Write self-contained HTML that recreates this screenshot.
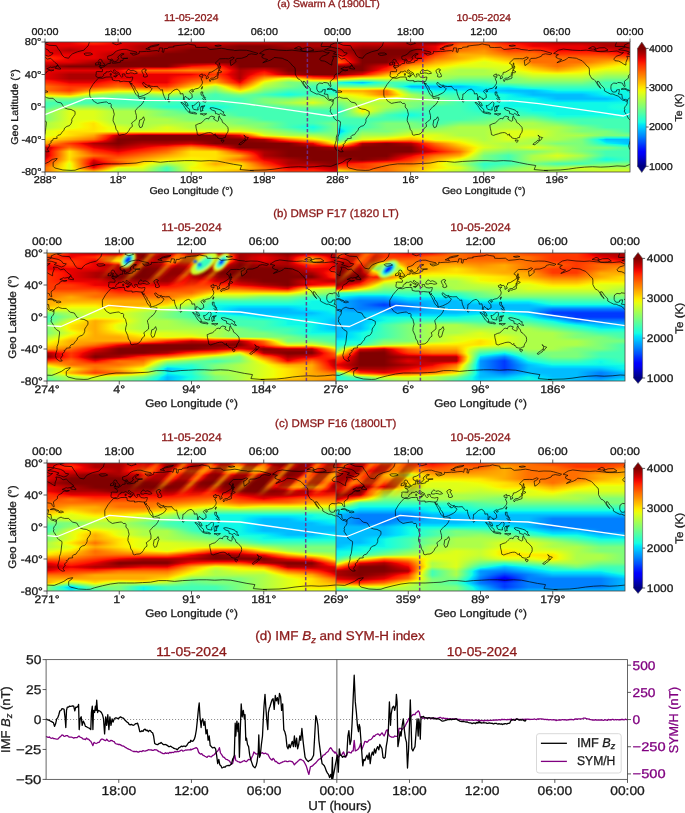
<!DOCTYPE html>
<html><head><meta charset="utf-8"><style>
html,body{margin:0;padding:0;background:#fff}
body{width:685px;height:813px;position:relative;overflow:hidden;font-family:"Liberation Sans",sans-serif}
.hm{position:absolute;overflow:hidden}
.hm i{display:block;height:1px}
svg{position:absolute;left:0;top:0;will-change:transform}
svg text{font-family:"Liberation Sans",sans-serif;text-rendering:geometricPrecision}
</style></head><body>
<div class=hm style="left:45.00px;top:42.00px;width:292.50px;height:130.00px"><i style="background:linear-gradient(90deg,#e80000 0.0px,#e80000 24.4px,#ff1300 33.6px,#ff3000 48.8px,#ff1300 63.9px,#e80000 73.1px,#df0000 97.5px,#ad0000 121.9px,#c40000 146.2px,#df0000 170.6px,#da0000 195.0px,#da0000 219.4px,#ad0000 243.8px,#ad0000 292.5px)"></i><i style="background:linear-gradient(90deg,#e80000 0.0px,#e80000 24.4px,#ff1300 37.3px,#ff2200 48.8px,#ff1300 60.2px,#e80000 73.1px,#d10000 97.5px,#ad0000 121.9px,#bf0000 146.2px,#d10000 170.6px,#bf0000 195.0px,#bf0000 219.4px,#ad0000 243.8px,#ad0000 292.5px)"></i><i style="background:linear-gradient(90deg,#e80000 0.0px,#e80000 24.4px,#ff1300 45.5px,#ff1300 52.0px,#e80000 73.1px,#c40000 97.5px,#ad0000 121.9px,#b60000 146.2px,#c40000 170.6px,#a40000 195.0px,#a40000 219.4px,#ad0000 243.8px,#ad0000 292.5px)"></i><i style="background:linear-gradient(90deg,#e80000 0.0px,#e80000 24.4px,#f10800 48.8px,#e80000 73.1px,#b60000 97.5px,#ad0000 121.9px,#b20000 146.2px,#b60000 170.6px,#8d0000 195.0px,#8d0000 219.4px,#ad0000 243.8px,#ad0000 292.5px)"></i><i style="background:linear-gradient(90deg,#e80000 0.0px,#df0000 24.4px,#e80000 48.8px,#e80000 73.1px,#ad0000 97.5px,#ad0000 121.9px,#a80000 146.2px,#a80000 170.6px,#800000 195.0px,#800000 219.4px,#a80000 243.8px,#a80000 292.5px)"></i><i style="background:linear-gradient(90deg,#e80000 0.0px,#d10000 24.4px,#e80000 48.8px,#e80000 73.1px,#ad0000 97.5px,#ad0000 121.9px,#9b0000 146.2px,#9b0000 170.6px,#800000 195.0px,#800000 219.4px,#9b0000 243.8px,#9b0000 292.5px)"></i><i style="background:linear-gradient(90deg,#e80000 0.0px,#c40000 24.4px,#e80000 48.8px,#e80000 73.1px,#ad0000 97.5px,#ad0000 121.9px,#920000 146.2px,#920000 170.6px,#800000 195.0px,#800000 219.4px,#920000 243.8px,#920000 292.5px)"></i><i style="background:linear-gradient(90deg,#e80000 0.0px,#b60000 24.4px,#e80000 48.8px,#e80000 73.1px,#ad0000 97.5px,#ad0000 121.9px,#840000 146.2px,#840000 170.6px,#800000 195.0px,#800000 219.4px,#840000 243.8px,#840000 292.5px)"></i><i style="background:linear-gradient(90deg,#e80000 0.0px,#b20000 24.4px,#e80000 48.8px,#df0000 73.1px,#ad0000 97.5px,#a80000 121.9px,#800000 146.2px,#800000 292.5px)"></i><i style="background:linear-gradient(90deg,#e80000 0.0px,#bf0000 24.4px,#e80000 48.7px,#e80000 48.8px,#d10000 73.1px,#ad0000 97.5px,#9b0000 121.9px,#800000 146.2px,#800000 292.5px)"></i><i style="background:linear-gradient(90deg,#e80000 0.0px,#cd0000 24.4px,#e80000 48.8px,#c40000 73.1px,#ad0000 97.5px,#920000 121.9px,#800000 146.2px,#800000 292.5px)"></i><i style="background:linear-gradient(90deg,#e80000 0.0px,#da0000 24.4px,#e80000 48.7px,#e80000 48.8px,#b60000 73.1px,#ad0000 97.5px,#840000 121.9px,#800000 146.2px,#800000 292.5px)"></i><i style="background:linear-gradient(90deg,#ed0400 0.0px,#e80000 24.4px,#e80000 48.8px,#ad0000 73.1px,#a80000 97.5px,#800000 121.9px,#800000 292.5px)"></i><i style="background:linear-gradient(90deg,#ff1300 0.0px,#e80000 24.4px,#e80000 48.8px,#ad0000 73.1px,#9b0000 97.5px,#800000 121.9px,#800000 292.5px)"></i><i style="background:linear-gradient(90deg,#ff1e00 0.0px,#ff1300 10.1px,#e80000 24.4px,#e80000 48.8px,#ad0000 73.1px,#920000 97.5px,#800000 121.9px,#800000 292.5px)"></i><i style="background:linear-gradient(90deg,#ff2d00 0.0px,#ff1300 14.4px,#e80000 24.4px,#e80000 48.8px,#ad0000 73.1px,#840000 97.5px,#800000 121.9px,#800000 292.5px)"></i><i style="background:linear-gradient(90deg,#ff3400 0.0px,#ff1300 15.7px,#e80000 24.4px,#e40000 48.8px,#a80000 73.1px,#800000 97.5px,#800000 292.5px)"></i><i style="background:linear-gradient(90deg,#ff2500 0.0px,#ff1300 12.6px,#e80000 24.4px,#d60000 48.8px,#9f0000 73.1px,#800000 97.5px,#800000 292.5px)"></i><i style="background:linear-gradient(90deg,#ff1600 0.0px,#ff1300 6.2px,#e80000 24.4px,#c40000 48.8px,#920000 73.1px,#800000 97.5px,#800000 292.5px)"></i><i style="background:linear-gradient(90deg,#f60b00 0.0px,#e80000 24.4px,#b60000 48.8px,#890000 73.1px,#800000 97.5px,#800000 292.5px)"></i><i style="background:linear-gradient(90deg,#e40000 0.0px,#df0000 24.4px,#a80000 48.8px,#800000 73.1px,#800000 121.9px,#840000 146.2px,#840000 170.6px,#800000 195.0px,#800000 292.5px)"></i><i style="background:linear-gradient(90deg,#d60000 0.0px,#c80000 24.4px,#9f0000 48.8px,#800000 73.1px,#800000 121.9px,#9f0000 146.2px,#b20000 170.6px,#800000 195.0px,#800000 292.5px)"></i><i style="background:linear-gradient(90deg,#c80000 0.0px,#ad0000 24.4px,#920000 48.8px,#800000 73.1px,#800000 121.9px,#bf0000 146.2px,#da0000 170.6px,#800000 195.0px,#800000 292.5px)"></i><i style="background:linear-gradient(90deg,#b60000 0.0px,#920000 24.4px,#890000 48.8px,#800000 73.1px,#800000 121.9px,#df0000 146.2px,#e80000 151.5px,#ff1300 165.3px,#ff1a00 170.6px,#ff1300 172.2px,#e80000 176.4px,#800000 195.0px,#800000 292.5px)"></i><i style="background:linear-gradient(90deg,#ad0000 0.0px,#800000 24.4px,#800000 73.1px,#840000 97.5px,#840000 121.9px,#e80000 141.7px,#fa0f00 146.2px,#ff1300 146.7px,#ff3800 170.6px,#ff1300 177.4px,#e80000 180.6px,#800000 195.0px,#800000 292.5px)"></i><i style="background:linear-gradient(90deg,#bb0000 0.0px,#9b0000 24.4px,#9b0000 73.1px,#bf0000 97.5px,#bf0000 121.9px,#e80000 131.1px,#ff1300 136.9px,#ff3000 146.2px,#ff4700 170.6px,#ff1300 179.5px,#e80000 182.6px,#890000 195.0px,#9b0000 219.4px,#800000 243.8px,#800000 292.5px)"></i><i style="background:linear-gradient(90deg,#c80000 0.0px,#b60000 24.4px,#b60000 73.1px,#e80000 89.8px,#ff1300 97.5px,#ff1300 121.9px,#ff4e00 146.2px,#ff5500 170.6px,#ff1300 181.5px,#e80000 184.5px,#960000 195.0px,#b60000 219.4px,#800000 243.8px,#800000 292.5px)"></i><i style="background:linear-gradient(90deg,#da0000 0.0px,#cd0000 24.4px,#cd0000 73.1px,#e80000 78.6px,#ff1300 83.9px,#ff4300 97.5px,#ff4300 121.9px,#ff6f00 146.2px,#ff6400 170.6px,#ff1300 183.3px,#e80000 186.3px,#9f0000 195.0px,#cd0000 219.4px,#800000 243.8px,#800000 292.5px)"></i><i style="background:linear-gradient(90deg,#e80000 0.0px,#e40000 24.4px,#e40000 48.8px,#e80000 73.1px,#ff1300 77.3px,#ff6f00 97.5px,#ff6f00 121.9px,#ff8900 146.2px,#ff6f00 170.6px,#ff1300 184.9px,#e80000 187.8px,#ad0000 195.0px,#e80000 218.9px,#e80000 219.6px,#800000 243.8px,#800000 292.5px)"></i><i style="background:linear-gradient(90deg,#e80000 0.0px,#d60000 24.4px,#d60000 48.8px,#e80000 73.1px,#ff1300 78.6px,#ff5200 97.5px,#ff5200 121.9px,#ff6800 146.2px,#ff6000 170.6px,#ff1300 183.9px,#e80000 187.1px,#ad0000 195.0px,#e80000 213.6px,#fa0f00 219.4px,#e80000 223.4px,#890000 243.8px,#800000 268.1px,#800000 292.5px)"></i><i style="background:linear-gradient(90deg,#e80000 0.0px,#c80000 24.4px,#c80000 48.8px,#e80000 73.1px,#ff1300 81.4px,#ff3800 97.5px,#ff3800 121.9px,#ff4700 146.2px,#ff5200 170.6px,#ff1300 182.8px,#e80000 186.3px,#ad0000 195.0px,#e80000 210.1px,#ff1300 216.2px,#ff1a00 219.4px,#ff1300 221.9px,#e80000 226.8px,#960000 243.8px,#800000 268.1px,#800000 292.5px)"></i><i style="background:linear-gradient(90deg,#e80000 0.0px,#bb0000 24.4px,#bb0000 48.8px,#e80000 73.1px,#ff1300 89.6px,#ff1a00 97.5px,#ff1a00 121.9px,#ff2500 146.2px,#ff4700 170.6px,#ff1300 181.3px,#e80000 185.2px,#ad0000 195.0px,#e80000 207.8px,#ff1300 212.9px,#ff2900 219.4px,#ff1300 225.2px,#e80000 229.9px,#9f0000 243.8px,#800000 268.1px,#800000 292.5px)"></i><i style="background:linear-gradient(90deg,#e80000 0.0px,#ad0000 24.4px,#ad0000 48.8px,#e80000 73.1px,#e80000 121.9px,#ed0400 146.2px,#ff1300 152.9px,#ff3800 170.6px,#ff1300 179.5px,#e80000 183.9px,#ad0000 195.0px,#e80000 206.1px,#ff1300 210.5px,#ff3800 219.4px,#ff1300 228.2px,#e80000 232.7px,#ad0000 243.8px,#800000 268.1px,#800000 292.5px)"></i><i style="background:linear-gradient(90deg,#e80000 0.0px,#ad0000 24.4px,#ad0000 48.8px,#e80000 73.1px,#e80000 121.9px,#fa0f00 146.2px,#ff1300 146.9px,#ff4700 170.6px,#ff1300 181.3px,#e80000 185.2px,#ad0000 195.0px,#e80000 203.7px,#ff1300 207.2px,#ff5200 219.4px,#ff1e00 243.8px,#ff1300 248.4px,#e80000 255.2px,#bb0000 268.1px,#a80000 292.5px)"></i><i style="background:linear-gradient(90deg,#e80000 0.0px,#ad0000 24.4px,#ad0000 48.8px,#e80000 73.1px,#e80000 121.9px,#ff1300 137.1px,#ff1e00 146.2px,#ff5200 170.6px,#ff1300 182.8px,#e80000 186.3px,#ad0000 195.0px,#e80000 202.2px,#ff1300 205.1px,#ff6f00 219.4px,#ff6f00 243.8px,#ff1300 266.6px,#f60b00 268.1px,#e80000 279.2px,#d10000 292.5px)"></i><i style="background:linear-gradient(90deg,#e80000 0.0px,#ad0000 24.4px,#ad0000 48.8px,#e80000 73.1px,#e80000 121.9px,#ff1300 132.6px,#ff2900 146.2px,#ff6000 170.6px,#ff1300 183.9px,#e80000 187.1px,#ad0000 195.0px,#e80000 201.1px,#ff1300 203.6px,#ff8d00 219.4px,#ffbd00 243.8px,#ff3b00 268.1px,#ff1300 292.5px)"></i><i style="background:linear-gradient(90deg,#e80000 0.0px,#ad0000 24.4px,#ad0000 48.8px,#e80000 73.1px,#e80000 121.9px,#ff1300 130.1px,#ff3800 146.2px,#ff6f00 170.6px,#ff1300 184.9px,#e80000 187.8px,#ad0000 195.0px,#e80000 200.3px,#ff1300 202.5px,#ffa700 219.4px,#feed00 235.8px,#f8f500 238.1px,#eeff09 240.4px,#e4ff13 243.8px,#eeff09 245.9px,#f8f500 247.3px,#feed00 248.8px,#ff6c00 268.1px,#ff3400 292.5px)"></i><i style="background:linear-gradient(90deg,#f60b00 0.0px,#e80000 6.5px,#bb0000 24.4px,#bb0000 48.8px,#e80000 66.7px,#f60b00 73.1px,#e80000 97.5px,#e80000 121.9px,#ff1300 128.5px,#ff4300 146.2px,#ff7e00 170.6px,#ff1300 186.7px,#e80000 189.6px,#bb0000 195.0px,#e80000 198.8px,#ff1300 200.8px,#ffc100 219.4px,#feed00 229.1px,#f8f500 231.2px,#eeff09 233.4px,#c7ff30 243.8px,#eeff09 252.6px,#f8f500 254.5px,#feed00 256.4px,#ffae00 268.1px,#ff8600 292.5px)"></i><i style="background:linear-gradient(90deg,#ff1a00 0.0px,#ff1300 3.8px,#e80000 12.7px,#c80000 24.4px,#c80000 48.8px,#e80000 60.4px,#ff1300 69.3px,#ff1a00 73.1px,#ff1300 80.5px,#e80000 97.5px,#e80000 121.9px,#ff1300 127.4px,#ff5200 146.2px,#ff8d00 170.6px,#ff1300 188.6px,#e80000 191.4px,#c80000 195.0px,#e80000 197.5px,#ff1300 199.4px,#ffdb00 219.4px,#feed00 223.1px,#f8f500 225.2px,#eeff09 227.3px,#b1ff46 243.8px,#eeff09 264.9px,#f8f500 267.7px,#f8f500 268.1px,#feed00 274.6px,#ffd700 292.5px)"></i><i style="background:linear-gradient(90deg,#ff2900 0.0px,#ff1300 10.0px,#e80000 18.5px,#d60000 24.4px,#d60000 48.8px,#e80000 54.6px,#ff1300 63.2px,#ff2900 73.1px,#ff1300 86.3px,#e80000 97.5px,#e80000 121.9px,#ff1300 126.6px,#ff6000 146.2px,#ff9800 170.6px,#ff1300 190.3px,#e80000 193.1px,#d60000 195.0px,#e80000 196.2px,#ff1300 198.0px,#feed00 218.5px,#f8f500 219.4px,#f8f500 219.5px,#eeff09 221.6px,#97ff60 243.8px,#beff39 268.1px,#caff2c 292.5px)"></i><i style="background:linear-gradient(90deg,#ff3400 0.0px,#ff1300 15.6px,#e80000 23.7px,#e40000 24.4px,#e40000 48.8px,#e80000 49.4px,#ff1300 57.5px,#ff3400 73.1px,#ff1300 89.1px,#e80000 97.5px,#e80000 121.9px,#ff1300 126.0px,#ff6f00 146.2px,#ffa700 170.6px,#ff1300 192.1px,#e80000 194.8px,#e40000 195.0px,#e80000 195.1px,#ff1300 196.8px,#feed00 216.3px,#f8f500 217.1px,#eeff09 218.0px,#e1ff16 219.4px,#7dff7a 243.8px,#83ff73 268.1px,#83ff73 292.5px)"></i><i style="background:linear-gradient(90deg,#ff4300 0.0px,#ff1300 21.5px,#f60b00 24.4px,#f60b00 48.8px,#ff1300 51.6px,#ff4300 73.1px,#ff1300 94.6px,#f60b00 97.5px,#f60b00 121.9px,#ff1300 123.3px,#ff8200 146.2px,#ffcc00 170.6px,#ff1600 195.0px,#feed00 214.7px,#f8f500 215.6px,#eeff09 216.5px,#d4ff23 219.4px,#7dff7a 243.8px,#70ff87 268.1px,#70ff87 292.5px)"></i><i style="background:linear-gradient(90deg,#ff5200 0.0px,#ff1a00 24.4px,#ff1a00 48.8px,#ff5200 73.1px,#ff1a00 97.5px,#ff1a00 121.9px,#ff9400 146.2px,#feed00 168.5px,#f8f500 170.6px,#feed00 171.6px,#ff3400 195.0px,#feed00 213.1px,#f8f500 214.0px,#eeff09 214.9px,#c7ff30 219.4px,#7dff7a 243.8px,#60ff97 268.1px,#60ff97 292.5px)"></i><i style="background:linear-gradient(90deg,#ff6000 0.0px,#ff2500 24.4px,#ff2500 48.8px,#ff6000 73.1px,#ff2500 97.5px,#ff2500 121.9px,#ffab00 146.2px,#feed00 160.4px,#f8f500 162.4px,#eeff09 164.5px,#d7ff1f 170.6px,#eeff09 174.1px,#f8f500 175.2px,#feed00 176.3px,#ff4e00 195.0px,#feed00 211.3px,#f8f500 212.2px,#eeff09 213.2px,#baff3c 219.4px,#7dff7a 243.8px,#53ffa4 268.1px,#53ffa4 292.5px)"></i><i style="background:linear-gradient(90deg,#ff6f00 0.0px,#ff3400 24.4px,#ff3400 48.8px,#ff6f00 73.1px,#ff3400 97.5px,#ff3400 121.9px,#ffbd00 146.2px,#feed00 154.7px,#f8f500 156.4px,#eeff09 158.2px,#b4ff43 170.6px,#eeff09 178.3px,#f8f500 179.4px,#feed00 180.5px,#ff6c00 195.0px,#feed00 209.2px,#f8f500 210.2px,#eeff09 211.3px,#b1ff46 219.4px,#7dff7a 243.8px,#43ffb4 268.1px,#43ffb4 292.5px)"></i><i style="background:linear-gradient(90deg,#ff6f00 0.0px,#ff3800 24.4px,#ff4e00 48.8px,#ff8600 73.1px,#ff5900 97.5px,#ff4e00 121.9px,#ffd700 146.2px,#feed00 149.9px,#f8f500 151.8px,#eeff09 153.6px,#a4ff53 170.6px,#eeff09 180.9px,#f8f500 182.0px,#feed00 183.1px,#ff8600 195.0px,#feed00 206.9px,#f8f500 208.0px,#eeff09 209.1px,#a4ff53 219.4px,#70ff87 243.8px,#43ffb4 268.1px,#39ffbe 292.5px)"></i><i style="background:linear-gradient(90deg,#ff6f00 0.0px,#ff3800 24.4px,#ff6c00 48.8px,#ffa300 73.1px,#ff8200 97.5px,#ff6c00 121.9px,#feed00 144.5px,#f8f500 146.1px,#f8f500 146.2px,#eeff09 148.2px,#97ff60 170.6px,#eeff09 183.4px,#f8f500 184.6px,#feed00 185.8px,#ffa300 195.0px,#feed00 204.2px,#f8f500 205.4px,#eeff09 206.6px,#97ff60 219.4px,#63ff94 243.8px,#43ffb4 268.1px,#2cffca 292.5px)"></i><i style="background:linear-gradient(90deg,#ff6f00 0.0px,#ff3800 24.4px,#ff8600 48.8px,#ffc100 73.1px,#ffae00 97.5px,#ff8600 121.9px,#feed00 139.4px,#f8f500 141.1px,#eeff09 142.7px,#deff19 146.2px,#8aff6d 170.6px,#eeff09 186.3px,#f8f500 187.6px,#feed00 188.9px,#ffc100 195.0px,#feed00 201.1px,#f8f500 202.4px,#eeff09 203.7px,#8aff6d 219.4px,#53ffa4 243.8px,#43ffb4 268.1px,#1fffd7 292.5px)"></i><i style="background:linear-gradient(90deg,#ff6f00 0.0px,#ff3800 24.4px,#ffa300 48.8px,#ffdb00 73.1px,#ffd700 97.5px,#ffa300 121.9px,#feed00 134.5px,#f8f500 136.1px,#eeff09 137.7px,#c4ff33 146.2px,#7dff7a 170.6px,#eeff09 189.8px,#f8f500 191.2px,#feed00 192.6px,#ffdb00 195.0px,#feed00 197.4px,#f8f500 198.8px,#eeff09 200.2px,#7dff7a 219.4px,#46ffb1 243.8px,#43ffb4 268.1px,#16ffe1 291.9px,#13fce4 292.5px)"></i><i style="background:linear-gradient(90deg,#ff8600 0.0px,#ff4e00 24.4px,#ffc800 48.8px,#feed00 64.4px,#f8f500 68.5px,#eeff09 72.6px,#eeff09 98.1px,#f8f500 102.1px,#feed00 106.2px,#ffc800 121.9px,#feed00 128.9px,#f8f500 130.7px,#eeff09 132.5px,#b1ff46 146.2px,#70ff87 170.6px,#eeff09 195.0px,#70ff87 219.4px,#39ffbe 243.8px,#43ffb4 268.1px,#19ffde 292.5px)"></i><i style="background:linear-gradient(90deg,#ff9f00 0.0px,#ff6800 24.4px,#feed00 48.2px,#feed00 48.8px,#f8f500 51.5px,#eeff09 55.6px,#caff2c 73.1px,#caff2c 97.5px,#eeff09 115.1px,#f8f500 119.1px,#feed00 121.9px,#f8f500 123.3px,#eeff09 125.5px,#a0ff56 146.2px,#63ff94 170.6px,#caff2c 195.0px,#63ff94 219.4px,#2cffca 243.8px,#43ffb4 268.1px,#26ffd1 292.5px)"></i><i style="background:linear-gradient(90deg,#ffbd00 0.0px,#ff8600 24.4px,#feed00 41.6px,#f8f500 43.2px,#eeff09 44.8px,#dbff1c 48.8px,#aaff4d 73.1px,#aaff4d 97.5px,#dbff1c 121.9px,#8dff6a 146.2px,#53ffa4 170.6px,#aaff4d 195.0px,#53ffa4 219.4px,#1fffd7 243.8px,#43ffb4 268.1px,#33ffc4 292.5px)"></i><i style="background:linear-gradient(90deg,#ffdb00 0.0px,#ff9f00 24.4px,#feed00 36.0px,#f8f500 37.5px,#eeff09 38.9px,#b7ff40 48.8px,#87ff70 73.1px,#87ff70 97.5px,#b7ff40 121.9px,#7dff7a 146.2px,#46ffb1 170.6px,#87ff70 195.0px,#46ffb1 219.4px,#16ffe1 243.6px,#13fce4 243.8px,#16ffe1 243.9px,#43ffb4 268.1px,#3cffba 292.5px)"></i><i style="background:linear-gradient(90deg,#f1fc06 0.0px,#f8f500 4.3px,#feed00 9.2px,#ffd000 24.4px,#feed00 29.3px,#f8f500 30.9px,#eeff09 32.5px,#9aff5d 48.8px,#70ff87 73.1px,#70ff87 97.5px,#9aff5d 121.9px,#6dff8a 146.2px,#43ffb4 170.6px,#70ff87 195.0px,#4dffaa 219.4px,#23ffd4 243.8px,#53ffa4 268.1px,#4dffaa 292.5px)"></i><i style="background:linear-gradient(90deg,#ceff29 0.0px,#ebff0c 24.4px,#80ff77 48.8px,#63ff94 73.1px,#63ff94 97.5px,#80ff77 121.9px,#60ff97 146.2px,#43ffb4 170.6px,#63ff94 195.0px,#5aff9d 219.4px,#3cffba 243.8px,#6dff8a 268.1px,#5aff9d 292.5px)"></i><i style="background:linear-gradient(90deg,#aaff4d 0.0px,#baff3c 24.4px,#66ff90 48.8px,#56ffa0 73.1px,#56ffa0 97.5px,#66ff90 121.9px,#53ffa4 146.2px,#43ffb4 170.6px,#56ffa0 195.0px,#66ff90 219.4px,#56ffa0 243.8px,#8aff6d 268.1px,#66ff90 292.5px)"></i><i style="background:linear-gradient(90deg,#8aff6d 0.0px,#8dff6a 24.4px,#4dffaa 48.8px,#46ffb1 73.1px,#46ffb1 97.5px,#4dffaa 121.9px,#46ffb1 146.2px,#43ffb4 170.6px,#46ffb1 195.0px,#77ff80 219.4px,#70ff87 243.8px,#a4ff53 268.1px,#77ff80 292.5px)"></i><i style="background:linear-gradient(90deg,#73ff83 0.0px,#73ff83 24.4px,#43ffb4 48.8px,#43ffb4 121.9px,#3cffba 146.2px,#43ffb4 170.6px,#43ffb4 195.0px,#7dff7a 219.4px,#83ff73 243.8px,#b4ff43 268.1px,#7dff7a 292.5px)"></i><i style="background:linear-gradient(90deg,#63ff94 0.0px,#63ff94 24.4px,#43ffb4 48.8px,#43ffb4 121.9px,#39ffbe 146.2px,#43ffb4 170.6px,#43ffb4 195.0px,#7dff7a 219.4px,#90ff66 243.8px,#c1ff36 268.1px,#7dff7a 292.5px)"></i><i style="background:linear-gradient(90deg,#56ffa0 0.0px,#56ffa0 24.4px,#43ffb4 48.8px,#43ffb4 121.9px,#33ffc4 146.2px,#43ffb4 170.6px,#43ffb4 195.0px,#7dff7a 219.4px,#9aff5d 243.8px,#ceff29 268.1px,#7dff7a 292.5px)"></i><i style="background:linear-gradient(90deg,#49ffad 0.0px,#49ffad 24.4px,#43ffb4 48.8px,#43ffb4 121.9px,#2cffca 146.2px,#43ffb4 170.6px,#43ffb4 195.0px,#7dff7a 219.4px,#a7ff50 243.8px,#dbff1c 268.1px,#7dff7a 292.5px)"></i><i style="background:linear-gradient(90deg,#43ffb4 0.0px,#4dffaa 24.4px,#4dffaa 48.8px,#46ffb1 73.1px,#46ffb1 97.5px,#40ffb7 121.9px,#29ffce 146.2px,#39ffbe 170.6px,#43ffb4 195.0px,#73ff83 219.4px,#a0ff56 243.8px,#d1ff26 268.1px,#7dff7a 292.5px)"></i><i style="background:linear-gradient(90deg,#43ffb4 0.0px,#60ff97 24.4px,#60ff97 48.8px,#4dffaa 73.1px,#4dffaa 97.5px,#39ffbe 121.9px,#29ffce 146.2px,#30ffc7 170.6px,#43ffb4 195.0px,#66ff90 219.4px,#90ff66 243.8px,#b7ff40 268.1px,#7dff7a 292.5px)"></i><i style="background:linear-gradient(90deg,#43ffb4 0.0px,#77ff80 24.4px,#77ff80 48.8px,#53ffa4 73.1px,#53ffa4 97.5px,#33ffc4 121.9px,#29ffce 146.2px,#23ffd4 170.6px,#43ffb4 195.0px,#56ffa0 219.4px,#7dff7a 243.8px,#a0ff56 268.1px,#7dff7a 292.5px)"></i><i style="background:linear-gradient(90deg,#43ffb4 0.0px,#8aff6d 24.4px,#8aff6d 48.8px,#5aff9d 73.1px,#5aff9d 97.5px,#2cffca 121.9px,#29ffce 146.2px,#16ffe1 170.6px,#43ffb4 195.0px,#49ffad 219.4px,#6aff8d 243.8px,#87ff70 268.1px,#7dff7a 292.5px)"></i><i style="background:linear-gradient(90deg,#49ffad 0.0px,#9dff5a 24.4px,#9dff5a 48.8px,#6aff8d 73.1px,#6aff8d 97.5px,#33ffc4 121.9px,#2cffca 146.2px,#16ffe1 170.6px,#43ffb4 195.0px,#43ffb4 219.4px,#5aff9d 243.8px,#73ff83 268.1px,#73ff83 292.5px)"></i><i style="background:linear-gradient(90deg,#56ffa0 0.0px,#b1ff46 24.4px,#b1ff46 48.8px,#7dff7a 73.1px,#7dff7a 97.5px,#46ffb1 121.9px,#33ffc4 146.2px,#23ffd4 170.6px,#43ffb4 195.0px,#43ffb4 219.4px,#53ffa4 243.8px,#66ff90 268.1px,#66ff90 292.5px)"></i><i style="background:linear-gradient(90deg,#66ff90 0.0px,#c1ff36 24.4px,#c1ff36 48.8px,#90ff66 73.1px,#90ff66 97.5px,#5dff9a 121.9px,#39ffbe 146.2px,#30ffc7 170.6px,#43ffb4 195.0px,#43ffb4 219.4px,#4dffaa 243.8px,#56ffa0 268.1px,#56ffa0 292.5px)"></i><i style="background:linear-gradient(90deg,#73ff83 0.0px,#d4ff23 24.4px,#d4ff23 48.8px,#a0ff56 73.1px,#a0ff56 97.5px,#70ff87 121.9px,#40ffb7 146.2px,#39ffbe 170.6px,#43ffb4 195.0px,#43ffb4 219.4px,#46ffb1 243.8px,#49ffad 268.1px,#49ffad 292.5px)"></i><i style="background:linear-gradient(90deg,#7dff7a 0.0px,#deff19 24.4px,#deff19 48.8px,#adff49 73.1px,#adff49 97.5px,#7dff7a 121.9px,#49ffad 146.2px,#49ffad 170.6px,#43ffb4 195.0px,#43ffb4 292.5px)"></i><i style="background:linear-gradient(90deg,#7dff7a 0.0px,#deff19 24.4px,#deff19 48.8px,#adff49 73.1px,#adff49 97.5px,#7dff7a 121.9px,#56ffa0 146.2px,#56ffa0 170.6px,#43ffb4 195.0px,#43ffb4 292.5px)"></i><i style="background:linear-gradient(90deg,#7dff7a 0.0px,#deff19 24.4px,#deff19 48.8px,#adff49 73.1px,#adff49 97.5px,#7dff7a 121.9px,#63ff94 146.2px,#63ff94 170.6px,#43ffb4 195.0px,#43ffb4 292.5px)"></i><i style="background:linear-gradient(90deg,#7dff7a 0.0px,#deff19 24.4px,#deff19 48.8px,#adff49 73.1px,#adff49 97.5px,#7dff7a 121.9px,#73ff83 146.2px,#73ff83 170.6px,#43ffb4 195.0px,#43ffb4 292.5px)"></i><i style="background:linear-gradient(90deg,#7dff7a 0.0px,#deff19 24.4px,#deff19 48.8px,#adff49 73.1px,#adff49 97.5px,#80ff77 121.9px,#7dff7a 146.2px,#7dff7a 170.6px,#46ffb1 195.0px,#43ffb4 219.4px,#43ffb4 292.5px)"></i><i style="background:linear-gradient(90deg,#7dff7a 0.0px,#deff19 24.4px,#deff19 48.8px,#adff49 73.1px,#adff49 97.5px,#8dff6a 121.9px,#7dff7a 146.2px,#7dff7a 170.6px,#56ffa0 195.0px,#43ffb4 219.4px,#43ffb4 292.5px)"></i><i style="background:linear-gradient(90deg,#7dff7a 0.0px,#deff19 24.4px,#deff19 48.8px,#adff49 73.1px,#adff49 97.5px,#97ff60 121.9px,#7dff7a 146.2px,#7dff7a 170.6px,#63ff94 195.0px,#43ffb4 219.4px,#43ffb4 292.5px)"></i><i style="background:linear-gradient(90deg,#7dff7a 0.0px,#deff19 24.4px,#deff19 48.8px,#adff49 73.1px,#adff49 97.5px,#a4ff53 121.9px,#7dff7a 146.2px,#7dff7a 170.6px,#70ff87 195.0px,#43ffb4 219.4px,#43ffb4 292.5px)"></i><i style="background:linear-gradient(90deg,#80ff77 0.0px,#deff19 24.4px,#e1ff16 48.8px,#adff49 73.1px,#adff49 121.9px,#80ff77 146.2px,#80ff77 170.6px,#7dff7a 195.0px,#46ffb1 219.4px,#43ffb4 243.8px,#43ffb4 268.1px,#46ffb1 292.5px)"></i><i style="background:linear-gradient(90deg,#8aff6d 0.0px,#deff19 24.4px,#ebff0c 48.8px,#adff49 73.1px,#adff49 121.9px,#8aff6d 146.2px,#8aff6d 170.6px,#7dff7a 195.0px,#53ffa4 219.4px,#43ffb4 243.8px,#43ffb4 268.1px,#53ffa4 292.5px)"></i><i style="background:linear-gradient(90deg,#97ff60 0.0px,#deff19 24.4px,#eeff09 41.5px,#f8f500 48.8px,#eeff09 51.1px,#adff49 73.1px,#adff49 121.9px,#97ff60 146.2px,#97ff60 170.6px,#7dff7a 195.0px,#63ff94 219.4px,#43ffb4 243.8px,#43ffb4 268.1px,#63ff94 292.5px)"></i><i style="background:linear-gradient(90deg,#a4ff53 0.0px,#deff19 24.4px,#eeff09 36.3px,#f8f500 42.3px,#feed00 48.3px,#ffea00 48.8px,#feed00 48.9px,#f8f500 51.4px,#eeff09 53.8px,#adff49 73.1px,#adff49 121.9px,#a4ff53 146.2px,#a4ff53 170.6px,#7dff7a 195.0px,#70ff87 219.4px,#43ffb4 243.8px,#43ffb4 268.1px,#70ff87 292.5px)"></i><i style="background:linear-gradient(90deg,#adff49 0.0px,#deff19 24.4px,#eeff09 34.1px,#f8f500 39.0px,#feed00 43.9px,#ffe200 48.8px,#feed00 51.0px,#f8f500 53.3px,#eeff09 55.6px,#b1ff46 73.1px,#adff49 97.5px,#b1ff46 121.9px,#adff49 146.2px,#adff49 170.6px,#7dff7a 195.0px,#7dff7a 219.4px,#43ffb4 243.8px,#40ffb7 268.1px,#7dff7a 292.5px)"></i><i style="background:linear-gradient(90deg,#adff49 0.0px,#deff19 24.4px,#eeff09 34.1px,#f8f500 39.0px,#feed00 43.9px,#ffe200 48.8px,#feed00 51.4px,#f8f500 54.1px,#eeff09 56.7px,#beff39 73.1px,#adff49 97.5px,#beff39 121.9px,#adff49 146.2px,#adff49 170.6px,#8aff6d 195.0px,#7dff7a 219.4px,#43ffb4 243.8px,#33ffc4 268.1px,#7dff7a 292.5px)"></i><i style="background:linear-gradient(90deg,#adff49 0.0px,#deff19 24.4px,#eeff09 34.1px,#f8f500 39.0px,#feed00 43.9px,#ffe200 48.8px,#feed00 51.9px,#f8f500 55.1px,#eeff09 58.3px,#c7ff30 73.1px,#adff49 97.5px,#c7ff30 121.9px,#adff49 146.2px,#adff49 170.6px,#97ff60 195.0px,#7dff7a 219.4px,#43ffb4 243.8px,#26ffd1 268.1px,#7dff7a 292.5px)"></i><i style="background:linear-gradient(90deg,#adff49 0.0px,#deff19 24.4px,#eeff09 34.1px,#f8f500 39.0px,#feed00 43.9px,#ffe200 48.8px,#feed00 52.7px,#f8f500 56.6px,#eeff09 60.5px,#d4ff23 73.1px,#adff49 97.5px,#d4ff23 121.9px,#adff49 146.2px,#adff49 170.6px,#a4ff53 195.0px,#7dff7a 219.4px,#43ffb4 243.8px,#19ffde 268.1px,#7dff7a 292.5px)"></i><i style="background:linear-gradient(90deg,#b1ff46 0.0px,#e1ff16 24.4px,#eeff09 33.4px,#f8f500 38.5px,#feed00 43.6px,#ffe200 48.8px,#feed00 53.6px,#f8f500 58.5px,#eeff09 63.4px,#deff19 73.1px,#b1ff46 97.5px,#deff19 121.9px,#b1ff46 146.2px,#b1ff46 195.0px,#7dff7a 219.4px,#43ffb4 243.8px,#16ffe1 267.2px,#13fce4 268.1px,#16ffe1 268.6px,#7dff7a 292.5px)"></i><i style="background:linear-gradient(90deg,#baff3c 0.0px,#ebff0c 24.4px,#eeff09 28.1px,#f8f500 35.0px,#feed00 41.9px,#ffe200 48.8px,#feed00 53.6px,#f8f500 58.5px,#eeff09 63.4px,#deff19 73.1px,#baff3c 97.5px,#deff19 121.9px,#baff3c 146.2px,#baff3c 195.0px,#8aff6d 219.4px,#53ffa4 243.8px,#1fffd7 268.1px,#7dff7a 292.5px)"></i><i style="background:linear-gradient(90deg,#c7ff30 0.0px,#eeff09 21.3px,#f4f802 24.4px,#f8f500 27.6px,#feed00 38.2px,#ffe200 48.8px,#feed00 53.6px,#f8f500 58.5px,#eeff09 63.4px,#deff19 73.1px,#c7ff30 97.5px,#deff19 121.9px,#c7ff30 146.2px,#c7ff30 195.0px,#97ff60 219.4px,#60ff97 243.8px,#29ffce 268.1px,#7dff7a 292.5px)"></i><i style="background:linear-gradient(90deg,#d4ff23 0.0px,#eeff09 15.4px,#f8f500 20.1px,#feed00 24.4px,#feed00 26.1px,#ffe200 48.8px,#feed00 53.6px,#f8f500 58.5px,#eeff09 63.4px,#deff19 73.1px,#d4ff23 97.5px,#deff19 121.9px,#d4ff23 146.2px,#d4ff23 195.0px,#a4ff53 219.4px,#70ff87 243.8px,#36ffc1 268.1px,#7dff7a 292.5px)"></i><i style="background:linear-gradient(90deg,#deff19 0.0px,#eeff09 9.8px,#f8f500 14.6px,#feed00 19.5px,#ffe200 24.4px,#ffe200 48.8px,#feed00 55.7px,#f8f500 61.6px,#eeff09 67.5px,#e7ff0f 73.1px,#e7ff0f 195.0px,#adff49 219.4px,#7dff7a 243.8px,#46ffb1 268.1px,#7dff7a 292.5px)"></i><i style="background:linear-gradient(90deg,#deff19 0.0px,#eeff09 9.8px,#f8f500 14.6px,#feed00 19.5px,#ffe200 24.4px,#ffd300 48.8px,#ffb900 73.1px,#ffae00 97.5px,#ffae00 170.6px,#ffc400 195.0px,#feed00 202.9px,#f8f500 204.9px,#eeff09 206.9px,#baff3c 219.4px,#8aff6d 243.8px,#60ff97 268.1px,#7dff7a 292.5px)"></i><i style="background:linear-gradient(90deg,#deff19 0.0px,#eeff09 9.8px,#f8f500 14.6px,#feed00 19.5px,#ffe200 24.4px,#ffc400 48.8px,#ff6800 73.1px,#ff5500 97.5px,#ff5500 170.6px,#ff8200 195.0px,#feed00 210.1px,#f8f500 211.5px,#eeff09 212.8px,#c7ff30 219.4px,#97ff60 243.8px,#7aff7d 268.1px,#7dff7a 292.5px)"></i><i style="background:linear-gradient(90deg,#deff19 0.0px,#eeff09 9.8px,#f8f500 14.6px,#feed00 19.5px,#ffe200 24.4px,#ffb600 48.8px,#ff1a00 73.1px,#ff1300 79.8px,#e80000 95.7px,#e40000 97.5px,#e40000 170.6px,#e80000 171.4px,#ff1300 178.5px,#ff3f00 195.0px,#feed00 213.8px,#f8f500 214.9px,#eeff09 215.9px,#d4ff23 219.4px,#a0ff56 243.8px,#94ff63 268.1px,#7dff7a 292.5px)"></i><i style="background:linear-gradient(90deg,#deff19 0.0px,#eeff09 9.3px,#f8f500 14.2px,#feed00 19.1px,#ffe200 24.4px,#ffa700 48.8px,#ff1300 65.6px,#e80000 67.8px,#ad0000 73.1px,#800000 97.5px,#800000 170.6px,#e40000 195.0px,#e80000 195.1px,#ff1300 196.8px,#feed00 216.4px,#f8f500 217.3px,#eeff09 218.1px,#e4ff13 219.4px,#b1ff46 243.8px,#adff49 268.1px,#7dff7a 292.5px)"></i><i style="background:linear-gradient(90deg,#ebff0c 0.0px,#eeff09 3.2px,#f8f500 7.8px,#feed00 12.5px,#ffd300 24.4px,#ff9c00 48.8px,#ff1300 64.4px,#e80000 66.6px,#9f0000 73.1px,#800000 97.5px,#800000 170.6px,#cd0000 195.0px,#e80000 197.6px,#ff1300 199.7px,#ffbd00 219.4px,#feed00 232.8px,#f8f500 235.6px,#eeff09 238.3px,#deff19 243.8px,#c4ff33 268.1px,#8aff6d 292.5px)"></i><i style="background:linear-gradient(90deg,#f4f802 0.0px,#f8f500 2.0px,#feed00 6.5px,#ffc400 24.4px,#ff8d00 48.8px,#ff1300 63.1px,#e80000 65.3px,#960000 73.1px,#800000 97.5px,#800000 170.6px,#b20000 195.0px,#e80000 201.8px,#ff1300 204.8px,#ff6f00 219.4px,#ffdb00 243.8px,#feed00 250.5px,#f8f500 254.5px,#eeff09 258.5px,#dbff1c 268.1px,#94ff63 292.5px)"></i><i style="background:linear-gradient(90deg,#feed00 0.0px,#feed00 1.0px,#ffb600 24.4px,#ff7e00 48.8px,#ff1300 61.8px,#e80000 64.0px,#890000 73.1px,#800000 97.5px,#800000 170.6px,#960000 195.0px,#e80000 211.3px,#ff1300 216.1px,#ff1e00 219.4px,#ffa700 243.8px,#feed00 263.5px,#f8f500 266.2px,#f1fc06 268.1px,#eeff09 268.9px,#a0ff56 292.5px)"></i><i style="background:linear-gradient(90deg,#ffe200 0.0px,#ffab00 24.4px,#ff6f00 48.8px,#ff1300 60.4px,#e80000 62.7px,#800000 73.1px,#800000 195.0px,#ad0000 219.4px,#e80000 226.5px,#ff1300 229.4px,#ff6f00 243.8px,#ffe200 268.1px,#feed00 270.3px,#f8f500 272.6px,#eeff09 274.8px,#adff49 292.5px)"></i><i style="background:linear-gradient(90deg,#ffd300 0.0px,#ff8d00 24.4px,#ff4a00 48.8px,#ff1300 57.2px,#e80000 60.1px,#800000 73.1px,#890000 97.5px,#890000 121.9px,#920000 146.2px,#800000 170.6px,#800000 195.0px,#9f0000 219.4px,#e80000 230.8px,#ff1300 234.6px,#ff3f00 243.8px,#ffab00 268.1px,#feed00 279.0px,#f8f500 280.6px,#eeff09 282.2px,#baff3c 292.5px)"></i><i style="background:linear-gradient(90deg,#ffc400 0.0px,#ff6f00 24.4px,#ff2200 48.8px,#ff1300 51.9px,#e80000 55.8px,#800000 73.1px,#960000 97.5px,#960000 121.9px,#a40000 146.2px,#800000 170.6px,#800000 195.0px,#960000 219.4px,#e80000 239.1px,#fa0f00 243.8px,#ff1300 244.5px,#ff7300 268.1px,#feed00 283.9px,#f8f500 285.1px,#eeff09 286.3px,#c4ff33 292.5px)"></i><i style="background:linear-gradient(90deg,#ffb900 0.0px,#ff5500 24.4px,#ff1300 42.3px,#e80000 47.4px,#df0000 48.8px,#800000 73.1px,#9f0000 97.5px,#9f0000 121.9px,#b60000 146.2px,#800000 170.6px,#800000 195.0px,#890000 219.4px,#bf0000 243.8px,#e80000 252.5px,#ff1300 257.5px,#ff3b00 268.1px,#feed00 286.9px,#f8f500 287.9px,#eeff09 288.9px,#d1ff26 292.5px)"></i><i style="background:linear-gradient(90deg,#ffab00 0.0px,#ff3800 24.4px,#ff1300 33.7px,#e80000 38.2px,#ad0000 48.8px,#800000 73.1px,#ad0000 97.5px,#ad0000 121.9px,#c80000 146.2px,#800000 170.6px,#800000 243.8px,#e80000 267.1px,#e80000 268.1px,#ff1300 269.5px,#feed00 289.0px,#f8f500 289.9px,#eeff09 290.7px,#deff19 292.5px)"></i><i style="background:linear-gradient(90deg,#ff7700 0.0px,#ff4300 24.4px,#ff1300 36.1px,#e80000 40.4px,#bb0000 48.8px,#890000 73.1px,#bb0000 97.5px,#c80000 121.9px,#e80000 136.9px,#f60b00 146.2px,#e80000 151.5px,#a40000 170.6px,#800000 195.0px,#800000 243.8px,#cd0000 268.1px,#e80000 270.3px,#ff1300 272.4px,#ffc800 292.5px)"></i><i style="background:linear-gradient(90deg,#ff4300 0.0px,#ff5200 24.4px,#ff1300 38.9px,#e80000 43.2px,#c80000 48.8px,#920000 73.1px,#c80000 97.5px,#e80000 119.8px,#e80000 121.9px,#ff1300 129.5px,#ff3800 146.2px,#ff1300 158.4px,#e80000 164.8px,#d10000 170.6px,#800000 195.0px,#800000 243.8px,#b60000 268.1px,#e80000 274.3px,#ff1300 277.1px,#ff7700 292.5px)"></i><i style="background:linear-gradient(90deg,#f60b00 0.0px,#ff1300 1.7px,#ff6000 24.4px,#ff1300 41.7px,#e80000 45.9px,#d60000 48.8px,#9f0000 73.1px,#d60000 97.5px,#e80000 105.3px,#ff1300 116.5px,#ff1a00 121.9px,#ff6000 146.2px,#ff1300 170.2px,#fa0f00 170.6px,#e80000 174.8px,#800000 195.0px,#800000 243.8px,#9b0000 268.1px,#e80000 282.6px,#ff1300 287.1px,#ff2900 292.5px)"></i><i style="background:linear-gradient(90deg,#b60000 0.0px,#e80000 6.5px,#ff1300 9.5px,#ff6f00 24.4px,#ff1300 44.4px,#e80000 48.4px,#e40000 48.8px,#a80000 73.1px,#e40000 97.5px,#e80000 98.1px,#ff1300 106.5px,#ff3400 121.9px,#ff8900 146.2px,#ff3400 170.6px,#ff1300 176.6px,#e80000 179.9px,#800000 195.0px,#800000 268.1px,#b60000 292.5px)"></i><i style="background:linear-gradient(90deg,#ad0000 0.0px,#e80000 6.2px,#ff1300 8.7px,#ff8900 24.4px,#ff1300 47.5px,#f60b00 48.8px,#e80000 54.8px,#b60000 73.1px,#e80000 91.5px,#f60b00 97.5px,#ff1300 100.4px,#ff4300 121.9px,#ff9f00 146.2px,#ff5d00 170.6px,#ff1300 182.9px,#e80000 186.0px,#a40000 195.0px,#890000 219.4px,#800000 243.8px,#800000 268.1px,#a40000 292.5px)"></i><i style="background:linear-gradient(90deg,#ad0000 0.0px,#e80000 5.4px,#ff1300 7.6px,#ffa300 24.4px,#ff1a00 48.8px,#ff1300 52.2px,#e80000 61.1px,#c80000 73.1px,#e80000 85.1px,#ff1300 94.1px,#ff1a00 97.5px,#ff5200 121.9px,#ffb600 146.2px,#ff8600 170.6px,#ff1300 188.9px,#e80000 191.9px,#cd0000 195.0px,#920000 219.4px,#800000 243.8px,#800000 268.1px,#960000 292.5px)"></i><i style="background:linear-gradient(90deg,#ad0000 0.0px,#e80000 4.8px,#ff1300 6.7px,#ffc100 24.4px,#ff2500 48.8px,#ff1300 58.3px,#e80000 66.9px,#d60000 73.1px,#e80000 79.4px,#ff1300 87.9px,#ff2500 97.5px,#ff6000 121.9px,#ffc800 146.2px,#ffb200 170.6px,#ff1300 194.5px,#fa0f00 195.0px,#e80000 200.1px,#9f0000 219.4px,#800000 243.8px,#800000 268.1px,#890000 292.5px)"></i><i style="background:linear-gradient(90deg,#ad0000 0.0px,#e80000 4.3px,#ff1300 6.0px,#ffde00 24.4px,#ff3400 48.8px,#ff1300 64.0px,#e80000 72.2px,#e40000 73.1px,#e80000 74.1px,#ff1300 82.3px,#ff3400 97.5px,#ff6f00 121.9px,#ffde00 146.2px,#ffdb00 170.6px,#ff3000 195.0px,#ff1300 202.7px,#e80000 207.3px,#a80000 219.4px,#800000 243.8px,#800000 292.5px)"></i><i style="background:linear-gradient(90deg,#ad0000 0.0px,#e80000 4.2px,#ff1300 5.9px,#ffe200 24.4px,#ff4300 48.8px,#ff1300 69.9px,#f60b00 73.1px,#ff1300 76.4px,#ff4300 97.5px,#ff7a00 121.9px,#ffe200 146.2px,#ffe200 170.6px,#ff4e00 195.0px,#ff1300 206.6px,#e80000 210.3px,#ad0000 219.4px,#800000 243.8px,#800000 292.5px)"></i><i style="background:linear-gradient(90deg,#ad0000 0.0px,#e80000 4.2px,#ff1300 5.9px,#ffe200 24.4px,#ff5200 48.8px,#ff1600 73.1px,#ff5200 97.5px,#ff8900 121.9px,#ffe200 146.2px,#ffe200 170.6px,#ff6c00 195.0px,#ff1300 208.9px,#e80000 211.9px,#ad0000 219.4px,#800000 243.8px,#800000 292.5px)"></i><i style="background:linear-gradient(90deg,#ad0000 0.0px,#e80000 4.2px,#ff1300 5.9px,#ffe200 24.4px,#ff6000 48.8px,#ff2500 73.1px,#ff6000 97.5px,#ff9800 121.9px,#ffe200 146.2px,#ffe200 170.6px,#ff8600 195.0px,#ff1300 210.5px,#e80000 213.1px,#ad0000 219.4px,#800000 243.8px,#800000 292.5px)"></i><i style="background:linear-gradient(90deg,#ad0000 0.0px,#e80000 4.2px,#ff1300 5.9px,#ffe200 24.4px,#ff6c00 48.8px,#ff3400 73.1px,#ff6c00 97.5px,#ffa700 121.9px,#ffe200 146.2px,#ffe200 170.6px,#ffa300 195.0px,#ff1300 211.7px,#e80000 213.9px,#ad0000 219.4px,#800000 243.8px,#800000 292.5px)"></i><i style="background:linear-gradient(90deg,#b60000 0.0px,#e80000 3.5px,#ff1300 5.3px,#ffe200 24.4px,#ff5d00 48.8px,#ff4300 73.1px,#ff7a00 97.5px,#ffb200 121.9px,#ffe600 146.2px,#ffe200 170.6px,#ff9f00 195.0px,#ff1300 212.3px,#e80000 214.6px,#b60000 219.4px,#840000 243.8px,#800000 268.1px,#800000 292.5px)"></i><i style="background:linear-gradient(90deg,#c40000 0.0px,#e80000 2.6px,#ff1300 4.4px,#ffe200 24.4px,#ff3f00 48.8px,#ff5200 73.1px,#ff8900 97.5px,#ffc100 121.9px,#feed00 145.8px,#feed00 148.0px,#ffe200 170.6px,#ff9100 195.0px,#ff1300 212.9px,#e80000 215.6px,#c40000 219.4px,#920000 243.8px,#800000 268.1px,#800000 292.5px)"></i><i style="background:linear-gradient(90deg,#d10000 0.0px,#e80000 1.5px,#ff1300 3.4px,#ffe200 24.4px,#ff2200 48.8px,#ff5d00 73.1px,#ff9800 97.5px,#ffd000 121.9px,#feed00 141.6px,#fbf100 146.2px,#feed00 156.2px,#ffe200 170.6px,#ff8200 195.0px,#ff1300 213.7px,#e80000 216.8px,#d10000 219.4px,#9b0000 243.8px,#800000 268.1px,#800000 292.5px)"></i><i style="background:linear-gradient(90deg,#e40000 0.0px,#e80000 0.4px,#ff1300 2.4px,#ffe200 24.4px,#ff1300 47.6px,#f10800 48.8px,#ff1300 51.2px,#ff6c00 73.1px,#ffa300 97.5px,#ffde00 121.9px,#feed00 134.7px,#f8f500 143.5px,#f4f802 146.2px,#f8f500 149.5px,#feed00 160.1px,#ffe200 170.6px,#ff7300 195.0px,#ff1300 214.9px,#e80000 218.6px,#e40000 219.4px,#a80000 243.8px,#800000 268.1px,#800000 292.5px)"></i><i style="background:linear-gradient(90deg,#f10800 0.0px,#ff1300 1.0px,#ffea00 24.4px,#ff1300 46.0px,#e80000 47.9px,#da0000 48.8px,#e80000 50.5px,#ff1300 54.6px,#ff6800 73.1px,#ffb200 97.5px,#feed00 118.8px,#f8f500 121.9px,#f8f500 124.8px,#eeff09 146.1px,#eeff09 146.3px,#f8f500 152.4px,#feed00 158.4px,#ffd700 170.6px,#ff8200 195.0px,#ff1300 217.5px,#f10800 219.4px,#e80000 223.5px,#ad0000 243.8px,#840000 268.1px,#800000 292.5px)"></i><i style="background:linear-gradient(90deg,#ff1600 0.0px,#feed00 23.3px,#f8f500 24.3px,#f8f500 24.4px,#feed00 25.3px,#ff1300 45.2px,#e80000 47.0px,#cd0000 48.8px,#e80000 53.1px,#ff1300 57.3px,#ff5900 73.1px,#ffc100 97.5px,#feed00 111.1px,#f8f500 114.1px,#eeff09 117.1px,#e1ff16 121.9px,#e7ff0f 146.2px,#eeff09 149.2px,#f8f500 153.1px,#feed00 157.0px,#ffcc00 170.6px,#ff9f00 195.0px,#ff1600 219.4px,#ff1300 221.0px,#e80000 227.5px,#ad0000 243.8px,#920000 268.1px,#800000 292.5px)"></i><i style="background:linear-gradient(90deg,#ff2500 0.0px,#feed00 22.0px,#f8f500 23.0px,#eeff09 24.1px,#eeff09 24.6px,#f8f500 25.4px,#feed00 26.2px,#ff1300 44.5px,#e80000 46.1px,#bf0000 48.8px,#e80000 55.9px,#ff1300 60.2px,#ff4a00 73.1px,#ffd000 97.5px,#feed00 105.4px,#f8f500 108.1px,#eeff09 110.7px,#caff2c 121.9px,#e4ff13 146.2px,#eeff09 150.5px,#f8f500 153.4px,#feed00 156.3px,#ffbd00 170.6px,#ffbd00 195.0px,#ff2500 219.4px,#ff1300 224.7px,#e80000 230.2px,#ad0000 243.8px,#9b0000 268.1px,#800000 292.5px)"></i><i style="background:linear-gradient(90deg,#ff3000 0.0px,#feed00 20.6px,#f8f500 21.7px,#eeff09 22.8px,#e1ff16 24.4px,#eeff09 25.5px,#f8f500 26.2px,#feed00 27.0px,#ff1300 43.9px,#e80000 45.4px,#b20000 48.8px,#e80000 58.7px,#ff1300 63.1px,#ff3b00 73.1px,#ffde00 97.5px,#feed00 101.1px,#f8f500 103.4px,#eeff09 105.7px,#b4ff43 121.9px,#deff19 146.2px,#eeff09 151.3px,#f8f500 153.6px,#feed00 155.9px,#ffae00 170.6px,#ffd700 195.0px,#ff3000 219.4px,#ff1300 227.4px,#e80000 232.1px,#ad0000 243.8px,#a80000 268.1px,#800000 292.5px)"></i><i style="background:linear-gradient(90deg,#ff3f00 0.0px,#feed00 20.0px,#f8f500 21.1px,#eeff09 22.2px,#deff19 24.4px,#eeff09 25.8px,#f8f500 26.6px,#feed00 27.3px,#ff1300 44.2px,#e80000 45.6px,#b60000 48.8px,#e80000 56.2px,#ff1300 59.8px,#ff5900 73.1px,#ffea00 97.5px,#feed00 98.0px,#f8f500 100.0px,#eeff09 101.9px,#9dff5a 121.9px,#deff19 146.2px,#eeff09 151.2px,#f8f500 153.6px,#feed00 156.0px,#ffb200 170.6px,#ffe200 195.0px,#ff3f00 219.4px,#ff1300 230.1px,#e80000 234.5px,#b60000 243.8px,#b60000 268.1px,#840000 292.5px)"></i><i style="background:linear-gradient(90deg,#ff4e00 0.0px,#feed00 19.6px,#f8f500 20.8px,#eeff09 22.0px,#deff19 24.4px,#eeff09 25.9px,#f8f500 26.7px,#feed00 27.4px,#ff1300 44.9px,#e80000 46.5px,#c40000 48.8px,#e80000 52.8px,#ff1300 55.4px,#ff8d00 73.1px,#feed00 95.2px,#f8f500 97.5px,#eeff09 99.2px,#83ff73 121.9px,#e4ff13 146.2px,#eeff09 150.3px,#f8f500 153.3px,#feed00 156.4px,#ffc100 170.6px,#ffe200 195.0px,#ff4e00 219.4px,#ff1300 233.1px,#e80000 237.3px,#c40000 243.8px,#c40000 268.1px,#920000 292.5px)"></i><i style="background:linear-gradient(90deg,#ff5d00 0.0px,#feed00 19.3px,#f8f500 20.6px,#eeff09 21.8px,#deff19 24.4px,#eeff09 26.0px,#f8f500 26.8px,#feed00 27.5px,#ff1300 45.8px,#e80000 47.3px,#d10000 48.8px,#e80000 50.7px,#ff1300 52.8px,#ffc400 73.1px,#feed00 89.0px,#f8f500 92.8px,#eeff09 96.6px,#eeff09 97.5px,#66ff90 121.9px,#ebff0c 146.2px,#eeff09 148.7px,#f8f500 152.9px,#feed00 157.2px,#ffd000 170.6px,#ffe200 195.0px,#ff5d00 219.4px,#ff1300 235.9px,#e80000 240.0px,#d10000 243.8px,#d10000 268.1px,#9b0000 292.5px)"></i><i style="background:linear-gradient(90deg,#ff6c00 0.0px,#feed00 18.8px,#f8f500 20.2px,#eeff09 21.6px,#deff19 24.4px,#eeff09 26.0px,#f8f500 26.9px,#feed00 27.7px,#ff1300 46.7px,#e80000 48.3px,#df0000 48.8px,#e80000 49.2px,#ff1300 51.0px,#feed00 71.8px,#f8f500 72.7px,#f4f802 73.1px,#eeff09 79.1px,#e4ff13 97.5px,#4dffaa 121.9px,#eeff09 146.0px,#f1fc06 146.2px,#f8f500 152.0px,#feed00 159.1px,#ffdb00 170.6px,#ffe200 195.0px,#ff6c00 219.4px,#ff1300 238.5px,#e80000 242.6px,#df0000 243.8px,#df0000 268.1px,#a80000 292.5px)"></i><i style="background:linear-gradient(90deg,#ff6f00 0.0px,#feed00 18.6px,#f8f500 20.1px,#eeff09 21.5px,#deff19 24.4px,#eeff09 26.3px,#f8f500 27.2px,#feed00 28.2px,#ff1e00 48.8px,#feed00 68.7px,#f8f500 69.6px,#eeff09 70.5px,#d7ff1f 73.1px,#d7ff1f 97.5px,#43ffb4 121.9px,#eeff09 146.2px,#f8f500 154.3px,#feed00 162.5px,#ffe200 170.6px,#ffdb00 195.0px,#ff6f00 219.4px,#ff1300 241.2px,#f10800 243.8px,#f10800 268.1px,#e80000 272.1px,#b60000 292.5px)"></i><i style="background:linear-gradient(90deg,#ff6f00 0.0px,#feed00 18.6px,#f8f500 20.1px,#eeff09 21.5px,#deff19 24.4px,#eeff09 26.8px,#f8f500 28.1px,#feed00 29.3px,#ff5500 48.8px,#feed00 66.2px,#f8f500 67.3px,#eeff09 68.4px,#caff2c 73.1px,#caff2c 97.5px,#43ffb4 121.9px,#e7ff0f 146.2px,#eeff09 151.6px,#f8f500 157.9px,#feed00 164.3px,#ffe200 170.6px,#ffcc00 195.0px,#ff6f00 219.4px,#ff1300 243.8px,#ff1300 269.5px,#e80000 278.6px,#c40000 292.5px)"></i><i style="background:linear-gradient(90deg,#ff6f00 0.0px,#feed00 18.6px,#f8f500 20.1px,#eeff09 21.5px,#deff19 24.4px,#eeff09 27.9px,#f8f500 29.7px,#feed00 31.4px,#ff8d00 48.8px,#feed00 62.4px,#f8f500 63.8px,#eeff09 65.1px,#c1ff36 73.1px,#c1ff36 97.5px,#43ffb4 121.9px,#e1ff16 146.2px,#eeff09 155.1px,#f8f500 160.3px,#feed00 165.4px,#ffe200 170.6px,#ffbd00 195.0px,#ff6f00 219.4px,#ff2200 243.8px,#ff2200 268.1px,#ff1300 275.9px,#e80000 284.5px,#d10000 292.5px)"></i><i style="background:linear-gradient(90deg,#ff6f00 0.0px,#feed00 18.6px,#f8f500 20.1px,#eeff09 21.5px,#deff19 24.4px,#eeff09 30.5px,#f8f500 33.6px,#feed00 36.6px,#ffc400 48.8px,#feed00 56.0px,#f8f500 57.9px,#eeff09 59.7px,#b4ff43 73.1px,#b4ff43 97.5px,#43ffb4 121.9px,#dbff1c 146.2px,#eeff09 157.5px,#f8f500 161.9px,#feed00 166.2px,#ffe200 170.6px,#ffb200 195.0px,#ff6f00 219.4px,#ff3000 243.8px,#ff3000 268.1px,#ff1300 281.7px,#e80000 289.9px,#df0000 292.5px)"></i></div><div class=hm style="left:337.50px;top:42.00px;width:292.50px;height:130.00px"><i style="background:linear-gradient(90deg,#e80000 0.0px,#df0000 24.4px,#df0000 48.8px,#ad0000 73.1px,#890000 97.5px,#e80000 110.6px,#ff1300 114.0px,#ff3f00 121.9px,#ff5900 146.2px,#ff1300 167.1px,#ed0400 170.6px,#e80000 195.0px,#b20000 219.4px,#b20000 243.8px,#ad0000 268.1px,#ad0000 292.5px)"></i><i style="background:linear-gradient(90deg,#e80000 0.0px,#d10000 24.4px,#d10000 48.8px,#ad0000 73.1px,#a40000 97.5px,#e80000 107.5px,#ff1300 111.0px,#ff4e00 121.9px,#ff5d00 146.2px,#ff1300 170.6px,#ff1300 173.0px,#e80000 195.0px,#bf0000 219.4px,#bf0000 243.8px,#ad0000 268.1px,#ad0000 292.5px)"></i><i style="background:linear-gradient(90deg,#e80000 0.0px,#c40000 24.4px,#c40000 48.8px,#ad0000 73.1px,#bf0000 97.5px,#e80000 103.9px,#ff1300 107.6px,#ff5900 121.9px,#ff6400 146.2px,#ff2200 170.6px,#ff1300 181.8px,#e80000 195.0px,#d10000 219.4px,#d10000 243.8px,#ad0000 268.1px,#ad0000 292.5px)"></i><i style="background:linear-gradient(90deg,#e80000 0.0px,#b60000 24.4px,#b60000 48.8px,#ad0000 73.1px,#d60000 97.5px,#e80000 99.9px,#ff1300 103.9px,#ff6800 121.9px,#ff6c00 146.2px,#ff3000 170.6px,#ff1300 185.6px,#e80000 195.0px,#df0000 219.4px,#df0000 243.8px,#ad0000 268.1px,#ad0000 292.5px)"></i><i style="background:linear-gradient(90deg,#df0000 0.0px,#a80000 24.4px,#a80000 73.1px,#e80000 97.5px,#ff1300 101.6px,#ff6f00 121.9px,#ff7300 146.2px,#ff3800 170.6px,#ff1300 188.8px,#ed0400 195.0px,#e80000 219.4px,#e80000 243.8px,#b20000 268.1px,#ad0000 292.5px)"></i><i style="background:linear-gradient(90deg,#d10000 0.0px,#9b0000 24.4px,#9b0000 73.1px,#e80000 97.5px,#ff1300 101.6px,#ff6f00 121.9px,#ff7a00 146.2px,#ff3800 170.6px,#ff1300 195.0px,#ff1300 196.4px,#e80000 219.4px,#e80000 243.8px,#bf0000 268.1px,#ad0000 292.5px)"></i><i style="background:linear-gradient(90deg,#c40000 0.0px,#920000 24.4px,#920000 73.1px,#e80000 97.5px,#ff1300 101.6px,#ff6f00 121.9px,#ff8200 146.2px,#ff3800 170.6px,#ff2200 195.0px,#ff1300 205.8px,#e80000 219.4px,#e80000 243.8px,#cd0000 268.1px,#ad0000 292.5px)"></i><i style="background:linear-gradient(90deg,#b60000 0.0px,#840000 24.4px,#840000 73.1px,#e80000 97.5px,#ff1300 101.6px,#ff6f00 121.9px,#ff8900 146.2px,#ff3800 170.6px,#ff3000 195.0px,#ff1300 209.8px,#e80000 219.4px,#e80000 243.8px,#df0000 268.1px,#ad0000 292.5px)"></i><i style="background:linear-gradient(90deg,#b20000 0.0px,#800000 24.4px,#800000 73.1px,#e80000 96.1px,#ed0400 97.5px,#ff1300 100.4px,#ff7700 121.9px,#ff9100 146.2px,#ff3b00 170.6px,#ff3b00 195.0px,#ff1300 213.5px,#ed0400 219.4px,#ed0400 268.1px,#e80000 270.8px,#b20000 292.5px)"></i><i style="background:linear-gradient(90deg,#bf0000 0.0px,#800000 24.4px,#800000 73.1px,#e80000 93.0px,#ff1300 97.4px,#ff1300 97.5px,#ff8200 121.9px,#ff9800 146.2px,#ff4a00 170.6px,#ff4a00 195.0px,#ff1300 219.4px,#ff1300 268.3px,#e80000 277.4px,#bf0000 292.5px)"></i><i style="background:linear-gradient(90deg,#cd0000 0.0px,#800000 24.4px,#800000 73.1px,#e80000 90.7px,#ff1300 94.6px,#ff2200 97.5px,#ff9100 121.9px,#ff9c00 146.2px,#ff5900 170.6px,#ff5900 195.0px,#ff2200 219.4px,#ff2200 268.1px,#ff1300 274.7px,#e80000 283.4px,#cd0000 292.5px)"></i><i style="background:linear-gradient(90deg,#da0000 0.0px,#800000 24.4px,#800000 73.1px,#e80000 88.8px,#ff1300 92.3px,#ff2d00 97.5px,#ff9f00 121.9px,#ffa300 146.2px,#ff6800 170.6px,#ff6800 195.0px,#ff2d00 219.4px,#ff2d00 268.1px,#ff1300 280.6px,#e80000 289.0px,#da0000 292.5px)"></i><i style="background:linear-gradient(90deg,#ed0400 0.0px,#e80000 1.2px,#800000 24.4px,#800000 73.1px,#e80000 87.1px,#ff1300 90.3px,#ff3b00 97.5px,#ffab00 121.9px,#ffae00 146.2px,#ff7300 170.6px,#ff6f00 195.0px,#ff3b00 219.4px,#ff3b00 268.1px,#ff1300 287.8px,#f10800 292.5px)"></i><i style="background:linear-gradient(90deg,#ff1300 0.0px,#e80000 4.3px,#800000 24.4px,#800000 48.8px,#8d0000 73.1px,#e80000 85.1px,#ff1300 88.2px,#ff4a00 97.5px,#ffab00 121.9px,#ffbd00 146.2px,#ff8200 170.6px,#ff6f00 195.0px,#ff4a00 219.4px,#ff4a00 268.1px,#ff2200 292.5px)"></i><i style="background:linear-gradient(90deg,#ff1e00 0.0px,#ff1300 2.8px,#e80000 6.7px,#800000 24.4px,#800000 48.8px,#960000 73.1px,#e80000 83.3px,#ff1300 86.3px,#ff5900 97.5px,#ffab00 121.9px,#ffc800 146.2px,#ff9100 170.6px,#ff6f00 195.0px,#ff5900 219.4px,#ff5900 268.1px,#ff3f00 292.5px)"></i><i style="background:linear-gradient(90deg,#ff2d00 0.0px,#ff1300 5.1px,#e80000 8.6px,#800000 24.4px,#800000 48.8px,#a40000 73.1px,#e80000 81.5px,#ff1300 84.5px,#ff6400 97.5px,#ffab00 121.9px,#ffd700 146.2px,#ff9f00 170.6px,#ff6f00 195.0px,#ff6400 219.4px,#ff6400 268.1px,#ff5d00 292.5px)"></i><i style="background:linear-gradient(90deg,#ff3b00 0.0px,#ff1300 6.9px,#e80000 10.1px,#800000 24.4px,#800000 48.8px,#b20000 73.1px,#e80000 79.4px,#ff1300 82.4px,#ff7300 97.5px,#ffae00 121.9px,#ffe600 146.2px,#ffae00 170.6px,#ff6f00 195.0px,#ff6f00 243.8px,#ff7300 268.1px,#ff7700 292.5px)"></i><i style="background:linear-gradient(90deg,#ff4a00 0.0px,#ff1300 8.5px,#e80000 11.4px,#800000 24.4px,#800000 48.8px,#d10000 73.1px,#e80000 75.7px,#ff1300 78.8px,#ff8200 97.5px,#ffb900 121.9px,#feed00 143.9px,#fbf100 146.2px,#feed00 148.6px,#ffb900 170.6px,#ff6f00 195.0px,#ff6f00 243.8px,#ff8200 268.1px,#ff9400 292.5px)"></i><i style="background:linear-gradient(90deg,#ff5500 0.0px,#ff1300 9.7px,#e80000 12.4px,#800000 24.4px,#800000 48.8px,#e80000 70.5px,#f10800 73.1px,#ff1300 74.7px,#ff9100 97.5px,#ffc800 121.9px,#feed00 138.3px,#f8f500 142.8px,#f1fc06 146.2px,#f8f500 149.7px,#feed00 154.2px,#ffc800 170.6px,#ff6f00 195.0px,#ff6f00 243.8px,#ff9100 268.1px,#ffae00 292.5px)"></i><i style="background:linear-gradient(90deg,#ff6400 0.0px,#ff1300 10.8px,#e80000 13.3px,#800000 24.4px,#800000 48.8px,#e80000 65.9px,#ff1300 69.7px,#ff2200 73.1px,#ff9f00 97.5px,#ffd700 121.9px,#feed00 132.2px,#f8f500 136.9px,#eeff09 141.6px,#e7ff0f 146.2px,#eeff09 150.9px,#f8f500 155.6px,#feed00 160.3px,#ffd700 170.6px,#ff6f00 195.0px,#ff6f00 243.8px,#ff9f00 268.1px,#ffcc00 292.5px)"></i><i style="background:linear-gradient(90deg,#ff6800 0.0px,#ff1300 11.0px,#e80000 13.4px,#800000 24.4px,#840000 48.8px,#e80000 62.6px,#ff1300 65.8px,#ff3b00 73.1px,#ffab00 97.5px,#ffe600 121.9px,#feed00 125.8px,#f8f500 130.9px,#eeff09 136.0px,#deff19 146.2px,#eeff09 156.5px,#f8f500 161.6px,#feed00 166.7px,#ffe600 170.6px,#ff7300 195.0px,#ff6f00 219.4px,#ff7300 243.8px,#ffab00 268.1px,#ffe600 292.5px)"></i><i style="background:linear-gradient(90deg,#ff3800 0.0px,#ff1300 6.3px,#e80000 9.6px,#800000 24.4px,#9b0000 48.8px,#e80000 58.5px,#ff1300 61.6px,#ff5900 73.1px,#ffb900 97.5px,#feed00 119.9px,#fbf100 121.9px,#f8f500 125.6px,#eeff09 132.5px,#deff19 146.2px,#eeff09 160.0px,#f8f500 166.9px,#fbf100 170.6px,#feed00 171.6px,#ff8200 195.0px,#ff6f00 219.4px,#ff8200 243.8px,#ffb900 268.1px,#feed00 290.5px,#fbf100 292.5px)"></i><i style="background:linear-gradient(90deg,#ed0400 0.0px,#e80000 1.7px,#800000 24.4px,#b60000 48.8px,#e80000 54.8px,#ff1300 57.8px,#ff7300 73.1px,#ffc800 97.5px,#feed00 114.3px,#f8f500 118.8px,#f1fc06 121.9px,#eeff09 125.1px,#deff19 146.2px,#eeff09 167.4px,#f1fc06 170.6px,#f8f500 172.1px,#feed00 174.2px,#ff9100 195.0px,#ff6f00 219.4px,#ff9100 243.8px,#ffc800 268.1px,#feed00 284.9px,#f8f500 289.4px,#f1fc06 292.5px)"></i><i style="background:linear-gradient(90deg,#b20000 0.0px,#800000 24.4px,#d10000 48.8px,#e80000 51.5px,#ff1300 54.3px,#ff9100 73.1px,#ffd700 97.5px,#feed00 108.2px,#f8f500 112.9px,#eeff09 117.6px,#e7ff0f 121.9px,#deff19 146.2px,#e7ff0f 170.6px,#eeff09 172.6px,#f8f500 174.8px,#feed00 177.0px,#ff9c00 195.0px,#ff6f00 219.4px,#ff9c00 243.8px,#ffd700 268.1px,#feed00 278.8px,#f8f500 283.5px,#eeff09 288.2px,#e7ff0f 292.5px)"></i><i style="background:linear-gradient(90deg,#800000 0.0px,#800000 24.4px,#e80000 48.3px,#e80000 48.8px,#ff1300 51.2px,#ffab00 73.1px,#ffe200 97.5px,#feed00 101.6px,#f8f500 106.4px,#eeff09 111.3px,#deff19 121.9px,#deff19 170.6px,#eeff09 175.1px,#f8f500 177.4px,#feed00 179.6px,#ffab00 195.0px,#ff7300 219.4px,#ffab00 243.8px,#ffe200 268.1px,#feed00 272.4px,#f8f500 277.4px,#eeff09 282.4px,#deff19 292.5px)"></i><i style="background:linear-gradient(90deg,#800000 0.0px,#800000 24.4px,#e80000 45.0px,#fa0f00 48.8px,#ff1300 49.2px,#ffb900 73.1px,#feed00 95.9px,#fbf100 97.5px,#f8f500 100.3px,#eeff09 105.0px,#d1ff26 121.9px,#d1ff26 146.2px,#deff19 170.6px,#eeff09 175.8px,#f8f500 178.5px,#feed00 181.1px,#ffb900 195.0px,#ff8200 219.4px,#ffb900 243.8px,#feed00 266.5px,#fbf100 268.1px,#f8f500 272.3px,#eeff09 279.0px,#deff19 292.5px)"></i><i style="background:linear-gradient(90deg,#800000 0.0px,#800000 24.4px,#e80000 42.4px,#ff1300 46.5px,#ff1e00 48.8px,#ffc800 73.1px,#feed00 90.3px,#f8f500 94.8px,#f1fc06 97.5px,#eeff09 99.2px,#c4ff33 121.9px,#c4ff33 146.2px,#deff19 170.6px,#eeff09 176.8px,#f8f500 179.9px,#feed00 183.0px,#ffc800 195.0px,#ff8d00 219.4px,#ffc800 243.8px,#feed00 260.9px,#f8f500 265.4px,#f1fc06 268.1px,#eeff09 272.1px,#deff19 292.5px)"></i><i style="background:linear-gradient(90deg,#800000 0.0px,#800000 24.4px,#e80000 40.5px,#ff1300 44.1px,#ff2900 48.8px,#ffd300 73.1px,#feed00 84.2px,#f8f500 88.9px,#eeff09 93.6px,#e7ff0f 97.5px,#b7ff40 121.9px,#b7ff40 146.2px,#deff19 170.6px,#eeff09 178.3px,#f8f500 182.1px,#feed00 185.9px,#ffd300 195.0px,#ff9c00 219.4px,#ffd300 243.8px,#feed00 254.9px,#f8f500 259.5px,#eeff09 264.2px,#e7ff0f 268.1px,#deff19 292.5px)"></i><i style="background:linear-gradient(90deg,#800000 0.0px,#800000 24.4px,#e80000 38.7px,#ff1300 42.0px,#ff3800 48.8px,#ffe200 73.1px,#feed00 77.6px,#f8f500 82.5px,#eeff09 87.3px,#deff19 97.5px,#adff49 121.9px,#adff49 146.2px,#deff19 170.6px,#eeff09 180.8px,#f8f500 185.7px,#feed00 190.5px,#ffe200 195.0px,#ffab00 219.4px,#ffe200 243.8px,#feed00 248.2px,#f8f500 253.1px,#eeff09 258.0px,#deff19 268.1px,#deff19 292.5px)"></i><i style="background:linear-gradient(90deg,#800000 0.0px,#9b0000 24.4px,#e80000 34.6px,#ff1300 37.7px,#ff5500 48.8px,#feed00 72.7px,#feed00 73.1px,#f8f500 76.3px,#eeff09 81.0px,#d1ff26 97.5px,#adff49 121.9px,#adff49 146.2px,#d1ff26 170.6px,#eeff09 187.2px,#f8f500 191.8px,#feed00 195.0px,#feed00 196.7px,#ffc400 219.4px,#feed00 242.1px,#feed00 243.8px,#f8f500 247.0px,#eeff09 251.6px,#d1ff26 268.1px,#d1ff26 292.5px)"></i><i style="background:linear-gradient(90deg,#800000 0.0px,#b20000 24.4px,#e80000 30.9px,#ff1300 33.9px,#ff6f00 48.8px,#feed00 70.5px,#f8f500 72.2px,#f4f802 73.1px,#eeff09 75.2px,#c4ff33 97.5px,#adff49 121.9px,#adff49 146.2px,#c4ff33 170.6px,#eeff09 193.0px,#f4f802 195.0px,#f8f500 199.4px,#feed00 207.7px,#ffde00 219.4px,#feed00 231.1px,#f8f500 239.3px,#f4f802 243.8px,#eeff09 245.8px,#c4ff33 268.1px,#c4ff33 292.5px)"></i><i style="background:linear-gradient(90deg,#800000 0.0px,#cd0000 24.4px,#e80000 27.5px,#ff1300 30.3px,#ff8d00 48.8px,#feed00 67.8px,#f8f500 69.7px,#eeff09 71.7px,#e7ff0f 73.1px,#baff3c 97.5px,#adff49 121.9px,#adff49 146.2px,#baff3c 170.6px,#e7ff0f 195.0px,#eeff09 207.7px,#f4f802 219.4px,#eeff09 231.1px,#e7ff0f 243.8px,#baff3c 268.1px,#baff3c 292.5px)"></i><i style="background:linear-gradient(90deg,#800000 0.0px,#e80000 24.4px,#ff1300 27.1px,#ffab00 48.8px,#feed00 64.3px,#f8f500 66.5px,#eeff09 68.7px,#deff19 73.1px,#adff49 97.5px,#adff49 170.6px,#deff19 195.0px,#deff19 243.8px,#adff49 268.1px,#adff49 292.5px)"></i><i style="background:linear-gradient(90deg,#cd0000 0.0px,#e80000 6.0px,#ff1300 11.2px,#ff4300 24.4px,#ffc400 48.8px,#feed00 59.5px,#f8f500 62.0px,#eeff09 64.4px,#d1ff26 73.1px,#adff49 97.5px,#a0ff56 121.9px,#a0ff56 170.6px,#d1ff26 195.0px,#d1ff26 243.8px,#a0ff56 268.1px,#a0ff56 292.5px)"></i><i style="background:linear-gradient(90deg,#ff2900 0.0px,#ff8600 24.4px,#ffdb00 48.8px,#feed00 53.3px,#f8f500 56.1px,#eeff09 59.0px,#c7ff30 73.1px,#adff49 97.5px,#94ff63 121.9px,#94ff63 170.6px,#c7ff30 195.0px,#c7ff30 243.8px,#94ff63 268.1px,#94ff63 292.5px)"></i><i style="background:linear-gradient(90deg,#ff6800 0.0px,#ffc800 24.4px,#feed00 42.9px,#f8f500 48.1px,#f8f500 48.8px,#eeff09 51.7px,#baff3c 73.1px,#adff49 97.5px,#8aff6d 121.9px,#8aff6d 170.6px,#baff3c 195.0px,#baff3c 243.8px,#8aff6d 268.1px,#8aff6d 292.5px)"></i><i style="background:linear-gradient(90deg,#ffa700 0.0px,#feed00 16.5px,#f8f500 18.7px,#eeff09 20.9px,#e1ff16 24.4px,#e1ff16 48.8px,#adff49 73.1px,#adff49 97.5px,#7dff7a 121.9px,#7dff7a 170.6px,#adff49 195.0px,#adff49 243.8px,#7dff7a 268.1px,#7dff7a 292.5px)"></i><i style="background:linear-gradient(90deg,#f4f802 0.0px,#eeff09 1.7px,#a4ff53 24.4px,#baff3c 48.8px,#94ff63 73.1px,#94ff63 97.5px,#6dff8a 121.9px,#6dff8a 146.2px,#7dff7a 170.6px,#a0ff56 195.0px,#a0ff56 243.8px,#6dff8a 268.1px,#6dff8a 292.5px)"></i><i style="background:linear-gradient(90deg,#aaff4d 0.0px,#63ff94 24.4px,#94ff63 48.8px,#7aff7d 73.1px,#7aff7d 97.5px,#60ff97 121.9px,#60ff97 146.2px,#7dff7a 170.6px,#97ff60 195.0px,#97ff60 243.8px,#60ff97 268.1px,#60ff97 292.5px)"></i><i style="background:linear-gradient(90deg,#63ff94 0.0px,#26ffd1 24.4px,#6dff8a 48.8px,#60ff97 73.1px,#60ff97 97.5px,#53ffa4 121.9px,#53ffa4 146.2px,#7dff7a 170.6px,#8aff6d 195.0px,#8aff6d 243.8px,#53ffa4 268.1px,#53ffa4 292.5px)"></i><i style="background:linear-gradient(90deg,#19ffde 0.0px,#16ffe1 2.4px,#00e4f8 12.3px,#00dcfe 16.3px,#00c4ff 24.4px,#00dcfe 28.7px,#00e4f8 30.8px,#16ffe1 36.0px,#46ffb1 48.8px,#46ffb1 97.5px,#43ffb4 121.9px,#43ffb4 146.2px,#7dff7a 170.6px,#7dff7a 243.8px,#43ffb4 268.1px,#43ffb4 292.5px)"></i><i style="background:linear-gradient(90deg,#26ffd1 0.0px,#16ffe1 11.9px,#00e4f8 24.4px,#16ffe1 30.6px,#4dffaa 48.8px,#2cffca 73.1px,#2cffca 121.9px,#36ffc1 146.2px,#63ff94 170.6px,#70ff87 195.0px,#70ff87 243.8px,#43ffb4 268.1px,#43ffb4 292.5px)"></i><i style="background:linear-gradient(90deg,#43ffb4 0.0px,#26ffd1 24.4px,#5dff9a 48.8px,#16ffe1 73.0px,#13fce4 73.1px,#13fce4 121.9px,#16ffe1 122.2px,#29ffce 146.2px,#49ffad 170.6px,#60ff97 195.0px,#60ff97 243.8px,#43ffb4 268.1px,#43ffb4 292.5px)"></i><i style="background:linear-gradient(90deg,#5dff9a 0.0px,#4dffaa 24.4px,#6aff8d 48.8px,#16ffe1 67.7px,#00e4f8 72.2px,#00e0fb 73.1px,#00e0fb 121.9px,#00e4f8 124.7px,#16ffe1 139.1px,#1fffd7 146.2px,#30ffc7 170.6px,#53ffa4 195.0px,#53ffa4 243.8px,#43ffb4 268.1px,#43ffb4 292.5px)"></i><i style="background:linear-gradient(90deg,#77ff80 0.0px,#73ff83 24.4px,#7aff7d 48.8px,#16ffe1 65.1px,#00e4f8 68.5px,#00dcfe 69.8px,#00c0ff 73.1px,#00c0ff 121.9px,#00dcfe 132.3px,#00e4f8 136.6px,#13fce4 146.2px,#16ffe1 163.1px,#16ffe1 170.6px,#43ffb4 195.0px,#43ffb4 292.5px)"></i><i style="background:linear-gradient(90deg,#a0ff56 0.0px,#a0ff56 24.4px,#aaff4d 48.8px,#16ffe1 68.7px,#00e4f8 71.4px,#00dcfe 72.5px,#00d4ff 73.1px,#00c8ff 97.5px,#00c8ff 121.9px,#00dcfe 132.3px,#00e4f8 138.1px,#0cf4eb 146.2px,#06ecf1 170.6px,#16ffe1 179.3px,#2cffca 195.0px,#39ffbe 219.4px,#39ffbe 292.5px)"></i><i style="background:linear-gradient(90deg,#d1ff26 0.0px,#d1ff26 24.4px,#e7ff0f 48.8px,#16ffe1 72.1px,#0cf4eb 73.1px,#00e4f8 85.5px,#00dcfe 94.6px,#00d8ff 97.5px,#00d8ff 121.9px,#00dcfe 125.8px,#00e4f8 138.1px,#06ecf1 146.2px,#00e4f8 158.3px,#00dcfe 170.6px,#00e4f8 175.6px,#16ffe1 193.9px,#16ffe1 195.0px,#2cffca 219.4px,#2cffca 292.5px)"></i><i style="background:linear-gradient(90deg,#feed00 0.0px,#feed00 24.8px,#ffc400 48.8px,#feed00 52.0px,#f8f500 52.8px,#eeff09 53.6px,#23ffd4 73.1px,#16ffe1 83.7px,#00e4f8 97.5px,#00e4f8 146.2px,#00dcfe 157.1px,#00d0ff 170.6px,#00dcfe 185.9px,#00e0fb 195.0px,#00e4f8 196.8px,#16ffe1 211.5px,#1fffd7 219.4px,#1fffd7 292.5px)"></i><i style="background:linear-gradient(90deg,#ffb600 0.0px,#ffb600 24.4px,#ff8200 48.8px,#feed00 56.6px,#f8f500 57.3px,#eeff09 58.0px,#3cffba 73.1px,#16ffe1 93.7px,#0cf4eb 97.5px,#0cf4eb 121.9px,#00e4f8 138.1px,#00dcfe 146.2px,#00dcfe 147.8px,#00c0ff 170.6px,#00c4ff 195.0px,#00dcfe 204.8px,#00e4f8 209.1px,#13fce4 219.4px,#13fce4 292.5px)"></i><i style="background:linear-gradient(90deg,#ffbd00 0.0px,#ffb200 24.4px,#ff6f00 48.8px,#feed00 58.2px,#f8f500 58.9px,#eeff09 59.6px,#56ffa0 73.1px,#19ffde 97.5px,#19ffde 121.9px,#16ffe1 126.8px,#00e4f8 146.2px,#00e4f8 147.1px,#00dcfe 155.2px,#00c8ff 170.6px,#00bcff 195.0px,#00dcfe 209.9px,#00e4f8 214.9px,#06ecf1 219.4px,#06ecf1 243.8px,#0ff8e7 268.1px,#0ff8e7 292.5px)"></i><i style="background:linear-gradient(90deg,#ffd700 0.0px,#ffc100 24.4px,#ff6f00 48.8px,#feed00 59.2px,#f8f500 60.0px,#eeff09 60.8px,#70ff87 73.1px,#26ffd1 97.5px,#26ffd1 121.9px,#16ffe1 138.8px,#0cf4eb 146.2px,#00e4f8 159.1px,#00dcfe 167.3px,#00d4ff 170.6px,#00bcff 195.0px,#00dcfe 216.4px,#00e0fb 219.4px,#00e0fb 243.8px,#00e4f8 249.3px,#0ff8e7 268.1px,#0ff8e7 292.5px)"></i><i style="background:linear-gradient(90deg,#fbf100 0.0px,#feed00 3.2px,#ffd000 24.4px,#ff6f00 48.8px,#feed00 60.4px,#f8f500 61.3px,#eeff09 62.2px,#8aff6d 73.1px,#33ffc4 97.5px,#33ffc4 121.9px,#19ffde 146.2px,#16ffe1 150.8px,#00e4f8 170.6px,#00e4f8 171.0px,#00dcfe 177.0px,#00bcff 195.0px,#00d0ff 219.4px,#00d0ff 243.8px,#00dcfe 250.1px,#00e4f8 256.1px,#0ff8e7 268.1px,#0ff8e7 292.5px)"></i><i style="background:linear-gradient(90deg,#e4ff13 0.0px,#eeff09 6.1px,#f8f500 11.4px,#feed00 16.7px,#ffde00 24.4px,#ff6f00 48.8px,#feed00 62.0px,#f8f500 63.0px,#eeff09 64.0px,#a4ff53 73.1px,#3cffba 97.5px,#3cffba 121.9px,#26ffd1 146.2px,#16ffe1 162.8px,#0cf4eb 170.6px,#00e4f8 177.4px,#00dcfe 181.8px,#00bcff 195.0px,#00c0ff 219.4px,#00c0ff 243.8px,#00dcfe 254.9px,#00e4f8 259.3px,#0ff8e7 268.1px,#0ff8e7 292.5px)"></i><i style="background:linear-gradient(90deg,#d7ff1f 0.0px,#eeff09 14.2px,#f8f500 18.9px,#feed00 23.6px,#ffea00 24.4px,#ff8d00 48.8px,#feed00 61.0px,#f8f500 62.2px,#eeff09 63.4px,#adff49 73.1px,#4dffaa 97.5px,#43ffb4 121.9px,#29ffce 146.2px,#16ffe1 166.6px,#0ff8e7 170.6px,#00e4f8 180.4px,#00dcfe 185.3px,#00c4ff 195.0px,#00bcff 219.4px,#00bcff 243.8px,#00dcfe 258.4px,#00e4f8 263.3px,#09f0ee 268.1px,#0ff8e7 292.5px)"></i><i style="background:linear-gradient(90deg,#caff2c 0.0px,#eeff09 20.2px,#f8f500 24.4px,#f8f500 24.6px,#feed00 28.1px,#ffb200 48.8px,#feed00 57.8px,#f8f500 59.4px,#eeff09 60.9px,#adff49 73.1px,#5aff9d 97.5px,#43ffb4 121.9px,#29ffce 146.2px,#16ffe1 166.6px,#0ff8e7 170.6px,#00e4f8 184.5px,#00dcfe 191.5px,#00d4ff 195.0px,#00bcff 219.4px,#00bcff 243.8px,#00dcfe 264.6px,#00e0fb 268.1px,#00e4f8 272.9px,#0ff8e7 292.5px)"></i><i style="background:linear-gradient(90deg,#beff39 0.0px,#eeff09 24.4px,#eeff09 26.2px,#f8f500 32.2px,#feed00 38.2px,#ffdb00 48.8px,#feed00 52.4px,#f8f500 54.5px,#eeff09 56.5px,#adff49 73.1px,#66ff90 97.5px,#43ffb4 121.9px,#29ffce 146.2px,#16ffe1 166.6px,#0ff8e7 170.6px,#00e4f8 194.6px,#00e4f8 195.0px,#00dcfe 201.0px,#00bcff 219.4px,#00bcff 243.8px,#00d0ff 268.1px,#00dcfe 274.1px,#00e4f8 280.2px,#0ff8e7 292.5px)"></i><i style="background:linear-gradient(90deg,#b1ff46 0.0px,#e1ff16 24.4px,#ebff0c 48.8px,#adff49 73.1px,#77ff80 97.5px,#43ffb4 121.9px,#29ffce 146.2px,#16ffe1 166.6px,#0ff8e7 170.6px,#0cf4eb 195.0px,#00e4f8 201.5px,#00dcfe 205.9px,#00bcff 219.4px,#00bcff 243.8px,#00c0ff 268.1px,#00dcfe 279.1px,#00e4f8 283.5px,#0ff8e7 292.5px)"></i><i style="background:linear-gradient(90deg,#a4ff53 0.0px,#d7ff1f 24.4px,#d7ff1f 48.8px,#a4ff53 73.1px,#7dff7a 97.5px,#43ffb4 121.9px,#29ffce 146.2px,#16ffe1 166.6px,#0ff8e7 170.6px,#0ff8e7 195.0px,#00e4f8 204.6px,#00dcfe 209.4px,#00c4ff 219.4px,#00c4ff 268.1px,#00dcfe 278.1px,#00e4f8 282.9px,#0ff8e7 292.5px)"></i><i style="background:linear-gradient(90deg,#9aff5d 0.0px,#caff2c 24.4px,#caff2c 48.8px,#9aff5d 73.1px,#7dff7a 97.5px,#43ffb4 121.9px,#29ffce 146.2px,#16ffe1 166.6px,#0ff8e7 170.6px,#0ff8e7 195.0px,#00e4f8 208.5px,#00dcfe 215.3px,#00d4ff 219.4px,#00d4ff 268.1px,#00dcfe 272.2px,#00e4f8 279.0px,#0ff8e7 292.5px)"></i><i style="background:linear-gradient(90deg,#8dff6a 0.0px,#beff39 24.4px,#beff39 48.8px,#8dff6a 73.1px,#7dff7a 97.5px,#43ffb4 121.9px,#29ffce 146.2px,#16ffe1 166.6px,#0ff8e7 170.6px,#0ff8e7 195.0px,#00e4f8 218.0px,#00e4f8 269.5px,#0ff8e7 292.5px)"></i><i style="background:linear-gradient(90deg,#80ff77 0.0px,#b4ff43 24.4px,#b4ff43 48.8px,#80ff77 73.1px,#7dff7a 97.5px,#43ffb4 121.9px,#29ffce 146.2px,#16ffe1 166.6px,#0ff8e7 170.6px,#0ff8e7 195.0px,#0cf4eb 219.4px,#0cf4eb 268.1px,#0ff8e7 292.5px)"></i><i style="background:linear-gradient(90deg,#73ff83 0.0px,#b4ff43 24.4px,#adff49 48.8px,#7dff7a 73.1px,#73ff83 97.5px,#43ffb4 121.9px,#26ffd1 146.2px,#16ffe1 165.9px,#0ff8e7 170.6px,#0ff8e7 268.1px,#13fce4 292.5px)"></i><i style="background:linear-gradient(90deg,#66ff90 0.0px,#c1ff36 24.4px,#adff49 48.8px,#7dff7a 73.1px,#66ff90 97.5px,#43ffb4 121.9px,#1fffd7 146.2px,#16ffe1 164.0px,#0ff8e7 170.6px,#0ff8e7 268.1px,#16ffe1 278.7px,#19ffde 292.5px)"></i><i style="background:linear-gradient(90deg,#56ffa0 0.0px,#ceff29 24.4px,#adff49 48.8px,#7dff7a 73.1px,#56ffa0 97.5px,#43ffb4 121.9px,#19ffde 146.2px,#16ffe1 159.6px,#0ff8e7 170.6px,#0ff8e7 268.1px,#16ffe1 274.6px,#1fffd7 292.5px)"></i><i style="background:linear-gradient(90deg,#49ffad 0.0px,#d7ff1f 24.4px,#adff49 48.8px,#7dff7a 73.1px,#49ffad 97.5px,#43ffb4 121.9px,#16ffe1 145.7px,#13fce4 146.2px,#0ff8e7 170.6px,#0ff8e7 268.1px,#16ffe1 272.8px,#26ffd1 292.5px)"></i><i style="background:linear-gradient(90deg,#3cffba 0.0px,#e4ff13 24.4px,#a7ff50 48.8px,#73ff83 73.1px,#43ffb4 97.5px,#43ffb4 121.9px,#16ffe1 145.7px,#13fce4 146.2px,#16ffe1 154.9px,#16ffe1 178.5px,#0ff8e7 195.0px,#0ff8e7 268.1px,#16ffe1 272.8px,#26ffd1 292.5px)"></i><i style="background:linear-gradient(90deg,#30ffc7 0.0px,#eeff09 24.4px,#9aff5d 48.8px,#66ff90 73.1px,#43ffb4 97.5px,#43ffb4 121.9px,#19ffde 146.2px,#23ffd4 170.6px,#16ffe1 189.5px,#0ff8e7 195.0px,#0ff8e7 268.1px,#16ffe1 274.6px,#1fffd7 292.5px)"></i><i style="background:linear-gradient(90deg,#23ffd4 0.0px,#eeff09 23.4px,#f8f500 24.3px,#f8f500 24.5px,#eeff09 26.4px,#8dff6a 48.8px,#56ffa0 73.1px,#43ffb4 97.5px,#43ffb4 121.9px,#1fffd7 146.2px,#30ffc7 170.6px,#16ffe1 191.7px,#0ff8e7 195.0px,#0ff8e7 268.1px,#16ffe1 278.7px,#19ffde 292.5px)"></i><i style="background:linear-gradient(90deg,#16ffe1 0.0px,#eeff09 22.4px,#f8f500 23.3px,#feed00 24.1px,#ffea00 24.4px,#feed00 24.9px,#f8f500 26.4px,#eeff09 28.0px,#83ff73 48.8px,#49ffad 73.1px,#43ffb4 97.5px,#43ffb4 121.9px,#26ffd1 146.2px,#39ffbe 170.6px,#16ffe1 192.6px,#0ff8e7 195.0px,#0ff8e7 268.1px,#13fce4 292.5px)"></i><i style="background:linear-gradient(90deg,#16ffe1 0.0px,#eeff09 22.8px,#f8f500 23.7px,#feed00 24.4px,#f8f500 25.6px,#eeff09 27.0px,#77ff80 48.8px,#3cffba 73.1px,#43ffb4 97.5px,#43ffb4 121.9px,#2cffca 146.2px,#43ffb4 170.6px,#16ffe1 195.0px,#16ffe1 200.5px,#0ff8e7 219.4px,#0ff8e7 292.5px)"></i><i style="background:linear-gradient(90deg,#23ffd4 0.0px,#e7ff0f 24.4px,#66ff90 48.8px,#30ffc7 73.1px,#43ffb4 97.5px,#43ffb4 121.9px,#33ffc4 146.2px,#43ffb4 170.6px,#23ffd4 195.0px,#16ffe1 213.6px,#0ff8e7 219.4px,#0ff8e7 292.5px)"></i><i style="background:linear-gradient(90deg,#2cffca 0.0px,#d1ff26 24.4px,#5aff9d 48.8px,#23ffd4 73.1px,#43ffb4 97.5px,#43ffb4 121.9px,#39ffbe 146.2px,#43ffb4 170.6px,#2cffca 195.0px,#16ffe1 216.0px,#0ff8e7 219.4px,#0ff8e7 292.5px)"></i><i style="background:linear-gradient(90deg,#39ffbe 0.0px,#baff3c 24.4px,#49ffad 48.8px,#19ffde 73.1px,#43ffb4 97.5px,#43ffb4 121.9px,#3cffba 146.2px,#43ffb4 170.6px,#39ffbe 195.0px,#16ffe1 217.0px,#0ff8e7 219.4px,#0ff8e7 292.5px)"></i><i style="background:linear-gradient(90deg,#43ffb4 0.0px,#a4ff53 24.4px,#43ffb4 48.8px,#16ffe1 73.1px,#43ffb4 97.5px,#43ffb4 146.2px,#46ffb1 170.6px,#46ffb1 195.0px,#16ffe1 219.4px,#16ffe1 292.5px)"></i><i style="background:linear-gradient(90deg,#43ffb4 0.0px,#8aff6d 24.4px,#43ffb4 48.8px,#1fffd7 73.1px,#43ffb4 97.5px,#43ffb4 121.9px,#4dffaa 146.2px,#56ffa0 170.6px,#56ffa0 195.0px,#1fffd7 219.4px,#1fffd7 292.5px)"></i><i style="background:linear-gradient(90deg,#43ffb4 0.0px,#6dff8a 24.4px,#43ffb4 48.8px,#2cffca 73.1px,#43ffb4 97.5px,#43ffb4 121.9px,#53ffa4 146.2px,#63ff94 170.6px,#63ff94 195.0px,#2cffca 219.4px,#2cffca 292.5px)"></i><i style="background:linear-gradient(90deg,#43ffb4 0.0px,#53ffa4 24.4px,#43ffb4 48.8px,#39ffbe 73.1px,#43ffb4 97.5px,#43ffb4 121.9px,#5aff9d 146.2px,#70ff87 170.6px,#70ff87 195.0px,#39ffbe 219.4px,#39ffbe 292.5px)"></i><i style="background:linear-gradient(90deg,#43ffb4 0.0px,#43ffb4 24.4px,#46ffb1 48.8px,#46ffb1 73.1px,#43ffb4 97.5px,#46ffb1 121.9px,#60ff97 146.2px,#80ff77 170.6px,#80ff77 195.0px,#46ffb1 219.4px,#43ffb4 243.8px,#43ffb4 292.5px)"></i><i style="background:linear-gradient(90deg,#43ffb4 0.0px,#43ffb4 24.4px,#53ffa4 48.8px,#53ffa4 73.1px,#43ffb4 97.5px,#53ffa4 121.9px,#66ff90 146.2px,#8aff6d 170.6px,#8aff6d 195.0px,#53ffa4 219.4px,#43ffb4 243.8px,#43ffb4 292.5px)"></i><i style="background:linear-gradient(90deg,#43ffb4 0.0px,#43ffb4 24.4px,#63ff94 48.8px,#63ff94 73.1px,#43ffb4 97.5px,#63ff94 121.9px,#70ff87 146.2px,#97ff60 170.6px,#97ff60 195.0px,#63ff94 219.4px,#43ffb4 243.8px,#43ffb4 292.5px)"></i><i style="background:linear-gradient(90deg,#43ffb4 0.0px,#43ffb4 24.4px,#70ff87 48.8px,#70ff87 73.1px,#43ffb4 97.5px,#70ff87 121.9px,#77ff80 146.2px,#a4ff53 170.6px,#a4ff53 195.0px,#70ff87 219.4px,#43ffb4 243.8px,#43ffb4 292.5px)"></i><i style="background:linear-gradient(90deg,#40ffb7 0.0px,#43ffb4 24.4px,#7dff7a 48.8px,#7dff7a 73.1px,#46ffb1 97.5px,#7dff7a 121.9px,#7dff7a 146.2px,#adff49 170.6px,#adff49 195.0px,#7dff7a 219.4px,#46ffb1 243.8px,#43ffb4 268.1px,#43ffb4 292.5px)"></i><i style="background:linear-gradient(90deg,#33ffc4 0.0px,#43ffb4 24.4px,#7dff7a 48.8px,#7dff7a 73.1px,#53ffa4 97.5px,#8aff6d 121.9px,#8aff6d 146.2px,#adff49 170.6px,#adff49 195.0px,#8aff6d 219.4px,#53ffa4 243.8px,#43ffb4 268.1px,#43ffb4 292.5px)"></i><i style="background:linear-gradient(90deg,#26ffd1 0.0px,#43ffb4 24.4px,#7dff7a 48.8px,#7dff7a 73.1px,#63ff94 97.5px,#97ff60 121.9px,#97ff60 146.2px,#adff49 170.6px,#adff49 195.0px,#97ff60 219.4px,#63ff94 243.8px,#43ffb4 268.1px,#43ffb4 292.5px)"></i><i style="background:linear-gradient(90deg,#19ffde 0.0px,#43ffb4 24.4px,#7dff7a 48.8px,#7dff7a 73.1px,#70ff87 97.5px,#a4ff53 121.9px,#a4ff53 146.2px,#adff49 170.6px,#adff49 195.0px,#a4ff53 219.4px,#70ff87 243.8px,#43ffb4 268.1px,#43ffb4 292.5px)"></i><i style="background:linear-gradient(90deg,#0ff8e7 0.0px,#16ffe1 2.9px,#43ffb4 24.4px,#7dff7a 48.8px,#7dff7a 97.5px,#adff49 121.9px,#adff49 146.2px,#b1ff46 170.6px,#b1ff46 195.0px,#adff49 219.4px,#7dff7a 243.8px,#43ffb4 268.1px,#43ffb4 292.5px)"></i><i style="background:linear-gradient(90deg,#02e8f4 0.0px,#16ffe1 5.6px,#53ffa4 24.4px,#7dff7a 48.8px,#8aff6d 73.1px,#8aff6d 97.5px,#adff49 121.9px,#adff49 146.2px,#baff3c 170.6px,#baff3c 195.0px,#adff49 219.4px,#7dff7a 243.8px,#53ffa4 268.1px,#43ffb4 292.5px)"></i><i style="background:linear-gradient(90deg,#00d8ff 0.0px,#00dcfe 0.4px,#00e4f8 2.3px,#16ffe1 7.0px,#60ff97 24.4px,#7dff7a 48.8px,#97ff60 73.1px,#97ff60 97.5px,#adff49 121.9px,#adff49 146.2px,#c7ff30 170.6px,#c7ff30 195.0px,#adff49 219.4px,#7dff7a 243.8px,#60ff97 268.1px,#43ffb4 292.5px)"></i><i style="background:linear-gradient(90deg,#00c8ff 0.0px,#00dcfe 2.6px,#00e4f8 4.1px,#16ffe1 7.8px,#70ff87 24.4px,#7dff7a 48.8px,#a4ff53 73.1px,#a4ff53 97.5px,#adff49 121.9px,#adff49 146.2px,#d4ff23 170.6px,#d4ff23 195.0px,#adff49 219.4px,#7dff7a 243.8px,#70ff87 268.1px,#43ffb4 292.5px)"></i><i style="background:linear-gradient(90deg,#00bcff 0.0px,#00dcfe 3.6px,#00e4f8 4.9px,#16ffe1 8.1px,#7dff7a 24.4px,#7dff7a 48.8px,#adff49 73.1px,#adff49 146.2px,#deff19 170.6px,#deff19 195.0px,#adff49 219.4px,#7dff7a 243.8px,#7dff7a 268.1px,#43ffb4 292.5px)"></i><i style="background:linear-gradient(90deg,#00ccff 0.0px,#00dcfe 1.7px,#00e4f8 3.0px,#16ffe1 6.2px,#8aff6d 24.4px,#8aff6d 48.8px,#baff3c 73.1px,#baff3c 97.5px,#adff49 121.9px,#adff49 146.2px,#deff19 170.6px,#deff19 195.0px,#adff49 219.4px,#8aff6d 243.8px,#7dff7a 268.1px,#53ffa4 292.5px)"></i><i style="background:linear-gradient(90deg,#00dcfe 0.0px,#00e4f8 1.1px,#16ffe1 4.3px,#97ff60 24.4px,#97ff60 48.8px,#c7ff30 73.1px,#c7ff30 97.5px,#adff49 121.9px,#adff49 146.2px,#deff19 170.6px,#deff19 195.0px,#adff49 219.4px,#97ff60 243.8px,#7dff7a 268.1px,#60ff97 292.5px)"></i><i style="background:linear-gradient(90deg,#06ecf1 0.0px,#16ffe1 2.4px,#a0ff56 24.4px,#a0ff56 48.8px,#d4ff23 73.1px,#d4ff23 97.5px,#adff49 121.9px,#adff49 146.2px,#deff19 170.6px,#deff19 195.0px,#adff49 219.4px,#a0ff56 243.8px,#7dff7a 268.1px,#6dff8a 292.5px)"></i><i style="background:linear-gradient(90deg,#0ff8e7 0.0px,#16ffe1 0.5px,#adff49 24.4px,#adff49 48.8px,#e1ff16 73.1px,#deff19 97.5px,#adff49 121.9px,#adff49 146.2px,#deff19 170.6px,#deff19 195.0px,#adff49 219.4px,#adff49 243.8px,#7aff7d 268.1px,#7aff7d 292.5px)"></i><i style="background:linear-gradient(90deg,#1cffdb 0.0px,#baff3c 24.4px,#c4ff33 48.8px,#eeff09 69.6px,#f8f500 73.1px,#eeff09 80.6px,#deff19 97.5px,#baff3c 121.9px,#adff49 146.2px,#deff19 170.6px,#d1ff26 195.0px,#adff49 219.4px,#a0ff56 243.8px,#53ffa4 268.1px,#53ffa4 292.5px)"></i><i style="background:linear-gradient(90deg,#29ffce 0.0px,#c7ff30 24.4px,#dbff1c 48.8px,#eeff09 58.6px,#f8f500 62.6px,#feed00 66.7px,#ffdb00 73.1px,#feed00 80.0px,#f8f500 84.4px,#eeff09 88.8px,#deff19 97.5px,#c7ff30 121.9px,#adff49 146.2px,#deff19 170.6px,#c4ff33 195.0px,#adff49 219.4px,#94ff63 243.8px,#2cffca 268.1px,#2cffca 292.5px)"></i><i style="background:linear-gradient(90deg,#36ffc1 0.0px,#d1ff26 24.4px,#eeff09 46.9px,#f1fc06 48.8px,#f8f500 51.6px,#feed00 55.7px,#ffc400 73.1px,#feed00 85.7px,#f8f500 88.7px,#eeff09 91.6px,#deff19 97.5px,#d1ff26 121.9px,#adff49 146.2px,#deff19 170.6px,#baff3c 195.0px,#adff49 219.4px,#87ff70 243.8px,#16ffe1 265.3px,#06ecf1 268.1px,#06ecf1 292.5px)"></i><i style="background:linear-gradient(90deg,#43ffb4 0.0px,#deff19 24.4px,#eeff09 34.1px,#f8f500 39.0px,#feed00 43.9px,#ffe200 48.8px,#ffab00 73.1px,#feed00 88.6px,#f8f500 90.9px,#eeff09 93.1px,#deff19 97.5px,#deff19 121.9px,#adff49 146.2px,#deff19 170.6px,#adff49 195.0px,#adff49 219.4px,#7dff7a 243.8px,#16ffe1 259.8px,#00e4f8 263.0px,#00dcfe 264.3px,#00bcff 268.1px,#00bcff 292.5px)"></i><i style="background:linear-gradient(90deg,#5dff9a 0.0px,#eeff09 18.0px,#f8f500 19.0px,#feed00 20.0px,#ffc100 24.4px,#ff9400 48.8px,#ff7300 73.1px,#ffea00 97.5px,#feed00 99.0px,#f8f500 107.3px,#eeff09 115.5px,#e7ff0f 121.9px,#b4ff43 146.2px,#d1ff26 170.6px,#adff49 195.0px,#a0ff56 219.4px,#7dff7a 243.8px,#16ffe1 261.1px,#00e4f8 264.6px,#00dcfe 266.0px,#00ccff 268.1px,#00bcff 292.5px)"></i><i style="background:linear-gradient(90deg,#77ff80 0.0px,#eeff09 12.1px,#f8f500 13.0px,#feed00 13.8px,#ff7300 24.4px,#ff4700 48.8px,#ff3f00 73.1px,#ffc100 97.5px,#feed00 115.5px,#f8f500 119.7px,#f4f802 121.9px,#eeff09 123.5px,#baff3c 146.2px,#c7ff30 170.6px,#adff49 195.0px,#94ff63 219.4px,#7dff7a 243.8px,#16ffe1 262.7px,#00e4f8 266.5px,#00dcfe 268.1px,#00d8ff 268.1px,#00bcff 292.5px)"></i><i style="background:linear-gradient(90deg,#90ff66 0.0px,#eeff09 8.1px,#f8f500 8.8px,#feed00 9.5px,#ff2500 24.4px,#ff1300 35.2px,#e80000 46.6px,#e40000 48.8px,#e80000 55.3px,#f10800 73.1px,#ff1300 74.7px,#ff9c00 97.5px,#feed00 121.0px,#feed00 121.9px,#f8f500 124.1px,#eeff09 127.4px,#c1ff36 146.2px,#baff3c 170.6px,#adff49 195.0px,#8aff6d 219.4px,#7dff7a 243.8px,#16ffe1 264.7px,#02e8f4 268.1px,#00e4f8 270.5px,#00dcfe 276.0px,#00bcff 292.5px)"></i><i style="background:linear-gradient(90deg,#aaff4d 0.0px,#eeff09 5.0px,#f8f500 5.7px,#feed00 6.3px,#ff1300 20.4px,#e80000 21.6px,#b20000 24.4px,#840000 48.8px,#b20000 73.1px,#e80000 79.8px,#ff1300 82.7px,#ff7300 97.5px,#ffe200 121.9px,#feed00 124.7px,#f8f500 127.8px,#eeff09 130.8px,#c4ff33 146.2px,#adff49 170.6px,#adff49 195.0px,#7dff7a 219.4px,#7dff7a 243.8px,#16ffe1 267.0px,#0ff8e7 268.1px,#00e4f8 276.0px,#00dcfe 280.1px,#00bcff 292.5px)"></i><i style="background:linear-gradient(90deg,#f1fc06 0.0px,#f8f500 0.7px,#feed00 1.4px,#ff1300 18.5px,#e80000 20.0px,#9f0000 24.4px,#800000 48.8px,#9f0000 73.1px,#e80000 81.9px,#ff1300 84.8px,#ff6400 97.5px,#ffd300 121.9px,#feed00 128.5px,#f8f500 131.2px,#eeff09 134.0px,#caff2c 146.2px,#adff49 170.6px,#b7ff40 195.0px,#87ff70 219.4px,#7dff7a 243.8px,#29ffce 268.1px,#16ffe1 277.9px,#00e4f8 287.7px,#00dcfe 291.6px,#00d8ff 292.5px)"></i><i style="background:linear-gradient(90deg,#ffab00 0.0px,#ff1300 15.8px,#e80000 17.7px,#960000 24.4px,#800000 48.8px,#960000 73.1px,#e80000 83.6px,#ff1300 86.7px,#ff5500 97.5px,#ffc800 121.9px,#feed00 131.6px,#f8f500 134.1px,#eeff09 136.7px,#d1ff26 146.2px,#adff49 170.6px,#c4ff33 195.0px,#94ff63 219.4px,#7dff7a 243.8px,#43ffb4 268.1px,#16ffe1 289.6px,#0ff8e7 292.5px)"></i><i style="background:linear-gradient(90deg,#ff5900 0.0px,#ff1300 10.7px,#e80000 13.4px,#890000 24.4px,#800000 48.8px,#890000 73.1px,#e80000 85.5px,#ff1300 88.6px,#ff4700 97.5px,#ffb900 121.9px,#feed00 134.2px,#f8f500 136.5px,#eeff09 138.9px,#d4ff23 146.2px,#adff49 170.6px,#d1ff26 195.0px,#a0ff56 219.4px,#7dff7a 243.8px,#5dff9a 268.1px,#26ffd1 292.5px)"></i><i style="background:linear-gradient(90deg,#f10800 0.0px,#e80000 2.6px,#800000 24.4px,#800000 73.1px,#e80000 87.5px,#ff1300 90.7px,#ff3800 97.5px,#ffab00 121.9px,#feed00 136.5px,#f8f500 138.6px,#eeff09 140.7px,#dbff1c 146.2px,#adff49 170.6px,#deff19 195.0px,#aaff4d 219.4px,#7dff7a 243.8px,#77ff80 268.1px,#40ffb7 292.5px)"></i><i style="background:linear-gradient(90deg,#d10000 0.0px,#800000 24.4px,#800000 73.1px,#e80000 89.1px,#ff1300 92.7px,#ff2d00 97.5px,#ff9c00 121.9px,#feed00 136.1px,#f8f500 137.8px,#eeff09 139.6px,#ceff29 146.2px,#a4ff53 170.6px,#caff2c 195.0px,#adff49 219.4px,#7dff7a 243.8px,#70ff87 268.1px,#43ffb4 292.5px)"></i><i style="background:linear-gradient(90deg,#b60000 0.0px,#800000 24.4px,#800000 73.1px,#e80000 91.1px,#ff1300 95.0px,#ff1e00 97.5px,#ff9100 121.9px,#feed00 135.7px,#f8f500 137.1px,#eeff09 138.5px,#c1ff36 146.2px,#97ff60 170.6px,#b1ff46 195.0px,#adff49 219.4px,#7dff7a 243.8px,#60ff97 268.1px,#43ffb4 292.5px)"></i><i style="background:linear-gradient(90deg,#9b0000 0.0px,#800000 24.4px,#800000 73.1px,#e80000 93.5px,#fa0f00 97.5px,#ff1300 98.0px,#ff8200 121.9px,#feed00 135.3px,#f8f500 136.5px,#eeff09 137.7px,#b4ff43 146.2px,#8aff6d 170.6px,#97ff60 195.0px,#adff49 219.4px,#7dff7a 243.8px,#53ffa4 268.1px,#43ffb4 292.5px)"></i><i style="background:linear-gradient(90deg,#840000 0.0px,#800000 24.4px,#800000 73.1px,#e80000 96.8px,#e80000 97.5px,#ff1300 101.0px,#ff7300 121.9px,#feed00 135.1px,#f8f500 136.2px,#eeff09 137.2px,#a7ff50 146.2px,#7dff7a 170.6px,#80ff77 195.0px,#adff49 219.4px,#7dff7a 243.8px,#43ffb4 268.1px,#43ffb4 292.5px)"></i><i style="background:linear-gradient(90deg,#800000 0.0px,#800000 48.8px,#920000 73.1px,#e80000 91.4px,#ff1300 96.5px,#ff1600 97.5px,#ff7a00 121.9px,#feed00 133.9px,#f8f500 134.9px,#eeff09 135.9px,#9aff5d 146.2px,#70ff87 170.6px,#87ff70 195.0px,#b7ff40 219.4px,#87ff70 243.8px,#43ffb4 268.1px,#43ffb4 292.5px)"></i><i style="background:linear-gradient(90deg,#800000 0.0px,#800000 48.8px,#ad0000 73.1px,#e80000 84.9px,#ff1300 89.6px,#ff3000 97.5px,#ff8900 121.9px,#feed00 132.5px,#f8f500 133.5px,#eeff09 134.5px,#90ff66 146.2px,#63ff94 170.6px,#90ff66 195.0px,#c4ff33 219.4px,#90ff66 243.8px,#43ffb4 268.1px,#43ffb4 292.5px)"></i><i style="background:linear-gradient(90deg,#800000 0.0px,#800000 48.8px,#c40000 73.1px,#e80000 79.2px,#ff1300 83.6px,#ff4e00 97.5px,#ff9800 121.9px,#feed00 131.0px,#f8f500 132.0px,#eeff09 133.1px,#87ff70 146.2px,#53ffa4 170.6px,#9dff5a 195.0px,#ceff29 219.4px,#9dff5a 243.8px,#43ffb4 268.1px,#43ffb4 292.5px)"></i><i style="background:linear-gradient(90deg,#800000 0.0px,#800000 48.8px,#df0000 73.1px,#e80000 74.3px,#ff1300 78.4px,#ff6800 97.5px,#ffa700 121.9px,#feed00 129.5px,#f8f500 130.5px,#eeff09 131.6px,#7aff7d 146.2px,#46ffb1 170.6px,#aaff4d 195.0px,#dbff1c 219.4px,#aaff4d 243.8px,#43ffb4 268.1px,#43ffb4 292.5px)"></i><i style="background:linear-gradient(90deg,#840000 0.0px,#800000 24.4px,#840000 48.8px,#e80000 70.2px,#f10800 73.1px,#ff1300 74.9px,#ff7a00 97.5px,#ffbd00 121.9px,#feed00 127.5px,#f8f500 128.7px,#eeff09 129.8px,#77ff80 146.2px,#43ffb4 170.6px,#adff49 195.0px,#d4ff23 219.4px,#a4ff53 243.8px,#39ffbe 268.1px,#43ffb4 292.5px)"></i><i style="background:linear-gradient(90deg,#920000 0.0px,#800000 24.4px,#920000 48.8px,#e80000 66.7px,#ff1300 71.7px,#ff1600 73.1px,#ff8900 97.5px,#ffd700 121.9px,#feed00 124.8px,#f8f500 126.1px,#eeff09 127.4px,#77ff80 146.2px,#43ffb4 170.6px,#adff49 195.0px,#caff2c 219.4px,#97ff60 243.8px,#2cffca 268.1px,#43ffb4 292.5px)"></i><i style="background:linear-gradient(90deg,#9b0000 0.0px,#800000 24.4px,#9b0000 48.8px,#e80000 63.6px,#ff1300 68.3px,#ff2500 73.1px,#ff9800 97.5px,#feed00 120.7px,#fbf100 121.9px,#f8f500 122.7px,#eeff09 124.2px,#77ff80 146.2px,#43ffb4 170.6px,#adff49 195.0px,#beff39 219.4px,#8aff6d 243.8px,#1fffd7 268.1px,#43ffb4 292.5px)"></i><i style="background:linear-gradient(90deg,#a80000 0.0px,#800000 24.4px,#a80000 48.8px,#e80000 60.7px,#ff1300 65.2px,#ff3400 73.1px,#ffa300 97.5px,#feed00 114.6px,#f8f500 116.9px,#eeff09 119.2px,#e4ff13 121.9px,#77ff80 146.2px,#43ffb4 170.6px,#adff49 195.0px,#b1ff46 219.4px,#80ff77 243.8px,#16ffe1 268.1px,#13fce4 268.1px,#16ffe1 268.3px,#43ffb4 292.5px)"></i><i style="background:linear-gradient(90deg,#b60000 0.0px,#9b0000 24.4px,#cd0000 48.8px,#e80000 54.4px,#ff1300 59.7px,#ff3f00 73.1px,#ffb200 97.5px,#feed00 110.8px,#f8f500 113.0px,#eeff09 115.2px,#d7ff1f 121.9px,#6aff8d 146.2px,#43ffb4 170.6px,#a4ff53 195.0px,#9aff5d 219.4px,#70ff87 243.8px,#23ffd4 268.1px,#4dffaa 292.5px)"></i><i style="background:linear-gradient(90deg,#c40000 0.0px,#c40000 24.4px,#e80000 38.3px,#ff1300 48.4px,#ff1300 48.8px,#ff4e00 73.1px,#ffc100 97.5px,#feed00 107.5px,#f8f500 109.7px,#eeff09 111.9px,#caff2c 121.9px,#5aff9d 146.2px,#43ffb4 170.6px,#97ff60 195.0px,#80ff77 219.4px,#63ff94 243.8px,#3cffba 268.1px,#5aff9d 292.5px)"></i><i style="background:linear-gradient(90deg,#d10000 0.0px,#e80000 15.8px,#f10800 24.4px,#ff1300 29.3px,#ff3b00 48.8px,#ff5d00 73.1px,#ffd000 97.5px,#feed00 104.2px,#f8f500 106.4px,#eeff09 108.6px,#beff39 121.9px,#46ffb1 146.2px,#43ffb4 170.6px,#8dff6a 195.0px,#66ff90 219.4px,#56ffa0 243.8px,#56ffa0 268.1px,#66ff90 292.5px)"></i><i style="background:linear-gradient(90deg,#df0000 0.0px,#e80000 2.2px,#ff1300 11.8px,#ff2900 24.4px,#ff6000 48.8px,#ff6c00 73.1px,#ffde00 97.5px,#feed00 100.9px,#f8f500 103.2px,#eeff09 105.4px,#b1ff46 121.9px,#33ffc4 146.2px,#43ffb4 170.6px,#80ff77 195.0px,#4dffaa 219.4px,#46ffb1 243.8px,#70ff87 268.1px,#77ff80 292.5px)"></i><i style="background:linear-gradient(90deg,#fa0f00 0.0px,#ff1300 0.9px,#ff3800 24.4px,#ff6f00 48.8px,#ff7a00 73.1px,#ffe200 97.5px,#feed00 99.9px,#f8f500 102.3px,#eeff09 104.8px,#b4ff43 121.9px,#30ffc7 146.2px,#49ffad 170.6px,#83ff73 195.0px,#53ffa4 219.4px,#5aff9d 243.8px,#83ff73 268.1px,#83ff73 292.5px)"></i><i style="background:linear-gradient(90deg,#ff2d00 0.0px,#ff3800 24.4px,#ff6f00 48.8px,#ff8600 73.1px,#ffe200 97.5px,#feed00 100.3px,#f8f500 103.2px,#eeff09 106.0px,#c1ff36 121.9px,#36ffc1 146.2px,#5aff9d 170.6px,#90ff66 195.0px,#6dff8a 219.4px,#80ff77 243.8px,#90ff66 268.1px,#90ff66 292.5px)"></i><i style="background:linear-gradient(90deg,#ff4700 0.0px,#ff3800 24.4px,#ff6f00 48.8px,#ff9400 73.1px,#ffe200 97.5px,#feed00 100.9px,#f8f500 104.3px,#eeff09 107.8px,#ceff29 121.9px,#3cffba 146.2px,#66ff90 170.6px,#9aff5d 195.0px,#87ff70 219.4px,#a7ff50 243.8px,#9aff5d 268.1px,#9aff5d 292.5px)"></i><i style="background:linear-gradient(90deg,#ff6400 0.0px,#ff3800 24.4px,#ff6f00 48.8px,#ffa300 73.1px,#ffe200 97.5px,#feed00 101.8px,#f8f500 106.1px,#eeff09 110.5px,#dbff1c 121.9px,#43ffb4 146.2px,#77ff80 170.6px,#a7ff50 195.0px,#a0ff56 219.4px,#ceff29 243.8px,#a7ff50 268.1px,#a7ff50 292.5px)"></i><i style="background:linear-gradient(90deg,#ff8600 0.0px,#ff4700 24.4px,#ff6f00 48.8px,#ffab00 73.1px,#ffea00 97.5px,#feed00 99.0px,#f8f500 103.7px,#eeff09 108.4px,#d7ff1f 121.9px,#4dffaa 146.2px,#83ff73 170.6px,#adff49 195.0px,#adff49 219.4px,#d7ff1f 243.8px,#b4ff43 268.1px,#b4ff43 292.5px)"></i><i style="background:linear-gradient(90deg,#ffae00 0.0px,#ff6400 24.4px,#ff6f00 48.8px,#ffab00 73.1px,#feed00 94.7px,#f8f500 97.5px,#f8f500 97.8px,#eeff09 102.4px,#caff2c 121.9px,#5aff9d 146.2px,#8dff6a 170.6px,#adff49 195.0px,#adff49 219.4px,#caff2c 243.8px,#c1ff36 268.1px,#c1ff36 292.5px)"></i><i style="background:linear-gradient(90deg,#ffd700 0.0px,#ff7e00 24.4px,#ff6f00 48.8px,#ffab00 73.1px,#feed00 91.8px,#f8f500 94.4px,#eeff09 97.1px,#eeff09 97.5px,#c1ff36 121.9px,#66ff90 146.2px,#9aff5d 170.6px,#adff49 195.0px,#adff49 219.4px,#c1ff36 243.8px,#ceff29 268.1px,#ceff29 292.5px)"></i><i style="background:linear-gradient(90deg,#f1fc06 0.0px,#f8f500 2.1px,#feed00 4.5px,#ff9c00 24.4px,#ff6f00 48.8px,#ffab00 73.1px,#feed00 89.6px,#f8f500 91.9px,#eeff09 94.2px,#e4ff13 97.5px,#b4ff43 121.9px,#73ff83 146.2px,#a7ff50 170.6px,#adff49 195.0px,#adff49 219.4px,#b4ff43 243.8px,#d7ff1f 268.1px,#d7ff1f 292.5px)"></i></div><div class=hm style="left:47.00px;top:253.00px;width:289.00px;height:128.00px"><i style="background:linear-gradient(90deg,#ff9c00 0.0px,#ff1300 21.2px,#e80000 24.1px,#bb0000 48.2px,#a40000 72.2px,#a40000 96.3px,#e80000 120.4px,#e80000 152.5px,#df0000 168.6px,#ad0000 192.7px,#b20000 216.8px,#840000 240.8px,#9b0000 264.9px,#ad0000 289.0px)"></i><i style="background:linear-gradient(90deg,#ff7e00 0.0px,#ff1300 20.5px,#e80000 24.1px,#da0000 48.2px,#e80000 58.7px,#f10800 72.2px,#e80000 75.8px,#9b0000 96.3px,#e80000 120.4px,#ff1300 128.3px,#ff3800 144.5px,#ff4700 168.6px,#ff1300 179.4px,#e80000 183.2px,#ad0000 192.7px,#c40000 216.8px,#8d0000 240.8px,#da0000 264.9px,#ad0000 289.0px)"></i><i style="background:linear-gradient(90deg,#ff6000 0.0px,#ff1300 19.5px,#e80000 24.1px,#fa0f00 48.2px,#ff1300 48.7px,#ff4a00 72.2px,#ff1300 81.5px,#e80000 84.6px,#8d0000 96.3px,#e80000 120.4px,#ff1300 124.5px,#ff6f00 144.5px,#ff9800 168.6px,#ff1300 184.7px,#e80000 187.0px,#ad0000 192.7px,#d10000 216.8px,#9b0000 240.8px,#e80000 255.6px,#ff1300 260.1px,#ff2500 264.9px,#ff1300 270.5px,#e80000 275.8px,#ad0000 289.0px)"></i><i style="background:linear-gradient(90deg,#ff4700 0.0px,#ff1300 17.7px,#e80000 24.1px,#ff1300 34.5px,#ff2900 48.2px,#ff8900 72.2px,#ff1300 85.4px,#e80000 87.5px,#840000 96.3px,#e80000 120.4px,#ff1300 123.1px,#ffa700 144.5px,#ffea00 168.6px,#ff1300 187.0px,#e80000 188.6px,#ad0000 192.7px,#df0000 216.8px,#a40000 240.8px,#e80000 249.7px,#ff1300 253.0px,#ff5900 264.9px,#ff1300 277.3px,#e80000 280.6px,#ad0000 289.0px)"></i><i style="background:linear-gradient(90deg,#ff3800 0.0px,#ff1300 18.3px,#ed0400 24.1px,#ff1300 30.8px,#ff3000 48.2px,#ffb600 72.2px,#ff1300 87.0px,#e80000 88.7px,#800000 96.3px,#e80000 117.0px,#f60b00 120.4px,#ff1300 121.1px,#ffbd00 144.5px,#feed00 157.7px,#f8f500 160.4px,#eeff09 163.2px,#deff19 168.6px,#eeff09 170.0px,#f8f500 170.7px,#feed00 171.4px,#ff1300 187.7px,#e80000 189.1px,#ad0000 192.7px,#e80000 216.8px,#ad0000 240.8px,#e80000 247.3px,#ff1300 249.9px,#ff7e00 264.9px,#ff1300 279.9px,#e80000 282.5px,#ad0000 289.0px)"></i><i style="background:linear-gradient(90deg,#ff3800 0.0px,#ff1300 24.1px,#ff2200 48.2px,#ffd000 72.2px,#ff1300 87.8px,#e80000 89.4px,#800000 96.3px,#e80000 112.4px,#ff1300 116.0px,#ff2900 120.4px,#ffb600 144.5px,#feed00 158.6px,#f8f500 161.1px,#eeff09 163.6px,#deff19 168.6px,#eeff09 170.0px,#f8f500 170.7px,#feed00 171.4px,#ff1300 187.7px,#e80000 189.1px,#ad0000 192.7px,#e80000 216.7px,#e80000 216.8px,#ad0000 240.8px,#e80000 246.4px,#ff1300 248.7px,#ff9c00 264.9px,#ff1300 281.2px,#e80000 283.4px,#ad0000 289.0px)"></i><i style="background:linear-gradient(90deg,#ff3800 0.0px,#ff2200 24.1px,#ff1300 48.2px,#ffea00 72.2px,#ff1300 88.5px,#e80000 89.9px,#800000 96.3px,#e80000 109.5px,#ff1300 112.4px,#ff4700 120.4px,#ffae00 144.5px,#feed00 159.3px,#f8f500 161.6px,#eeff09 163.9px,#deff19 168.6px,#eeff09 170.0px,#f8f500 170.7px,#feed00 171.4px,#ff1300 187.7px,#e80000 189.1px,#ad0000 192.7px,#e80000 216.7px,#e80000 216.8px,#ad0000 240.8px,#e80000 245.7px,#ff1300 247.7px,#ffb600 264.9px,#ff1300 282.1px,#e80000 284.1px,#ad0000 289.0px)"></i><i style="background:linear-gradient(90deg,#ff3800 0.0px,#ff3000 24.1px,#ff1300 41.5px,#ed0400 48.2px,#ff1300 49.3px,#feed00 69.9px,#f8f500 70.8px,#eeff09 71.7px,#ebff0c 72.2px,#eeff09 72.7px,#f8f500 73.3px,#feed00 74.0px,#ff1300 89.1px,#e80000 90.4px,#800000 96.3px,#e80000 107.4px,#ff1300 109.9px,#ff6000 120.4px,#ffa700 144.5px,#feed00 159.9px,#f8f500 162.1px,#eeff09 164.3px,#deff19 168.6px,#eeff09 170.0px,#f8f500 170.7px,#feed00 171.4px,#ff1300 187.7px,#e80000 189.1px,#ad0000 192.7px,#e80000 216.8px,#ad0000 240.8px,#e80000 245.2px,#ff1300 247.0px,#ffd300 264.9px,#ff1300 282.9px,#e80000 284.6px,#ad0000 289.0px)"></i><i style="background:linear-gradient(90deg,#ff3000 0.0px,#ff3800 24.1px,#ff1300 40.1px,#e80000 48.2px,#ff1300 50.1px,#ffea00 72.2px,#ff1300 88.7px,#e80000 90.2px,#840000 96.3px,#e80000 107.1px,#ff1300 109.6px,#ff6000 120.4px,#ff9400 144.5px,#feed00 166.0px,#f8f500 168.3px,#f8f500 168.7px,#feed00 169.4px,#ff1300 187.0px,#e80000 188.5px,#a40000 192.7px,#df0000 216.8px,#ad0000 240.8px,#e80000 245.3px,#ff1300 247.1px,#ffcc00 264.9px,#ff1300 283.1px,#e80000 285.0px,#b20000 289.0px)"></i><i style="background:linear-gradient(90deg,#ff2200 0.0px,#ff3800 24.1px,#ff1300 40.1px,#e80000 48.2px,#ff1300 51.1px,#ff9800 72.2px,#ff1300 86.7px,#e80000 88.7px,#8d0000 96.3px,#e80000 108.4px,#ff1300 111.6px,#ff4700 120.4px,#ff7300 144.5px,#ffc100 168.6px,#ff1300 185.0px,#e80000 186.8px,#9b0000 192.7px,#d10000 216.8px,#ad0000 240.8px,#e80000 246.2px,#ff1300 248.4px,#ffa300 264.9px,#ff1300 282.9px,#e80000 285.3px,#c40000 289.0px)"></i><i style="background:linear-gradient(90deg,#ff1300 0.0px,#ff3800 24.1px,#ff1300 40.1px,#e80000 48.2px,#ff1300 54.4px,#ff4700 72.2px,#ff1300 82.0px,#e80000 85.3px,#9b0000 96.3px,#e80000 110.6px,#ff1300 114.9px,#ff2900 120.4px,#ff5200 144.5px,#ff8900 168.6px,#ff1300 182.3px,#e80000 184.5px,#8d0000 192.7px,#c40000 216.8px,#ad0000 240.8px,#e80000 247.6px,#ff1300 250.3px,#ff7700 264.9px,#ff1300 282.6px,#e80000 285.9px,#d10000 289.0px)"></i><i style="background:linear-gradient(90deg,#ed0400 0.0px,#ff1300 5.7px,#ff3800 24.1px,#ff1300 40.1px,#e80000 48.2px,#df0000 72.2px,#a40000 96.3px,#e80000 115.3px,#f60b00 120.4px,#ff1300 123.6px,#ff3000 144.5px,#ff5200 168.6px,#ff1300 178.1px,#e80000 180.9px,#840000 192.7px,#b20000 216.8px,#ad0000 240.8px,#e80000 249.9px,#ff1300 253.6px,#ff4e00 264.9px,#ff1300 281.9px,#e80000 287.3px,#df0000 289.0px)"></i><i style="background:linear-gradient(90deg,#e80000 0.0px,#ff1300 9.2px,#ff3000 24.1px,#ff1300 39.0px,#e80000 48.2px,#ad0000 72.2px,#a40000 96.3px,#df0000 120.4px,#e80000 124.9px,#ff1300 139.1px,#ff1a00 144.5px,#ff2900 168.6px,#ff1300 173.2px,#e80000 176.8px,#800000 192.7px,#a40000 216.8px,#a40000 240.8px,#e80000 253.2px,#ff1300 257.6px,#ff3000 264.9px,#ff1300 279.8px,#e80000 289.0px)"></i><i style="background:linear-gradient(90deg,#e80000 0.0px,#ff1300 12.8px,#ff2200 24.1px,#ff1300 35.3px,#e80000 48.2px,#ad0000 72.2px,#9b0000 96.3px,#d10000 120.4px,#e80000 134.9px,#f60b00 144.5px,#fa0f00 168.6px,#e80000 172.7px,#800000 192.7px,#9b0000 216.8px,#9b0000 240.8px,#e80000 256.1px,#ff1300 260.8px,#ff2200 264.9px,#ff1300 276.2px,#e80000 289.0px)"></i><i style="background:linear-gradient(90deg,#e80000 0.0px,#ff1300 21.4px,#ff1300 26.8px,#e80000 48.2px,#ad0000 72.2px,#8d0000 96.3px,#c40000 120.4px,#e40000 144.5px,#da0000 168.6px,#800000 192.7px,#8d0000 216.8px,#8d0000 240.8px,#e80000 259.4px,#ff1300 264.3px,#ff1300 267.6px,#e80000 289.0px)"></i><i style="background:linear-gradient(90deg,#e80000 0.0px,#ed0400 24.1px,#e80000 48.2px,#ad0000 72.2px,#840000 96.3px,#b20000 120.4px,#d10000 144.5px,#bb0000 168.6px,#800000 192.7px,#840000 216.8px,#840000 240.8px,#e80000 263.0px,#ed0400 264.9px,#e80000 289.0px)"></i><i style="background:linear-gradient(90deg,#ed0400 0.0px,#e80000 24.1px,#df0000 48.2px,#ad0000 72.2px,#800000 96.3px,#ad0000 120.4px,#c40000 144.5px,#a40000 168.6px,#800000 192.7px,#800000 240.8px,#df0000 264.9px,#e80000 275.9px,#ed0400 289.0px)"></i><i style="background:linear-gradient(90deg,#ff1300 0.0px,#ff1300 2.7px,#e80000 24.1px,#d10000 48.2px,#ad0000 72.2px,#800000 96.3px,#ad0000 120.4px,#bf0000 144.5px,#9b0000 168.6px,#800000 192.7px,#800000 240.8px,#d10000 264.9px,#e80000 275.9px,#ff1300 287.5px,#ff1300 289.0px)"></i><i style="background:linear-gradient(90deg,#ff2200 0.0px,#ff1300 11.2px,#e80000 24.1px,#c40000 48.2px,#ad0000 72.2px,#800000 96.3px,#ad0000 120.4px,#b60000 144.5px,#8d0000 168.6px,#800000 192.7px,#800000 240.8px,#c40000 264.9px,#e80000 275.9px,#ff1300 282.9px,#ff2200 289.0px)"></i><i style="background:linear-gradient(90deg,#ff3000 0.0px,#ff1300 14.9px,#e80000 24.1px,#b20000 48.2px,#ad0000 72.2px,#800000 96.3px,#ad0000 120.4px,#b20000 144.5px,#840000 168.6px,#800000 192.7px,#800000 240.8px,#b20000 264.9px,#e80000 275.9px,#ff1300 280.9px,#ff3000 289.0px)"></i><i style="background:linear-gradient(90deg,#ff3800 0.0px,#ff1300 16.1px,#e80000 24.1px,#ad0000 48.2px,#a40000 72.2px,#800000 96.3px,#ad0000 120.4px,#b20000 144.5px,#840000 168.6px,#800000 192.7px,#800000 240.8px,#a40000 264.9px,#e80000 276.4px,#ff1300 280.6px,#ff3800 289.0px)"></i><i style="background:linear-gradient(90deg,#ff3800 0.0px,#ff1300 16.1px,#e80000 24.1px,#ad0000 48.2px,#9b0000 72.2px,#800000 96.3px,#ad0000 120.4px,#c40000 144.5px,#8d0000 168.6px,#800000 192.7px,#800000 240.8px,#9b0000 264.9px,#e80000 277.4px,#ff1300 281.3px,#ff3800 289.0px)"></i><i style="background:linear-gradient(90deg,#ff3800 0.0px,#ff1300 16.1px,#e80000 24.1px,#ad0000 48.2px,#8d0000 72.2px,#800000 96.3px,#ad0000 120.4px,#d60000 144.5px,#9b0000 168.6px,#800000 192.7px,#800000 240.8px,#8d0000 264.9px,#e80000 278.3px,#ff1300 281.9px,#ff3800 289.0px)"></i><i style="background:linear-gradient(90deg,#ff3800 0.0px,#ff1300 16.1px,#e80000 24.1px,#ad0000 48.2px,#840000 72.2px,#800000 96.3px,#ad0000 120.4px,#e40000 144.5px,#a40000 168.6px,#800000 192.7px,#800000 240.8px,#840000 264.9px,#e80000 279.0px,#ff1300 282.4px,#ff3800 289.0px)"></i><i style="background:linear-gradient(90deg,#ff3800 0.0px,#ff1300 16.1px,#e80000 24.1px,#b20000 48.2px,#840000 72.2px,#840000 96.3px,#ad0000 120.4px,#e80000 140.9px,#f10800 144.5px,#e80000 148.5px,#b20000 168.6px,#840000 192.7px,#800000 216.8px,#800000 240.8px,#890000 264.9px,#e80000 280.1px,#ff1300 283.9px,#ff2900 289.0px)"></i><i style="background:linear-gradient(90deg,#ff3800 0.0px,#ff1300 16.1px,#e80000 24.1px,#c40000 48.2px,#8d0000 72.2px,#8d0000 96.3px,#ad0000 120.4px,#e80000 138.6px,#fa0f00 144.5px,#e80000 152.7px,#c40000 168.6px,#8d0000 192.7px,#800000 216.8px,#800000 240.8px,#a40000 264.9px,#e80000 283.0px,#fa0f00 289.0px)"></i><i style="background:linear-gradient(90deg,#ff3800 0.0px,#ff1300 16.1px,#e80000 24.1px,#d10000 48.2px,#9b0000 72.2px,#9b0000 96.3px,#ad0000 120.4px,#e80000 136.7px,#ff1300 143.3px,#ff1600 144.5px,#ff1300 146.6px,#e80000 158.0px,#d10000 168.6px,#9b0000 192.7px,#800000 216.8px,#800000 240.8px,#bf0000 264.9px,#da0000 289.0px)"></i><i style="background:linear-gradient(90deg,#ff3800 0.0px,#ff1300 16.1px,#e80000 24.1px,#df0000 48.2px,#a40000 72.2px,#a40000 96.3px,#ad0000 120.4px,#e80000 135.2px,#ff1300 141.2px,#ff1e00 144.5px,#ff1300 151.7px,#e80000 164.6px,#df0000 168.6px,#a40000 192.7px,#800000 216.8px,#800000 240.8px,#da0000 264.9px,#bb0000 289.0px)"></i><i style="background:linear-gradient(90deg,#ff3800 0.0px,#ff1300 18.3px,#ed0400 24.1px,#e80000 48.2px,#b20000 72.2px,#b20000 120.4px,#e80000 133.3px,#ff1300 139.2px,#ff2200 144.5px,#ff1300 158.8px,#ed0400 168.6px,#e80000 172.1px,#b20000 192.7px,#840000 216.8px,#800000 240.8px,#e80000 264.9px,#bb0000 289.0px)"></i><i style="background:linear-gradient(90deg,#ff3800 0.0px,#ff1300 24.1px,#ff1300 26.8px,#e80000 48.2px,#c40000 72.2px,#c40000 120.4px,#e80000 130.4px,#ff1300 136.7px,#ff2900 144.5px,#ff1300 168.6px,#ff1300 169.7px,#e80000 178.7px,#c40000 192.7px,#8d0000 216.8px,#800000 240.8px,#e80000 264.9px,#da0000 289.0px)"></i><i style="background:linear-gradient(90deg,#ff3800 0.0px,#ff2200 24.1px,#ff1300 35.3px,#e80000 48.2px,#d10000 72.2px,#d10000 120.4px,#e80000 126.9px,#ff1300 133.9px,#ff2d00 144.5px,#ff2200 168.6px,#ff1300 176.1px,#e80000 184.6px,#d10000 192.7px,#9b0000 216.8px,#800000 240.8px,#e80000 264.9px,#fa0f00 289.0px)"></i><i style="background:linear-gradient(90deg,#ff3800 0.0px,#ff3000 24.1px,#ff1300 39.0px,#e80000 48.2px,#df0000 72.2px,#df0000 120.4px,#e80000 122.8px,#ff1300 130.4px,#ff3400 144.5px,#ff3000 168.6px,#ff1300 181.9px,#e80000 190.1px,#df0000 192.7px,#a40000 216.8px,#800000 240.8px,#e80000 264.9px,#ff1300 275.3px,#ff2900 289.0px)"></i><i style="background:linear-gradient(90deg,#ff3800 0.0px,#ff3800 24.1px,#ff1300 42.4px,#ed0400 48.2px,#e80000 72.2px,#ed0400 96.3px,#ed0400 120.4px,#ff1300 125.8px,#ff3b00 144.5px,#ff3f00 168.6px,#ff1300 190.4px,#f60b00 192.7px,#e80000 199.7px,#bb0000 216.8px,#890000 240.8px,#e80000 257.3px,#ff1300 261.5px,#ff2200 264.9px,#ff5900 289.0px)"></i><i style="background:linear-gradient(90deg,#ff3800 0.0px,#ff3800 24.1px,#ff1300 48.2px,#ff1300 50.8px,#e80000 72.2px,#ff1300 93.7px,#ff1300 120.4px,#ff4300 144.5px,#ff4e00 168.6px,#ff2900 192.7px,#ff1300 203.9px,#e80000 212.8px,#da0000 216.8px,#a40000 240.8px,#e80000 249.0px,#ff1300 252.0px,#ff6400 264.9px,#ff9f00 289.0px)"></i><i style="background:linear-gradient(90deg,#ff3800 0.0px,#ff3800 24.1px,#ff2200 48.2px,#ff1300 59.4px,#e80000 72.2px,#ff1300 85.1px,#ff2200 96.3px,#ff2200 120.4px,#ff4a00 144.5px,#ff5900 168.6px,#ff4700 192.7px,#ff1300 216.2px,#fa0f00 216.8px,#e80000 225.4px,#bf0000 240.8px,#e80000 244.6px,#ff1300 246.9px,#ffab00 264.9px,#ffe200 289.0px)"></i><i style="background:linear-gradient(90deg,#ff3800 0.0px,#ff3800 24.1px,#ff3000 48.2px,#ff1300 63.1px,#e80000 72.2px,#ff1300 81.4px,#ff3000 96.3px,#ff3000 120.4px,#ff5200 144.5px,#ff6800 168.6px,#ff6000 192.7px,#ff2900 216.8px,#ff1300 227.7px,#e80000 236.1px,#da0000 240.8px,#e80000 241.9px,#ff1300 243.7px,#feed00 264.6px,#feed00 264.9px,#f8f500 267.4px,#eeff09 271.4px,#caff2c 289.0px)"></i><i style="background:linear-gradient(90deg,#ff3f00 0.0px,#ff3f00 48.2px,#ff1300 67.2px,#ed0400 72.2px,#ff1300 78.0px,#ff3800 96.3px,#ff3f00 120.4px,#ff5900 144.5px,#ff7e00 168.6px,#ff7e00 192.7px,#ff4e00 216.8px,#ff1a00 240.8px,#feed00 260.6px,#f8f500 261.5px,#eeff09 262.4px,#d7ff1f 264.9px,#a7ff50 289.0px)"></i><i style="background:linear-gradient(90deg,#ff4e00 0.0px,#ff4e00 48.2px,#ff1300 72.2px,#ff3800 96.3px,#ff4e00 120.4px,#ff5d00 144.5px,#ff9c00 168.6px,#ff9c00 192.7px,#ff7700 216.8px,#ff5500 240.8px,#feed00 258.2px,#f8f500 259.2px,#eeff09 260.3px,#caff2c 264.9px,#9aff5d 289.0px)"></i><i style="background:linear-gradient(90deg,#ff5900 0.0px,#ff5900 48.2px,#ff2200 72.2px,#ff3800 96.3px,#ff5900 120.4px,#ff6400 144.5px,#ffb600 168.6px,#ffb600 192.7px,#ffa300 216.8px,#ff8d00 240.8px,#feed00 254.4px,#f8f500 255.8px,#eeff09 257.1px,#c1ff36 264.9px,#8dff6a 289.0px)"></i><i style="background:linear-gradient(90deg,#ff6800 0.0px,#ff6800 48.2px,#ff3000 72.2px,#ff3800 96.3px,#ff6800 120.4px,#ff6c00 144.5px,#ffd300 168.6px,#ffd300 192.7px,#ffcc00 216.8px,#ffc400 240.8px,#feed00 248.1px,#f8f500 249.9px,#eeff09 251.7px,#b4ff43 264.9px,#80ff77 289.0px)"></i><i style="background:linear-gradient(90deg,#ff6f00 0.0px,#ff7700 24.1px,#ff6f00 48.2px,#ff3f00 72.2px,#ff3f00 96.3px,#ff6f00 120.4px,#ff7a00 144.5px,#feed00 167.8px,#feed00 192.7px,#f8f500 212.7px,#f8f500 240.8px,#eeff09 242.8px,#a0ff56 264.9px,#73ff83 289.0px)"></i><i style="background:linear-gradient(90deg,#ff6f00 0.0px,#ff8600 24.1px,#ff6f00 48.2px,#ff4e00 72.2px,#ff4e00 96.3px,#ff6f00 120.4px,#ff8d00 144.5px,#feed00 162.8px,#f8f500 164.6px,#eeff09 166.5px,#e4ff13 168.6px,#e4ff13 192.7px,#d4ff23 216.8px,#d4ff23 240.8px,#83ff73 264.9px,#66ff90 289.0px)"></i><i style="background:linear-gradient(90deg,#ff6f00 0.0px,#ff9400 24.1px,#ff6f00 48.2px,#ff5900 72.2px,#ff5900 96.3px,#ff6f00 120.4px,#ffa300 144.5px,#feed00 158.2px,#f8f500 159.9px,#eeff09 161.7px,#ceff29 168.6px,#ceff29 192.7px,#b1ff46 216.8px,#b1ff46 240.8px,#6aff8d 264.9px,#56ffa0 289.0px)"></i><i style="background:linear-gradient(90deg,#ff6f00 0.0px,#ffa300 24.1px,#ff6f00 48.2px,#ff6800 72.2px,#ff6800 96.3px,#ff6f00 120.4px,#ffb600 144.5px,#feed00 153.9px,#f8f500 155.6px,#eeff09 157.3px,#b7ff40 168.6px,#b7ff40 192.7px,#8dff6a 216.8px,#8dff6a 240.8px,#50ffa7 264.9px,#49ffad 289.0px)"></i><i style="background:linear-gradient(90deg,#ff7700 0.0px,#ffab00 24.1px,#ff7700 48.2px,#ff7700 120.4px,#ffcc00 144.5px,#feed00 149.9px,#f8f500 151.5px,#eeff09 153.1px,#a0ff56 168.6px,#a0ff56 192.7px,#73ff83 216.8px,#73ff83 240.8px,#3cffba 264.9px,#3cffba 289.0px)"></i><i style="background:linear-gradient(90deg,#ff8600 0.0px,#ffab00 24.1px,#ff8600 48.2px,#ff8600 120.4px,#ffe200 144.5px,#feed00 146.2px,#f8f500 147.7px,#eeff09 149.2px,#83ff73 168.6px,#83ff73 192.7px,#66ff90 216.8px,#66ff90 240.8px,#30ffc7 264.9px,#30ffc7 289.0px)"></i><i style="background:linear-gradient(90deg,#ff9400 0.0px,#ffab00 24.1px,#ff9400 48.2px,#ff9400 120.4px,#feed00 141.9px,#f8f500 144.2px,#f8f500 144.5px,#eeff09 145.7px,#6aff8d 168.6px,#6aff8d 192.7px,#56ffa0 216.8px,#56ffa0 240.8px,#23ffd4 264.9px,#23ffd4 289.0px)"></i><i style="background:linear-gradient(90deg,#ffa300 0.0px,#ffab00 24.1px,#ffa300 48.2px,#ffa300 120.4px,#feed00 137.2px,#f8f500 139.4px,#eeff09 141.5px,#e4ff13 144.5px,#50ffa7 168.6px,#50ffa7 192.7px,#49ffad 216.8px,#49ffad 240.8px,#16ffe1 264.9px,#16ffe1 289.0px)"></i><i style="background:linear-gradient(90deg,#ffab00 0.0px,#ffb200 24.1px,#ffb200 48.2px,#ffab00 72.2px,#ffab00 96.3px,#ffb200 120.4px,#feed00 133.4px,#f8f500 135.5px,#eeff09 137.6px,#d4ff23 144.5px,#3cffba 168.6px,#3cffba 240.8px,#16ffe1 262.6px,#0ff8e7 264.9px,#0ff8e7 289.0px)"></i><i style="background:linear-gradient(90deg,#ffab00 0.0px,#ffbd00 24.1px,#ffbd00 48.2px,#ffab00 72.2px,#ffab00 96.3px,#ffbd00 120.4px,#feed00 130.2px,#f8f500 132.3px,#eeff09 134.3px,#c7ff30 144.5px,#30ffc7 168.6px,#30ffc7 240.8px,#16ffe1 261.7px,#0ff8e7 264.9px,#0ff8e7 289.0px)"></i><i style="background:linear-gradient(90deg,#ffab00 0.0px,#ffcc00 24.1px,#ffcc00 48.2px,#ffab00 72.2px,#ffab00 96.3px,#ffcc00 120.4px,#feed00 127.0px,#f8f500 129.1px,#eeff09 131.1px,#baff3c 144.5px,#23ffd4 168.6px,#23ffd4 240.8px,#16ffe1 259.6px,#0ff8e7 264.9px,#0ff8e7 289.0px)"></i><i style="background:linear-gradient(90deg,#ffab00 0.0px,#ffdb00 24.1px,#ffdb00 48.2px,#ffab00 72.2px,#ffab00 96.3px,#ffdb00 120.4px,#feed00 123.9px,#f8f500 126.0px,#eeff09 128.0px,#aaff4d 144.5px,#16ffe1 168.6px,#16ffe1 248.9px,#0ff8e7 264.9px,#0ff8e7 289.0px)"></i><i style="background:linear-gradient(90deg,#ffb200 0.0px,#ffea00 24.1px,#ffea00 48.2px,#ffb200 72.2px,#ffb600 96.3px,#feed00 118.9px,#feed00 120.4px,#f8f500 121.7px,#eeff09 123.8px,#9dff5a 144.5px,#16ffe1 167.9px,#0ff8e7 168.6px,#09f0ee 192.7px,#09f0ee 240.8px,#0ff8e7 264.9px,#0ff8e7 289.0px)"></i><i style="background:linear-gradient(90deg,#ffbd00 0.0px,#feed00 20.3px,#f8f500 24.1px,#f8f500 48.2px,#feed00 51.9px,#ffbd00 72.2px,#ffd000 96.3px,#feed00 107.9px,#f8f500 111.9px,#eeff09 115.9px,#e4ff13 120.4px,#8aff6d 144.5px,#16ffe1 167.8px,#0ff8e7 168.6px,#00e4f8 190.0px,#00e0fb 192.7px,#00e0fb 240.8px,#00e4f8 243.5px,#0ff8e7 264.9px,#0ff8e7 289.0px)"></i><i style="background:linear-gradient(90deg,#ffcc00 0.0px,#feed00 14.6px,#f8f500 19.0px,#eeff09 23.5px,#eeff09 48.7px,#f8f500 53.2px,#feed00 57.7px,#ffcc00 72.2px,#ffea00 96.3px,#feed00 96.8px,#f8f500 100.8px,#eeff09 104.9px,#ceff29 120.4px,#7aff7d 144.5px,#16ffe1 167.6px,#0ff8e7 168.6px,#00e4f8 181.4px,#00dcfe 187.8px,#00d4ff 192.7px,#00d4ff 240.8px,#00dcfe 245.6px,#00e4f8 252.1px,#0ff8e7 264.9px,#0ff8e7 289.0px)"></i><i style="background:linear-gradient(90deg,#ffdb00 0.0px,#feed00 8.2px,#f8f500 12.9px,#eeff09 17.6px,#e4ff13 24.1px,#e4ff13 48.2px,#eeff09 54.6px,#f8f500 59.3px,#feed00 64.0px,#ffdb00 72.2px,#feed00 81.9px,#f8f500 87.4px,#eeff09 92.9px,#ebff0c 96.3px,#b7ff40 120.4px,#66ff90 144.5px,#16ffe1 167.4px,#0ff8e7 168.6px,#00e4f8 177.8px,#00dcfe 182.3px,#00c4ff 192.7px,#00c4ff 240.8px,#00dcfe 251.2px,#00e4f8 255.7px,#0ff8e7 264.9px,#0ff8e7 289.0px)"></i><i style="background:linear-gradient(90deg,#f8f500 0.0px,#eeff09 5.8px,#d7ff1f 24.1px,#deff19 48.2px,#eeff09 59.2px,#f8f500 64.7px,#feed00 70.2px,#ffea00 72.2px,#feed00 74.0px,#f8f500 78.7px,#eeff09 83.4px,#d7ff1f 96.3px,#a7ff50 120.4px,#5dff9a 144.5px,#16ffe1 167.3px,#0ff8e7 168.6px,#00e4f8 176.6px,#00dcfe 180.6px,#00bcff 192.7px,#00bcff 240.8px,#00dcfe 254.6px,#00e4f8 259.2px,#09f0ee 264.9px,#0ff8e7 289.0px)"></i><i style="background:linear-gradient(90deg,#d4ff23 0.0px,#caff2c 24.1px,#deff19 48.2px,#eeff09 63.6px,#f8f500 71.3px,#f8f500 72.8px,#eeff09 77.3px,#caff2c 96.3px,#9aff5d 120.4px,#56ffa0 144.5px,#16ffe1 167.1px,#0ff8e7 168.6px,#00e4f8 176.6px,#00dcfe 180.6px,#00bcff 192.7px,#00bcff 240.8px,#00dcfe 260.1px,#00e0fb 264.9px,#00e4f8 267.6px,#0ff8e7 289.0px)"></i><i style="background:linear-gradient(90deg,#b1ff46 0.0px,#c1ff36 24.1px,#deff19 48.2px,#eeff09 72.2px,#c1ff36 96.3px,#8dff6a 120.4px,#50ffa7 144.5px,#16ffe1 167.0px,#0ff8e7 168.6px,#00e4f8 176.6px,#00dcfe 180.6px,#00bcff 192.7px,#00bcff 240.8px,#00d4ff 264.9px,#00dcfe 269.7px,#00e4f8 276.2px,#0ff8e7 289.0px)"></i><i style="background:linear-gradient(90deg,#8dff6a 0.0px,#b4ff43 24.1px,#deff19 48.2px,#e4ff13 72.2px,#b4ff43 96.3px,#80ff77 120.4px,#49ffad 144.5px,#16ffe1 166.8px,#0ff8e7 168.6px,#00e4f8 176.6px,#00dcfe 180.6px,#00bcff 192.7px,#00bcff 240.8px,#00c4ff 264.9px,#00dcfe 275.2px,#00e4f8 279.8px,#0ff8e7 289.0px)"></i><i style="background:linear-gradient(90deg,#73ff83 0.0px,#aaff4d 24.1px,#deff19 48.2px,#deff19 72.2px,#adff49 96.3px,#7dff7a 120.4px,#46ffb1 144.5px,#16ffe1 168.1px,#13fce4 168.6px,#00e4f8 179.5px,#00dcfe 184.1px,#00c8ff 192.7px,#00c0ff 216.8px,#00c0ff 264.9px,#00dcfe 277.0px,#00e4f8 281.5px,#0cf4eb 289.0px)"></i><i style="background:linear-gradient(90deg,#66ff90 0.0px,#a4ff53 24.1px,#deff19 48.2px,#deff19 72.2px,#adff49 96.3px,#7dff7a 120.4px,#49ffad 144.5px,#19ffde 168.6px,#16ffe1 172.6px,#00e4f8 188.7px,#00e0fb 192.7px,#00dcfe 196.7px,#00c8ff 216.8px,#00c8ff 264.9px,#00dcfe 277.0px,#00e4f8 283.4px,#06ecf1 289.0px)"></i><i style="background:linear-gradient(90deg,#56ffa0 0.0px,#9dff5a 24.1px,#dbff1c 48.2px,#deff19 72.2px,#adff49 96.3px,#7dff7a 120.4px,#4dffaa 144.5px,#1fffd7 168.6px,#16ffe1 183.3px,#0cf4eb 192.7px,#00e4f8 203.1px,#00dcfe 209.5px,#00d0ff 216.8px,#00d0ff 264.9px,#00dcfe 277.0px,#00e4f8 287.7px,#00e4f8 289.0px)"></i><i style="background:linear-gradient(90deg,#49ffad 0.0px,#97ff60 24.1px,#dbff1c 48.2px,#deff19 72.2px,#adff49 96.3px,#7dff7a 120.4px,#50ffa7 144.5px,#26ffd1 168.6px,#1fffd7 192.7px,#16ffe1 199.0px,#00e4f8 210.4px,#00dcfe 215.0px,#00d8ff 216.8px,#00d8ff 264.9px,#00dcfe 277.0px,#00e0fb 289.0px)"></i><i style="background:linear-gradient(90deg,#43ffb4 0.0px,#9dff5a 24.1px,#e7ff0f 48.2px,#e4ff13 72.2px,#adff49 96.3px,#80ff77 120.4px,#56ffa0 144.5px,#2cffca 168.6px,#2cffca 192.7px,#16ffe1 205.9px,#00e4f8 216.8px,#00e4f8 220.8px,#00e0fb 240.8px,#00e0fb 264.9px,#00dcfe 277.0px,#00d8ff 289.0px)"></i><i style="background:linear-gradient(90deg,#43ffb4 0.0px,#b1ff46 24.1px,#eeff09 43.5px,#f8f500 46.1px,#feed00 48.2px,#f8f500 58.3px,#eeff09 70.7px,#eeff09 72.2px,#adff49 96.3px,#8dff6a 120.4px,#63ff94 144.5px,#33ffc4 168.6px,#33ffc4 192.7px,#16ffe1 215.9px,#13fce4 216.8px,#00e4f8 240.8px,#00e4f8 266.3px,#00dcfe 277.0px,#00d0ff 289.0px)"></i><i style="background:linear-gradient(90deg,#43ffb4 0.0px,#c4ff33 24.1px,#eeff09 36.9px,#f8f500 39.3px,#feed00 41.7px,#ffd300 48.2px,#feed00 66.3px,#f8f500 72.2px,#f8f500 72.6px,#eeff09 75.2px,#adff49 96.3px,#9aff5d 120.4px,#6dff8a 144.5px,#39ffbe 168.6px,#39ffbe 192.7px,#26ffd1 216.8px,#16ffe1 230.4px,#06ecf1 240.8px,#06ecf1 264.9px,#00e4f8 270.5px,#00dcfe 277.0px,#00c8ff 289.0px)"></i><i style="background:linear-gradient(90deg,#43ffb4 0.0px,#d4ff23 24.1px,#eeff09 31.1px,#f8f500 33.4px,#feed00 35.6px,#ffb600 48.2px,#ffea00 72.2px,#feed00 73.1px,#f8f500 75.4px,#eeff09 77.8px,#adff49 96.3px,#a7ff50 120.4px,#77ff80 144.5px,#40ffb7 168.6px,#40ffb7 192.7px,#39ffbe 216.8px,#16ffe1 236.8px,#0cf4eb 240.8px,#0cf4eb 264.9px,#00e4f8 272.4px,#00dcfe 277.0px,#00c0ff 289.0px)"></i><i style="background:linear-gradient(90deg,#49ffad 0.0px,#e4ff13 24.1px,#eeff09 27.3px,#f8f500 29.6px,#feed00 31.9px,#ffab00 48.2px,#ffea00 72.2px,#feed00 73.1px,#f8f500 75.4px,#eeff09 77.8px,#adff49 96.3px,#adff49 120.4px,#7dff7a 144.5px,#49ffad 168.6px,#43ffb4 192.7px,#43ffb4 216.8px,#16ffe1 238.8px,#0ff8e7 240.8px,#0ff8e7 264.9px,#00e4f8 272.9px,#00dcfe 277.0px,#00bcff 289.0px)"></i><i style="background:linear-gradient(90deg,#56ffa0 0.0px,#eeff09 24.1px,#eeff09 24.4px,#f8f500 27.1px,#feed00 29.7px,#ffab00 48.2px,#feed00 69.6px,#f8f500 72.2px,#f8f500 72.6px,#eeff09 75.2px,#adff49 96.3px,#adff49 120.4px,#83ff73 144.5px,#56ffa0 168.6px,#43ffb4 192.7px,#43ffb4 216.8px,#16ffe1 238.8px,#0ff8e7 240.8px,#0ff8e7 264.9px,#00e4f8 272.9px,#00dcfe 277.0px,#00bcff 289.0px)"></i><i style="background:linear-gradient(90deg,#66ff90 0.0px,#eeff09 22.6px,#f8f500 23.9px,#f8f500 24.1px,#feed00 26.8px,#ffab00 48.2px,#feed00 66.6px,#f8f500 69.3px,#eeff09 71.9px,#eeff09 72.2px,#adff49 96.3px,#adff49 120.4px,#8aff6d 144.5px,#66ff90 168.6px,#43ffb4 192.7px,#43ffb4 216.8px,#16ffe1 238.8px,#0ff8e7 240.8px,#0ff8e7 264.9px,#00e4f8 272.9px,#00dcfe 277.0px,#00bcff 289.0px)"></i><i style="background:linear-gradient(90deg,#73ff83 0.0px,#eeff09 20.8px,#f8f500 22.2px,#feed00 23.6px,#ffea00 24.1px,#ffab00 48.2px,#feed00 64.4px,#f8f500 66.7px,#eeff09 69.1px,#e4ff13 72.2px,#adff49 96.3px,#adff49 120.4px,#90ff66 144.5px,#73ff83 168.6px,#43ffb4 192.7px,#43ffb4 216.8px,#16ffe1 238.8px,#0ff8e7 240.8px,#0ff8e7 264.9px,#00e4f8 272.9px,#00dcfe 277.0px,#00bcff 289.0px)"></i><i style="background:linear-gradient(90deg,#7dff7a 0.0px,#eeff09 19.8px,#f8f500 21.2px,#feed00 22.7px,#ffe200 24.1px,#ffab00 48.2px,#feed00 63.5px,#f8f500 65.7px,#eeff09 67.9px,#deff19 72.2px,#adff49 96.3px,#adff49 120.4px,#97ff60 144.5px,#80ff77 168.6px,#49ffad 192.7px,#43ffb4 216.8px,#16ffe1 240.8px,#16ffe1 248.9px,#0ff8e7 264.9px,#00e4f8 272.9px,#00dcfe 277.0px,#00bcff 289.0px)"></i><i style="background:linear-gradient(90deg,#7dff7a 0.0px,#eeff09 19.8px,#f8f500 21.2px,#feed00 22.7px,#ffe200 24.1px,#ffab00 48.2px,#feed00 63.5px,#f8f500 65.7px,#eeff09 67.9px,#deff19 72.2px,#adff49 96.3px,#adff49 120.4px,#9dff5a 144.5px,#8dff6a 168.6px,#56ffa0 192.7px,#43ffb4 216.8px,#23ffd4 240.8px,#16ffe1 259.6px,#0ff8e7 264.9px,#00e4f8 272.9px,#00dcfe 277.0px,#00bcff 289.0px)"></i><i style="background:linear-gradient(90deg,#7dff7a 0.0px,#eeff09 19.8px,#f8f500 21.2px,#feed00 22.7px,#ffe200 24.1px,#ffab00 48.2px,#feed00 63.5px,#f8f500 65.7px,#eeff09 67.9px,#deff19 72.2px,#adff49 96.3px,#adff49 120.4px,#a4ff53 144.5px,#9aff5d 168.6px,#66ff90 192.7px,#43ffb4 216.8px,#30ffc7 240.8px,#16ffe1 261.7px,#0ff8e7 264.9px,#00e4f8 272.9px,#00dcfe 277.0px,#00bcff 289.0px)"></i><i style="background:linear-gradient(90deg,#7dff7a 0.0px,#eeff09 19.8px,#f8f500 21.2px,#feed00 22.7px,#ffe200 24.1px,#ffab00 48.2px,#feed00 63.5px,#f8f500 65.7px,#eeff09 67.9px,#deff19 72.2px,#adff49 96.3px,#adff49 120.4px,#aaff4d 144.5px,#a7ff50 168.6px,#73ff83 192.7px,#43ffb4 216.8px,#3cffba 240.8px,#16ffe1 262.6px,#0ff8e7 264.9px,#00e4f8 272.9px,#00dcfe 277.0px,#00bcff 289.0px)"></i><i style="background:linear-gradient(90deg,#7dff7a 0.0px,#eeff09 20.6px,#f8f500 22.1px,#feed00 23.5px,#ffea00 24.1px,#ffab00 48.2px,#feed00 64.4px,#f8f500 66.7px,#eeff09 69.1px,#e4ff13 72.2px,#b4ff43 96.3px,#b4ff43 120.4px,#b1ff46 144.5px,#adff49 168.6px,#7dff7a 192.7px,#49ffad 216.8px,#43ffb4 240.8px,#16ffe1 262.9px,#0ff8e7 264.9px,#00e4f8 274.1px,#00dcfe 278.7px,#00c4ff 289.0px)"></i><i style="background:linear-gradient(90deg,#7dff7a 0.0px,#eeff09 22.3px,#f8f500 23.9px,#f8f500 24.1px,#feed00 26.8px,#ffab00 48.2px,#feed00 66.6px,#f8f500 69.3px,#eeff09 71.9px,#eeff09 72.2px,#c1ff36 96.3px,#c1ff36 120.4px,#b7ff40 144.5px,#adff49 168.6px,#7dff7a 192.7px,#56ffa0 216.8px,#43ffb4 240.8px,#16ffe1 262.9px,#0ff8e7 264.9px,#00e4f8 277.8px,#00dcfe 284.2px,#00d4ff 289.0px)"></i><i style="background:linear-gradient(90deg,#7dff7a 0.0px,#eeff09 24.1px,#eeff09 24.4px,#f8f500 27.1px,#feed00 29.7px,#ffab00 48.2px,#feed00 69.6px,#f8f500 72.2px,#f8f500 72.8px,#eeff09 77.3px,#caff2c 96.3px,#caff2c 120.4px,#beff39 144.5px,#adff49 168.6px,#7dff7a 192.7px,#66ff90 216.8px,#43ffb4 240.8px,#16ffe1 262.9px,#0ff8e7 264.9px,#00e4f8 286.3px,#00e0fb 289.0px)"></i><i style="background:linear-gradient(90deg,#7dff7a 0.0px,#e4ff13 24.1px,#eeff09 27.3px,#f8f500 29.6px,#feed00 31.9px,#ffab00 48.2px,#ffea00 72.2px,#feed00 74.0px,#f8f500 78.7px,#eeff09 83.4px,#d7ff1f 96.3px,#d7ff1f 120.4px,#c4ff33 144.5px,#adff49 168.6px,#7dff7a 192.7px,#73ff83 216.8px,#43ffb4 240.8px,#16ffe1 262.9px,#0ff8e7 264.9px,#09f0ee 289.0px)"></i><i style="background:linear-gradient(90deg,#80ff77 0.0px,#e4ff13 24.1px,#eeff09 27.3px,#f8f500 29.6px,#feed00 31.9px,#ffab00 48.2px,#ffdb00 72.2px,#feed00 80.5px,#f8f500 85.2px,#eeff09 89.9px,#e4ff13 96.3px,#deff19 120.4px,#caff2c 144.5px,#adff49 168.6px,#7dff7a 192.7px,#7dff7a 216.8px,#49ffad 240.8px,#16ffe1 264.9px,#16ffe1 289.0px)"></i><i style="background:linear-gradient(90deg,#8dff6a 0.0px,#eeff09 24.1px,#eeff09 24.4px,#f8f500 27.1px,#feed00 29.7px,#ffab00 48.2px,#ffcc00 72.2px,#feed00 86.8px,#f8f500 91.3px,#eeff09 95.8px,#eeff09 96.3px,#deff19 120.4px,#d7ff1f 144.5px,#adff49 168.6px,#7dff7a 192.7px,#7dff7a 216.8px,#56ffa0 240.8px,#23ffd4 264.9px,#23ffd4 289.0px)"></i><i style="background:linear-gradient(90deg,#9aff5d 0.0px,#eeff09 21.7px,#f8f500 23.8px,#f8f500 24.1px,#feed00 26.8px,#ffab00 48.2px,#ffbd00 72.2px,#feed00 92.6px,#f8f500 96.3px,#f8f500 97.3px,#eeff09 105.0px,#deff19 120.4px,#e1ff16 144.5px,#adff49 168.6px,#7dff7a 192.7px,#7dff7a 216.8px,#66ff90 240.8px,#30ffc7 264.9px,#30ffc7 289.0px)"></i><i style="background:linear-gradient(90deg,#a7ff50 0.0px,#eeff09 18.9px,#f8f500 21.1px,#feed00 23.3px,#ffea00 24.1px,#ffab00 48.2px,#ffb200 72.2px,#ffea00 96.3px,#feed00 98.4px,#f8f500 103.9px,#eeff09 109.4px,#deff19 120.4px,#eeff09 144.5px,#adff49 168.6px,#7dff7a 192.7px,#7dff7a 216.8px,#73ff83 240.8px,#3cffba 264.9px,#3cffba 289.0px)"></i><i style="background:linear-gradient(90deg,#b4ff43 0.0px,#eeff09 15.9px,#f8f500 18.1px,#feed00 20.3px,#ffdb00 24.1px,#ffab00 48.2px,#ffab00 72.2px,#ffdb00 96.3px,#feed00 111.0px,#f8f500 119.4px,#f8f500 121.3px,#feed00 128.8px,#ffd700 144.5px,#feed00 151.1px,#f8f500 154.2px,#eeff09 157.3px,#d1ff26 168.6px,#aaff4d 192.7px,#9aff5d 216.8px,#7dff7a 240.8px,#49ffad 264.9px,#43ffb4 289.0px)"></i><i style="background:linear-gradient(90deg,#c1ff36 0.0px,#eeff09 12.6px,#f8f500 14.8px,#feed00 17.0px,#ffcc00 24.1px,#ffab00 48.2px,#ffab00 72.2px,#ffcc00 96.3px,#ffc100 120.4px,#ff9400 144.5px,#ffd000 168.6px,#ffde00 192.7px,#feed00 197.4px,#f8f500 201.2px,#eeff09 204.9px,#d4ff23 216.8px,#7dff7a 240.8px,#56ffa0 264.9px,#43ffb4 289.0px)"></i><i style="background:linear-gradient(90deg,#caff2c 0.0px,#eeff09 9.3px,#f8f500 11.5px,#feed00 13.7px,#ffbd00 24.1px,#ffab00 48.2px,#ffab00 72.2px,#ffbd00 96.3px,#ff8900 120.4px,#ff4e00 144.5px,#ff7a00 168.6px,#ff7300 192.7px,#ffd700 216.8px,#feed00 219.6px,#f8f500 220.9px,#eeff09 222.2px,#7dff7a 240.8px,#66ff90 264.9px,#43ffb4 289.0px)"></i><i style="background:linear-gradient(90deg,#d7ff1f 0.0px,#eeff09 6.0px,#f8f500 8.2px,#feed00 10.4px,#ffb200 24.1px,#ffab00 48.2px,#ffab00 72.2px,#ffb200 96.3px,#ff5200 120.4px,#ff1300 141.8px,#f10800 144.5px,#ff1300 151.0px,#ff2900 168.6px,#ff1300 184.4px,#ed0400 192.7px,#ff1300 194.7px,#ff9400 216.8px,#feed00 225.6px,#f8f500 226.6px,#eeff09 227.5px,#7dff7a 240.8px,#73ff83 264.9px,#43ffb4 289.0px)"></i><i style="background:linear-gradient(90deg,#e4ff13 0.0px,#eeff09 3.2px,#f8f500 5.5px,#feed00 7.8px,#ffab00 24.1px,#ffa300 48.2px,#ff9400 72.2px,#ff8900 96.3px,#ff2500 120.4px,#ff1300 127.3px,#e80000 133.8px,#bf0000 144.5px,#da0000 168.6px,#a40000 192.7px,#e80000 200.6px,#ff1300 203.5px,#ff6800 216.8px,#feed00 228.5px,#f8f500 229.3px,#eeff09 230.2px,#87ff70 240.8px,#87ff70 264.9px,#49ffad 289.0px)"></i><i style="background:linear-gradient(90deg,#eeff09 0.0px,#eeff09 0.3px,#f8f500 3.0px,#feed00 5.6px,#ffab00 24.1px,#ff9400 48.2px,#ff6800 72.2px,#ff4a00 96.3px,#ff1300 115.2px,#e80000 120.4px,#e80000 122.1px,#ad0000 144.5px,#bf0000 168.6px,#9b0000 192.7px,#e80000 202.3px,#ff1300 205.3px,#ff5900 216.8px,#feed00 230.5px,#f8f500 231.4px,#eeff09 232.3px,#a0ff56 240.8px,#a0ff56 264.9px,#56ffa0 289.0px)"></i><i style="background:linear-gradient(90deg,#f8f500 0.0px,#feed00 2.7px,#ffab00 24.1px,#ff8600 48.2px,#ff3f00 72.2px,#ff1300 92.6px,#f10800 96.3px,#e80000 102.4px,#bf0000 120.4px,#9b0000 144.5px,#a40000 168.6px,#8d0000 192.7px,#e80000 204.1px,#ff1300 207.2px,#ff4e00 216.8px,#feed00 232.7px,#f8f500 233.7px,#eeff09 234.6px,#baff3c 240.8px,#baff3c 264.9px,#66ff90 289.0px)"></i><i style="background:linear-gradient(90deg,#ffea00 0.0px,#ffab00 24.1px,#ff7700 48.2px,#ff1300 72.2px,#ff1300 73.0px,#e80000 79.1px,#a40000 96.3px,#920000 120.4px,#890000 144.5px,#890000 168.6px,#840000 192.7px,#e80000 206.1px,#ff1300 209.2px,#ff3f00 216.8px,#feed00 235.3px,#f8f500 236.3px,#eeff09 237.3px,#d1ff26 240.8px,#d1ff26 264.9px,#73ff83 289.0px)"></i><i style="background:linear-gradient(90deg,#ffdb00 0.0px,#ffa300 24.1px,#ff6000 48.2px,#ff1300 65.8px,#e80000 69.9px,#da0000 72.2px,#800000 96.3px,#800000 144.5px,#840000 168.6px,#890000 192.7px,#e80000 208.5px,#ff1300 212.5px,#ff2500 216.8px,#ffea00 240.8px,#ffea00 264.9px,#feed00 265.3px,#f8f500 267.0px,#eeff09 268.8px,#8dff6a 289.0px)"></i><i style="background:linear-gradient(90deg,#ffcc00 0.0px,#ff9400 24.1px,#ff4700 48.2px,#ff1300 60.3px,#e80000 64.8px,#bf0000 72.2px,#800000 96.3px,#800000 144.5px,#8d0000 168.6px,#a40000 192.7px,#e80000 215.2px,#e80000 216.8px,#ff1300 219.2px,#ff9800 240.8px,#ff9800 264.9px,#feed00 276.4px,#f8f500 277.7px,#eeff09 279.0px,#b1ff46 289.0px)"></i><i style="background:linear-gradient(90deg,#ffbd00 0.0px,#ff8600 24.1px,#ff2900 48.2px,#ff1300 54.1px,#e80000 58.9px,#a40000 72.2px,#800000 96.3px,#800000 144.5px,#9b0000 168.6px,#bf0000 192.7px,#bf0000 216.8px,#e80000 224.1px,#ff1300 228.4px,#ff4700 240.8px,#ff4700 264.9px,#feed00 283.3px,#f8f500 284.3px,#eeff09 285.4px,#d4ff23 289.0px)"></i><i style="background:linear-gradient(90deg,#ffb200 0.0px,#ff7700 24.1px,#ff1300 47.1px,#f60b00 48.2px,#e80000 52.0px,#890000 72.2px,#800000 96.3px,#800000 144.5px,#a40000 168.6px,#da0000 192.7px,#920000 216.8px,#df0000 240.8px,#df0000 264.9px,#e80000 265.6px,#ff1300 267.4px,#feed00 288.0px,#f8f500 288.9px,#f8f500 289.0px)"></i><i style="background:linear-gradient(90deg,#ff8d00 0.0px,#ff6800 24.1px,#ff1300 42.8px,#e80000 46.9px,#df0000 48.2px,#800000 72.2px,#800000 96.3px,#840000 120.4px,#920000 144.5px,#c40000 168.6px,#e80000 179.2px,#ff1300 186.6px,#ff2200 192.7px,#ff1300 195.9px,#e80000 199.9px,#840000 216.8px,#a40000 240.8px,#a40000 264.9px,#e80000 269.6px,#ff1300 271.4px,#ffd300 289.0px)"></i><i style="background:linear-gradient(90deg,#ff5900 0.0px,#ff5900 24.1px,#ff1300 40.1px,#e80000 44.3px,#d10000 48.2px,#800000 72.2px,#800000 96.3px,#8d0000 120.4px,#bf0000 144.5px,#e80000 161.6px,#f60b00 168.6px,#ff1300 170.2px,#ff6400 192.7px,#ff1300 204.3px,#e80000 206.9px,#8d0000 216.8px,#9b0000 240.8px,#9b0000 264.9px,#e80000 270.9px,#ff1300 272.8px,#ffb600 289.0px)"></i><i style="background:linear-gradient(90deg,#ff2200 0.0px,#ff4e00 24.1px,#ff1300 37.3px,#e80000 41.6px,#c40000 48.2px,#800000 72.2px,#800000 96.3px,#9b0000 120.4px,#e80000 143.2px,#e80000 144.5px,#ff1300 152.0px,#ff3400 168.6px,#ffab00 192.7px,#ff1300 208.4px,#e80000 210.4px,#9b0000 216.8px,#8d0000 240.8px,#8d0000 264.9px,#e80000 272.4px,#ff1300 274.4px,#ff9c00 289.0px)"></i><i style="background:linear-gradient(90deg,#cd0000 0.0px,#e80000 5.8px,#ff1300 11.2px,#ff3f00 24.1px,#ff1300 34.4px,#e80000 38.7px,#b20000 48.2px,#800000 72.2px,#800000 96.3px,#a40000 120.4px,#e80000 134.2px,#ff1300 139.2px,#ff2500 144.5px,#ff5d00 168.6px,#feed00 192.1px,#feed00 193.0px,#ff1300 210.9px,#e80000 212.5px,#a40000 216.8px,#840000 240.8px,#840000 264.9px,#e80000 274.2px,#ff1300 276.4px,#ff7e00 289.0px)"></i><i style="background:linear-gradient(90deg,#a40000 0.0px,#e80000 11.5px,#ff1300 15.7px,#ff3800 24.1px,#ff1300 32.5px,#e80000 36.6px,#a40000 48.2px,#840000 72.2px,#920000 96.3px,#c40000 120.4px,#e80000 126.7px,#ff1300 131.0px,#ff4a00 144.5px,#ff8d00 168.6px,#feed00 184.2px,#f8f500 185.7px,#eeff09 187.3px,#d1ff26 192.7px,#eeff09 195.2px,#f8f500 195.9px,#feed00 196.6px,#ff1300 213.2px,#e80000 214.7px,#c40000 216.8px,#840000 240.8px,#890000 264.9px,#e80000 274.8px,#ff1300 277.4px,#ff6800 289.0px)"></i><i style="background:linear-gradient(90deg,#9b0000 0.0px,#e80000 12.5px,#ff1300 16.4px,#ff3800 24.1px,#ff1300 31.8px,#e80000 35.6px,#9b0000 48.2px,#8d0000 72.2px,#bf0000 96.3px,#e80000 113.4px,#f60b00 120.4px,#ff1300 121.8px,#ff7700 144.5px,#ffc100 168.6px,#feed00 176.8px,#f8f500 178.6px,#eeff09 180.5px,#baff3c 192.7px,#eeff09 197.5px,#f8f500 198.3px,#feed00 199.0px,#ff1300 216.3px,#f60b00 216.8px,#e80000 220.5px,#8d0000 240.8px,#a40000 264.9px,#e80000 273.7px,#ff1300 276.9px,#ff5900 289.0px)"></i><i style="background:linear-gradient(90deg,#8d0000 0.0px,#e80000 13.4px,#ff1300 16.9px,#ff3800 24.1px,#ff1300 31.2px,#e80000 34.8px,#8d0000 48.2px,#9b0000 72.2px,#e80000 95.0px,#e80000 96.3px,#ff1300 103.8px,#ff3400 120.4px,#ff9f00 144.5px,#feed00 165.1px,#f8f500 167.6px,#f4f802 168.6px,#eeff09 170.1px,#a0ff56 192.7px,#eeff09 200.1px,#f8f500 200.9px,#feed00 201.6px,#ff3400 216.8px,#ff1300 224.0px,#e80000 227.9px,#9b0000 240.8px,#bf0000 264.9px,#e80000 271.9px,#ff1300 276.1px,#ff4e00 289.0px)"></i><i style="background:linear-gradient(90deg,#840000 0.0px,#e80000 14.1px,#ff1300 17.4px,#ff3800 24.1px,#ff1300 30.7px,#e80000 34.0px,#840000 48.2px,#a40000 72.2px,#e80000 86.0px,#ff1300 91.0px,#ff2500 96.3px,#ff5d00 120.4px,#ffc800 144.5px,#feed00 152.7px,#f8f500 154.9px,#eeff09 157.2px,#c4ff33 168.6px,#87ff70 192.7px,#eeff09 202.8px,#f8f500 203.6px,#feed00 204.5px,#ff5d00 216.8px,#ff1300 229.1px,#e80000 232.2px,#a40000 240.8px,#da0000 264.9px,#e80000 268.4px,#ff1300 274.5px,#ff3f00 289.0px)"></i><i style="background:linear-gradient(90deg,#920000 0.0px,#e80000 12.4px,#ff1300 15.8px,#ff3f00 24.1px,#ff1300 31.9px,#e80000 35.2px,#890000 48.2px,#c40000 72.2px,#e80000 79.4px,#ff1300 84.4px,#ff3f00 96.3px,#ff8d00 120.4px,#feed00 142.8px,#fbf100 144.5px,#f8f500 145.1px,#eeff09 147.3px,#a0ff56 168.6px,#7dff7a 192.7px,#eeff09 204.9px,#f8f500 205.8px,#feed00 206.7px,#ff7e00 216.8px,#ff1300 232.2px,#e80000 234.9px,#b20000 240.8px,#e80000 258.8px,#f60b00 264.9px,#ff1300 268.8px,#ff2900 289.0px)"></i><i style="background:linear-gradient(90deg,#bf0000 0.0px,#e80000 7.0px,#ff1300 11.1px,#ff4e00 24.1px,#ff1300 34.9px,#e80000 38.4px,#a40000 48.2px,#e80000 67.5px,#f60b00 72.2px,#ff1300 74.4px,#ff4e00 96.3px,#ffc100 120.4px,#feed00 131.4px,#f8f500 133.9px,#eeff09 136.4px,#d4ff23 144.5px,#83ff73 168.6px,#7dff7a 192.7px,#eeff09 206.4px,#f8f500 207.4px,#feed00 208.4px,#ff9c00 216.8px,#ff1300 234.5px,#e80000 237.0px,#c40000 240.8px,#e80000 250.7px,#ff1300 257.0px,#ff2900 264.9px,#ff1300 287.9px,#fa0f00 289.0px)"></i><i style="background:linear-gradient(90deg,#e80000 0.0px,#ff1300 4.2px,#ff5900 24.1px,#ff1300 38.3px,#e80000 42.0px,#bf0000 48.2px,#e80000 57.2px,#ff1300 62.5px,#ff3400 72.2px,#ff5900 96.3px,#feed00 118.4px,#f8f500 119.9px,#f4f802 120.4px,#eeff09 122.2px,#b1ff46 144.5px,#6aff8d 168.6px,#7dff7a 192.7px,#eeff09 208.3px,#f8f500 209.5px,#feed00 210.6px,#ffb600 216.8px,#ff1300 236.5px,#e80000 238.7px,#d10000 240.8px,#e80000 245.6px,#ff1300 250.8px,#ff4700 264.9px,#ff1300 280.7px,#e80000 286.5px,#da0000 289.0px)"></i><i style="background:linear-gradient(90deg,#ff2500 0.0px,#ff6800 24.1px,#ff1300 42.1px,#e80000 46.0px,#da0000 48.2px,#e80000 50.6px,#ff1300 55.0px,#ff5d00 72.2px,#ff6800 96.3px,#feed00 112.2px,#f8f500 113.4px,#eeff09 114.5px,#c4ff33 120.4px,#8aff6d 144.5px,#50ffa7 168.6px,#7dff7a 192.7px,#eeff09 210.9px,#f8f500 212.2px,#feed00 213.5px,#ffd300 216.8px,#ff1300 238.1px,#e80000 240.2px,#df0000 240.8px,#e80000 242.2px,#ff1300 246.5px,#ff6000 264.9px,#ff1300 279.4px,#e80000 282.8px,#bb0000 289.0px)"></i><i style="background:linear-gradient(90deg,#ff4e00 0.0px,#ff6f00 24.1px,#ff1300 47.0px,#f60b00 48.2px,#ff1300 49.3px,#ff6f00 72.2px,#ff7700 96.3px,#feed00 108.7px,#f8f500 109.7px,#eeff09 110.7px,#a0ff56 120.4px,#6dff8a 144.5px,#49ffad 168.6px,#80ff77 192.7px,#eeff09 213.1px,#f8f500 214.6px,#feed00 216.2px,#ffea00 216.8px,#ff1300 240.8px,#ff7700 264.9px,#ff1300 279.5px,#e80000 282.2px,#ad0000 289.0px)"></i><i style="background:linear-gradient(90deg,#ff7700 0.0px,#ff6f00 24.1px,#ff2900 48.2px,#ff6f00 72.2px,#ff8600 96.3px,#feed00 106.4px,#f8f500 107.4px,#eeff09 108.3px,#83ff73 120.4px,#5dff9a 144.5px,#56ffa0 168.6px,#8dff6a 192.7px,#eeff09 214.6px,#f8f500 216.5px,#f8f500 216.8px,#feed00 217.9px,#ff3f00 240.8px,#ff8600 264.9px,#ff1300 280.2px,#e80000 282.7px,#ad0000 289.0px)"></i><i style="background:linear-gradient(90deg,#ffa300 0.0px,#ff6f00 24.1px,#ff4700 48.2px,#ff6f00 72.2px,#ff9400 96.3px,#feed00 104.5px,#f8f500 105.4px,#eeff09 106.2px,#6aff8d 120.4px,#49ffad 144.5px,#66ff90 168.6px,#9aff5d 192.7px,#eeff09 216.8px,#eeff09 216.9px,#f8f500 218.5px,#feed00 220.0px,#ff6800 240.8px,#ff9400 264.9px,#ff1300 280.9px,#e80000 283.2px,#ad0000 289.0px)"></i><i style="background:linear-gradient(90deg,#ffcc00 0.0px,#ff6f00 24.1px,#ff6000 48.2px,#ff6f00 72.2px,#ffa300 96.3px,#feed00 102.7px,#f8f500 103.6px,#eeff09 104.4px,#50ffa7 120.4px,#36ffc1 144.5px,#73ff83 168.6px,#a7ff50 192.7px,#e4ff13 216.8px,#eeff09 219.4px,#f8f500 221.3px,#feed00 223.2px,#ff9400 240.8px,#ffa300 264.9px,#ff1300 281.4px,#e80000 283.6px,#ad0000 289.0px)"></i><i style="background:linear-gradient(90deg,#feed00 0.0px,#feed00 0.8px,#ff7e00 24.1px,#ff6f00 48.2px,#ff7700 72.2px,#ffb600 96.3px,#feed00 100.8px,#f8f500 101.6px,#eeff09 102.4px,#36ffc1 120.4px,#29ffce 144.5px,#7dff7a 168.6px,#adff49 192.7px,#deff19 216.8px,#eeff09 221.4px,#f8f500 223.8px,#feed00 226.1px,#ffb200 240.8px,#ffab00 264.9px,#ff1300 282.1px,#e80000 284.3px,#b20000 289.0px)"></i><i style="background:linear-gradient(90deg,#e4ff13 0.0px,#eeff09 2.3px,#f8f500 4.4px,#feed00 6.5px,#ff9c00 24.1px,#ff6f00 48.2px,#ff8600 72.2px,#ffd000 96.3px,#feed00 98.6px,#f8f500 99.4px,#eeff09 100.2px,#1cffdb 120.4px,#23ffd4 144.5px,#7dff7a 168.6px,#adff49 192.7px,#deff19 216.8px,#eeff09 222.3px,#f8f500 225.0px,#feed00 227.8px,#ffbd00 240.8px,#ffab00 264.9px,#ff1300 283.2px,#e80000 285.4px,#c40000 289.0px)"></i><i style="background:linear-gradient(90deg,#ceff29 0.0px,#eeff09 8.2px,#f8f500 10.3px,#feed00 12.4px,#ffb600 24.1px,#ff6f00 48.2px,#ff9400 72.2px,#ffea00 96.3px,#feed00 96.4px,#f8f500 97.2px,#eeff09 98.0px,#16ffe1 118.8px,#02e8f4 120.4px,#16ffe1 135.8px,#1cffdb 144.5px,#7dff7a 168.6px,#adff49 192.7px,#deff19 216.8px,#eeff09 223.4px,#f8f500 226.7px,#feed00 230.0px,#ffcc00 240.8px,#ffab00 264.9px,#ff1300 284.3px,#e80000 286.7px,#d10000 289.0px)"></i><i style="background:linear-gradient(90deg,#b7ff40 0.0px,#eeff09 14.3px,#f8f500 16.5px,#feed00 18.7px,#ffd300 24.1px,#ff6f00 48.2px,#ffa300 72.2px,#feed00 90.2px,#f8f500 92.6px,#eeff09 94.9px,#ebff0c 96.3px,#16ffe1 116.5px,#00e4f8 118.5px,#00dcfe 119.2px,#00ccff 120.4px,#00dcfe 127.1px,#00e4f8 131.6px,#16ffe1 142.8px,#16ffe1 144.5px,#7dff7a 168.6px,#adff49 192.7px,#deff19 216.8px,#eeff09 225.1px,#f8f500 229.3px,#feed00 233.5px,#ffdb00 240.8px,#ffab00 264.9px,#ff1300 285.6px,#e80000 288.2px,#df0000 289.0px)"></i><i style="background:linear-gradient(90deg,#adff49 0.0px,#eeff09 16.4px,#f8f500 18.4px,#feed00 20.5px,#ffdb00 24.1px,#ff6800 48.2px,#ffa300 72.2px,#feed00 89.0px,#f8f500 91.2px,#eeff09 93.4px,#e4ff13 96.3px,#16ffe1 115.9px,#00e4f8 117.9px,#00dcfe 118.7px,#00c4ff 120.4px,#00dcfe 129.3px,#00e4f8 133.2px,#16ffe1 143.0px,#16ffe1 144.5px,#80ff77 168.6px,#adff49 192.7px,#deff19 216.8px,#eeff09 226.4px,#f8f500 231.2px,#feed00 236.0px,#ffe200 240.8px,#ffab00 264.9px,#ff1300 288.3px,#f60b00 289.0px)"></i><i style="background:linear-gradient(90deg,#adff49 0.0px,#eeff09 14.5px,#f8f500 16.4px,#feed00 18.2px,#ffcc00 24.1px,#ff5900 48.2px,#ff9400 72.2px,#feed00 91.8px,#f8f500 94.0px,#eeff09 96.1px,#eeff09 96.3px,#16ffe1 117.1px,#00e4f8 119.0px,#00dcfe 119.8px,#00d4ff 120.4px,#00dcfe 123.8px,#00e4f8 128.3px,#16ffe1 139.5px,#1cffdb 144.5px,#8dff6a 168.6px,#adff49 192.7px,#deff19 216.8px,#eeff09 226.4px,#f8f500 231.2px,#feed00 236.0px,#ffe200 240.8px,#ffab00 264.9px,#ff2900 289.0px)"></i><i style="background:linear-gradient(90deg,#adff49 0.0px,#eeff09 13.1px,#f8f500 14.7px,#feed00 16.3px,#ffbd00 24.1px,#ff4e00 48.2px,#ff8600 72.2px,#feed00 94.5px,#f8f500 96.3px,#f8f500 96.4px,#eeff09 97.2px,#16ffe1 118.2px,#00e4f8 120.2px,#00e0fb 120.4px,#00e4f8 121.7px,#16ffe1 134.7px,#23ffd4 144.5px,#9aff5d 168.6px,#adff49 192.7px,#deff19 216.8px,#eeff09 226.4px,#f8f500 231.2px,#feed00 236.0px,#ffe200 240.8px,#ffab00 264.9px,#ff4700 289.0px)"></i><i style="background:linear-gradient(90deg,#adff49 0.0px,#eeff09 11.9px,#f8f500 13.3px,#feed00 14.8px,#ffb200 24.1px,#ff3f00 48.2px,#ff7700 72.2px,#ffea00 96.3px,#feed00 96.6px,#f8f500 97.4px,#eeff09 98.2px,#16ffe1 119.4px,#09f0ee 120.4px,#16ffe1 128.2px,#29ffce 144.5px,#a7ff50 168.6px,#adff49 192.7px,#deff19 216.8px,#eeff09 226.4px,#f8f500 231.2px,#feed00 236.0px,#ffe200 240.8px,#ffab00 264.9px,#ff6000 289.0px)"></i><i style="background:linear-gradient(90deg,#a7ff50 0.0px,#eeff09 13.5px,#f8f500 15.0px,#feed00 16.6px,#ffbd00 24.1px,#ff5200 48.2px,#ff8d00 72.2px,#feed00 93.9px,#f8f500 96.1px,#f8f500 96.3px,#eeff09 97.1px,#16ffe1 119.4px,#09f0ee 120.4px,#16ffe1 128.2px,#29ffce 144.5px,#a7ff50 168.6px,#adff49 192.7px,#deff19 216.8px,#eeff09 226.4px,#f8f500 231.2px,#feed00 236.0px,#ffe200 240.8px,#ffab00 264.9px,#ff7700 289.0px)"></i><i style="background:linear-gradient(90deg,#9aff5d 0.0px,#eeff09 19.2px,#f8f500 21.0px,#feed00 22.9px,#ffe600 24.1px,#ff8900 48.2px,#ffc100 72.2px,#feed00 83.1px,#f8f500 85.5px,#eeff09 88.0px,#d4ff23 96.3px,#16ffe1 117.9px,#00e4f8 120.2px,#00e0fb 120.4px,#00e4f8 121.7px,#16ffe1 134.7px,#23ffd4 144.5px,#9aff5d 168.6px,#adff49 192.7px,#deff19 216.8px,#eeff09 226.4px,#f8f500 231.2px,#feed00 236.0px,#ffe200 240.8px,#ffab00 264.9px,#ff8600 289.0px)"></i><i style="background:linear-gradient(90deg,#8dff6a 0.0px,#e1ff16 24.1px,#eeff09 28.8px,#f8f500 31.7px,#feed00 34.7px,#ffc100 48.2px,#feed00 66.7px,#f8f500 70.7px,#f4f802 72.2px,#eeff09 74.1px,#b1ff46 96.3px,#16ffe1 116.0px,#00e4f8 118.6px,#00dcfe 119.6px,#00d4ff 120.4px,#00dcfe 123.8px,#00e4f8 128.3px,#16ffe1 139.5px,#1cffdb 144.5px,#8dff6a 168.6px,#adff49 192.7px,#deff19 216.8px,#eeff09 226.4px,#f8f500 231.2px,#feed00 236.0px,#ffe200 240.8px,#ffab00 264.9px,#ff9400 289.0px)"></i><i style="background:linear-gradient(90deg,#80ff77 0.0px,#beff39 24.1px,#eeff09 45.0px,#f8f500 48.2px,#eeff09 51.7px,#c4ff33 72.2px,#8dff6a 96.3px,#16ffe1 113.6px,#00e4f8 116.6px,#00dcfe 117.8px,#00c4ff 120.4px,#00dcfe 129.3px,#00e4f8 133.2px,#16ffe1 143.0px,#16ffe1 144.5px,#80ff77 168.6px,#adff49 192.7px,#deff19 216.8px,#eeff09 226.4px,#f8f500 231.2px,#feed00 236.0px,#ffe200 240.8px,#ffab00 264.9px,#ffa300 289.0px)"></i><i style="background:linear-gradient(90deg,#73ff83 0.0px,#adff49 24.1px,#d7ff1f 48.2px,#a7ff50 72.2px,#73ff83 96.3px,#16ffe1 111.8px,#00e4f8 115.1px,#00dcfe 116.4px,#00bcff 120.4px,#00dcfe 130.9px,#00e4f8 134.4px,#16ffe1 143.2px,#16ffe1 144.5px,#7dff7a 168.6px,#adff49 192.7px,#e4ff13 216.8px,#eeff09 223.2px,#f8f500 227.9px,#feed00 232.6px,#ffdb00 240.8px,#ffab00 264.9px,#ffa300 289.0px)"></i><i style="background:linear-gradient(90deg,#66ff90 0.0px,#adff49 24.1px,#caff2c 48.2px,#9aff5d 72.2px,#66ff90 96.3px,#16ffe1 110.9px,#00e4f8 114.5px,#00dcfe 116.0px,#00bcff 120.4px,#00dcfe 129.9px,#00e4f8 133.1px,#16ffe1 140.9px,#1cffdb 144.5px,#7dff7a 168.6px,#adff49 192.7px,#eeff09 216.8px,#eeff09 217.3px,#f8f500 221.8px,#feed00 226.3px,#ffcc00 240.8px,#ffab00 264.9px,#ff9400 289.0px)"></i><i style="background:linear-gradient(90deg,#56ffa0 0.0px,#adff49 24.1px,#c1ff36 48.2px,#8dff6a 72.2px,#56ffa0 96.3px,#16ffe1 109.7px,#00e4f8 113.8px,#00dcfe 115.5px,#00bcff 120.4px,#00dcfe 129.0px,#00e4f8 131.9px,#16ffe1 139.1px,#23ffd4 144.5px,#7dff7a 168.6px,#adff49 192.7px,#eeff09 213.8px,#f8f500 216.4px,#f8f500 216.8px,#feed00 220.5px,#ffbd00 240.8px,#ffab00 264.9px,#ff8600 289.0px)"></i><i style="background:linear-gradient(90deg,#49ffad 0.0px,#adff49 24.1px,#b4ff43 48.2px,#80ff77 72.2px,#49ffad 96.3px,#16ffe1 108.3px,#00e4f8 112.9px,#00dcfe 114.8px,#00bcff 120.4px,#00dcfe 128.3px,#00e4f8 131.0px,#16ffe1 137.6px,#29ffce 144.5px,#7dff7a 168.6px,#adff49 192.7px,#eeff09 211.2px,#f8f500 213.6px,#feed00 215.9px,#ffea00 216.8px,#ffb200 240.8px,#ffab00 264.9px,#ff7700 289.0px)"></i></div><div class=hm style="left:336.00px;top:253.00px;width:289.00px;height:128.00px"><i style="background:linear-gradient(90deg,#e80000 0.0px,#ff1300 8.0px,#ff3800 24.1px,#ff3800 48.2px,#ff1300 66.5px,#ed0400 72.2px,#f60b00 96.3px,#ff1300 97.5px,#ff6f00 120.4px,#ff3b00 144.5px,#ff6f00 168.6px,#ff3f00 192.7px,#ff3800 216.8px,#ff3800 240.8px,#ff1300 250.1px,#e80000 254.8px,#b20000 264.9px,#ad0000 289.0px)"></i><i style="background:linear-gradient(90deg,#e80000 0.0px,#ff1300 8.0px,#ff3800 24.1px,#ff3800 48.2px,#ff1300 72.2px,#ff2900 96.3px,#ff6f00 120.4px,#ff4300 144.5px,#ff6f00 168.6px,#ff4e00 192.7px,#ff3800 216.8px,#ff3800 240.8px,#ff1300 251.4px,#e80000 256.7px,#c40000 264.9px,#ad0000 289.0px)"></i><i style="background:linear-gradient(90deg,#e80000 0.0px,#ff1300 8.0px,#ff3800 24.1px,#ff3800 48.2px,#ff2200 72.2px,#ff4700 96.3px,#ff6f00 120.4px,#ff4a00 144.5px,#ff6f00 168.6px,#ff5900 192.7px,#ff3800 216.8px,#ff3800 240.8px,#ff1300 253.1px,#e80000 259.2px,#d10000 264.9px,#ad0000 289.0px)"></i><i style="background:linear-gradient(90deg,#e80000 0.0px,#ff1300 8.0px,#ff3800 24.1px,#ff3800 48.2px,#ff3000 72.2px,#ff6000 96.3px,#ff6f00 120.4px,#ff5200 144.5px,#ff6f00 168.6px,#ff6800 192.7px,#ff3800 216.8px,#ff3800 240.8px,#ff1300 255.4px,#e80000 262.6px,#df0000 264.9px,#ad0000 289.0px)"></i><i style="background:linear-gradient(90deg,#e80000 0.0px,#ff1300 8.0px,#ff3800 24.1px,#ff3f00 48.2px,#ff3f00 72.2px,#ff6f00 96.3px,#ff6f00 120.4px,#ff5900 144.5px,#ff6f00 168.6px,#ff6f00 192.7px,#ff3800 216.8px,#ff3800 240.8px,#ff1300 259.2px,#ed0400 264.9px,#e80000 268.4px,#b20000 289.0px)"></i><i style="background:linear-gradient(90deg,#e80000 0.0px,#ff1300 8.0px,#ff3800 24.1px,#ff4e00 48.2px,#ff4e00 72.2px,#ff6f00 96.3px,#ff6f00 120.4px,#ff5d00 144.5px,#ff6f00 168.6px,#ff6f00 192.7px,#ff3800 216.8px,#ff3800 240.8px,#ff1300 264.9px,#ff1300 266.0px,#e80000 275.0px,#c40000 289.0px)"></i><i style="background:linear-gradient(90deg,#e80000 0.0px,#ff1300 8.0px,#ff3800 24.1px,#ff5900 48.2px,#ff5900 72.2px,#ff6f00 96.3px,#ff6f00 120.4px,#ff6400 144.5px,#ff6f00 168.6px,#ff6f00 192.7px,#ff3800 216.8px,#ff3800 240.8px,#ff2200 264.9px,#ff1300 272.4px,#e80000 281.0px,#d10000 289.0px)"></i><i style="background:linear-gradient(90deg,#e80000 0.0px,#ff1300 8.0px,#ff3800 24.1px,#ff6800 48.2px,#ff6800 72.2px,#ff6f00 96.3px,#ff6f00 120.4px,#ff6c00 144.5px,#ff6f00 168.6px,#ff6f00 192.7px,#ff3800 216.8px,#ff3800 240.8px,#ff3000 264.9px,#ff1300 278.2px,#e80000 286.4px,#df0000 289.0px)"></i><i style="background:linear-gradient(90deg,#df0000 0.0px,#e80000 2.6px,#ff1300 10.8px,#ff3000 24.1px,#ff9400 48.2px,#ff6f00 72.2px,#ff7700 96.3px,#ff7700 120.4px,#ff7300 144.5px,#ff7700 168.6px,#ff6f00 192.7px,#ff3f00 216.8px,#ff3800 240.8px,#ff3f00 264.9px,#ff1300 286.7px,#f60b00 289.0px)"></i><i style="background:linear-gradient(90deg,#d10000 0.0px,#e80000 8.0px,#ff1300 16.6px,#ff2200 24.1px,#ffd700 48.2px,#ff6f00 72.2px,#ff8600 96.3px,#ff8600 120.4px,#ff7a00 144.5px,#ff8600 168.6px,#ff6f00 192.7px,#ff4e00 216.8px,#ff3800 240.8px,#ff4e00 264.9px,#ff2900 289.0px)"></i><i style="background:linear-gradient(90deg,#c40000 0.0px,#e80000 14.0px,#ff1300 23.0px,#ff1300 24.1px,#feed00 43.7px,#f8f500 44.6px,#eeff09 45.5px,#d4ff23 48.2px,#eeff09 52.3px,#f8f500 53.6px,#feed00 55.0px,#ff6f00 72.2px,#ff9400 96.3px,#ff9400 120.4px,#ff8200 144.5px,#ff9400 168.6px,#ff6f00 192.7px,#ff5900 216.8px,#ff3800 240.8px,#ff5900 264.9px,#ff4700 289.0px)"></i><i style="background:linear-gradient(90deg,#b20000 0.0px,#e80000 20.6px,#ed0400 24.1px,#ff1300 24.9px,#feed00 40.0px,#f8f500 40.7px,#eeff09 41.3px,#9aff5d 48.2px,#eeff09 58.0px,#f8f500 59.0px,#feed00 59.9px,#ff6f00 72.2px,#ffa300 96.3px,#ffa300 120.4px,#ff8900 144.5px,#ffa300 168.6px,#ff6f00 192.7px,#ff6800 216.8px,#ff3800 240.8px,#ff6800 264.9px,#ff6000 289.0px)"></i><i style="background:linear-gradient(90deg,#ad0000 0.0px,#df0000 24.1px,#e80000 24.4px,#ff1300 25.5px,#feed00 37.9px,#f8f500 38.4px,#eeff09 39.0px,#63ff94 48.2px,#eeff09 61.3px,#f8f500 62.1px,#feed00 62.8px,#ff7700 72.2px,#ffab00 96.3px,#ffb200 120.4px,#ff9100 144.5px,#ffab00 168.6px,#ff6f00 192.7px,#ff6800 216.8px,#ff3800 240.8px,#ff6f00 264.9px,#ff7700 289.0px)"></i><i style="background:linear-gradient(90deg,#ad0000 0.0px,#d10000 24.1px,#e80000 24.9px,#ff1300 25.9px,#feed00 36.5px,#f8f500 36.9px,#eeff09 37.4px,#30ffc7 48.2px,#eeff09 63.8px,#f8f500 64.4px,#feed00 65.1px,#ff8600 72.2px,#ffab00 96.3px,#ffbd00 120.4px,#ff9800 144.5px,#ffab00 168.6px,#ff6f00 192.7px,#ff5900 216.8px,#ff3800 240.8px,#ff6f00 264.9px,#ff8600 289.0px)"></i><i style="background:linear-gradient(90deg,#ad0000 0.0px,#c40000 24.1px,#e80000 25.3px,#ff1300 26.1px,#feed00 35.4px,#f8f500 35.8px,#eeff09 36.2px,#16ffe1 46.9px,#00e4f8 47.9px,#00e0fb 48.2px,#00e4f8 48.5px,#16ffe1 50.0px,#eeff09 65.6px,#f8f500 66.2px,#feed00 66.8px,#ff9400 72.2px,#ffab00 96.3px,#ffcc00 120.4px,#ff9f00 144.5px,#ffab00 168.6px,#ff6f00 192.7px,#ff4e00 216.8px,#ff3800 240.8px,#ff6f00 264.9px,#ff9400 289.0px)"></i><i style="background:linear-gradient(90deg,#ad0000 0.0px,#b20000 24.1px,#e80000 25.7px,#ff1300 26.4px,#feed00 34.6px,#f8f500 35.0px,#eeff09 35.3px,#16ffe1 44.8px,#00e4f8 45.7px,#00dcfe 46.1px,#00a0ff 48.2px,#00dcfe 51.3px,#00e4f8 51.8px,#16ffe1 53.1px,#eeff09 67.1px,#f8f500 67.6px,#feed00 68.2px,#ffa300 72.2px,#ffab00 96.3px,#ffdb00 120.4px,#ffa700 144.5px,#ffab00 168.6px,#ff6f00 192.7px,#ff3f00 216.8px,#ff3800 240.8px,#ff6f00 264.9px,#ffa300 289.0px)"></i><i style="background:linear-gradient(90deg,#a40000 0.0px,#ad0000 24.1px,#e80000 25.9px,#ff1300 26.6px,#feed00 34.8px,#f8f500 35.2px,#eeff09 35.6px,#16ffe1 45.1px,#00e4f8 46.0px,#00dcfe 46.3px,#00a4ff 48.2px,#00dcfe 51.0px,#00e4f8 51.5px,#16ffe1 52.9px,#eeff09 67.3px,#f8f500 67.9px,#feed00 68.4px,#ffab00 72.2px,#ffb200 96.3px,#ffe200 120.4px,#ffae00 144.5px,#ffab00 168.6px,#ff7700 192.7px,#ff3800 216.8px,#ff3800 240.8px,#ff7700 264.9px,#ffab00 289.0px)"></i><i style="background:linear-gradient(90deg,#9b0000 0.0px,#ad0000 24.1px,#e80000 26.1px,#ff1300 26.9px,#feed00 36.3px,#f8f500 36.7px,#eeff09 37.1px,#16ffe1 47.8px,#0cf4eb 48.2px,#16ffe1 48.7px,#eeff09 66.3px,#f8f500 67.0px,#feed00 67.6px,#ffab00 72.2px,#ffbd00 96.3px,#ffe200 120.4px,#ffb200 144.5px,#ffab00 168.6px,#ff8600 192.7px,#ff3800 216.8px,#ff3800 240.8px,#ff8600 264.9px,#ffab00 289.0px)"></i><i style="background:linear-gradient(90deg,#8d0000 0.0px,#ad0000 24.1px,#e80000 26.4px,#ff1300 27.3px,#feed00 38.1px,#f8f500 38.5px,#eeff09 39.0px,#4dffaa 48.2px,#eeff09 64.7px,#f8f500 65.5px,#feed00 66.4px,#ffab00 72.2px,#ffcc00 96.3px,#ffe200 120.4px,#ffb900 144.5px,#ffab00 168.6px,#ff9400 192.7px,#ff3800 216.8px,#ff3800 240.8px,#ff9400 264.9px,#ffab00 289.0px)"></i><i style="background:linear-gradient(90deg,#840000 0.0px,#ad0000 24.1px,#e80000 26.8px,#ff1300 27.9px,#feed00 40.6px,#f8f500 41.1px,#eeff09 41.6px,#8dff6a 48.2px,#eeff09 61.9px,#f8f500 63.0px,#feed00 64.2px,#ffab00 72.2px,#ffdb00 96.3px,#ffe200 120.4px,#ffc100 144.5px,#ffab00 168.6px,#ffa300 192.7px,#ff3800 216.8px,#ff3800 240.8px,#ffa300 264.9px,#ffab00 289.0px)"></i><i style="background:linear-gradient(90deg,#800000 0.0px,#a40000 24.1px,#e80000 27.7px,#ff1300 29.0px,#feed00 44.0px,#f8f500 44.7px,#eeff09 45.3px,#caff2c 48.2px,#eeff09 56.9px,#f8f500 59.0px,#feed00 61.0px,#ffb600 72.2px,#ffea00 96.3px,#ffea00 120.4px,#ffcc00 144.5px,#ffb200 168.6px,#ffab00 192.7px,#ff3f00 216.8px,#ff3f00 240.8px,#ffab00 264.9px,#ffb200 289.0px)"></i><i style="background:linear-gradient(90deg,#800000 0.0px,#9b0000 24.1px,#e80000 29.2px,#ff1300 30.8px,#ffe200 48.2px,#ffd000 72.2px,#feed00 90.7px,#f8f500 96.3px,#f8f500 120.4px,#feed00 127.9px,#ffdb00 144.5px,#ffbd00 168.6px,#ffab00 192.7px,#ff4e00 216.8px,#ff4e00 240.8px,#ffab00 264.9px,#ffbd00 289.0px)"></i><i style="background:linear-gradient(90deg,#800000 0.0px,#8d0000 24.1px,#e80000 31.5px,#ff1300 33.5px,#ff9f00 48.2px,#ffea00 72.2px,#feed00 73.6px,#f8f500 84.3px,#eeff09 95.0px,#eeff09 121.5px,#f8f500 130.5px,#feed00 139.5px,#ffe600 144.5px,#ffcc00 168.6px,#ffab00 192.7px,#ff5900 216.8px,#ff5900 240.8px,#ffab00 264.9px,#ffcc00 289.0px)"></i><i style="background:linear-gradient(90deg,#800000 0.0px,#840000 24.1px,#e80000 35.4px,#ff1300 38.0px,#ff5900 48.2px,#feed00 68.7px,#f8f500 70.1px,#eeff09 71.4px,#ebff0c 72.2px,#e4ff13 96.3px,#e4ff13 120.4px,#eeff09 133.3px,#f8f500 142.7px,#f8f500 144.5px,#feed00 152.1px,#ffdb00 168.6px,#ffab00 192.7px,#ff6800 216.8px,#ff6800 240.8px,#ffab00 264.9px,#ffdb00 289.0px)"></i><i style="background:linear-gradient(90deg,#800000 0.0px,#840000 24.1px,#e80000 36.3px,#ff1300 39.2px,#ff4e00 48.2px,#feed00 66.9px,#f8f500 68.0px,#eeff09 69.2px,#d7ff1f 72.2px,#d7ff1f 120.4px,#eeff09 140.8px,#f4f802 144.5px,#f8f500 149.3px,#feed00 158.9px,#ffe200 168.6px,#ffb200 192.7px,#ff7700 216.8px,#ff7700 240.8px,#ffb200 264.9px,#ffe200 289.0px)"></i><i style="background:linear-gradient(90deg,#800000 0.0px,#8d0000 24.1px,#e80000 33.0px,#ff1300 35.4px,#ff7700 48.2px,#feed00 64.1px,#f8f500 65.4px,#eeff09 66.7px,#caff2c 72.2px,#caff2c 120.4px,#eeff09 142.0px,#f4f802 144.5px,#f8f500 149.3px,#feed00 158.9px,#ffe200 168.6px,#ffbd00 192.7px,#ff8600 216.8px,#ff8600 240.8px,#ffbd00 264.9px,#ffe200 289.0px)"></i><i style="background:linear-gradient(90deg,#800000 0.0px,#9b0000 24.1px,#e80000 30.7px,#ff1300 32.7px,#ffa300 48.2px,#feed00 60.2px,#f8f500 61.8px,#eeff09 63.3px,#c1ff36 72.2px,#c1ff36 120.4px,#eeff09 142.6px,#f4f802 144.5px,#f8f500 149.3px,#feed00 158.9px,#ffe200 168.6px,#ffcc00 192.7px,#ff9400 216.8px,#ff9400 240.8px,#ffcc00 264.9px,#ffe200 289.0px)"></i><i style="background:linear-gradient(90deg,#800000 0.0px,#a40000 24.1px,#e80000 28.9px,#ff1300 30.7px,#ffcc00 48.2px,#feed00 54.4px,#f8f500 56.4px,#eeff09 58.3px,#b4ff43 72.2px,#b4ff43 120.4px,#eeff09 142.9px,#f4f802 144.5px,#f8f500 149.3px,#feed00 158.9px,#ffe200 168.6px,#ffdb00 192.7px,#ffa300 216.8px,#ffa300 240.8px,#ffdb00 264.9px,#ffe200 289.0px)"></i><i style="background:linear-gradient(90deg,#800000 0.0px,#bb0000 24.1px,#e80000 27.1px,#ff1300 28.8px,#feed00 47.9px,#feed00 48.2px,#f8f500 49.7px,#eeff09 52.2px,#adff49 72.2px,#adff49 120.4px,#eeff09 144.5px,#eeff09 146.3px,#f8f500 155.7px,#feed00 165.1px,#ffea00 168.6px,#ffea00 192.7px,#ffb200 216.8px,#ffb200 240.8px,#ffea00 264.9px,#ffea00 289.0px)"></i><i style="background:linear-gradient(90deg,#800000 0.0px,#da0000 24.1px,#e80000 24.8px,#ff1300 26.5px,#feed00 45.6px,#f8f500 46.4px,#eeff09 47.2px,#e4ff13 48.2px,#adff49 72.2px,#adff49 120.4px,#e1ff16 144.5px,#eeff09 158.5px,#f8f500 167.5px,#f8f500 192.7px,#feed00 196.4px,#ffbd00 216.8px,#ffbd00 240.8px,#feed00 261.2px,#f8f500 264.9px,#f8f500 289.0px)"></i><i style="background:linear-gradient(90deg,#800000 0.0px,#e80000 19.9px,#fa0f00 24.1px,#ff1300 24.2px,#feed00 43.3px,#f8f500 44.1px,#eeff09 44.9px,#ceff29 48.2px,#adff49 72.2px,#adff49 120.4px,#d7ff1f 144.5px,#eeff09 168.6px,#eeff09 193.2px,#f8f500 197.7px,#feed00 202.2px,#ffcc00 216.8px,#ffcc00 240.8px,#feed00 255.4px,#f8f500 259.9px,#eeff09 264.4px,#eeff09 289.0px)"></i><i style="background:linear-gradient(90deg,#800000 0.0px,#e80000 15.9px,#ff1300 19.4px,#ff2900 24.1px,#feed00 41.0px,#f8f500 41.8px,#eeff09 42.7px,#b7ff40 48.2px,#adff49 72.2px,#adff49 120.4px,#caff2c 144.5px,#e4ff13 168.6px,#e4ff13 192.7px,#eeff09 199.1px,#f8f500 203.8px,#feed00 208.5px,#ffdb00 216.8px,#ffdb00 240.8px,#feed00 249.1px,#f8f500 253.8px,#eeff09 258.5px,#e4ff13 264.9px,#e4ff13 289.0px)"></i><i style="background:linear-gradient(90deg,#890000 0.0px,#e80000 11.8px,#ff1300 14.7px,#ff4e00 24.1px,#feed00 38.8px,#f8f500 39.6px,#eeff09 40.5px,#a7ff50 48.2px,#a7ff50 96.3px,#adff49 120.4px,#c4ff33 144.5px,#d7ff1f 168.6px,#deff19 192.7px,#eeff09 203.7px,#f8f500 209.2px,#feed00 214.7px,#ffea00 216.8px,#ffea00 240.8px,#feed00 242.9px,#f8f500 248.4px,#eeff09 253.9px,#deff19 264.9px,#d7ff1f 289.0px)"></i><i style="background:linear-gradient(90deg,#a40000 0.0px,#e80000 7.4px,#ff1300 10.0px,#ff7700 24.1px,#feed00 36.1px,#f8f500 37.1px,#eeff09 38.1px,#9aff5d 48.2px,#9aff5d 96.3px,#adff49 120.4px,#beff39 144.5px,#caff2c 168.6px,#deff19 192.7px,#eeff09 208.1px,#f8f500 215.8px,#f8f500 241.8px,#eeff09 249.5px,#deff19 264.9px,#caff2c 289.0px)"></i><i style="background:linear-gradient(90deg,#bf0000 0.0px,#e80000 3.9px,#ff1300 6.3px,#ffa300 24.1px,#feed00 32.8px,#f8f500 33.9px,#eeff09 35.0px,#8dff6a 48.2px,#8dff6a 96.3px,#adff49 120.4px,#b7ff40 144.5px,#c1ff36 168.6px,#deff19 192.7px,#eeff09 216.8px,#eeff09 240.8px,#deff19 264.9px,#c1ff36 289.0px)"></i><i style="background:linear-gradient(90deg,#da0000 0.0px,#e80000 1.2px,#ff1300 3.3px,#ffcc00 24.1px,#feed00 28.3px,#f8f500 29.6px,#eeff09 30.9px,#80ff77 48.2px,#80ff77 96.3px,#adff49 120.4px,#b1ff46 144.5px,#b4ff43 168.6px,#deff19 192.7px,#e4ff13 216.8px,#e4ff13 240.8px,#deff19 264.9px,#b4ff43 289.0px)"></i><i style="background:linear-gradient(90deg,#ff3800 0.0px,#feed00 21.8px,#f8f500 22.9px,#eeff09 24.1px,#73ff83 48.2px,#73ff83 96.3px,#a0ff56 120.4px,#a7ff50 144.5px,#adff49 168.6px,#d7ff1f 192.7px,#d7ff1f 264.9px,#adff49 289.0px)"></i><i style="background:linear-gradient(90deg,#ffab00 0.0px,#feed00 11.2px,#f8f500 12.8px,#eeff09 14.5px,#beff39 24.1px,#66ff90 48.2px,#66ff90 96.3px,#83ff73 120.4px,#9aff5d 144.5px,#adff49 168.6px,#caff2c 192.7px,#caff2c 264.9px,#adff49 289.0px)"></i><i style="background:linear-gradient(90deg,#d7ff1f 0.0px,#8dff6a 24.1px,#56ffa0 48.2px,#56ffa0 96.3px,#6aff8d 120.4px,#8aff6d 144.5px,#adff49 168.6px,#c1ff36 192.7px,#c1ff36 264.9px,#adff49 289.0px)"></i><i style="background:linear-gradient(90deg,#73ff83 0.0px,#5aff9d 24.1px,#49ffad 48.2px,#49ffad 96.3px,#50ffa7 120.4px,#7dff7a 144.5px,#adff49 168.6px,#b4ff43 192.7px,#b4ff43 264.9px,#adff49 289.0px)"></i><i style="background:linear-gradient(90deg,#3cffba 0.0px,#36ffc1 24.1px,#36ffc1 48.2px,#3cffba 72.2px,#3cffba 120.4px,#73ff83 144.5px,#a7ff50 168.6px,#a7ff50 289.0px)"></i><i style="background:linear-gradient(90deg,#30ffc7 0.0px,#1cffdb 24.1px,#1cffdb 48.2px,#30ffc7 72.2px,#30ffc7 120.4px,#6dff8a 144.5px,#9aff5d 168.6px,#9aff5d 289.0px)"></i><i style="background:linear-gradient(90deg,#23ffd4 0.0px,#16ffe1 11.2px,#02e8f4 24.1px,#02e8f4 48.2px,#16ffe1 61.0px,#23ffd4 72.2px,#23ffd4 120.4px,#66ff90 144.5px,#8dff6a 168.6px,#8dff6a 289.0px)"></i><i style="background:linear-gradient(90deg,#16ffe1 0.0px,#16ffe1 1.1px,#00e4f8 12.6px,#00dcfe 17.2px,#00ccff 24.1px,#00ccff 48.2px,#00dcfe 55.0px,#00e4f8 59.6px,#16ffe1 71.1px,#16ffe1 120.4px,#63ff94 144.5px,#80ff77 168.6px,#80ff77 289.0px)"></i><i style="background:linear-gradient(90deg,#09f0ee 0.0px,#00e4f8 5.0px,#00dcfe 9.0px,#00b4ff 24.1px,#00b4ff 48.2px,#00dcfe 63.2px,#00e4f8 67.2px,#09f0ee 72.2px,#09f0ee 120.4px,#16ffe1 123.7px,#56ffa0 144.5px,#6dff8a 168.6px,#6dff8a 192.7px,#73ff83 216.8px,#73ff83 289.0px)"></i><i style="background:linear-gradient(90deg,#00e0fb 0.0px,#00dcfe 3.0px,#00a4ff 24.1px,#00a4ff 48.2px,#00dcfe 69.2px,#00e0fb 72.2px,#00e0fb 120.4px,#00e4f8 121.2px,#16ffe1 128.5px,#40ffb7 144.5px,#53ffa4 168.6px,#53ffa4 192.7px,#66ff90 216.8px,#66ff90 289.0px)"></i><i style="background:linear-gradient(90deg,#00d4ff 0.0px,#0094ff 24.1px,#0094ff 48.2px,#00d4ff 72.2px,#00d4ff 120.4px,#00dcfe 122.9px,#00e4f8 126.2px,#16ffe1 134.4px,#2cffca 144.5px,#39ffbe 168.6px,#39ffbe 192.7px,#56ffa0 216.8px,#56ffa0 289.0px)"></i><i style="background:linear-gradient(90deg,#00c4ff 0.0px,#0084ff 24.1px,#0084ff 48.2px,#00c4ff 72.2px,#00c4ff 120.4px,#00dcfe 128.8px,#00e4f8 132.6px,#16ffe1 141.9px,#19ffde 144.5px,#1cffdb 168.6px,#1cffdb 192.7px,#49ffad 216.8px,#49ffad 289.0px)"></i><i style="background:linear-gradient(90deg,#00bcff 0.0px,#0080ff 24.1px,#0074ff 48.2px,#00b4ff 72.2px,#00bcff 96.3px,#00bcff 120.4px,#00dcfe 134.2px,#00e4f8 138.8px,#09f0ee 144.5px,#09f0ee 192.7px,#16ffe1 197.7px,#3cffba 216.8px,#3cffba 289.0px)"></i><i style="background:linear-gradient(90deg,#00bcff 0.0px,#0080ff 24.1px,#0064ff 48.2px,#00a4ff 72.2px,#00bcff 96.3px,#00bcff 120.4px,#00dcfe 139.7px,#00e0fb 144.5px,#00e0fb 192.7px,#00e4f8 193.7px,#16ffe1 203.7px,#30ffc7 216.8px,#30ffc7 289.0px)"></i><i style="background:linear-gradient(90deg,#00bcff 0.0px,#0080ff 24.1px,#0050ff 48.2px,#0094ff 72.2px,#00bcff 96.3px,#00bcff 120.4px,#00d4ff 144.5px,#00d4ff 192.7px,#00dcfe 195.7px,#00e4f8 199.7px,#16ffe1 209.7px,#23ffd4 216.8px,#23ffd4 289.0px)"></i><i style="background:linear-gradient(90deg,#00bcff 0.0px,#0080ff 24.1px,#0040ff 48.2px,#0084ff 72.2px,#00bcff 96.3px,#00bcff 120.4px,#00c4ff 144.5px,#00c4ff 192.7px,#00dcfe 201.7px,#00e4f8 205.7px,#16ffe1 215.7px,#16ffe1 289.0px)"></i><i style="background:linear-gradient(90deg,#00bcff 0.0px,#0080ff 24.1px,#0040ff 48.2px,#0080ff 72.2px,#00bcff 96.3px,#00bcff 192.7px,#00dcfe 208.7px,#00e4f8 214.1px,#02e8f4 216.8px,#02e8f4 289.0px)"></i><i style="background:linear-gradient(90deg,#00bcff 0.0px,#0080ff 24.1px,#0050ff 48.2px,#0080ff 72.2px,#00bcff 96.3px,#00bcff 192.7px,#00ccff 216.8px,#00ccff 289.0px)"></i><i style="background:linear-gradient(90deg,#00bcff 0.0px,#0080ff 24.1px,#0064ff 48.2px,#0080ff 72.2px,#00bcff 96.3px,#00bcff 192.7px,#00acff 216.8px,#00acff 289.0px)"></i><i style="background:linear-gradient(90deg,#00bcff 0.0px,#0080ff 24.1px,#0074ff 48.2px,#0080ff 72.2px,#00bcff 96.3px,#00bcff 192.7px,#008cff 216.8px,#008cff 289.0px)"></i><i style="background:linear-gradient(90deg,#00bcff 0.0px,#0084ff 24.1px,#0084ff 72.2px,#00bcff 96.3px,#00bcff 120.4px,#00c0ff 144.5px,#00c4ff 168.6px,#00bcff 192.7px,#0074ff 216.8px,#0074ff 289.0px)"></i><i style="background:linear-gradient(90deg,#00bcff 0.0px,#0094ff 24.1px,#0094ff 72.2px,#00bcff 96.3px,#00bcff 120.4px,#00c8ff 144.5px,#00d4ff 168.6px,#00bcff 192.7px,#0064ff 216.8px,#0064ff 289.0px)"></i><i style="background:linear-gradient(90deg,#00bcff 0.0px,#00a4ff 24.1px,#00a4ff 72.2px,#00bcff 96.3px,#00bcff 120.4px,#00d0ff 144.5px,#00dcfe 159.0px,#00e0fb 168.6px,#00dcfe 173.4px,#00bcff 192.7px,#0050ff 216.8px,#0050ff 289.0px)"></i><i style="background:linear-gradient(90deg,#00bcff 0.0px,#00b4ff 24.1px,#00b4ff 72.2px,#00bcff 96.3px,#00bcff 120.4px,#00d8ff 144.5px,#00dcfe 147.9px,#00e4f8 157.1px,#09f0ee 168.6px,#00e4f8 174.3px,#00dcfe 178.9px,#00bcff 192.7px,#0040ff 216.8px,#0040ff 289.0px)"></i><i style="background:linear-gradient(90deg,#00bcff 0.0px,#00bcff 24.1px,#00c4ff 48.2px,#00c4ff 120.4px,#00dcfe 138.5px,#00e0fb 144.5px,#00e4f8 146.5px,#16ffe1 166.6px,#16ffe1 169.6px,#00e4f8 179.6px,#00dcfe 183.6px,#00c4ff 192.7px,#0040ff 216.8px,#0038ff 240.8px,#0038ff 289.0px)"></i><i style="background:linear-gradient(90deg,#00bcff 0.0px,#00bcff 24.1px,#00d4ff 48.2px,#00d4ff 120.4px,#00dcfe 126.4px,#00e4f8 134.5px,#09f0ee 144.5px,#16ffe1 154.5px,#23ffd4 168.6px,#16ffe1 175.6px,#00e4f8 185.6px,#00dcfe 189.7px,#00d4ff 192.7px,#0050ff 216.8px,#0038ff 240.8px,#0038ff 289.0px)"></i><i style="background:linear-gradient(90deg,#00bcff 0.0px,#00bcff 24.1px,#00dcfe 43.3px,#00e0fb 48.2px,#00e0fb 120.4px,#00e4f8 122.4px,#16ffe1 142.5px,#16ffe1 144.5px,#30ffc7 168.6px,#16ffe1 181.6px,#00e4f8 191.7px,#00e0fb 192.7px,#00dcfe 194.1px,#0064ff 216.8px,#0038ff 240.8px,#0038ff 289.0px)"></i><i style="background:linear-gradient(90deg,#00bcff 0.0px,#00bcff 24.1px,#00dcfe 37.8px,#00e4f8 42.4px,#09f0ee 48.2px,#09f0ee 120.4px,#16ffe1 130.5px,#23ffd4 144.5px,#3cffba 168.6px,#16ffe1 187.6px,#09f0ee 192.7px,#00e4f8 195.1px,#00dcfe 197.1px,#0074ff 216.8px,#0038ff 240.8px,#0038ff 289.0px)"></i><i style="background:linear-gradient(90deg,#00bcff 0.0px,#00bcff 24.1px,#00dcfe 36.1px,#00e4f8 40.1px,#0ff8e7 48.2px,#16ffe1 64.2px,#16ffe1 120.4px,#2cffca 144.5px,#43ffb4 168.6px,#16ffe1 192.7px,#16ffe1 193.2px,#00e4f8 198.6px,#00dcfe 200.7px,#008cff 216.8px,#0040ff 240.8px,#0040ff 289.0px)"></i><i style="background:linear-gradient(90deg,#00bcff 0.0px,#00bcff 24.1px,#00dcfe 36.1px,#00e4f8 40.1px,#0ff8e7 48.2px,#16ffe1 53.5px,#23ffd4 72.2px,#23ffd4 120.4px,#33ffc4 144.5px,#43ffb4 168.6px,#23ffd4 192.7px,#16ffe1 197.0px,#00e4f8 203.2px,#00dcfe 205.6px,#00acff 216.8px,#0050ff 240.8px,#0050ff 289.0px)"></i><i style="background:linear-gradient(90deg,#00bcff 0.0px,#00bcff 24.1px,#00dcfe 36.1px,#00e4f8 40.1px,#0ff8e7 48.2px,#16ffe1 51.4px,#30ffc7 72.2px,#30ffc7 120.4px,#39ffbe 144.5px,#43ffb4 168.6px,#30ffc7 192.7px,#16ffe1 202.2px,#00e4f8 209.5px,#00dcfe 212.4px,#00ccff 216.8px,#0064ff 240.8px,#0064ff 289.0px)"></i><i style="background:linear-gradient(90deg,#00bcff 0.0px,#00bcff 24.1px,#00dcfe 36.1px,#00e4f8 40.1px,#0ff8e7 48.2px,#16ffe1 50.5px,#3cffba 72.2px,#3cffba 120.4px,#40ffb7 144.5px,#43ffb4 168.6px,#3cffba 192.7px,#16ffe1 209.6px,#02e8f4 216.8px,#00e4f8 217.8px,#00dcfe 219.9px,#0074ff 240.8px,#0074ff 289.0px)"></i><i style="background:linear-gradient(90deg,#00bcff 0.0px,#00bcff 24.1px,#00dcfe 34.8px,#00e4f8 38.4px,#16ffe1 47.3px,#16ffe1 48.2px,#49ffad 72.2px,#50ffa7 96.3px,#50ffa7 120.4px,#49ffad 144.5px,#49ffad 192.7px,#16ffe1 216.8px,#16ffe1 217.3px,#00e4f8 222.6px,#00dcfe 224.8px,#008cff 240.8px,#0084ff 264.9px,#0084ff 289.0px)"></i><i style="background:linear-gradient(90deg,#00bcff 0.0px,#00bcff 24.1px,#00dcfe 32.8px,#00e4f8 35.8px,#16ffe1 43.1px,#23ffd4 48.2px,#56ffa0 72.2px,#6aff8d 96.3px,#6aff8d 120.4px,#56ffa0 144.5px,#56ffa0 192.7px,#23ffd4 216.8px,#16ffe1 221.1px,#00e4f8 227.2px,#00dcfe 229.7px,#00acff 240.8px,#0094ff 264.9px,#0094ff 289.0px)"></i><i style="background:linear-gradient(90deg,#00bcff 0.0px,#00bcff 24.1px,#00dcfe 31.5px,#00e4f8 34.0px,#16ffe1 40.1px,#30ffc7 48.2px,#66ff90 72.2px,#83ff73 96.3px,#83ff73 120.4px,#66ff90 144.5px,#66ff90 192.7px,#30ffc7 216.8px,#16ffe1 226.2px,#00e4f8 233.5px,#00dcfe 236.5px,#00ccff 240.8px,#00a4ff 264.9px,#00a4ff 289.0px)"></i><i style="background:linear-gradient(90deg,#00bcff 0.0px,#00bcff 24.1px,#00dcfe 30.5px,#00e4f8 32.6px,#16ffe1 38.0px,#3cffba 48.2px,#73ff83 72.2px,#a0ff56 96.3px,#a0ff56 120.4px,#73ff83 144.5px,#73ff83 192.7px,#3cffba 216.8px,#16ffe1 233.7px,#02e8f4 240.8px,#00e4f8 243.1px,#00dcfe 247.7px,#00b4ff 264.9px,#00b4ff 289.0px)"></i><i style="background:linear-gradient(90deg,#00bcff 0.0px,#00bcff 24.1px,#00dcfe 30.1px,#00e4f8 32.1px,#16ffe1 37.1px,#43ffb4 48.2px,#7dff7a 72.2px,#adff49 96.3px,#adff49 120.4px,#80ff77 144.5px,#80ff77 192.7px,#49ffad 216.8px,#16ffe1 240.8px,#16ffe1 241.8px,#00e4f8 251.9px,#00dcfe 255.9px,#00c4ff 264.9px,#00c4ff 289.0px)"></i><i style="background:linear-gradient(90deg,#00bcff 0.0px,#00bcff 24.1px,#00dcfe 30.1px,#00e4f8 32.1px,#16ffe1 37.1px,#43ffb4 48.2px,#7dff7a 72.2px,#adff49 96.3px,#adff49 120.4px,#8dff6a 144.5px,#8dff6a 192.7px,#56ffa0 216.8px,#23ffd4 240.8px,#16ffe1 247.9px,#00e4f8 257.9px,#00dcfe 261.9px,#00d4ff 264.9px,#00d4ff 289.0px)"></i><i style="background:linear-gradient(90deg,#00bcff 0.0px,#00bcff 24.1px,#00dcfe 30.1px,#00e4f8 32.1px,#16ffe1 37.1px,#43ffb4 48.2px,#7dff7a 72.2px,#adff49 96.3px,#adff49 120.4px,#9aff5d 144.5px,#9aff5d 192.7px,#66ff90 216.8px,#30ffc7 240.8px,#16ffe1 253.9px,#00e4f8 263.9px,#00e0fb 264.9px,#00e0fb 289.0px)"></i><i style="background:linear-gradient(90deg,#00bcff 0.0px,#00bcff 24.1px,#00dcfe 30.1px,#00e4f8 32.1px,#16ffe1 37.1px,#43ffb4 48.2px,#7dff7a 72.2px,#adff49 96.3px,#adff49 120.4px,#a7ff50 144.5px,#a7ff50 192.7px,#73ff83 216.8px,#3cffba 240.8px,#16ffe1 259.9px,#09f0ee 264.9px,#09f0ee 289.0px)"></i><i style="background:linear-gradient(90deg,#00bcff 0.0px,#00c4ff 24.1px,#00dcfe 28.9px,#00e4f8 31.0px,#16ffe1 36.4px,#43ffb4 48.2px,#7dff7a 72.2px,#adff49 96.3px,#adff49 120.4px,#b4ff43 144.5px,#adff49 168.6px,#adff49 192.7px,#80ff77 216.8px,#49ffad 240.8px,#16ffe1 264.9px,#16ffe1 289.0px)"></i><i style="background:linear-gradient(90deg,#00bcff 0.0px,#00d4ff 24.1px,#00dcfe 25.9px,#00e4f8 28.4px,#16ffe1 34.6px,#43ffb4 48.2px,#7dff7a 72.2px,#adff49 96.3px,#adff49 120.4px,#c1ff36 144.5px,#adff49 168.6px,#adff49 192.7px,#8dff6a 216.8px,#56ffa0 240.8px,#23ffd4 264.9px,#23ffd4 289.0px)"></i><i style="background:linear-gradient(90deg,#00bcff 0.0px,#00dcfe 19.3px,#00e0fb 24.1px,#00e4f8 24.8px,#16ffe1 32.1px,#43ffb4 48.2px,#7dff7a 72.2px,#adff49 96.3px,#adff49 120.4px,#caff2c 144.5px,#adff49 168.6px,#adff49 192.7px,#9aff5d 216.8px,#66ff90 240.8px,#30ffc7 264.9px,#30ffc7 289.0px)"></i><i style="background:linear-gradient(90deg,#00bcff 0.0px,#00dcfe 13.8px,#00e4f8 18.3px,#09f0ee 24.1px,#16ffe1 28.5px,#43ffb4 48.2px,#7dff7a 72.2px,#adff49 96.3px,#adff49 120.4px,#d7ff1f 144.5px,#adff49 168.6px,#adff49 192.7px,#a7ff50 216.8px,#73ff83 240.8px,#3cffba 264.9px,#3cffba 289.0px)"></i><i style="background:linear-gradient(90deg,#00bcff 0.0px,#00dcfe 12.0px,#00e4f8 16.1px,#0ff8e7 24.1px,#16ffe1 26.1px,#43ffb4 48.2px,#7dff7a 72.2px,#adff49 96.3px,#b4ff43 120.4px,#deff19 144.5px,#b4ff43 168.6px,#adff49 192.7px,#adff49 216.8px,#7dff7a 240.8px,#49ffad 264.9px,#43ffb4 289.0px)"></i><i style="background:linear-gradient(90deg,#00bcff 0.0px,#00dcfe 12.0px,#00e4f8 16.1px,#0ff8e7 24.1px,#16ffe1 26.1px,#43ffb4 48.2px,#7dff7a 72.2px,#adff49 96.3px,#c1ff36 120.4px,#deff19 144.5px,#c1ff36 168.6px,#adff49 192.7px,#adff49 216.8px,#7dff7a 240.8px,#56ffa0 264.9px,#43ffb4 289.0px)"></i><i style="background:linear-gradient(90deg,#00bcff 0.0px,#00dcfe 12.0px,#00e4f8 16.1px,#0ff8e7 24.1px,#16ffe1 26.1px,#43ffb4 48.2px,#7dff7a 72.2px,#adff49 96.3px,#caff2c 120.4px,#deff19 144.5px,#caff2c 168.6px,#adff49 192.7px,#adff49 216.8px,#7dff7a 240.8px,#66ff90 264.9px,#43ffb4 289.0px)"></i><i style="background:linear-gradient(90deg,#00bcff 0.0px,#00dcfe 12.0px,#00e4f8 16.1px,#0ff8e7 24.1px,#16ffe1 26.1px,#43ffb4 48.2px,#7dff7a 72.2px,#adff49 96.3px,#d7ff1f 120.4px,#deff19 144.5px,#d7ff1f 168.6px,#adff49 192.7px,#adff49 216.8px,#7dff7a 240.8px,#73ff83 264.9px,#43ffb4 289.0px)"></i><i style="background:linear-gradient(90deg,#00c4ff 0.0px,#00dcfe 10.3px,#00e4f8 14.9px,#0ff8e7 24.1px,#16ffe1 25.8px,#49ffad 48.2px,#7dff7a 72.2px,#adff49 96.3px,#deff19 120.4px,#e4ff13 144.5px,#deff19 168.6px,#adff49 192.7px,#adff49 216.8px,#80ff77 240.8px,#7dff7a 264.9px,#49ffad 289.0px)"></i><i style="background:linear-gradient(90deg,#00d4ff 0.0px,#00dcfe 4.8px,#00e4f8 11.2px,#0ff8e7 24.1px,#16ffe1 25.5px,#56ffa0 48.2px,#7dff7a 72.2px,#adff49 96.3px,#deff19 120.4px,#eeff09 143.8px,#f1fc06 144.5px,#eeff09 145.2px,#deff19 168.6px,#adff49 192.7px,#adff49 216.8px,#8dff6a 240.8px,#7dff7a 264.9px,#56ffa0 289.0px)"></i><i style="background:linear-gradient(90deg,#00e0fb 0.0px,#00e4f8 2.7px,#0ff8e7 24.1px,#16ffe1 25.2px,#66ff90 48.2px,#7dff7a 72.2px,#adff49 96.3px,#deff19 120.4px,#eeff09 134.4px,#f8f500 141.4px,#fbf100 144.5px,#f8f500 147.6px,#eeff09 154.6px,#deff19 168.6px,#adff49 192.7px,#adff49 216.8px,#9aff5d 240.8px,#7dff7a 264.9px,#66ff90 289.0px)"></i><i style="background:linear-gradient(90deg,#09f0ee 0.0px,#0ff8e7 24.1px,#16ffe1 25.1px,#73ff83 48.2px,#7dff7a 72.2px,#adff49 96.3px,#deff19 120.4px,#eeff09 130.4px,#f8f500 135.4px,#feed00 140.4px,#ffe200 144.5px,#feed00 148.6px,#f8f500 153.6px,#eeff09 158.6px,#deff19 168.6px,#adff49 192.7px,#adff49 216.8px,#a7ff50 240.8px,#7dff7a 264.9px,#73ff83 289.0px)"></i><i style="background:linear-gradient(90deg,#0ff8e7 0.0px,#16ffe1 16.1px,#16ffe1 24.1px,#80ff77 48.2px,#87ff70 72.2px,#b7ff40 96.3px,#e4ff13 120.4px,#eeff09 127.3px,#f8f500 132.3px,#feed00 137.3px,#ffde00 144.5px,#feed00 150.9px,#f8f500 155.3px,#eeff09 159.7px,#deff19 168.6px,#adff49 192.7px,#adff49 240.8px,#7dff7a 264.9px,#73ff83 289.0px)"></i><i style="background:linear-gradient(90deg,#0ff8e7 0.0px,#16ffe1 5.4px,#23ffd4 24.1px,#8dff6a 48.2px,#a0ff56 72.2px,#ceff29 96.3px,#eeff09 120.4px,#eeff09 121.3px,#f8f500 128.3px,#feed00 135.3px,#ffde00 144.5px,#feed00 150.4px,#f8f500 155.0px,#eeff09 159.5px,#deff19 168.6px,#adff49 192.7px,#adff49 240.8px,#7dff7a 264.9px,#66ff90 289.0px)"></i><i style="background:linear-gradient(90deg,#0ff8e7 0.0px,#16ffe1 3.2px,#30ffc7 24.1px,#9aff5d 48.2px,#baff3c 72.2px,#e4ff13 96.3px,#eeff09 108.4px,#f8f500 119.1px,#f8f500 120.4px,#feed00 130.6px,#ffde00 144.5px,#feed00 150.0px,#f8f500 154.7px,#eeff09 159.3px,#deff19 168.6px,#adff49 192.7px,#adff49 240.8px,#7dff7a 264.9px,#56ffa0 289.0px)"></i><i style="background:linear-gradient(90deg,#0ff8e7 0.0px,#16ffe1 2.3px,#3cffba 24.1px,#a7ff50 48.2px,#d1ff26 72.2px,#eeff09 88.7px,#f8f500 93.4px,#feed00 96.3px,#feed00 108.4px,#ffea00 120.4px,#ffe200 144.5px,#feed00 149.6px,#f8f500 154.3px,#eeff09 159.1px,#deff19 168.6px,#adff49 192.7px,#adff49 240.8px,#7dff7a 264.9px,#49ffad 289.0px)"></i><i style="background:linear-gradient(90deg,#16ffe1 0.0px,#73ff83 24.1px,#d7ff1f 48.2px,#eeff09 71.3px,#f1fc06 72.2px,#f8f500 78.1px,#feed00 84.7px,#ffdb00 96.3px,#ffdb00 120.4px,#feed00 137.3px,#fbf100 144.5px,#f8f500 145.8px,#eeff09 150.8px,#d1ff26 168.6px,#adff49 192.7px,#adff49 216.8px,#a7ff50 240.8px,#7dff7a 264.9px,#43ffb4 289.0px)"></i><i style="background:linear-gradient(90deg,#23ffd4 0.0px,#d7ff1f 24.1px,#eeff09 31.3px,#f8f500 33.7px,#feed00 36.1px,#ffbd00 48.2px,#ffd300 72.2px,#ffcc00 96.3px,#ffcc00 120.4px,#feed00 130.9px,#f8f500 134.1px,#eeff09 137.3px,#deff19 144.5px,#baff3c 168.6px,#adff49 192.7px,#adff49 216.8px,#9aff5d 240.8px,#7dff7a 264.9px,#43ffb4 289.0px)"></i><i style="background:linear-gradient(90deg,#30ffc7 0.0px,#eeff09 17.4px,#f8f500 18.1px,#feed00 18.9px,#ffab00 24.1px,#ff5d00 48.2px,#ffae00 72.2px,#ffbd00 96.3px,#ffbd00 120.4px,#feed00 129.6px,#f8f500 131.5px,#eeff09 133.4px,#c1ff36 144.5px,#a0ff56 168.6px,#adff49 192.7px,#adff49 216.8px,#8dff6a 240.8px,#7dff7a 264.9px,#43ffb4 289.0px)"></i><i style="background:linear-gradient(90deg,#3cffba 0.0px,#eeff09 12.3px,#f8f500 12.8px,#feed00 13.4px,#ff3800 24.1px,#ff1300 40.1px,#e80000 48.2px,#ff1300 51.6px,#ff8600 72.2px,#ffb200 96.3px,#ffb200 120.4px,#feed00 129.0px,#f8f500 130.4px,#eeff09 131.8px,#a4ff53 144.5px,#87ff70 168.6px,#adff49 192.7px,#adff49 216.8px,#80ff77 240.8px,#7dff7a 264.9px,#43ffb4 289.0px)"></i><i style="background:linear-gradient(90deg,#50ffa7 0.0px,#eeff09 9.8px,#f8f500 10.3px,#feed00 10.8px,#ff1300 22.5px,#e80000 23.5px,#da0000 24.1px,#a40000 48.2px,#e80000 56.1px,#ff1300 59.0px,#ff6800 72.2px,#ffa300 96.3px,#ffa300 120.4px,#feed00 128.9px,#f8f500 130.0px,#eeff09 131.1px,#8aff6d 144.5px,#6dff8a 168.6px,#a7ff50 192.7px,#a7ff50 216.8px,#7dff7a 240.8px,#73ff83 264.9px,#43ffb4 289.0px)"></i><i style="background:linear-gradient(90deg,#6aff8d 0.0px,#eeff09 8.4px,#f8f500 8.9px,#feed00 9.4px,#ff1300 21.3px,#e80000 22.3px,#bf0000 24.1px,#9b0000 48.2px,#e80000 57.8px,#ff1300 60.8px,#ff5900 72.2px,#ff9400 96.3px,#ff9400 120.4px,#feed00 129.0px,#f8f500 130.0px,#eeff09 130.9px,#77ff80 144.5px,#53ffa4 168.6px,#9aff5d 192.7px,#9aff5d 216.8px,#7dff7a 240.8px,#66ff90 264.9px,#43ffb4 289.0px)"></i><i style="background:linear-gradient(90deg,#83ff73 0.0px,#eeff09 6.8px,#f8f500 7.3px,#feed00 7.9px,#ff1300 20.0px,#e80000 21.1px,#a40000 24.1px,#8d0000 48.2px,#e80000 59.6px,#ff1300 62.7px,#ff4e00 72.2px,#ff8600 96.3px,#ff8600 120.4px,#feed00 129.1px,#f8f500 129.9px,#eeff09 130.8px,#63ff94 144.5px,#39ffbe 168.6px,#8dff6a 192.7px,#8dff6a 216.8px,#7dff7a 240.8px,#56ffa0 264.9px,#43ffb4 289.0px)"></i><i style="background:linear-gradient(90deg,#a0ff56 0.0px,#eeff09 5.2px,#f8f500 5.8px,#feed00 6.3px,#ff1300 18.7px,#e80000 19.8px,#890000 24.1px,#840000 48.2px,#e80000 61.6px,#ff1300 64.7px,#ff3f00 72.2px,#ff7700 96.3px,#ff7700 120.4px,#feed00 129.2px,#f8f500 129.9px,#eeff09 130.6px,#50ffa7 144.5px,#1cffdb 168.6px,#80ff77 192.7px,#80ff77 216.8px,#7dff7a 240.8px,#49ffad 264.9px,#43ffb4 289.0px)"></i><i style="background:linear-gradient(90deg,#c4ff33 0.0px,#eeff09 3.0px,#f8f500 3.6px,#feed00 4.2px,#ff1300 17.6px,#e80000 18.8px,#800000 24.1px,#800000 48.2px,#e80000 64.1px,#ff1300 67.6px,#ff2900 72.2px,#ff5d00 96.3px,#ff5d00 120.4px,#feed00 129.8px,#f8f500 130.4px,#eeff09 131.0px,#3cffba 144.5px,#16ffe1 161.5px,#02e8f4 168.6px,#16ffe1 172.1px,#73ff83 192.7px,#7dff7a 216.8px,#7dff7a 240.8px,#43ffb4 264.9px,#43ffb4 289.0px)"></i><i style="background:linear-gradient(90deg,#f4f802 0.0px,#f8f500 0.3px,#feed00 0.9px,#ff1300 16.6px,#e80000 18.0px,#800000 24.1px,#800000 48.2px,#e80000 68.1px,#fa0f00 72.2px,#ff1300 73.1px,#ff3400 96.3px,#ff3400 120.4px,#feed00 130.7px,#f8f500 131.2px,#eeff09 131.7px,#29ffce 144.5px,#16ffe1 152.4px,#00e4f8 160.5px,#00dcfe 163.7px,#00ccff 168.6px,#00dcfe 171.0px,#00e4f8 172.6px,#16ffe1 176.7px,#66ff90 192.7px,#7dff7a 216.8px,#7dff7a 240.8px,#43ffb4 264.9px,#43ffb4 289.0px)"></i><i style="background:linear-gradient(90deg,#ffc100 0.0px,#ff1300 15.1px,#e80000 16.8px,#800000 24.1px,#800000 48.2px,#da0000 72.2px,#e80000 81.6px,#f60b00 96.3px,#f60b00 120.4px,#ff1300 120.7px,#feed00 131.3px,#f8f500 131.8px,#eeff09 132.3px,#16ffe1 144.5px,#16ffe1 144.7px,#00e4f8 152.2px,#00dcfe 155.1px,#00acff 168.6px,#00dcfe 175.3px,#00e4f8 176.8px,#16ffe1 180.5px,#56ffa0 192.7px,#7dff7a 216.8px,#7dff7a 240.8px,#43ffb4 264.9px,#43ffb4 289.0px)"></i><i style="background:linear-gradient(90deg,#ff8d00 0.0px,#ff1300 13.0px,#e80000 15.0px,#800000 24.1px,#800000 48.2px,#bb0000 72.2px,#c40000 96.3px,#c40000 120.4px,#e80000 121.6px,#ff1300 122.4px,#feed00 131.9px,#f8f500 132.3px,#eeff09 132.7px,#16ffe1 143.6px,#02e8f4 144.5px,#00e4f8 145.0px,#00dcfe 147.8px,#008cff 168.6px,#00dcfe 179.0px,#00e4f8 180.4px,#16ffe1 183.8px,#49ffad 192.7px,#7dff7a 216.8px,#7dff7a 240.8px,#43ffb4 264.9px,#43ffb4 289.0px)"></i><i style="background:linear-gradient(90deg,#ff6800 0.0px,#ff1300 11.0px,#e80000 13.4px,#800000 24.1px,#800000 48.2px,#b20000 72.2px,#ad0000 96.3px,#ad0000 120.4px,#e80000 122.3px,#ff1300 123.1px,#feed00 131.9px,#f8f500 132.3px,#eeff09 132.7px,#16ffe1 142.8px,#00e4f8 143.8px,#00dcfe 144.2px,#00d0ff 144.5px,#0074ff 168.6px,#00dcfe 181.7px,#00e4f8 183.0px,#16ffe1 186.4px,#3cffba 192.7px,#73ff83 216.8px,#73ff83 240.8px,#3cffba 264.9px,#43ffb4 289.0px)"></i><i style="background:linear-gradient(90deg,#ff5900 0.0px,#ff1300 10.0px,#e80000 12.5px,#800000 24.1px,#800000 48.2px,#c40000 72.2px,#ad0000 96.3px,#ad0000 120.4px,#e80000 122.3px,#ff1300 123.0px,#feed00 131.6px,#f8f500 132.0px,#eeff09 132.4px,#16ffe1 142.3px,#00e4f8 143.2px,#00dcfe 143.6px,#00c0ff 144.5px,#0064ff 168.6px,#00dcfe 183.8px,#00e4f8 185.1px,#16ffe1 188.4px,#30ffc7 192.7px,#66ff90 216.8px,#66ff90 240.8px,#30ffc7 264.9px,#43ffb4 289.0px)"></i><i style="background:linear-gradient(90deg,#ff4e00 0.0px,#ff1300 8.7px,#e80000 11.5px,#800000 24.1px,#800000 48.2px,#d10000 72.2px,#ad0000 96.3px,#ad0000 120.4px,#e80000 122.2px,#ff1300 123.0px,#feed00 131.4px,#f8f500 131.7px,#eeff09 132.1px,#16ffe1 141.7px,#00e4f8 142.7px,#00dcfe 143.0px,#00b0ff 144.5px,#0050ff 168.6px,#00dcfe 185.9px,#00e4f8 187.2px,#16ffe1 190.4px,#23ffd4 192.7px,#56ffa0 216.8px,#56ffa0 240.8px,#23ffd4 264.9px,#43ffb4 289.0px)"></i><i style="background:linear-gradient(90deg,#ff3f00 0.0px,#ff1300 7.3px,#e80000 10.3px,#800000 24.1px,#800000 48.2px,#df0000 72.2px,#ad0000 96.3px,#ad0000 120.4px,#e80000 122.2px,#ff1300 122.9px,#feed00 131.1px,#f8f500 131.4px,#eeff09 131.8px,#16ffe1 141.2px,#00e4f8 142.1px,#00dcfe 142.5px,#00a0ff 144.5px,#0040ff 168.6px,#00dcfe 187.9px,#00e4f8 189.2px,#16ffe1 192.3px,#16ffe1 192.7px,#49ffad 216.8px,#49ffad 240.8px,#16ffe1 264.9px,#43ffb4 289.0px)"></i><i style="background:linear-gradient(90deg,#ff3000 0.0px,#ff1300 5.5px,#e80000 8.9px,#800000 24.1px,#800000 48.2px,#df0000 72.2px,#b20000 96.3px,#c40000 120.4px,#e80000 121.5px,#ff1300 122.2px,#feed00 130.5px,#f8f500 130.9px,#eeff09 131.3px,#16ffe1 140.9px,#00e4f8 141.8px,#00dcfe 142.1px,#0098ff 144.5px,#0038ff 168.6px,#00dcfe 189.7px,#00e4f8 191.0px,#09f0ee 192.7px,#16ffe1 197.7px,#3cffba 216.8px,#3cffba 240.8px,#16ffe1 262.6px,#0ff8e7 264.9px,#16ffe1 267.2px,#3cffba 289.0px)"></i><i style="background:linear-gradient(90deg,#ff2200 0.0px,#ff1300 3.3px,#e80000 7.1px,#800000 24.1px,#800000 48.2px,#d10000 72.2px,#c40000 96.3px,#e80000 113.1px,#f60b00 120.4px,#ff1300 120.7px,#feed00 129.6px,#f8f500 130.0px,#eeff09 130.4px,#16ffe1 140.6px,#00e4f8 141.6px,#00dcfe 142.0px,#0098ff 144.5px,#0038ff 168.6px,#00dcfe 191.6px,#00e0fb 192.7px,#00e4f8 193.7px,#16ffe1 203.7px,#30ffc7 216.8px,#30ffc7 240.8px,#16ffe1 261.7px,#0ff8e7 264.9px,#16ffe1 268.1px,#30ffc7 289.0px)"></i><i style="background:linear-gradient(90deg,#ff1300 0.0px,#ff1300 0.5px,#e80000 4.8px,#800000 24.1px,#800000 48.2px,#c40000 72.2px,#d10000 96.3px,#e80000 102.4px,#ff1300 108.8px,#ff3400 120.4px,#feed00 128.5px,#f8f500 128.9px,#eeff09 129.3px,#16ffe1 140.3px,#00e4f8 141.4px,#00dcfe 141.8px,#0098ff 144.5px,#0038ff 168.6px,#00d4ff 192.7px,#00dcfe 195.7px,#00e4f8 199.7px,#16ffe1 209.7px,#23ffd4 216.8px,#23ffd4 240.8px,#16ffe1 259.6px,#0ff8e7 264.9px,#16ffe1 270.3px,#23ffd4 289.0px)"></i><i style="background:linear-gradient(90deg,#ed0400 0.0px,#e80000 1.9px,#800000 24.1px,#800000 48.2px,#b20000 72.2px,#df0000 96.3px,#e80000 97.8px,#ff1300 102.4px,#ff5d00 120.4px,#feed00 127.2px,#f8f500 127.7px,#eeff09 128.1px,#16ffe1 140.0px,#00e4f8 141.1px,#00dcfe 141.6px,#0098ff 144.5px,#0038ff 168.6px,#00c4ff 192.7px,#00dcfe 201.7px,#00e4f8 205.7px,#16ffe1 215.7px,#16ffe1 248.9px,#0ff8e7 264.9px,#16ffe1 281.0px,#16ffe1 289.0px)"></i><i style="background:linear-gradient(90deg,#ed0400 0.0px,#e80000 2.0px,#840000 24.1px,#840000 48.2px,#b20000 72.2px,#e80000 92.8px,#ed0400 96.3px,#ff1300 98.8px,#ff7700 120.4px,#feed00 126.2px,#f8f500 126.7px,#eeff09 127.2px,#16ffe1 139.8px,#00e4f8 141.0px,#00dcfe 141.4px,#0098ff 144.5px,#0038ff 168.6px,#00bcff 192.7px,#00dcfe 206.4px,#00e4f8 211.0px,#09f0ee 216.8px,#09f0ee 264.9px,#0ff8e7 289.0px)"></i><i style="background:linear-gradient(90deg,#ff1300 0.0px,#ff1300 0.6px,#e80000 5.6px,#8d0000 24.1px,#8d0000 48.2px,#c40000 72.2px,#e80000 86.3px,#ff1300 95.2px,#ff1300 96.3px,#ff8600 120.4px,#feed00 125.7px,#f8f500 126.2px,#eeff09 126.7px,#16ffe1 139.7px,#00e4f8 140.9px,#00dcfe 141.4px,#0098ff 144.5px,#0038ff 168.6px,#00bcff 192.7px,#00dcfe 211.9px,#00e0fb 216.8px,#00e0fb 264.9px,#00e4f8 267.6px,#0ff8e7 289.0px)"></i><i style="background:linear-gradient(90deg,#ff2200 0.0px,#ff1300 4.1px,#e80000 8.8px,#9b0000 24.1px,#9b0000 48.2px,#d10000 72.2px,#e80000 80.3px,#ff1300 88.8px,#ff2200 96.3px,#ff9400 120.4px,#feed00 125.1px,#f8f500 125.6px,#eeff09 126.1px,#16ffe1 139.6px,#00e4f8 140.9px,#00dcfe 141.4px,#009cff 144.5px,#0038ff 168.6px,#00bcff 192.7px,#00d4ff 216.8px,#00d4ff 264.9px,#00dcfe 269.7px,#00e4f8 276.2px,#0ff8e7 289.0px)"></i><i style="background:linear-gradient(90deg,#ff3000 0.0px,#ff1300 7.3px,#e80000 11.8px,#a40000 24.1px,#a40000 48.2px,#df0000 72.2px,#e80000 74.8px,#ff1300 83.0px,#ff3000 96.3px,#ffa300 120.4px,#feed00 124.5px,#f8f500 125.0px,#eeff09 125.5px,#16ffe1 139.5px,#00e4f8 140.8px,#00dcfe 141.3px,#009cff 144.5px,#0038ff 168.6px,#00bcff 192.7px,#00c4ff 216.8px,#00c4ff 264.9px,#00dcfe 275.2px,#00e4f8 279.8px,#0ff8e7 289.0px)"></i><i style="background:linear-gradient(90deg,#ff6800 0.0px,#ff1300 15.0px,#e80000 18.2px,#bb0000 24.1px,#b20000 48.2px,#e80000 68.7px,#ed0400 72.2px,#ff1300 77.3px,#ff3f00 96.3px,#ffb200 120.4px,#feed00 123.8px,#f8f500 124.4px,#eeff09 124.9px,#16ffe1 139.5px,#00e4f8 140.9px,#00dcfe 141.4px,#00a0ff 144.5px,#0040ff 168.6px,#00bcff 192.7px,#00bcff 240.8px,#00b4ff 264.9px,#00dcfe 280.0px,#00e4f8 284.0px,#09f0ee 289.0px)"></i><i style="background:linear-gradient(90deg,#ffcc00 0.0px,#ff1300 21.0px,#e80000 23.2px,#da0000 24.1px,#c40000 48.2px,#e80000 62.2px,#ff1300 71.1px,#ff1300 72.2px,#ff4e00 96.3px,#ffbd00 120.4px,#feed00 123.2px,#f8f500 123.7px,#eeff09 124.3px,#16ffe1 139.7px,#00e4f8 141.1px,#00dcfe 141.7px,#00a8ff 144.5px,#0050ff 168.6px,#00bcff 192.7px,#00bcff 240.8px,#00a4ff 264.9px,#00dcfe 286.0px,#00e0fb 289.0px)"></i><i style="background:linear-gradient(90deg,#c4ff33 0.0px,#eeff09 4.2px,#f8f500 5.0px,#feed00 5.7px,#ff1300 24.0px,#fa0f00 24.1px,#e80000 36.1px,#d10000 48.2px,#e80000 56.2px,#ff1300 64.8px,#ff2200 72.2px,#ff5900 96.3px,#ffcc00 120.4px,#feed00 122.4px,#f8f500 123.0px,#eeff09 123.6px,#16ffe1 139.8px,#00e4f8 141.4px,#00dcfe 142.0px,#00b0ff 144.5px,#0064ff 168.6px,#00bcff 192.7px,#00bcff 240.8px,#0094ff 264.9px,#00d4ff 289.0px)"></i><i style="background:linear-gradient(90deg,#6dff8a 0.0px,#eeff09 9.9px,#f8f500 10.6px,#feed00 11.2px,#ff2900 24.1px,#ff1300 36.1px,#e80000 45.3px,#df0000 48.2px,#e80000 50.7px,#ff1300 58.9px,#ff3000 72.2px,#ff6800 96.3px,#ffdb00 120.4px,#feed00 121.6px,#f8f500 122.2px,#eeff09 122.8px,#16ffe1 140.0px,#00e4f8 141.7px,#00dcfe 142.3px,#00b8ff 144.5px,#0074ff 168.6px,#00bcff 192.7px,#00bcff 240.8px,#0084ff 264.9px,#00c4ff 289.0px)"></i><i style="background:linear-gradient(90deg,#3cffba 0.0px,#eeff09 13.6px,#f8f500 14.3px,#feed00 14.9px,#ff6000 24.1px,#ff2200 48.2px,#ff5200 72.2px,#ff8d00 96.3px,#feed00 118.0px,#f8f500 120.1px,#f8f500 120.4px,#eeff09 121.0px,#16ffe1 139.9px,#00e4f8 141.7px,#00dcfe 142.4px,#00bcff 144.5px,#0084ff 168.6px,#00c4ff 192.7px,#00bcff 216.8px,#00bcff 240.8px,#0080ff 264.9px,#00bcff 289.0px)"></i><i style="background:linear-gradient(90deg,#30ffc7 0.0px,#eeff09 18.0px,#f8f500 18.8px,#feed00 19.5px,#ffb200 24.1px,#ff6400 48.2px,#ff8900 72.2px,#ffc100 96.3px,#feed00 107.1px,#f8f500 109.6px,#eeff09 112.1px,#d4ff23 120.4px,#16ffe1 139.2px,#00e4f8 141.2px,#00dcfe 142.1px,#00bcff 144.5px,#0094ff 168.6px,#00d4ff 192.7px,#00bcff 216.8px,#00bcff 240.8px,#0080ff 264.9px,#00bcff 289.0px)"></i><i style="background:linear-gradient(90deg,#23ffd4 0.0px,#e7ff0f 24.1px,#eeff09 26.2px,#f8f500 28.7px,#feed00 31.2px,#ffab00 48.2px,#ffc100 72.2px,#feed00 90.8px,#f8f500 94.8px,#f4f802 96.3px,#eeff09 98.2px,#b1ff46 120.4px,#16ffe1 138.3px,#00e4f8 140.7px,#00dcfe 141.7px,#00bcff 144.5px,#00a4ff 168.6px,#00dcfe 189.7px,#00e0fb 192.7px,#00dcfe 197.5px,#00bcff 216.8px,#00bcff 240.8px,#0080ff 264.9px,#00bcff 289.0px)"></i><i style="background:linear-gradient(90deg,#16ffe1 0.0px,#a0ff56 24.1px,#eeff09 44.7px,#f8f500 46.8px,#feed00 48.2px,#f8f500 68.2px,#f8f500 72.2px,#eeff09 75.8px,#c4ff33 96.3px,#8dff6a 120.4px,#16ffe1 137.1px,#00e4f8 139.9px,#00dcfe 141.1px,#00bcff 144.5px,#00b4ff 168.6px,#00dcfe 183.6px,#00e4f8 187.6px,#09f0ee 192.7px,#00e4f8 198.4px,#00dcfe 203.0px,#00bcff 216.8px,#00bcff 240.8px,#0080ff 264.9px,#00bcff 289.0px)"></i><i style="background:linear-gradient(90deg,#16ffe1 0.0px,#6dff8a 24.1px,#d1ff26 48.2px,#d7ff1f 72.2px,#adff49 96.3px,#73ff83 120.4px,#16ffe1 136.2px,#00e4f8 139.6px,#00dcfe 140.9px,#00c0ff 144.5px,#00c4ff 168.6px,#00dcfe 178.9px,#00e4f8 183.5px,#0ff8e7 192.7px,#00e4f8 201.8px,#00dcfe 206.4px,#00c4ff 216.8px,#00bcff 240.8px,#0084ff 264.9px,#00c4ff 289.0px)"></i><i style="background:linear-gradient(90deg,#23ffd4 0.0px,#53ffa4 24.1px,#baff3c 48.2px,#caff2c 72.2px,#adff49 96.3px,#66ff90 120.4px,#16ffe1 136.0px,#00e4f8 140.0px,#00dcfe 141.5px,#00c8ff 144.5px,#00d4ff 168.6px,#00dcfe 173.4px,#00e4f8 179.8px,#0ff8e7 192.7px,#00e4f8 205.5px,#00dcfe 211.9px,#00d4ff 216.8px,#00bcff 240.8px,#0094ff 264.9px,#00d4ff 289.0px)"></i><i style="background:linear-gradient(90deg,#30ffc7 0.0px,#39ffbe 24.1px,#a0ff56 48.2px,#c1ff36 72.2px,#adff49 96.3px,#56ffa0 120.4px,#16ffe1 135.8px,#00e4f8 140.5px,#00dcfe 142.4px,#00d0ff 144.5px,#00dcfe 159.0px,#00e0fb 168.6px,#00e4f8 171.3px,#0ff8e7 192.7px,#00e4f8 214.1px,#00e0fb 216.8px,#00dcfe 221.6px,#00bcff 240.8px,#00a4ff 264.9px,#00dcfe 286.0px,#00e0fb 289.0px)"></i><i style="background:linear-gradient(90deg,#3cffba 0.0px,#1cffdb 24.1px,#87ff70 48.2px,#b4ff43 72.2px,#adff49 96.3px,#49ffad 120.4px,#16ffe1 135.4px,#00e4f8 141.3px,#00dcfe 143.6px,#00d8ff 144.5px,#00dcfe 147.9px,#00e4f8 157.1px,#09f0ee 168.6px,#0ff8e7 192.7px,#09f0ee 216.8px,#00e4f8 222.5px,#00dcfe 227.1px,#00bcff 240.8px,#00b4ff 264.9px,#00dcfe 280.0px,#00e4f8 284.0px,#09f0ee 289.0px)"></i></div><div class=hm style="left:47.00px;top:463.00px;width:289.00px;height:128.00px"><i style="background:linear-gradient(90deg,#b20000 0.0px,#e80000 20.6px,#ed0400 24.1px,#e80000 27.2px,#ad0000 48.2px,#ad0000 72.2px,#e80000 93.2px,#ed0400 96.3px,#e80000 99.9px,#b20000 120.4px,#e80000 144.2px,#e80000 145.0px,#c40000 168.6px,#e80000 182.1px,#ff1300 191.5px,#ff1300 193.8px,#e80000 203.2px,#c40000 216.8px,#840000 240.8px,#e80000 264.9px,#f60b00 289.0px)"></i><i style="background:linear-gradient(90deg,#c40000 0.0px,#e80000 14.0px,#ff1300 23.0px,#ff1300 24.9px,#e80000 31.6px,#ad0000 48.2px,#ad0000 72.2px,#e80000 88.9px,#ff1300 95.5px,#ff1300 97.5px,#e80000 106.4px,#c40000 120.4px,#e80000 143.1px,#e80000 144.5px,#f60b00 168.6px,#ff1300 171.4px,#ff3f00 192.7px,#ff1300 213.9px,#f60b00 216.8px,#e80000 220.5px,#8d0000 240.8px,#e80000 264.9px,#ff1300 275.6px,#ff2900 289.0px)"></i><i style="background:linear-gradient(90deg,#d10000 0.0px,#e80000 8.0px,#ff1300 16.6px,#ff2200 24.1px,#ff1300 28.9px,#e80000 34.4px,#ad0000 48.2px,#ad0000 72.2px,#e80000 86.0px,#ff1300 91.5px,#ff2200 96.3px,#ff1300 103.8px,#e80000 112.4px,#d10000 120.4px,#e80000 141.1px,#e80000 144.5px,#ff1300 152.2px,#ff3400 168.6px,#ff6800 192.7px,#ff3400 216.8px,#ff1300 224.0px,#e80000 227.9px,#9b0000 240.8px,#e80000 264.9px,#ff1300 271.3px,#ff4700 289.0px)"></i><i style="background:linear-gradient(90deg,#df0000 0.0px,#e80000 2.6px,#ff1300 10.8px,#ff3000 24.1px,#ff1300 31.7px,#e80000 36.4px,#ad0000 48.2px,#ad0000 72.2px,#e80000 84.0px,#ff1300 88.7px,#ff3000 96.3px,#ff1300 109.7px,#e80000 117.9px,#df0000 120.4px,#e80000 134.6px,#ed0400 144.5px,#ff1300 148.5px,#ff5d00 168.6px,#ff9400 192.7px,#ff5d00 216.8px,#ff1300 229.1px,#e80000 232.2px,#a40000 240.8px,#e80000 264.9px,#ff1300 269.5px,#ff6000 289.0px)"></i><i style="background:linear-gradient(90deg,#e80000 0.0px,#ff1300 9.2px,#ff3000 24.1px,#ff1300 32.2px,#e80000 37.2px,#b20000 48.2px,#ad0000 72.2px,#e80000 82.5px,#ff1300 86.6px,#ff3f00 96.3px,#ff1300 113.3px,#e80000 120.4px,#ff1300 141.2px,#ff1300 144.5px,#ff6800 168.6px,#ffb200 192.7px,#ff7700 216.8px,#ff1300 230.9px,#e80000 233.6px,#a40000 240.8px,#e80000 264.9px,#ff1300 269.2px,#ff6800 289.0px)"></i><i style="background:linear-gradient(90deg,#e80000 0.0px,#ff1300 12.8px,#ff2200 24.1px,#ff1300 30.2px,#e80000 37.2px,#c40000 48.2px,#ad0000 72.2px,#e80000 81.3px,#ff1300 85.0px,#ff4e00 96.3px,#ff1300 114.6px,#e80000 120.4px,#ff1300 128.5px,#ff3800 144.5px,#ff5900 168.6px,#ffbd00 192.7px,#ff8600 216.8px,#ff1300 231.0px,#e80000 233.3px,#9b0000 240.8px,#e80000 264.9px,#ff1300 269.9px,#ff5900 289.0px)"></i><i style="background:linear-gradient(90deg,#e80000 0.0px,#ff1300 21.4px,#ff1300 25.5px,#e80000 37.2px,#d10000 48.2px,#ad0000 72.2px,#e80000 80.4px,#ff1300 83.7px,#ff5900 96.3px,#ff1300 115.5px,#e80000 120.4px,#ff1300 125.5px,#ff5900 144.5px,#ff4e00 168.6px,#ffcc00 192.7px,#ff9400 216.8px,#ff1300 231.0px,#e80000 233.1px,#8d0000 240.8px,#e80000 264.9px,#ff1300 270.8px,#ff4e00 289.0px)"></i><i style="background:linear-gradient(90deg,#e80000 0.0px,#ed0400 24.1px,#e80000 37.2px,#df0000 48.2px,#ad0000 72.2px,#e80000 79.7px,#ff1300 82.6px,#ff6800 96.3px,#ff1300 116.1px,#e80000 120.4px,#ff1300 124.1px,#ff7a00 144.5px,#ff3f00 168.6px,#ffdb00 192.7px,#ffa300 216.8px,#ff1300 231.0px,#e80000 232.9px,#840000 240.8px,#e80000 264.9px,#ff1300 272.1px,#ff3f00 289.0px)"></i><i style="background:linear-gradient(90deg,#e80000 0.0px,#df0000 24.1px,#da0000 48.2px,#ad0000 72.2px,#e80000 80.0px,#ff1300 83.1px,#ff6000 96.3px,#ff1300 115.8px,#e80000 120.4px,#ff1300 123.9px,#ff8200 144.5px,#ff2900 168.6px,#ffc400 192.7px,#ff8d00 216.8px,#ff1300 229.9px,#e80000 231.8px,#800000 240.8px,#e80000 263.1px,#ed0400 264.9px,#ff1300 269.4px,#ff4700 289.0px)"></i><i style="background:linear-gradient(90deg,#e80000 0.0px,#d10000 24.1px,#bf0000 48.2px,#ad0000 72.2px,#e80000 81.9px,#ff1300 85.7px,#ff4700 96.3px,#ff1300 114.0px,#e80000 120.4px,#ff1300 124.6px,#ff6c00 144.5px,#ff1300 168.3px,#fa0f00 168.6px,#ff1300 168.8px,#ff8d00 192.7px,#ff5900 216.8px,#ff1300 226.4px,#e80000 229.0px,#800000 240.8px,#e80000 260.1px,#ff1300 264.4px,#ff1300 264.9px,#ff6000 289.0px)"></i><i style="background:linear-gradient(90deg,#e80000 0.0px,#c40000 24.1px,#a40000 48.2px,#ad0000 72.2px,#e80000 84.9px,#ff1300 90.0px,#ff2900 96.3px,#ff1300 109.7px,#e80000 120.4px,#ff1300 125.6px,#ff5900 144.5px,#ff1300 161.8px,#e80000 166.5px,#da0000 168.6px,#e80000 170.7px,#ff1300 175.6px,#ff5500 192.7px,#ff2200 216.8px,#ff1300 219.8px,#e80000 223.7px,#800000 240.8px,#e80000 257.8px,#ff1300 261.6px,#ff2200 264.9px,#ff7e00 289.0px)"></i><i style="background:linear-gradient(90deg,#e80000 0.0px,#b20000 24.1px,#890000 48.2px,#ad0000 72.2px,#e80000 90.8px,#f60b00 96.3px,#e80000 120.4px,#ff1300 127.2px,#ff4300 144.5px,#ff1300 156.0px,#e80000 160.5px,#bb0000 168.6px,#e80000 181.8px,#ff1300 189.0px,#ff1a00 192.7px,#ff1300 197.4px,#e80000 206.8px,#cd0000 216.8px,#800000 240.8px,#e80000 256.0px,#ff1300 259.4px,#ff3000 264.9px,#ff9c00 289.0px)"></i><i style="background:linear-gradient(90deg,#e80000 0.0px,#a40000 24.1px,#800000 48.2px,#a40000 72.2px,#df0000 96.3px,#e80000 120.4px,#ff1300 129.0px,#ff3400 144.5px,#ff1300 152.7px,#e80000 157.2px,#ad0000 168.6px,#df0000 192.7px,#a40000 216.8px,#890000 240.8px,#e80000 253.8px,#ff1300 257.1px,#ff3f00 264.9px,#ffa300 289.0px)"></i><i style="background:linear-gradient(90deg,#e80000 0.0px,#9b0000 24.1px,#800000 48.2px,#9b0000 72.2px,#d10000 96.3px,#e80000 120.4px,#ff1300 130.3px,#ff2d00 144.5px,#ff1300 151.5px,#e80000 156.4px,#ad0000 168.6px,#d10000 192.7px,#9b0000 216.8px,#a40000 240.8px,#e80000 250.6px,#ff1300 254.1px,#ff4e00 264.9px,#ff9400 289.0px)"></i><i style="background:linear-gradient(90deg,#e80000 0.0px,#8d0000 24.1px,#800000 48.2px,#8d0000 72.2px,#c40000 96.3px,#e80000 120.4px,#ff1300 132.1px,#ff2500 144.5px,#ff1300 150.1px,#e80000 155.4px,#ad0000 168.6px,#c40000 192.7px,#8d0000 216.8px,#bf0000 240.8px,#e80000 247.0px,#ff1300 250.7px,#ff5900 264.9px,#ff8600 289.0px)"></i><i style="background:linear-gradient(90deg,#e80000 0.0px,#840000 24.1px,#800000 48.2px,#840000 72.2px,#b20000 96.3px,#e80000 120.4px,#ff1300 134.7px,#ff1e00 144.5px,#ff1300 148.5px,#e80000 154.2px,#ad0000 168.6px,#b20000 192.7px,#840000 216.8px,#da0000 240.8px,#e80000 243.0px,#ff1300 246.9px,#ff6800 264.9px,#ff7700 289.0px)"></i><i style="background:linear-gradient(90deg,#df0000 0.0px,#800000 24.1px,#800000 72.2px,#a40000 96.3px,#df0000 120.4px,#e80000 126.2px,#ff1300 144.5px,#e80000 150.9px,#a40000 168.6px,#a40000 192.7px,#800000 216.8px,#e80000 239.0px,#ed0400 240.8px,#ff1300 243.5px,#ff6f00 264.9px,#ff6000 289.0px)"></i><i style="background:linear-gradient(90deg,#d10000 0.0px,#800000 24.1px,#800000 72.2px,#9b0000 96.3px,#d10000 120.4px,#e80000 144.5px,#9b0000 168.6px,#9b0000 192.7px,#800000 216.8px,#e80000 236.0px,#ff1300 240.3px,#ff1300 240.8px,#ff6f00 264.9px,#ff4700 289.0px)"></i><i style="background:linear-gradient(90deg,#c40000 0.0px,#800000 24.1px,#800000 72.2px,#8d0000 96.3px,#c40000 120.4px,#cd0000 144.5px,#8d0000 168.6px,#8d0000 192.7px,#800000 216.8px,#e80000 233.8px,#ff1300 237.5px,#ff2200 240.8px,#ff6f00 264.9px,#ff2900 289.0px)"></i><i style="background:linear-gradient(90deg,#b20000 0.0px,#800000 24.1px,#800000 72.2px,#840000 96.3px,#b20000 120.4px,#b60000 144.5px,#840000 168.6px,#840000 192.7px,#800000 216.8px,#e80000 232.0px,#ff1300 235.3px,#ff3000 240.8px,#ff6f00 264.9px,#ff1300 287.9px,#f60b00 289.0px)"></i><i style="background:linear-gradient(90deg,#b20000 0.0px,#840000 24.1px,#800000 48.2px,#800000 96.3px,#a40000 120.4px,#b20000 144.5px,#840000 168.6px,#800000 192.7px,#800000 216.8px,#e80000 230.5px,#ff1300 233.6px,#ff3f00 240.8px,#ff7e00 264.9px,#ff1300 284.5px,#e80000 287.9px,#df0000 289.0px)"></i><i style="background:linear-gradient(90deg,#c40000 0.0px,#8d0000 24.1px,#800000 48.2px,#800000 96.3px,#9b0000 120.4px,#b60000 144.5px,#8d0000 168.6px,#800000 192.7px,#800000 216.8px,#e80000 229.3px,#ff1300 232.1px,#ff4e00 240.8px,#ff9c00 264.9px,#ff1300 283.9px,#e80000 286.5px,#d10000 289.0px)"></i><i style="background:linear-gradient(90deg,#d10000 0.0px,#9b0000 24.1px,#800000 48.2px,#800000 96.3px,#8d0000 120.4px,#bf0000 144.5px,#9b0000 168.6px,#800000 192.7px,#800000 216.8px,#e80000 228.3px,#ff1300 230.9px,#ff5900 240.8px,#ffb600 264.9px,#ff1300 283.5px,#e80000 285.7px,#c40000 289.0px)"></i><i style="background:linear-gradient(90deg,#df0000 0.0px,#a40000 24.1px,#800000 48.2px,#800000 96.3px,#840000 120.4px,#c40000 144.5px,#a40000 168.6px,#800000 192.7px,#800000 216.8px,#e80000 227.5px,#ff1300 229.8px,#ff6800 240.8px,#ffd300 264.9px,#ff1300 283.3px,#e80000 285.1px,#b20000 289.0px)"></i><i style="background:linear-gradient(90deg,#e80000 0.0px,#ad0000 24.1px,#840000 48.2px,#800000 72.2px,#840000 96.3px,#840000 120.4px,#cd0000 144.5px,#b20000 168.6px,#800000 192.7px,#800000 216.8px,#e80000 228.2px,#ff1300 230.8px,#ff5d00 240.8px,#ffc400 264.9px,#ff1300 282.9px,#e80000 284.8px,#b20000 289.0px)"></i><i style="background:linear-gradient(90deg,#e80000 0.0px,#ad0000 24.1px,#8d0000 48.2px,#800000 72.2px,#8d0000 96.3px,#8d0000 120.4px,#d60000 144.5px,#c40000 168.6px,#800000 192.7px,#800000 216.8px,#e80000 231.6px,#ff1300 234.9px,#ff3400 240.8px,#ff8d00 264.9px,#ff1300 282.2px,#e80000 284.8px,#c40000 289.0px)"></i><i style="background:linear-gradient(90deg,#e80000 0.0px,#ad0000 24.1px,#9b0000 48.2px,#800000 72.2px,#9b0000 96.3px,#9b0000 120.4px,#df0000 144.5px,#d10000 168.6px,#800000 192.7px,#800000 216.8px,#e80000 237.6px,#f60b00 240.8px,#ff1300 242.8px,#ff5500 264.9px,#ff1300 280.4px,#e80000 284.8px,#d10000 289.0px)"></i><i style="background:linear-gradient(90deg,#e80000 0.0px,#ad0000 24.1px,#a40000 48.2px,#800000 72.2px,#a40000 96.3px,#a40000 120.4px,#e80000 144.0px,#e80000 148.5px,#df0000 168.6px,#800000 192.7px,#800000 216.8px,#c40000 240.8px,#e80000 252.6px,#ff1300 260.8px,#ff1a00 264.9px,#ff1300 271.6px,#e80000 284.8px,#df0000 289.0px)"></i><i style="background:linear-gradient(90deg,#ed0400 0.0px,#e80000 3.5px,#b20000 24.1px,#b20000 48.2px,#890000 72.2px,#b20000 96.3px,#b20000 120.4px,#e80000 140.7px,#f10800 144.5px,#ed0400 168.6px,#e80000 170.7px,#890000 192.7px,#840000 216.8px,#ad0000 240.8px,#e80000 264.9px,#ed0400 289.0px)"></i><i style="background:linear-gradient(90deg,#ff1300 0.0px,#ff1300 1.1px,#e80000 10.1px,#c40000 24.1px,#c40000 48.2px,#a40000 72.2px,#c40000 96.3px,#c40000 120.4px,#e80000 136.9px,#f60b00 144.5px,#ff1300 161.2px,#ff1300 169.3px,#e80000 175.5px,#a40000 192.7px,#8d0000 216.8px,#ad0000 240.8px,#e80000 264.9px,#ff1300 286.3px,#ff1300 289.0px)"></i><i style="background:linear-gradient(90deg,#ff2200 0.0px,#ff1300 7.5px,#e80000 16.1px,#d10000 24.1px,#d10000 48.2px,#bf0000 72.2px,#d10000 96.3px,#d10000 120.4px,#e80000 131.9px,#ff1300 144.1px,#ff1300 144.5px,#ff2200 168.6px,#ff1300 174.5px,#e80000 181.3px,#bf0000 192.7px,#9b0000 216.8px,#ad0000 240.8px,#e80000 264.9px,#ff1300 277.8px,#ff2200 289.0px)"></i><i style="background:linear-gradient(90deg,#ff3000 0.0px,#ff1300 13.3px,#e80000 21.5px,#df0000 24.1px,#df0000 48.2px,#da0000 72.2px,#df0000 96.3px,#df0000 120.4px,#e80000 125.0px,#ff1300 139.5px,#ff1600 144.5px,#ff3000 168.6px,#ff1300 180.9px,#e80000 188.4px,#da0000 192.7px,#a40000 216.8px,#ad0000 240.8px,#e80000 264.9px,#ff1300 274.1px,#ff3000 289.0px)"></i><i style="background:linear-gradient(90deg,#ff3800 0.0px,#ff1300 21.4px,#f60b00 24.1px,#ed0400 48.2px,#ed0400 120.4px,#ff1300 130.5px,#ff2200 144.5px,#ff3f00 168.6px,#ff1300 187.6px,#ed0400 192.7px,#e80000 196.2px,#b20000 216.8px,#bb0000 240.8px,#e80000 257.9px,#f60b00 264.9px,#ff1300 267.2px,#ff3f00 289.0px)"></i><i style="background:linear-gradient(90deg,#ff3800 0.0px,#ff2900 24.1px,#ff1300 48.2px,#ff1300 120.4px,#ff3000 144.5px,#ff4e00 168.6px,#ff1300 192.7px,#ff1300 193.8px,#e80000 202.7px,#c40000 216.8px,#da0000 240.8px,#e80000 244.8px,#ff1300 253.7px,#ff2900 264.9px,#ff4e00 289.0px)"></i><i style="background:linear-gradient(90deg,#ff3800 0.0px,#ff4700 24.1px,#ff2200 48.2px,#ff2200 120.4px,#ff3f00 144.5px,#ff5900 168.6px,#ff2200 192.7px,#ff1300 200.2px,#e80000 208.7px,#d10000 216.8px,#e80000 228.8px,#fa0f00 240.8px,#ff1300 241.4px,#ff4700 264.9px,#ff5900 289.0px)"></i><i style="background:linear-gradient(90deg,#ff3800 0.0px,#ff6000 24.1px,#ff3000 48.2px,#ff3000 120.4px,#ff4e00 144.5px,#ff6800 168.6px,#ff3000 192.7px,#ff1300 206.0px,#e80000 214.2px,#df0000 216.8px,#e80000 219.6px,#ff1300 228.8px,#ff2900 240.8px,#ff6000 264.9px,#ff6800 289.0px)"></i><i style="background:linear-gradient(90deg,#ff3f00 0.0px,#ff6f00 24.1px,#ff3f00 48.2px,#ff3f00 120.4px,#ff5900 144.5px,#ff7700 168.6px,#ff3f00 192.7px,#ff1300 214.5px,#f60b00 216.8px,#ff1300 219.0px,#ff3f00 240.8px,#ff7700 264.9px,#ff7700 289.0px)"></i><i style="background:linear-gradient(90deg,#ff4e00 0.0px,#ff6f00 24.1px,#ff4e00 48.2px,#ff4e00 120.4px,#ff6800 144.5px,#ff8600 168.6px,#ff4e00 192.7px,#ff2900 216.8px,#ff4e00 240.8px,#ff8600 264.9px,#ff8600 289.0px)"></i><i style="background:linear-gradient(90deg,#ff5900 0.0px,#ff6f00 24.1px,#ff5900 48.2px,#ff5900 120.4px,#ff7700 144.5px,#ff9400 168.6px,#ff5900 192.7px,#ff4700 216.8px,#ff5900 240.8px,#ff9400 264.9px,#ff9400 289.0px)"></i><i style="background:linear-gradient(90deg,#ff6800 0.0px,#ff6f00 24.1px,#ff6800 48.2px,#ff6800 120.4px,#ff8600 144.5px,#ffa300 168.6px,#ff6800 192.7px,#ff6000 216.8px,#ff6800 240.8px,#ffa300 264.9px,#ffa300 289.0px)"></i><i style="background:linear-gradient(90deg,#ff6f00 0.0px,#ff7700 24.1px,#ff7700 48.2px,#ff6f00 72.2px,#ff6f00 96.3px,#ff7700 120.4px,#ff9800 144.5px,#ffb600 168.6px,#ff7e00 192.7px,#ff8600 216.8px,#ff8600 240.8px,#ffb600 264.9px,#ffb600 289.0px)"></i><i style="background:linear-gradient(90deg,#ff6f00 0.0px,#ff8600 24.1px,#ff8600 48.2px,#ff6f00 72.2px,#ff6f00 96.3px,#ff8600 120.4px,#ffab00 144.5px,#ffd000 168.6px,#ff9c00 192.7px,#ffae00 216.8px,#ffae00 240.8px,#ffd000 264.9px,#ffd000 289.0px)"></i><i style="background:linear-gradient(90deg,#ff6f00 0.0px,#ff9400 24.1px,#ff9400 48.2px,#ff6f00 72.2px,#ff6f00 96.3px,#ff9400 120.4px,#ffc100 144.5px,#ffea00 168.6px,#ffb600 192.7px,#ffd300 216.8px,#ffd300 240.8px,#ffea00 264.9px,#ffea00 289.0px)"></i><i style="background:linear-gradient(90deg,#ff6f00 0.0px,#ffa300 24.1px,#ffa300 48.2px,#ff6f00 72.2px,#ff6f00 96.3px,#ffa300 120.4px,#ffd300 144.5px,#feed00 156.4px,#f8f500 161.0px,#eeff09 165.7px,#ebff0c 168.6px,#eeff09 171.5px,#f8f500 176.2px,#feed00 180.9px,#ffd300 192.7px,#feed00 206.4px,#f8f500 211.9px,#f1fc06 216.8px,#f1fc06 240.8px,#eeff09 244.8px,#ebff0c 264.9px,#ebff0c 289.0px)"></i><i style="background:linear-gradient(90deg,#ff7700 0.0px,#ffb200 24.1px,#ffab00 48.2px,#ff7700 72.2px,#ff7700 96.3px,#ffb200 120.4px,#ffea00 144.5px,#feed00 146.0px,#f8f500 150.1px,#eeff09 154.2px,#d1ff26 168.6px,#eeff09 187.8px,#f8f500 192.7px,#eeff09 197.5px,#d1ff26 216.8px,#d1ff26 289.0px)"></i><i style="background:linear-gradient(90deg,#ff8600 0.0px,#ffbd00 24.1px,#ffab00 48.2px,#ff8600 72.2px,#ff8600 96.3px,#ffbd00 120.4px,#feed00 137.7px,#f8f500 141.3px,#f1fc06 144.5px,#eeff09 145.0px,#baff3c 168.6px,#d4ff23 192.7px,#baff3c 216.8px,#baff3c 289.0px)"></i><i style="background:linear-gradient(90deg,#ff9400 0.0px,#ffcc00 24.1px,#ffab00 48.2px,#ff9400 72.2px,#ff9400 96.3px,#ffcc00 120.4px,#feed00 131.0px,#f8f500 134.3px,#eeff09 137.6px,#deff19 144.5px,#a0ff56 168.6px,#b1ff46 192.7px,#a0ff56 216.8px,#a0ff56 289.0px)"></i><i style="background:linear-gradient(90deg,#ffa300 0.0px,#ffdb00 24.1px,#ffab00 48.2px,#ffa300 72.2px,#ffa300 96.3px,#ffdb00 120.4px,#feed00 125.6px,#f8f500 128.6px,#eeff09 131.5px,#caff2c 144.5px,#87ff70 168.6px,#8dff6a 192.7px,#87ff70 216.8px,#87ff70 289.0px)"></i><i style="background:linear-gradient(90deg,#ffb200 0.0px,#ffea00 24.1px,#ffb200 48.2px,#ffb200 72.2px,#ffb600 96.3px,#feed00 118.9px,#feed00 120.4px,#f8f500 122.2px,#eeff09 125.2px,#b7ff40 144.5px,#6dff8a 168.6px,#6dff8a 264.9px,#73ff83 289.0px)"></i><i style="background:linear-gradient(90deg,#ffbd00 0.0px,#feed00 20.3px,#f8f500 24.1px,#feed00 27.8px,#ffbd00 48.2px,#ffbd00 72.2px,#ffd000 96.3px,#feed00 107.9px,#f8f500 111.9px,#eeff09 115.9px,#e4ff13 120.4px,#a7ff50 144.5px,#53ffa4 168.6px,#53ffa4 264.9px,#66ff90 289.0px)"></i><i style="background:linear-gradient(90deg,#ffcc00 0.0px,#feed00 14.6px,#f8f500 19.0px,#eeff09 23.5px,#eeff09 24.6px,#f8f500 29.1px,#feed00 33.6px,#ffcc00 48.2px,#ffcc00 72.2px,#ffea00 96.3px,#feed00 96.8px,#f8f500 100.8px,#eeff09 104.9px,#ceff29 120.4px,#94ff63 144.5px,#39ffbe 168.6px,#39ffbe 264.9px,#56ffa0 289.0px)"></i><i style="background:linear-gradient(90deg,#ffdb00 0.0px,#feed00 8.2px,#f8f500 12.9px,#eeff09 17.6px,#e4ff13 24.1px,#eeff09 30.5px,#f8f500 35.2px,#feed00 39.9px,#ffdb00 48.2px,#ffdb00 72.2px,#feed00 81.9px,#f8f500 87.4px,#eeff09 92.9px,#ebff0c 96.3px,#b7ff40 120.4px,#80ff77 144.5px,#1cffdb 168.6px,#1cffdb 264.9px,#49ffad 289.0px)"></i><i style="background:linear-gradient(90deg,#feed00 0.0px,#f8f500 4.2px,#eeff09 10.8px,#deff19 24.1px,#eeff09 35.1px,#f8f500 40.6px,#feed00 46.1px,#ffea00 48.2px,#ffea00 72.2px,#feed00 74.0px,#f8f500 78.7px,#eeff09 83.4px,#d7ff1f 96.3px,#a7ff50 120.4px,#70ff87 144.5px,#16ffe1 167.6px,#0ff8e7 168.6px,#0ff8e7 192.7px,#09f0ee 216.8px,#09f0ee 240.8px,#0ff8e7 264.9px,#16ffe1 267.2px,#3cffba 289.0px)"></i><i style="background:linear-gradient(90deg,#e4ff13 0.0px,#deff19 24.1px,#eeff09 39.5px,#f8f500 47.2px,#f8f500 72.8px,#eeff09 77.3px,#caff2c 96.3px,#9aff5d 120.4px,#63ff94 144.5px,#16ffe1 167.4px,#0ff8e7 168.6px,#0ff8e7 192.7px,#00e4f8 214.1px,#00e0fb 216.8px,#00e0fb 240.8px,#00e4f8 243.5px,#0ff8e7 264.9px,#16ffe1 268.1px,#30ffc7 289.0px)"></i><i style="background:linear-gradient(90deg,#ceff29 0.0px,#deff19 24.1px,#eeff09 48.2px,#eeff09 72.2px,#c1ff36 96.3px,#8dff6a 120.4px,#5aff9d 144.5px,#16ffe1 167.2px,#0ff8e7 168.6px,#0ff8e7 192.7px,#00e4f8 205.5px,#00dcfe 211.9px,#00d4ff 216.8px,#00d4ff 240.8px,#00dcfe 245.6px,#00e4f8 252.1px,#0ff8e7 264.9px,#16ffe1 270.3px,#23ffd4 289.0px)"></i><i style="background:linear-gradient(90deg,#b7ff40 0.0px,#deff19 24.1px,#e4ff13 48.2px,#e4ff13 72.2px,#b4ff43 96.3px,#80ff77 120.4px,#4dffaa 144.5px,#16ffe1 166.9px,#0ff8e7 168.6px,#0ff8e7 192.7px,#00e4f8 201.8px,#00dcfe 206.4px,#00c4ff 216.8px,#00c4ff 240.8px,#00dcfe 251.2px,#00e4f8 255.7px,#0ff8e7 264.9px,#16ffe1 281.0px,#16ffe1 289.0px)"></i><i style="background:linear-gradient(90deg,#a7ff50 0.0px,#d1ff26 24.1px,#d7ff1f 48.2px,#d7ff1f 72.2px,#a7ff50 96.3px,#73ff83 120.4px,#43ffb4 144.5px,#16ffe1 166.6px,#0ff8e7 168.6px,#0ff8e7 192.7px,#00e4f8 200.7px,#00dcfe 204.7px,#00bcff 216.8px,#00bcff 240.8px,#00dcfe 254.6px,#00e4f8 259.2px,#09f0ee 264.9px,#0ff8e7 289.0px)"></i><i style="background:linear-gradient(90deg,#9aff5d 0.0px,#baff3c 24.1px,#caff2c 48.2px,#caff2c 72.2px,#9aff5d 96.3px,#66ff90 120.4px,#3cffba 144.5px,#16ffe1 166.3px,#0ff8e7 168.6px,#0ff8e7 192.7px,#00e4f8 200.7px,#00dcfe 204.7px,#00bcff 216.8px,#00bcff 240.8px,#00dcfe 260.1px,#00e0fb 264.9px,#00e4f8 267.6px,#0ff8e7 289.0px)"></i><i style="background:linear-gradient(90deg,#8dff6a 0.0px,#a0ff56 24.1px,#c1ff36 48.2px,#c1ff36 72.2px,#8dff6a 96.3px,#56ffa0 120.4px,#33ffc4 144.5px,#16ffe1 165.8px,#0ff8e7 168.6px,#0ff8e7 192.7px,#00e4f8 200.7px,#00dcfe 204.7px,#00bcff 216.8px,#00bcff 240.8px,#00d4ff 264.9px,#00dcfe 269.7px,#00e4f8 276.2px,#0ff8e7 289.0px)"></i><i style="background:linear-gradient(90deg,#80ff77 0.0px,#87ff70 24.1px,#b4ff43 48.2px,#b4ff43 72.2px,#80ff77 96.3px,#49ffad 120.4px,#2cffca 144.5px,#16ffe1 165.1px,#0ff8e7 168.6px,#0ff8e7 192.7px,#00e4f8 200.7px,#00dcfe 204.7px,#00bcff 216.8px,#00bcff 240.8px,#00c4ff 264.9px,#00dcfe 275.2px,#00e4f8 279.8px,#0ff8e7 289.0px)"></i><i style="background:linear-gradient(90deg,#73ff83 0.0px,#7dff7a 24.1px,#b1ff46 48.2px,#adff49 72.2px,#7dff7a 96.3px,#46ffb1 120.4px,#29ffce 144.5px,#16ffe1 164.8px,#0ff8e7 168.6px,#0ff8e7 192.7px,#00e4f8 200.7px,#00dcfe 204.7px,#00bcff 216.8px,#00bcff 264.9px,#00dcfe 278.7px,#00e4f8 283.3px,#09f0ee 289.0px)"></i><i style="background:linear-gradient(90deg,#66ff90 0.0px,#83ff73 24.1px,#b7ff40 48.2px,#adff49 72.2px,#83ff73 96.3px,#4dffaa 120.4px,#30ffc7 144.5px,#16ffe1 165.3px,#0ff8e7 168.6px,#0ff8e7 192.7px,#00e4f8 200.7px,#00dcfe 204.7px,#00bcff 216.8px,#00bcff 264.9px,#00dcfe 284.2px,#00e0fb 289.0px)"></i><i style="background:linear-gradient(90deg,#56ffa0 0.0px,#8aff6d 24.1px,#beff39 48.2px,#adff49 72.2px,#8aff6d 96.3px,#53ffa4 120.4px,#33ffc4 144.5px,#16ffe1 165.6px,#0ff8e7 168.6px,#0ff8e7 192.7px,#00e4f8 200.7px,#00dcfe 204.7px,#00bcff 216.8px,#00bcff 264.9px,#00d4ff 289.0px)"></i><i style="background:linear-gradient(90deg,#49ffad 0.0px,#90ff66 24.1px,#c4ff33 48.2px,#adff49 72.2px,#90ff66 96.3px,#5aff9d 120.4px,#36ffc1 144.5px,#16ffe1 165.9px,#0ff8e7 168.6px,#0ff8e7 192.7px,#00e4f8 200.7px,#00dcfe 204.7px,#00bcff 216.8px,#00bcff 264.9px,#00c4ff 289.0px)"></i><i style="background:linear-gradient(90deg,#43ffb4 0.0px,#9dff5a 24.1px,#ceff29 48.2px,#b4ff43 72.2px,#97ff60 96.3px,#6aff8d 120.4px,#39ffbe 144.5px,#16ffe1 166.2px,#0ff8e7 168.6px,#0ff8e7 192.7px,#00e4f8 200.7px,#00dcfe 204.7px,#00bcff 216.8px,#00bcff 289.0px)"></i><i style="background:linear-gradient(90deg,#43ffb4 0.0px,#b1ff46 24.1px,#deff19 48.2px,#c1ff36 72.2px,#9dff5a 96.3px,#7dff7a 120.4px,#3cffba 144.5px,#16ffe1 166.4px,#0ff8e7 168.6px,#0ff8e7 192.7px,#00e4f8 200.7px,#00dcfe 204.7px,#00bcff 216.8px,#00bcff 289.0px)"></i><i style="background:linear-gradient(90deg,#43ffb4 0.0px,#c4ff33 24.1px,#eeff09 48.2px,#caff2c 72.2px,#a4ff53 96.3px,#90ff66 120.4px,#40ffb7 144.5px,#16ffe1 166.5px,#0ff8e7 168.6px,#0ff8e7 192.7px,#00e4f8 200.7px,#00dcfe 204.7px,#00bcff 216.8px,#00bcff 289.0px)"></i><i style="background:linear-gradient(90deg,#43ffb4 0.0px,#d4ff23 24.1px,#eeff09 38.8px,#f8f500 43.5px,#feed00 48.2px,#f8f500 53.2px,#eeff09 58.3px,#d7ff1f 72.2px,#aaff4d 96.3px,#a4ff53 120.4px,#43ffb4 144.5px,#16ffe1 166.7px,#0ff8e7 168.6px,#0ff8e7 192.7px,#00e4f8 200.7px,#00dcfe 204.7px,#00bcff 216.8px,#00bcff 289.0px)"></i><i style="background:linear-gradient(90deg,#49ffad 0.0px,#deff19 24.1px,#eeff09 32.5px,#f8f500 36.6px,#feed00 40.8px,#ffdb00 48.2px,#feed00 55.5px,#f8f500 59.7px,#eeff09 63.9px,#deff19 72.2px,#adff49 96.3px,#adff49 120.4px,#4dffaa 144.5px,#16ffe1 168.6px,#16ffe1 176.6px,#0ff8e7 192.7px,#00e4f8 201.8px,#00dcfe 206.4px,#00c4ff 216.8px,#00bcff 240.8px,#00bcff 264.9px,#00c4ff 289.0px)"></i><i style="background:linear-gradient(90deg,#56ffa0 0.0px,#deff19 24.1px,#eeff09 30.7px,#f8f500 34.0px,#feed00 37.4px,#ffcc00 48.2px,#feed00 59.0px,#f8f500 62.3px,#eeff09 65.6px,#deff19 72.2px,#adff49 96.3px,#adff49 120.4px,#5aff9d 144.5px,#23ffd4 168.6px,#16ffe1 187.3px,#0ff8e7 192.7px,#00e4f8 205.5px,#00dcfe 211.9px,#00d4ff 216.8px,#00bcff 240.8px,#00bcff 264.9px,#00d4ff 289.0px)"></i><i style="background:linear-gradient(90deg,#66ff90 0.0px,#deff19 24.1px,#eeff09 29.6px,#f8f500 32.3px,#feed00 35.1px,#ffbd00 48.2px,#feed00 61.2px,#f8f500 64.0px,#eeff09 66.7px,#deff19 72.2px,#adff49 96.3px,#adff49 120.4px,#63ff94 144.5px,#30ffc7 168.6px,#16ffe1 189.5px,#0ff8e7 192.7px,#00e4f8 214.1px,#00e0fb 216.8px,#00dcfe 221.6px,#00bcff 240.8px,#00bcff 264.9px,#00dcfe 284.2px,#00e0fb 289.0px)"></i><i style="background:linear-gradient(90deg,#73ff83 0.0px,#deff19 24.1px,#eeff09 28.8px,#f8f500 31.1px,#feed00 33.5px,#ffb200 48.2px,#feed00 62.9px,#f8f500 65.2px,#eeff09 67.6px,#deff19 72.2px,#adff49 96.3px,#adff49 120.4px,#70ff87 144.5px,#3cffba 168.6px,#16ffe1 190.4px,#0ff8e7 192.7px,#09f0ee 216.8px,#00e4f8 222.5px,#00dcfe 227.1px,#00bcff 240.8px,#00bcff 264.9px,#00dcfe 278.7px,#00e4f8 283.3px,#09f0ee 289.0px)"></i><i style="background:linear-gradient(90deg,#7dff7a 0.0px,#deff19 24.1px,#eeff09 28.5px,#f8f500 30.7px,#feed00 32.8px,#ffab00 48.2px,#feed00 64.4px,#f8f500 66.7px,#eeff09 69.1px,#e4ff13 72.2px,#b4ff43 96.3px,#adff49 120.4px,#7aff7d 144.5px,#49ffad 168.6px,#16ffe1 192.7px,#16ffe1 200.7px,#0ff8e7 216.8px,#00e4f8 225.9px,#00dcfe 230.5px,#00c4ff 240.8px,#00c4ff 264.9px,#00dcfe 275.2px,#00e4f8 279.8px,#0ff8e7 289.0px)"></i><i style="background:linear-gradient(90deg,#7dff7a 0.0px,#deff19 24.1px,#eeff09 28.5px,#f8f500 30.7px,#feed00 32.8px,#ffab00 48.2px,#feed00 66.6px,#f8f500 69.3px,#eeff09 71.9px,#eeff09 72.2px,#c1ff36 96.3px,#adff49 120.4px,#83ff73 144.5px,#56ffa0 168.6px,#23ffd4 192.7px,#16ffe1 211.4px,#0ff8e7 216.8px,#00e4f8 229.6px,#00dcfe 236.0px,#00d4ff 240.8px,#00d4ff 264.9px,#00dcfe 269.7px,#00e4f8 276.2px,#0ff8e7 289.0px)"></i><i style="background:linear-gradient(90deg,#7dff7a 0.0px,#deff19 24.1px,#eeff09 28.5px,#f8f500 30.7px,#feed00 32.8px,#ffab00 48.2px,#feed00 69.6px,#f8f500 72.2px,#f8f500 72.8px,#eeff09 77.3px,#caff2c 96.3px,#adff49 120.4px,#8aff6d 144.5px,#66ff90 168.6px,#30ffc7 192.7px,#16ffe1 213.5px,#0ff8e7 216.8px,#00e4f8 238.2px,#00e0fb 240.8px,#00e0fb 264.9px,#00e4f8 267.6px,#0ff8e7 289.0px)"></i><i style="background:linear-gradient(90deg,#7dff7a 0.0px,#deff19 24.1px,#eeff09 28.5px,#f8f500 30.7px,#feed00 32.8px,#ffab00 48.2px,#ffea00 72.2px,#feed00 74.0px,#f8f500 78.7px,#eeff09 83.4px,#d7ff1f 96.3px,#adff49 120.4px,#90ff66 144.5px,#73ff83 168.6px,#3cffba 192.7px,#16ffe1 214.5px,#0ff8e7 216.8px,#09f0ee 240.8px,#09f0ee 264.9px,#0ff8e7 289.0px)"></i><i style="background:linear-gradient(90deg,#80ff77 0.0px,#e4ff13 24.1px,#eeff09 27.1px,#f8f500 29.2px,#feed00 31.4px,#ffa300 48.2px,#ffe200 72.2px,#feed00 77.1px,#f8f500 81.9px,#eeff09 86.7px,#deff19 96.3px,#b4ff43 120.4px,#9aff5d 144.5px,#80ff77 168.6px,#49ffad 192.7px,#16ffe1 216.8px,#16ffe1 289.0px)"></i><i style="background:linear-gradient(90deg,#8dff6a 0.0px,#eeff09 24.1px,#eeff09 24.3px,#f8f500 26.5px,#feed00 28.6px,#ff9400 48.2px,#ffe200 72.2px,#feed00 77.1px,#f8f500 81.9px,#eeff09 86.7px,#deff19 96.3px,#c1ff36 120.4px,#a7ff50 144.5px,#8dff6a 168.6px,#56ffa0 192.7px,#23ffd4 216.8px,#23ffd4 289.0px)"></i><i style="background:linear-gradient(90deg,#9aff5d 0.0px,#eeff09 21.7px,#f8f500 23.8px,#f8f500 24.1px,#feed00 25.9px,#ff8600 48.2px,#ffe200 72.2px,#feed00 77.1px,#f8f500 81.9px,#eeff09 86.7px,#deff19 96.3px,#caff2c 120.4px,#b4ff43 144.5px,#9aff5d 168.6px,#66ff90 192.7px,#30ffc7 216.8px,#30ffc7 289.0px)"></i><i style="background:linear-gradient(90deg,#a7ff50 0.0px,#eeff09 18.9px,#f8f500 21.1px,#feed00 23.3px,#ffea00 24.1px,#ff7700 48.2px,#ffe200 72.2px,#feed00 77.1px,#f8f500 81.9px,#eeff09 86.7px,#deff19 96.3px,#d7ff1f 120.4px,#c1ff36 144.5px,#a7ff50 168.6px,#73ff83 192.7px,#3cffba 216.8px,#3cffba 289.0px)"></i><i style="background:linear-gradient(90deg,#adff49 0.0px,#eeff09 18.6px,#f8f500 20.9px,#feed00 23.2px,#ffea00 24.1px,#ff7700 48.2px,#ffe200 72.2px,#feed00 77.1px,#f8f500 81.9px,#eeff09 86.7px,#deff19 96.3px,#deff19 120.4px,#caff2c 144.5px,#b4ff43 168.6px,#87ff70 192.7px,#50ffa7 216.8px,#49ffad 240.8px,#49ffad 289.0px)"></i><i style="background:linear-gradient(90deg,#adff49 0.0px,#eeff09 21.1px,#f8f500 23.8px,#f8f500 24.1px,#feed00 25.9px,#ff8600 48.2px,#ffe200 72.2px,#feed00 77.1px,#f8f500 81.9px,#eeff09 86.7px,#deff19 96.3px,#deff19 120.4px,#ceff29 144.5px,#c1ff36 168.6px,#a0ff56 192.7px,#6aff8d 216.8px,#56ffa0 240.8px,#56ffa0 289.0px)"></i><i style="background:linear-gradient(90deg,#adff49 0.0px,#eeff09 24.1px,#eeff09 24.3px,#f8f500 26.5px,#feed00 28.6px,#ff9400 48.2px,#ffe200 72.2px,#feed00 77.1px,#f8f500 81.9px,#eeff09 86.7px,#deff19 96.3px,#deff19 120.4px,#d4ff23 144.5px,#caff2c 168.6px,#baff3c 192.7px,#83ff73 216.8px,#66ff90 240.8px,#66ff90 289.0px)"></i><i style="background:linear-gradient(90deg,#adff49 0.0px,#e4ff13 24.1px,#eeff09 27.1px,#f8f500 29.2px,#feed00 31.4px,#ffa300 48.2px,#ffe200 72.2px,#feed00 77.1px,#f8f500 81.9px,#eeff09 86.7px,#deff19 96.3px,#deff19 120.4px,#dbff1c 144.5px,#d7ff1f 168.6px,#d1ff26 192.7px,#a0ff56 216.8px,#73ff83 240.8px,#73ff83 289.0px)"></i><i style="background:linear-gradient(90deg,#b4ff43 0.0px,#e4ff13 24.1px,#eeff09 27.1px,#f8f500 29.2px,#feed00 31.4px,#ffa300 48.2px,#ffdb00 72.2px,#feed00 80.5px,#f8f500 85.2px,#eeff09 89.9px,#e4ff13 96.3px,#deff19 120.4px,#e7ff0f 144.5px,#eeff09 157.0px,#f8f500 168.6px,#f8f500 192.7px,#eeff09 195.5px,#b7ff40 216.8px,#80ff77 240.8px,#7dff7a 264.9px,#7dff7a 289.0px)"></i><i style="background:linear-gradient(90deg,#c1ff36 0.0px,#eeff09 24.1px,#eeff09 24.3px,#f8f500 26.5px,#feed00 28.6px,#ff9400 48.2px,#ffcc00 72.2px,#feed00 86.8px,#f8f500 91.3px,#eeff09 95.8px,#eeff09 96.3px,#deff19 120.4px,#eeff09 135.5px,#f8f500 143.1px,#f8f500 144.5px,#feed00 148.1px,#ffc100 168.6px,#ffc100 192.7px,#feed00 203.3px,#f8f500 205.6px,#eeff09 207.9px,#ceff29 216.8px,#8dff6a 240.8px,#7dff7a 264.9px,#7dff7a 289.0px)"></i><i style="background:linear-gradient(90deg,#caff2c 0.0px,#eeff09 19.0px,#f8f500 23.5px,#f8f500 24.1px,#feed00 25.9px,#ff8600 48.2px,#ffbd00 72.2px,#feed00 92.6px,#f8f500 96.3px,#f8f500 97.3px,#eeff09 105.0px,#deff19 120.4px,#eeff09 129.5px,#f8f500 134.0px,#feed00 138.6px,#ffde00 144.5px,#ff8900 168.6px,#ff8900 192.7px,#feed00 211.2px,#f8f500 213.0px,#eeff09 214.7px,#e4ff13 216.8px,#9aff5d 240.8px,#7dff7a 264.9px,#7dff7a 289.0px)"></i><i style="background:linear-gradient(90deg,#d7ff1f 0.0px,#eeff09 12.9px,#f8f500 17.6px,#feed00 22.3px,#ffea00 24.1px,#ff7700 48.2px,#ffb200 72.2px,#ffea00 96.3px,#feed00 98.4px,#f8f500 103.9px,#eeff09 109.4px,#deff19 120.4px,#eeff09 126.9px,#f8f500 130.1px,#feed00 133.4px,#ffcc00 144.5px,#ff5200 168.6px,#ff5200 192.7px,#feed00 216.2px,#feed00 216.8px,#f8f500 218.2px,#eeff09 220.5px,#a7ff50 240.8px,#7dff7a 264.9px,#7dff7a 289.0px)"></i><i style="background:linear-gradient(90deg,#e4ff13 0.0px,#eeff09 6.5px,#f8f500 11.2px,#feed00 15.9px,#ffdb00 24.1px,#ff6f00 48.2px,#ffa300 72.2px,#ffd300 96.3px,#feed00 110.1px,#f8f500 115.6px,#f1fc06 120.4px,#f8f500 122.8px,#feed00 125.5px,#ffab00 144.5px,#ff2500 168.6px,#ff2900 192.7px,#ffc400 216.8px,#feed00 224.9px,#f8f500 226.9px,#eeff09 228.9px,#beff39 240.8px,#87ff70 264.9px,#80ff77 289.0px)"></i><i style="background:linear-gradient(90deg,#eeff09 0.0px,#eeff09 0.6px,#f8f500 5.0px,#feed00 9.5px,#ffcc00 24.1px,#ff6f00 48.2px,#ff9400 72.2px,#ffb600 96.3px,#ffd300 120.4px,#ff7a00 144.5px,#ff1300 165.5px,#e80000 168.6px,#fa0f00 192.7px,#ff1300 192.9px,#ff8d00 216.8px,#feed00 234.4px,#f8f500 236.2px,#eeff09 238.0px,#e1ff16 240.8px,#a0ff56 264.9px,#8dff6a 289.0px)"></i><i style="background:linear-gradient(90deg,#f8f500 0.0px,#feed00 3.7px,#ffbd00 24.1px,#ff6f00 48.2px,#ff8600 72.2px,#ff9c00 96.3px,#ffae00 120.4px,#ff4a00 144.5px,#ff1300 157.2px,#e80000 161.4px,#bf0000 168.6px,#da0000 192.7px,#e80000 194.8px,#ff1300 199.7px,#ff5500 216.8px,#ffe600 240.8px,#feed00 242.5px,#f8f500 245.1px,#eeff09 247.8px,#baff3c 264.9px,#9aff5d 289.0px)"></i><i style="background:linear-gradient(90deg,#ffea00 0.0px,#ffb200 24.1px,#ff6f00 48.2px,#ff7700 72.2px,#ff7e00 96.3px,#ff8600 120.4px,#ff1a00 144.5px,#ff1300 146.9px,#e80000 151.6px,#920000 168.6px,#bb0000 192.7px,#e80000 205.8px,#ff1300 213.1px,#ff1a00 216.8px,#ffbd00 240.8px,#feed00 252.1px,#f8f500 254.5px,#eeff09 256.8px,#d1ff26 264.9px,#a7ff50 289.0px)"></i><i style="background:linear-gradient(90deg,#ffd300 0.0px,#ffa300 24.1px,#ff6800 48.2px,#ff6000 72.2px,#ff5d00 96.3px,#ff5d00 120.4px,#ff1300 139.3px,#e80000 144.1px,#e40000 144.5px,#800000 168.6px,#a40000 192.7px,#da0000 216.8px,#e80000 218.4px,#ff1300 221.2px,#ff9400 240.8px,#feed00 262.3px,#f8f500 264.6px,#f8f500 264.9px,#eeff09 267.5px,#b4ff43 289.0px)"></i><i style="background:linear-gradient(90deg,#ffb600 0.0px,#ff9400 24.1px,#ff5900 48.2px,#ff4700 72.2px,#ff3400 96.3px,#ff3400 120.4px,#ff1300 132.6px,#e80000 139.3px,#d60000 144.5px,#800000 168.6px,#9b0000 192.7px,#bf0000 216.8px,#e80000 222.3px,#ff1300 225.6px,#ff6800 240.8px,#ffc100 264.9px,#feed00 273.9px,#f8f500 275.9px,#eeff09 277.8px,#c1ff36 289.0px)"></i><i style="background:linear-gradient(90deg,#ff9c00 0.0px,#ff8600 24.1px,#ff4e00 48.2px,#ff2900 72.2px,#ff1300 91.5px,#f60b00 96.3px,#f60b00 120.4px,#e80000 128.1px,#c40000 144.5px,#800000 168.6px,#8d0000 192.7px,#a40000 216.8px,#e80000 227.7px,#ff1300 231.6px,#ff3f00 240.8px,#ff8900 264.9px,#feed00 279.9px,#f8f500 281.4px,#eeff09 282.8px,#caff2c 289.0px)"></i><i style="background:linear-gradient(90deg,#ff7e00 0.0px,#ff7700 24.1px,#ff3f00 48.2px,#ff1300 70.0px,#f60b00 72.2px,#e80000 80.5px,#c40000 96.3px,#c40000 120.4px,#b20000 144.5px,#800000 168.6px,#840000 192.7px,#890000 216.8px,#e80000 235.5px,#ff1300 240.2px,#ff1300 240.8px,#ff5200 264.9px,#feed00 283.5px,#f8f500 284.7px,#eeff09 285.8px,#d7ff1f 289.0px)"></i><i style="background:linear-gradient(90deg,#ff6000 0.0px,#ff6800 24.1px,#ff3000 48.2px,#ff1300 60.4px,#e80000 68.0px,#da0000 72.2px,#a40000 96.3px,#a40000 120.4px,#b60000 144.5px,#920000 168.6px,#920000 192.7px,#840000 216.8px,#da0000 240.8px,#e80000 246.0px,#ff1300 255.2px,#ff2500 264.9px,#feed00 287.0px,#f8f500 288.1px,#f1fc06 289.0px)"></i><i style="background:linear-gradient(90deg,#ff4700 0.0px,#ff5900 24.1px,#ff2200 48.2px,#ff1300 54.1px,#e80000 60.8px,#bf0000 72.2px,#9b0000 96.3px,#9b0000 120.4px,#c80000 144.5px,#bf0000 168.6px,#bf0000 192.7px,#8d0000 216.8px,#bf0000 240.8px,#e80000 262.5px,#e80000 264.9px,#ff1300 266.7px,#ffd300 289.0px)"></i><i style="background:linear-gradient(90deg,#ff2900 0.0px,#ff4e00 24.1px,#ff1300 48.2px,#ff1300 48.9px,#e80000 55.0px,#a40000 72.2px,#8d0000 96.3px,#8d0000 120.4px,#da0000 144.5px,#e80000 161.7px,#e80000 194.0px,#9b0000 216.8px,#a40000 240.8px,#bf0000 264.9px,#e80000 268.7px,#ff1300 270.9px,#ffae00 289.0px)"></i><i style="background:linear-gradient(90deg,#f60b00 0.0px,#ff1300 2.3px,#ff3f00 24.1px,#ff1300 43.1px,#ed0400 48.2px,#e80000 50.3px,#890000 72.2px,#840000 96.3px,#840000 120.4px,#e80000 142.7px,#ed0400 144.5px,#ff1300 153.7px,#ff2500 168.6px,#ff2500 192.7px,#ff1300 198.0px,#e80000 203.0px,#a40000 216.8px,#890000 240.8px,#920000 264.9px,#e80000 273.0px,#ff1300 275.3px,#ff8600 289.0px)"></i><i style="background:linear-gradient(90deg,#df0000 0.0px,#e80000 2.6px,#ff1300 10.8px,#ff3000 24.1px,#ff1300 37.4px,#e80000 45.6px,#df0000 48.2px,#840000 72.2px,#890000 96.3px,#890000 120.4px,#e80000 137.1px,#ff1300 141.3px,#ff1e00 144.5px,#ff5200 168.6px,#ff4e00 192.7px,#ff1300 207.2px,#e80000 211.8px,#cd0000 216.8px,#840000 240.8px,#840000 264.9px,#e80000 275.7px,#ff1300 278.2px,#ff6000 289.0px)"></i><i style="background:linear-gradient(90deg,#d10000 0.0px,#e80000 8.0px,#ff1300 16.6px,#ff2200 24.1px,#ff1300 31.6px,#e80000 40.1px,#d10000 48.2px,#8d0000 72.2px,#a40000 96.3px,#a40000 120.4px,#e80000 130.7px,#ff1300 134.4px,#ff4700 144.5px,#ff8900 168.6px,#ff7700 192.7px,#ff2200 216.8px,#ff1300 220.3px,#e80000 224.6px,#8d0000 240.8px,#8d0000 264.9px,#e80000 277.0px,#ff1300 280.2px,#ff4700 289.0px)"></i><i style="background:linear-gradient(90deg,#c40000 0.0px,#e80000 14.0px,#ff1300 23.0px,#ff1300 25.2px,#e80000 34.2px,#c40000 48.2px,#9b0000 72.2px,#bf0000 96.3px,#bf0000 120.4px,#e80000 125.9px,#ff1300 129.1px,#ff6c00 144.5px,#ffc100 168.6px,#ffa300 192.7px,#ff5900 216.8px,#ff1300 227.9px,#e80000 231.0px,#9b0000 240.8px,#9b0000 264.9px,#e80000 279.1px,#ff1300 283.5px,#ff2900 289.0px)"></i><i style="background:linear-gradient(90deg,#b20000 0.0px,#e80000 20.6px,#ed0400 24.1px,#e80000 27.6px,#b20000 48.2px,#a40000 72.2px,#da0000 96.3px,#da0000 120.4px,#e80000 122.0px,#ff1300 124.9px,#ff9100 144.5px,#feed00 166.0px,#f8f500 168.3px,#f8f500 169.3px,#feed00 174.8px,#ffcc00 192.7px,#ff8d00 216.8px,#ff1300 232.1px,#e80000 234.4px,#a40000 240.8px,#a40000 264.9px,#e80000 283.8px,#f60b00 289.0px)"></i><i style="background:linear-gradient(90deg,#b20000 0.0px,#e80000 20.6px,#ed0400 24.1px,#e80000 28.2px,#bb0000 48.2px,#c40000 72.2px,#e80000 88.1px,#f60b00 96.3px,#f60b00 120.4px,#ff1300 121.1px,#ffab00 144.5px,#feed00 158.6px,#f8f500 160.7px,#eeff09 162.8px,#d7ff1f 168.6px,#eeff09 181.5px,#f8f500 186.2px,#feed00 190.9px,#ffea00 192.7px,#ffb600 216.8px,#ff1300 235.6px,#e80000 237.7px,#c40000 240.8px,#bb0000 264.9px,#df0000 289.0px)"></i><i style="background:linear-gradient(90deg,#c40000 0.0px,#e80000 14.0px,#ff1300 23.0px,#ff1300 26.0px,#e80000 41.4px,#da0000 48.2px,#e80000 57.5px,#f60b00 72.2px,#ff1300 77.1px,#ff2900 96.3px,#ff2900 120.4px,#ffb900 144.5px,#feed00 155.5px,#f8f500 157.6px,#eeff09 159.7px,#caff2c 168.6px,#eeff09 187.6px,#f8f500 192.1px,#f8f500 192.7px,#feed00 198.3px,#ffd000 216.8px,#ff1300 240.1px,#f60b00 240.8px,#e80000 255.6px,#da0000 264.9px,#d10000 289.0px)"></i><i style="background:linear-gradient(90deg,#d10000 0.0px,#e80000 8.0px,#ff1300 16.6px,#ff2200 24.1px,#ff1300 46.6px,#fa0f00 48.2px,#ff1300 49.0px,#ff3400 72.2px,#ff4700 96.3px,#ff4700 120.4px,#ffc800 144.5px,#feed00 152.4px,#f8f500 154.4px,#eeff09 156.5px,#c1ff36 168.6px,#eeff09 192.7px,#eeff09 194.0px,#f8f500 204.7px,#feed00 215.4px,#ffea00 216.8px,#ff3400 240.8px,#ff1300 264.1px,#fa0f00 264.9px,#e80000 273.9px,#c40000 289.0px)"></i><i style="background:linear-gradient(90deg,#df0000 0.0px,#e80000 2.6px,#ff1300 10.8px,#ff3000 24.1px,#ff2900 48.2px,#ff5d00 72.2px,#ff6000 96.3px,#ff6000 120.4px,#ffd700 144.5px,#feed00 149.2px,#f8f500 151.3px,#eeff09 153.4px,#b4ff43 168.6px,#e4ff13 192.7px,#ebff0c 216.8px,#eeff09 217.6px,#f8f500 219.0px,#feed00 220.3px,#ff5d00 240.8px,#ff2900 264.9px,#ff1300 271.9px,#e80000 277.3px,#b20000 289.0px)"></i><i style="background:linear-gradient(90deg,#f60b00 0.0px,#ff1300 2.3px,#ff3f00 24.1px,#ff4700 48.2px,#ff7700 72.2px,#ff7700 120.4px,#ffe600 144.5px,#feed00 146.2px,#f8f500 148.4px,#eeff09 150.7px,#adff49 168.6px,#d7ff1f 192.7px,#d7ff1f 216.8px,#eeff09 220.8px,#f8f500 222.3px,#feed00 223.8px,#ff7e00 240.8px,#ff4700 264.9px,#ff1300 276.1px,#e80000 280.1px,#b20000 289.0px)"></i><i style="background:linear-gradient(90deg,#ff2900 0.0px,#ff4e00 24.1px,#ff6000 48.2px,#ff8600 72.2px,#ff8600 120.4px,#feed00 142.9px,#fbf100 144.5px,#f8f500 145.2px,#eeff09 147.8px,#adff49 168.6px,#caff2c 192.7px,#caff2c 216.8px,#eeff09 223.7px,#f8f500 225.3px,#feed00 227.0px,#ff9c00 240.8px,#ff6000 264.9px,#ff1300 279.9px,#e80000 283.5px,#c40000 289.0px)"></i><i style="background:linear-gradient(90deg,#ff4700 0.0px,#ff5900 24.1px,#ff7e00 48.2px,#ff9400 72.2px,#ff9400 120.4px,#feed00 139.8px,#f8f500 141.9px,#eeff09 144.0px,#eeff09 144.5px,#adff49 168.6px,#c1ff36 192.7px,#c1ff36 216.8px,#eeff09 227.2px,#f8f500 229.0px,#feed00 230.8px,#ffb600 240.8px,#ff7e00 264.9px,#ff1300 282.9px,#e80000 286.1px,#d10000 289.0px)"></i><i style="background:linear-gradient(90deg,#ff6000 0.0px,#ff6800 24.1px,#ff9c00 48.2px,#ffa300 72.2px,#ffa300 120.4px,#feed00 136.6px,#f8f500 138.7px,#eeff09 140.8px,#e1ff16 144.5px,#adff49 168.6px,#b4ff43 192.7px,#b4ff43 216.8px,#eeff09 231.6px,#f8f500 233.7px,#feed00 235.7px,#ffd300 240.8px,#ff9c00 264.9px,#ff1300 285.3px,#e80000 288.1px,#df0000 289.0px)"></i><i style="background:linear-gradient(90deg,#ff7700 0.0px,#ff7700 24.1px,#ffab00 48.2px,#ffab00 96.3px,#ffb200 120.4px,#feed00 132.8px,#f8f500 134.7px,#eeff09 136.7px,#ceff29 144.5px,#a7ff50 168.6px,#a7ff50 192.7px,#adff49 216.8px,#eeff09 235.3px,#f8f500 237.6px,#feed00 240.0px,#ffea00 240.8px,#ffb200 264.9px,#ff1300 288.3px,#f60b00 289.0px)"></i><i style="background:linear-gradient(90deg,#ff8600 0.0px,#ff8600 24.1px,#ffab00 48.2px,#ffab00 96.3px,#ffbd00 120.4px,#feed00 128.9px,#f8f500 130.6px,#eeff09 132.4px,#b7ff40 144.5px,#9aff5d 168.6px,#9aff5d 192.7px,#adff49 216.8px,#eeff09 237.9px,#f8f500 240.5px,#f8f500 240.8px,#feed00 244.6px,#ffbd00 264.9px,#ff2900 289.0px)"></i><i style="background:linear-gradient(90deg,#ff9400 0.0px,#ff9400 24.1px,#ffab00 48.2px,#ffab00 96.3px,#ffcc00 120.4px,#feed00 125.7px,#f8f500 127.3px,#eeff09 128.9px,#a0ff56 144.5px,#8dff6a 168.6px,#8dff6a 192.7px,#adff49 216.8px,#eeff09 240.8px,#eeff09 241.4px,#f8f500 245.9px,#feed00 250.4px,#ffcc00 264.9px,#ff4700 289.0px)"></i><i style="background:linear-gradient(90deg,#ffa300 0.0px,#ffa300 24.1px,#ffab00 48.2px,#ffab00 96.3px,#ffdb00 120.4px,#feed00 123.0px,#f8f500 124.5px,#eeff09 126.0px,#87ff70 144.5px,#80ff77 168.6px,#80ff77 192.7px,#adff49 216.8px,#e4ff13 240.8px,#eeff09 247.3px,#f8f500 252.0px,#feed00 256.7px,#ffdb00 264.9px,#ff6000 289.0px)"></i><i style="background:linear-gradient(90deg,#ffab00 0.0px,#ffbd00 24.1px,#ffb200 48.2px,#ffbd00 72.2px,#ffb600 96.3px,#feed00 118.9px,#feed00 120.4px,#f8f500 121.4px,#eeff09 122.9px,#77ff80 144.5px,#7dff7a 168.6px,#7dff7a 192.7px,#adff49 216.8px,#deff19 240.8px,#eeff09 250.5px,#f8f500 255.3px,#feed00 260.1px,#ffe200 264.9px,#ff7700 289.0px)"></i><i style="background:linear-gradient(90deg,#ffab00 0.0px,#ffe600 24.1px,#ffbd00 48.2px,#ffe600 72.2px,#ffd000 96.3px,#feed00 107.9px,#f8f500 111.9px,#eeff09 115.9px,#e4ff13 120.4px,#70ff87 144.5px,#7dff7a 168.6px,#7dff7a 192.7px,#adff49 216.8px,#deff19 240.8px,#eeff09 250.5px,#f8f500 255.3px,#feed00 260.1px,#ffe200 264.9px,#ff8600 289.0px)"></i><i style="background:linear-gradient(90deg,#ffab00 0.0px,#feed00 15.9px,#f8f500 18.1px,#eeff09 20.4px,#e1ff16 24.1px,#eeff09 29.8px,#f8f500 33.3px,#feed00 36.8px,#ffcc00 48.2px,#feed00 59.6px,#f8f500 63.1px,#eeff09 66.6px,#e1ff16 72.2px,#eeff09 82.7px,#f8f500 89.1px,#feed00 95.5px,#ffea00 96.3px,#feed00 96.8px,#f8f500 100.8px,#eeff09 104.9px,#ceff29 120.4px,#6aff8d 144.5px,#7dff7a 168.6px,#7dff7a 192.7px,#adff49 216.8px,#deff19 240.8px,#eeff09 250.5px,#f8f500 255.3px,#feed00 260.1px,#ffe200 264.9px,#ff9400 289.0px)"></i><i style="background:linear-gradient(90deg,#ffab00 0.0px,#feed00 11.3px,#f8f500 13.0px,#eeff09 14.6px,#beff39 24.1px,#eeff09 38.8px,#f8f500 41.3px,#feed00 43.8px,#ffdb00 48.2px,#feed00 52.5px,#f8f500 55.0px,#eeff09 57.5px,#beff39 72.2px,#ebff0c 96.3px,#b7ff40 120.4px,#63ff94 144.5px,#7dff7a 168.6px,#7dff7a 192.7px,#adff49 216.8px,#deff19 240.8px,#eeff09 250.5px,#f8f500 255.3px,#feed00 260.1px,#ffe200 264.9px,#ffa300 289.0px)"></i><i style="background:linear-gradient(90deg,#ffc400 0.0px,#feed00 5.8px,#f8f500 7.2px,#eeff09 8.6px,#94ff63 24.1px,#eeff09 46.4px,#f8f500 48.2px,#eeff09 50.4px,#a7ff50 72.2px,#c4ff33 96.3px,#a0ff56 120.4px,#5aff9d 144.5px,#73ff83 168.6px,#7dff7a 192.7px,#adff49 216.8px,#deff19 240.8px,#eeff09 250.5px,#f8f500 255.3px,#feed00 260.1px,#ffe200 264.9px,#ffb200 289.0px)"></i><i style="background:linear-gradient(90deg,#f1fc06 0.0px,#eeff09 0.5px,#60ff97 24.1px,#d4ff23 48.2px,#9aff5d 72.2px,#90ff66 96.3px,#83ff73 120.4px,#53ffa4 144.5px,#66ff90 168.6px,#7dff7a 192.7px,#adff49 216.8px,#deff19 240.8px,#eeff09 250.5px,#f8f500 255.3px,#feed00 260.1px,#ffe200 264.9px,#ffbd00 289.0px)"></i><i style="background:linear-gradient(90deg,#c4ff33 0.0px,#2cffca 24.1px,#b1ff46 48.2px,#8dff6a 72.2px,#5dff9a 96.3px,#6aff8d 120.4px,#4dffaa 144.5px,#56ffa0 168.6px,#7dff7a 192.7px,#adff49 216.8px,#deff19 240.8px,#eeff09 250.5px,#f8f500 255.3px,#feed00 260.1px,#ffe200 264.9px,#ffcc00 289.0px)"></i><i style="background:linear-gradient(90deg,#94ff63 0.0px,#16ffe1 19.7px,#00e4f8 23.0px,#00dcfe 24.1px,#00e4f8 25.3px,#16ffe1 28.6px,#8dff6a 48.2px,#80ff77 72.2px,#29ffce 96.3px,#50ffa7 120.4px,#46ffb1 144.5px,#49ffad 168.6px,#7dff7a 192.7px,#adff49 216.8px,#deff19 240.8px,#eeff09 250.5px,#f8f500 255.3px,#feed00 260.1px,#ffe200 264.9px,#ffdb00 289.0px)"></i><i style="background:linear-gradient(90deg,#7dff7a 0.0px,#16ffe1 16.5px,#00e4f8 19.8px,#00dcfe 21.1px,#00c4ff 24.1px,#00dcfe 27.2px,#00e4f8 28.6px,#16ffe1 32.1px,#73ff83 48.2px,#7dff7a 72.2px,#16ffe1 95.4px,#0ff8e7 96.3px,#16ffe1 98.3px,#43ffb4 120.4px,#43ffb4 168.6px,#7dff7a 192.7px,#adff49 216.8px,#deff19 240.8px,#eeff09 251.8px,#f8f500 257.3px,#feed00 262.9px,#ffea00 264.9px,#ffea00 289.0px)"></i><i style="background:linear-gradient(90deg,#7dff7a 0.0px,#16ffe1 18.0px,#00e4f8 21.6px,#00dcfe 23.0px,#00d4ff 24.1px,#00dcfe 25.4px,#00e4f8 27.1px,#16ffe1 31.3px,#66ff90 48.2px,#7dff7a 72.2px,#16ffe1 95.4px,#0ff8e7 96.3px,#16ffe1 98.3px,#43ffb4 120.4px,#43ffb4 168.6px,#7dff7a 192.7px,#adff49 216.8px,#deff19 240.8px,#eeff09 256.2px,#f8f500 264.0px,#f8f500 289.0px)"></i><i style="background:linear-gradient(90deg,#7dff7a 0.0px,#16ffe1 19.7px,#00e4f8 23.7px,#00e0fb 24.1px,#00e4f8 24.6px,#16ffe1 30.2px,#56ffa0 48.2px,#7dff7a 72.2px,#16ffe1 95.4px,#0ff8e7 96.3px,#16ffe1 98.3px,#43ffb4 120.4px,#43ffb4 168.6px,#7dff7a 192.7px,#adff49 216.8px,#deff19 240.8px,#eeff09 264.9px,#eeff09 289.0px)"></i><i style="background:linear-gradient(90deg,#7dff7a 0.0px,#16ffe1 21.9px,#09f0ee 24.1px,#16ffe1 28.0px,#49ffad 48.2px,#7dff7a 72.2px,#16ffe1 95.4px,#0ff8e7 96.3px,#16ffe1 98.3px,#43ffb4 120.4px,#43ffb4 168.6px,#7dff7a 192.7px,#adff49 216.8px,#deff19 240.8px,#e4ff13 264.9px,#e4ff13 289.0px)"></i></div><div class=hm style="left:336.00px;top:463.00px;width:289.00px;height:128.00px"><i style="background:linear-gradient(90deg,#e80000 0.0px,#e80000 24.1px,#ff1300 28.4px,#ff6800 48.2px,#ff3f00 72.2px,#ff1300 91.3px,#ed0400 96.3px,#ff1300 101.4px,#ff3f00 120.4px,#ff3b00 144.5px,#ff7700 168.6px,#ff6f00 192.7px,#ff3f00 216.8px,#ff3800 240.8px,#ff3800 264.9px,#ff3f00 289.0px)"></i><i style="background:linear-gradient(90deg,#e80000 0.0px,#e80000 24.1px,#ff1300 29.0px,#ff5900 48.2px,#ff4e00 72.2px,#ff1300 96.3px,#ff4e00 120.4px,#ff4300 144.5px,#ff8600 168.6px,#ff6f00 192.7px,#ff4e00 216.8px,#ff3800 240.8px,#ff3800 264.9px,#ff4e00 289.0px)"></i><i style="background:linear-gradient(90deg,#e80000 0.0px,#e80000 24.1px,#ff1300 29.9px,#ff4e00 48.2px,#ff5900 72.2px,#ff2200 96.3px,#ff5900 120.4px,#ff4a00 144.5px,#ff9400 168.6px,#ff6f00 192.7px,#ff5900 216.8px,#ff3800 240.8px,#ff3800 264.9px,#ff5900 289.0px)"></i><i style="background:linear-gradient(90deg,#e80000 0.0px,#e80000 24.1px,#ff1300 31.2px,#ff3f00 48.2px,#ff6800 72.2px,#ff3000 96.3px,#ff6800 120.4px,#ff5200 144.5px,#ffa300 168.6px,#ff6f00 192.7px,#ff6800 216.8px,#ff3800 240.8px,#ff3800 264.9px,#ff6800 289.0px)"></i><i style="background:linear-gradient(90deg,#e80000 0.0px,#df0000 24.1px,#e80000 26.4px,#ff1300 33.6px,#ff3800 48.2px,#ff7700 72.2px,#ff3f00 96.3px,#ff6f00 120.4px,#ff5900 144.5px,#ffab00 168.6px,#ff6f00 192.7px,#ff6f00 216.8px,#ff3f00 240.8px,#ff3f00 264.9px,#ff7700 289.0px)"></i><i style="background:linear-gradient(90deg,#e80000 0.0px,#d10000 24.1px,#e80000 29.8px,#ff1300 35.9px,#ff3800 48.2px,#ff8600 72.2px,#ff4e00 96.3px,#ff6f00 120.4px,#ff6800 144.5px,#ffab00 168.6px,#ff6f00 192.7px,#ff6f00 216.8px,#ff4e00 240.8px,#ff4e00 264.9px,#ff8600 289.0px)"></i><i style="background:linear-gradient(90deg,#e80000 0.0px,#c40000 24.1px,#e80000 32.3px,#ff1300 37.6px,#ff3800 48.2px,#ff9400 72.2px,#ff5900 96.3px,#ff6f00 120.4px,#ff7700 144.5px,#ffab00 168.6px,#ff6f00 192.7px,#ff6f00 216.8px,#ff5900 240.8px,#ff5900 264.9px,#ff9400 289.0px)"></i><i style="background:linear-gradient(90deg,#e80000 0.0px,#b20000 24.1px,#e80000 34.2px,#ff1300 38.9px,#ff3800 48.2px,#ffa300 72.2px,#ff6800 96.3px,#ff6f00 120.4px,#ff8600 144.5px,#ffab00 168.6px,#ff6f00 192.7px,#ff6f00 216.8px,#ff6800 240.8px,#ff6800 264.9px,#ffa300 289.0px)"></i><i style="background:linear-gradient(90deg,#df0000 0.0px,#b20000 24.1px,#e80000 33.0px,#ff1300 37.0px,#ff4700 48.2px,#ffbd00 72.2px,#ff7700 96.3px,#ff7700 120.4px,#ff9100 144.5px,#ffab00 168.6px,#ff6f00 192.7px,#ff6f00 240.8px,#ff7700 264.9px,#ffab00 289.0px)"></i><i style="background:linear-gradient(90deg,#d10000 0.0px,#c40000 24.1px,#e80000 29.6px,#ff1300 33.1px,#ff6000 48.2px,#ffe600 72.2px,#ff8600 96.3px,#ff8600 120.4px,#ff9800 144.5px,#ffab00 168.6px,#ff6f00 192.7px,#ff6f00 240.8px,#ff8600 264.9px,#ffab00 289.0px)"></i><i style="background:linear-gradient(90deg,#c40000 0.0px,#d10000 24.1px,#e80000 27.0px,#ff1300 30.2px,#ff7e00 48.2px,#feed00 66.5px,#f8f500 68.1px,#eeff09 69.7px,#e1ff16 72.2px,#eeff09 75.3px,#f8f500 77.2px,#feed00 79.0px,#ff9400 96.3px,#ff9400 120.4px,#ff9f00 144.5px,#ffab00 168.6px,#ff6f00 192.7px,#ff6f00 240.8px,#ff9400 264.9px,#ffab00 289.0px)"></i><i style="background:linear-gradient(90deg,#b20000 0.0px,#df0000 24.1px,#e80000 25.0px,#ff1300 27.8px,#ff9c00 48.2px,#feed00 60.7px,#f8f500 62.1px,#eeff09 63.6px,#beff39 72.2px,#eeff09 81.3px,#f8f500 82.8px,#feed00 84.4px,#ffa300 96.3px,#ffa300 120.4px,#ffa700 144.5px,#ffab00 168.6px,#ff6f00 192.7px,#ff6f00 240.8px,#ffa300 264.9px,#ffab00 289.0px)"></i><i style="background:linear-gradient(90deg,#ad0000 0.0px,#e80000 20.9px,#ed0400 24.1px,#ff1300 25.9px,#ffa300 48.2px,#feed00 59.6px,#f8f500 61.0px,#eeff09 62.5px,#b7ff40 72.2px,#eeff09 83.0px,#f8f500 84.6px,#feed00 86.2px,#ffb200 96.3px,#ffb200 144.5px,#ffab00 168.6px,#ff6f00 192.7px,#ff6f00 240.8px,#ffab00 264.9px,#ffb200 289.0px)"></i><i style="background:linear-gradient(90deg,#ad0000 0.0px,#e80000 16.6px,#ff1300 23.3px,#ff1300 24.1px,#ff9400 48.2px,#feed00 62.9px,#f8f500 64.5px,#eeff09 66.1px,#ceff29 72.2px,#eeff09 81.0px,#f8f500 83.3px,#feed00 85.6px,#ffbd00 96.3px,#ffbd00 144.5px,#ffab00 168.6px,#ff6f00 192.7px,#ff6f00 240.8px,#ffab00 264.9px,#ffbd00 289.0px)"></i><i style="background:linear-gradient(90deg,#ad0000 0.0px,#e80000 13.8px,#ff1300 19.3px,#ff2200 24.1px,#ff8600 48.2px,#feed00 66.8px,#f8f500 68.6px,#eeff09 70.3px,#e4ff13 72.2px,#eeff09 76.5px,#f8f500 80.3px,#feed00 84.1px,#ffcc00 96.3px,#ffcc00 144.5px,#ffab00 168.6px,#ff6f00 192.7px,#ff6f00 240.8px,#ffab00 264.9px,#ffcc00 289.0px)"></i><i style="background:linear-gradient(90deg,#ad0000 0.0px,#e80000 11.7px,#ff1300 16.4px,#ff3000 24.1px,#ff7700 48.2px,#feed00 71.5px,#feed00 76.5px,#ffdb00 96.3px,#ffdb00 144.5px,#ffab00 168.6px,#ff6f00 192.7px,#ff6f00 240.8px,#ffab00 264.9px,#ffdb00 289.0px)"></i><i style="background:linear-gradient(90deg,#b20000 0.0px,#e80000 9.5px,#ff1300 13.8px,#ff3f00 24.1px,#ff6800 48.2px,#ffe200 72.2px,#ffea00 96.3px,#ffea00 120.4px,#ffe600 144.5px,#ffb200 168.6px,#ff7700 192.7px,#ff6f00 216.8px,#ff7700 240.8px,#ffb200 264.9px,#ffe200 289.0px)"></i><i style="background:linear-gradient(90deg,#c40000 0.0px,#e80000 6.6px,#ff1300 10.9px,#ff4e00 24.1px,#ff5900 48.2px,#ffe200 72.2px,#feed00 85.1px,#f8f500 96.3px,#f8f500 120.4px,#feed00 142.9px,#ffea00 144.5px,#ffbd00 168.6px,#ff8600 192.7px,#ff6f00 216.8px,#ff8600 240.8px,#ffbd00 264.9px,#ffe200 289.0px)"></i><i style="background:linear-gradient(90deg,#d10000 0.0px,#e80000 3.9px,#ff1300 8.0px,#ff5900 24.1px,#ff4e00 48.2px,#ffe200 72.2px,#feed00 80.0px,#f8f500 87.7px,#eeff09 95.4px,#eeff09 122.3px,#f8f500 137.8px,#fbf100 144.5px,#feed00 148.1px,#ffcc00 168.6px,#ff9400 192.7px,#ff6f00 216.8px,#ff9400 240.8px,#ffcc00 264.9px,#ffe200 289.0px)"></i><i style="background:linear-gradient(90deg,#df0000 0.0px,#e80000 1.3px,#ff1300 5.3px,#ff6800 24.1px,#ff3f00 48.2px,#ffe200 72.2px,#feed00 77.8px,#f8f500 83.3px,#eeff09 88.8px,#e4ff13 96.3px,#e4ff13 120.4px,#eeff09 135.6px,#f4f802 144.5px,#f8f500 146.0px,#feed00 154.2px,#ffdb00 168.6px,#ffa300 192.7px,#ff6f00 216.8px,#ffa300 240.8px,#ffdb00 264.9px,#ffe200 289.0px)"></i><i style="background:linear-gradient(90deg,#ed0400 0.0px,#ff1300 3.3px,#ff5d00 24.1px,#ff3000 48.2px,#ffea00 72.2px,#feed00 74.3px,#f8f500 79.8px,#eeff09 85.3px,#deff19 96.3px,#deff19 120.4px,#eeff09 142.4px,#f1fc06 144.5px,#f8f500 151.5px,#feed00 160.0px,#ffe200 168.6px,#ffb200 192.7px,#ff7700 216.8px,#ffb200 240.8px,#ffea00 264.9px,#ffea00 289.0px)"></i><i style="background:linear-gradient(90deg,#ff1300 0.0px,#ff3400 24.1px,#ff2200 48.2px,#feed00 71.3px,#f8f500 72.2px,#f8f500 73.2px,#eeff09 80.9px,#deff19 96.3px,#deff19 120.4px,#ebff0c 144.5px,#eeff09 147.6px,#f8f500 154.6px,#feed00 161.6px,#ffe200 168.6px,#ffbd00 192.7px,#ff8600 216.8px,#ffbd00 240.8px,#feed00 261.2px,#f8f500 264.9px,#f8f500 289.0px)"></i><i style="background:linear-gradient(90deg,#ff2200 0.0px,#ff1300 17.7px,#f60b00 24.1px,#ff1300 41.3px,#ff1300 48.2px,#feed00 70.2px,#f8f500 71.2px,#eeff09 72.1px,#eeff09 72.2px,#deff19 96.3px,#deff19 120.4px,#e7ff0f 144.5px,#eeff09 150.8px,#f8f500 156.7px,#feed00 162.7px,#ffe200 168.6px,#ffcc00 192.7px,#ff9400 216.8px,#ffcc00 240.8px,#feed00 255.4px,#f8f500 259.9px,#eeff09 264.4px,#eeff09 289.0px)"></i><i style="background:linear-gradient(90deg,#ff3000 0.0px,#ff1300 9.6px,#e80000 15.6px,#c40000 24.1px,#e80000 43.2px,#ed0400 48.2px,#ff1300 49.3px,#feed00 69.3px,#f8f500 70.2px,#eeff09 71.1px,#e4ff13 72.2px,#deff19 96.3px,#deff19 120.4px,#e1ff16 144.5px,#eeff09 153.2px,#f8f500 158.3px,#feed00 163.4px,#ffe200 168.6px,#ffdb00 192.7px,#ffa300 216.8px,#ffdb00 240.8px,#feed00 249.1px,#f8f500 253.8px,#eeff09 258.5px,#e4ff13 264.9px,#e4ff13 289.0px)"></i><i style="background:linear-gradient(90deg,#ff3000 0.0px,#ff1300 7.3px,#e80000 11.8px,#a40000 24.1px,#e80000 38.6px,#ff1300 43.9px,#ff2200 48.2px,#feed00 67.9px,#f8f500 68.8px,#eeff09 69.7px,#d7ff1f 72.2px,#d7ff1f 96.3px,#deff19 120.4px,#dbff1c 144.5px,#eeff09 156.5px,#f8f500 161.6px,#feed00 166.7px,#ffea00 168.6px,#ffea00 192.7px,#ffb200 216.8px,#ffea00 240.8px,#feed00 242.9px,#f8f500 248.4px,#eeff09 253.9px,#deff19 264.9px,#deff19 289.0px)"></i><i style="background:linear-gradient(90deg,#ff2200 0.0px,#ff1300 4.1px,#e80000 8.8px,#9b0000 24.1px,#e80000 33.1px,#ff1300 35.9px,#ff6400 48.2px,#feed00 64.9px,#f8f500 66.0px,#eeff09 67.2px,#caff2c 72.2px,#caff2c 96.3px,#deff19 120.4px,#d4ff23 144.5px,#eeff09 162.2px,#f8f500 167.9px,#f8f500 192.7px,#feed00 196.4px,#ffbd00 216.8px,#feed00 237.1px,#f8f500 240.8px,#f8f500 241.8px,#eeff09 249.5px,#deff19 264.9px,#deff19 289.0px)"></i><i style="background:linear-gradient(90deg,#ff1300 0.0px,#ff1300 0.6px,#e80000 5.6px,#8d0000 24.1px,#e80000 31.1px,#ff1300 33.0px,#ffab00 48.2px,#feed00 59.5px,#f8f500 61.1px,#eeff09 62.8px,#c1ff36 72.2px,#c1ff36 96.3px,#deff19 120.4px,#ceff29 144.5px,#eeff09 168.6px,#eeff09 193.2px,#f8f500 197.7px,#feed00 202.2px,#ffcc00 216.8px,#feed00 231.3px,#f8f500 235.8px,#eeff09 240.3px,#eeff09 240.8px,#deff19 264.9px,#deff19 289.0px)"></i><i style="background:linear-gradient(90deg,#ed0400 0.0px,#e80000 2.0px,#840000 24.1px,#e80000 30.1px,#ff1300 31.5px,#feed00 47.9px,#feed00 48.2px,#f8f500 49.9px,#eeff09 52.6px,#b4ff43 72.2px,#b4ff43 96.3px,#deff19 120.4px,#caff2c 144.5px,#e4ff13 168.6px,#e4ff13 192.7px,#eeff09 199.1px,#f8f500 203.8px,#feed00 208.5px,#ffdb00 216.8px,#feed00 225.0px,#f8f500 229.7px,#eeff09 234.4px,#e4ff13 240.8px,#deff19 264.9px,#deff19 289.0px)"></i><i style="background:linear-gradient(90deg,#da0000 0.0px,#840000 24.1px,#e80000 29.4px,#ff1300 30.7px,#feed00 45.2px,#f8f500 45.8px,#eeff09 46.4px,#d7ff1f 48.2px,#adff49 72.2px,#adff49 96.3px,#d7ff1f 120.4px,#c4ff33 144.5px,#d7ff1f 168.6px,#deff19 192.7px,#eeff09 203.7px,#f8f500 209.2px,#feed00 214.7px,#ffea00 216.8px,#feed00 218.5px,#f8f500 223.2px,#eeff09 227.9px,#d7ff1f 240.8px,#d7ff1f 289.0px)"></i><i style="background:linear-gradient(90deg,#bf0000 0.0px,#8d0000 24.1px,#e80000 28.7px,#ff1300 30.0px,#feed00 44.3px,#f8f500 44.9px,#eeff09 45.5px,#caff2c 48.2px,#adff49 72.2px,#adff49 96.3px,#caff2c 120.4px,#beff39 144.5px,#caff2c 168.6px,#deff19 192.7px,#eeff09 208.1px,#f8f500 215.8px,#f8f500 217.3px,#eeff09 221.8px,#caff2c 240.8px,#caff2c 289.0px)"></i><i style="background:linear-gradient(90deg,#a40000 0.0px,#9b0000 24.1px,#e80000 28.1px,#ff1300 29.3px,#feed00 43.4px,#f8f500 44.0px,#eeff09 44.6px,#c1ff36 48.2px,#adff49 72.2px,#adff49 96.3px,#c1ff36 120.4px,#b7ff40 144.5px,#c1ff36 168.6px,#deff19 192.7px,#eeff09 216.8px,#c1ff36 240.8px,#c1ff36 289.0px)"></i><i style="background:linear-gradient(90deg,#890000 0.0px,#a40000 24.1px,#e80000 27.4px,#ff1300 28.6px,#feed00 42.6px,#f8f500 43.2px,#eeff09 43.8px,#b4ff43 48.2px,#adff49 72.2px,#adff49 96.3px,#b4ff43 120.4px,#b1ff46 144.5px,#b4ff43 168.6px,#deff19 192.7px,#e4ff13 216.8px,#b4ff43 240.8px,#b4ff43 289.0px)"></i><i style="background:linear-gradient(90deg,#840000 0.0px,#cd0000 24.1px,#e80000 25.4px,#ff1300 26.7px,#feed00 41.3px,#f8f500 42.0px,#eeff09 42.6px,#a7ff50 48.2px,#a7ff50 72.2px,#adff49 96.3px,#adff49 120.4px,#aaff4d 144.5px,#a7ff50 168.6px,#d7ff1f 192.7px,#d7ff1f 216.8px,#adff49 240.8px,#a7ff50 264.9px,#a7ff50 289.0px)"></i><i style="background:linear-gradient(90deg,#8d0000 0.0px,#e80000 16.2px,#ff1300 20.6px,#ff2200 24.1px,#feed00 39.4px,#f8f500 40.1px,#eeff09 40.8px,#9aff5d 48.2px,#9aff5d 72.2px,#adff49 96.3px,#adff49 120.4px,#a4ff53 144.5px,#9aff5d 168.6px,#caff2c 192.7px,#caff2c 216.8px,#adff49 240.8px,#9aff5d 264.9px,#9aff5d 289.0px)"></i><i style="background:linear-gradient(90deg,#9b0000 0.0px,#e80000 9.9px,#ff1300 12.9px,#ff5900 24.1px,#feed00 36.9px,#f8f500 37.7px,#eeff09 38.5px,#8dff6a 48.2px,#8dff6a 72.2px,#adff49 96.3px,#adff49 120.4px,#9dff5a 144.5px,#8dff6a 168.6px,#c1ff36 192.7px,#c1ff36 216.8px,#adff49 240.8px,#8dff6a 264.9px,#8dff6a 289.0px)"></i><i style="background:linear-gradient(90deg,#a40000 0.0px,#e80000 6.4px,#ff1300 8.8px,#ff8d00 24.1px,#feed00 33.5px,#f8f500 34.5px,#eeff09 35.5px,#80ff77 48.2px,#80ff77 72.2px,#adff49 96.3px,#adff49 120.4px,#97ff60 144.5px,#80ff77 168.6px,#b4ff43 192.7px,#b4ff43 216.8px,#adff49 240.8px,#80ff77 264.9px,#80ff77 289.0px)"></i><i style="background:linear-gradient(90deg,#c40000 0.0px,#e80000 2.8px,#ff1300 4.8px,#ffcc00 24.1px,#feed00 28.0px,#f8f500 29.2px,#eeff09 30.4px,#73ff83 48.2px,#73ff83 72.2px,#a0ff56 96.3px,#a0ff56 120.4px,#8dff6a 144.5px,#7dff7a 168.6px,#a7ff50 192.7px,#a7ff50 240.8px,#7dff7a 264.9px,#7dff7a 289.0px)"></i><i style="background:linear-gradient(90deg,#f60b00 0.0px,#ff1300 0.5px,#feed00 20.4px,#f8f500 21.3px,#eeff09 22.1px,#deff19 24.1px,#66ff90 48.2px,#66ff90 72.2px,#83ff73 96.3px,#83ff73 120.4px,#80ff77 144.5px,#7dff7a 168.6px,#9aff5d 192.7px,#9aff5d 240.8px,#7dff7a 264.9px,#7dff7a 289.0px)"></i><i style="background:linear-gradient(90deg,#ff3400 0.0px,#feed00 15.0px,#f8f500 15.8px,#eeff09 16.5px,#9dff5a 24.1px,#56ffa0 48.2px,#56ffa0 72.2px,#6aff8d 96.3px,#6aff8d 120.4px,#73ff83 144.5px,#7dff7a 168.6px,#8dff6a 192.7px,#8dff6a 240.8px,#7dff7a 264.9px,#7dff7a 289.0px)"></i><i style="background:linear-gradient(90deg,#ff5d00 0.0px,#feed00 10.6px,#f8f500 11.3px,#eeff09 12.0px,#60ff97 24.1px,#49ffad 48.2px,#49ffad 72.2px,#50ffa7 96.3px,#50ffa7 120.4px,#66ff90 144.5px,#7dff7a 168.6px,#80ff77 192.7px,#80ff77 240.8px,#7dff7a 264.9px,#7dff7a 289.0px)"></i><i style="background:linear-gradient(90deg,#ff9400 0.0px,#feed00 6.8px,#f8f500 7.5px,#eeff09 8.3px,#3cffba 24.1px,#3cffba 120.4px,#5aff9d 144.5px,#73ff83 168.6px,#73ff83 289.0px)"></i><i style="background:linear-gradient(90deg,#ffd700 0.0px,#feed00 1.9px,#f8f500 2.7px,#eeff09 3.6px,#30ffc7 24.1px,#30ffc7 120.4px,#53ffa4 144.5px,#66ff90 168.6px,#66ff90 289.0px)"></i><i style="background:linear-gradient(90deg,#d4ff23 0.0px,#23ffd4 24.1px,#23ffd4 120.4px,#4dffaa 144.5px,#56ffa0 168.6px,#56ffa0 289.0px)"></i><i style="background:linear-gradient(90deg,#9aff5d 0.0px,#16ffe1 24.1px,#16ffe1 120.4px,#46ffb1 144.5px,#49ffad 168.6px,#49ffad 289.0px)"></i><i style="background:linear-gradient(90deg,#6dff8a 0.0px,#16ffe1 21.6px,#09f0ee 24.1px,#09f0ee 72.2px,#0ff8e7 96.3px,#0ff8e7 120.4px,#16ffe1 122.7px,#3cffba 144.5px,#3cffba 289.0px)"></i><i style="background:linear-gradient(90deg,#53ffa4 0.0px,#16ffe1 17.7px,#00e4f8 23.5px,#00e0fb 24.1px,#00e0fb 72.2px,#00e4f8 74.9px,#0ff8e7 96.3px,#0ff8e7 120.4px,#16ffe1 123.6px,#30ffc7 144.5px,#30ffc7 289.0px)"></i><i style="background:linear-gradient(90deg,#39ffbe 0.0px,#16ffe1 12.2px,#00e4f8 19.2px,#00dcfe 22.0px,#00d4ff 24.1px,#00d4ff 72.2px,#00dcfe 77.1px,#00e4f8 83.5px,#0ff8e7 96.3px,#0ff8e7 120.4px,#16ffe1 125.8px,#23ffd4 144.5px,#23ffd4 289.0px)"></i><i style="background:linear-gradient(90deg,#1cffdb 0.0px,#16ffe1 3.9px,#00e4f8 12.7px,#00dcfe 16.2px,#00c4ff 24.1px,#00c4ff 72.2px,#00dcfe 82.6px,#00e4f8 87.2px,#0ff8e7 96.3px,#0ff8e7 120.4px,#16ffe1 136.5px,#16ffe1 289.0px)"></i><i style="background:linear-gradient(90deg,#09f0ee 0.0px,#00e4f8 5.0px,#00dcfe 9.0px,#00b4ff 24.1px,#00b4ff 72.2px,#00dcfe 87.3px,#00e4f8 91.3px,#09f0ee 96.3px,#09f0ee 120.4px,#0cf4eb 144.5px,#09f0ee 168.6px,#09f0ee 289.0px)"></i><i style="background:linear-gradient(90deg,#00e0fb 0.0px,#00dcfe 3.0px,#00a4ff 24.1px,#00a4ff 72.2px,#00dcfe 93.3px,#00e0fb 96.3px,#00e0fb 120.4px,#00e4f8 125.8px,#06ecf1 144.5px,#00e4f8 163.2px,#00e0fb 168.6px,#00e0fb 289.0px)"></i><i style="background:linear-gradient(90deg,#00d4ff 0.0px,#0094ff 24.1px,#0094ff 72.2px,#00d4ff 96.3px,#00d4ff 120.4px,#00dcfe 130.1px,#00e4f8 142.9px,#00e4f8 146.1px,#00dcfe 158.9px,#00d4ff 168.6px,#00d4ff 289.0px)"></i><i style="background:linear-gradient(90deg,#00c4ff 0.0px,#0084ff 24.1px,#0084ff 72.2px,#00c4ff 96.3px,#00c4ff 120.4px,#00dcfe 141.1px,#00e0fb 144.5px,#00dcfe 147.9px,#00c4ff 168.6px,#00c4ff 289.0px)"></i><i style="background:linear-gradient(90deg,#00bcff 0.0px,#0080ff 24.1px,#0080ff 72.2px,#00bcff 96.3px,#00bcff 120.4px,#00d8ff 144.5px,#00bcff 168.6px,#00bcff 192.7px,#00b4ff 216.8px,#00b4ff 289.0px)"></i><i style="background:linear-gradient(90deg,#00bcff 0.0px,#0080ff 24.1px,#0080ff 72.2px,#00bcff 96.3px,#00bcff 120.4px,#00d0ff 144.5px,#00bcff 168.6px,#00bcff 192.7px,#00a4ff 216.8px,#00a4ff 289.0px)"></i><i style="background:linear-gradient(90deg,#00bcff 0.0px,#0080ff 24.1px,#0080ff 72.2px,#00bcff 96.3px,#00bcff 120.4px,#00c8ff 144.5px,#00bcff 168.6px,#00bcff 192.7px,#0094ff 216.8px,#0094ff 289.0px)"></i><i style="background:linear-gradient(90deg,#00bcff 0.0px,#0080ff 24.1px,#0080ff 72.2px,#00bcff 96.3px,#00bcff 120.4px,#00c0ff 144.5px,#00bcff 168.6px,#00bcff 192.7px,#0084ff 216.8px,#0084ff 289.0px)"></i><i style="background:linear-gradient(90deg,#00bcff 0.0px,#0080ff 24.1px,#0080ff 48.2px,#0084ff 72.2px,#00bcff 96.3px,#00bcff 120.4px,#00c0ff 144.5px,#00bcff 168.6px,#00bcff 192.7px,#0080ff 216.8px,#0080ff 289.0px)"></i><i style="background:linear-gradient(90deg,#00bcff 0.0px,#0080ff 24.1px,#0080ff 48.2px,#0094ff 72.2px,#00bcff 96.3px,#00bcff 120.4px,#00c8ff 144.5px,#00bcff 168.6px,#00bcff 192.7px,#0080ff 216.8px,#0080ff 289.0px)"></i><i style="background:linear-gradient(90deg,#00bcff 0.0px,#0080ff 24.1px,#0080ff 48.2px,#00a4ff 72.2px,#00bcff 96.3px,#00bcff 120.4px,#00d0ff 144.5px,#00bcff 168.6px,#00bcff 192.7px,#0080ff 216.8px,#0080ff 289.0px)"></i><i style="background:linear-gradient(90deg,#00bcff 0.0px,#0080ff 24.1px,#0080ff 48.2px,#00b4ff 72.2px,#00bcff 96.3px,#00bcff 120.4px,#00d8ff 144.5px,#00bcff 168.6px,#00bcff 192.7px,#0080ff 216.8px,#0080ff 289.0px)"></i><i style="background:linear-gradient(90deg,#00bcff 0.0px,#0084ff 24.1px,#0084ff 48.2px,#00c4ff 72.2px,#00c4ff 120.4px,#00dcfe 141.1px,#00e0fb 144.5px,#00dcfe 147.9px,#00c4ff 168.6px,#00bcff 192.7px,#0080ff 216.8px,#0080ff 289.0px)"></i><i style="background:linear-gradient(90deg,#00bcff 0.0px,#0094ff 24.1px,#0094ff 48.2px,#00d4ff 72.2px,#00d4ff 120.4px,#00dcfe 130.1px,#00e4f8 142.9px,#00e4f8 146.1px,#00dcfe 158.9px,#00d4ff 168.6px,#00bcff 192.7px,#0080ff 216.8px,#0080ff 289.0px)"></i><i style="background:linear-gradient(90deg,#00bcff 0.0px,#00a4ff 24.1px,#00a4ff 48.2px,#00dcfe 69.2px,#00e0fb 72.2px,#00e0fb 120.4px,#00e4f8 125.8px,#06ecf1 144.5px,#00e4f8 163.2px,#00e0fb 168.6px,#00dcfe 173.4px,#00bcff 192.7px,#0080ff 216.8px,#0080ff 289.0px)"></i><i style="background:linear-gradient(90deg,#00bcff 0.0px,#00b4ff 24.1px,#00b4ff 48.2px,#00dcfe 63.2px,#00e4f8 67.2px,#09f0ee 72.2px,#09f0ee 120.4px,#0cf4eb 144.5px,#09f0ee 168.6px,#00e4f8 174.3px,#00dcfe 178.9px,#00bcff 192.7px,#0080ff 216.8px,#0080ff 289.0px)"></i><i style="background:linear-gradient(90deg,#00bcff 0.0px,#00bcff 48.2px,#00dcfe 60.2px,#00e4f8 64.2px,#0ff8e7 72.2px,#16ffe1 88.3px,#16ffe1 96.3px,#1cffdb 120.4px,#19ffde 144.5px,#16ffe1 168.6px,#16ffe1 169.6px,#00e4f8 179.6px,#00dcfe 183.6px,#00c4ff 192.7px,#0084ff 216.8px,#0084ff 240.8px,#0080ff 264.9px,#0080ff 289.0px)"></i><i style="background:linear-gradient(90deg,#00bcff 0.0px,#00bcff 48.2px,#00dcfe 60.2px,#00e4f8 64.2px,#0ff8e7 72.2px,#16ffe1 77.6px,#23ffd4 96.3px,#39ffbe 120.4px,#2cffca 144.5px,#23ffd4 168.6px,#16ffe1 175.6px,#00e4f8 185.6px,#00dcfe 189.7px,#00d4ff 192.7px,#0094ff 216.8px,#0094ff 240.8px,#0080ff 264.9px,#0080ff 289.0px)"></i><i style="background:linear-gradient(90deg,#00bcff 0.0px,#00bcff 48.2px,#00dcfe 60.2px,#00e4f8 64.2px,#0ff8e7 72.2px,#16ffe1 75.5px,#30ffc7 96.3px,#53ffa4 120.4px,#40ffb7 144.5px,#30ffc7 168.6px,#16ffe1 181.6px,#00e4f8 191.7px,#00e0fb 192.7px,#00dcfe 195.7px,#00a4ff 216.8px,#00a4ff 240.8px,#0080ff 264.9px,#0080ff 289.0px)"></i><i style="background:linear-gradient(90deg,#00bcff 0.0px,#00bcff 48.2px,#00dcfe 60.2px,#00e4f8 64.2px,#0ff8e7 72.2px,#16ffe1 74.5px,#3cffba 96.3px,#6dff8a 120.4px,#56ffa0 144.5px,#3cffba 168.6px,#16ffe1 187.6px,#09f0ee 192.7px,#00e4f8 197.7px,#00dcfe 201.7px,#00b4ff 216.8px,#00b4ff 240.8px,#0080ff 264.9px,#0080ff 289.0px)"></i><i style="background:linear-gradient(90deg,#00bcff 0.0px,#00bcff 48.2px,#00dcfe 60.2px,#00e4f8 64.2px,#0ff8e7 72.2px,#16ffe1 74.3px,#43ffb4 96.3px,#7dff7a 120.4px,#66ff90 144.5px,#49ffad 168.6px,#16ffe1 192.7px,#16ffe1 193.7px,#00e4f8 203.7px,#00dcfe 207.7px,#00c4ff 216.8px,#00c4ff 240.8px,#0084ff 264.9px,#0084ff 289.0px)"></i><i style="background:linear-gradient(90deg,#00bcff 0.0px,#00bcff 48.2px,#00dcfe 60.2px,#00e4f8 64.2px,#0ff8e7 72.2px,#16ffe1 74.3px,#43ffb4 96.3px,#7dff7a 120.4px,#73ff83 144.5px,#56ffa0 168.6px,#23ffd4 192.7px,#16ffe1 199.7px,#00e4f8 209.7px,#00dcfe 213.7px,#00d4ff 216.8px,#00d4ff 240.8px,#0094ff 264.9px,#0094ff 289.0px)"></i><i style="background:linear-gradient(90deg,#00bcff 0.0px,#00bcff 48.2px,#00dcfe 60.2px,#00e4f8 64.2px,#0ff8e7 72.2px,#16ffe1 74.3px,#43ffb4 96.3px,#7dff7a 120.4px,#80ff77 144.5px,#66ff90 168.6px,#30ffc7 192.7px,#16ffe1 205.7px,#00e4f8 215.7px,#00e0fb 216.8px,#00e0fb 240.8px,#00dcfe 243.8px,#00a4ff 264.9px,#00a4ff 289.0px)"></i><i style="background:linear-gradient(90deg,#00bcff 0.0px,#00bcff 48.2px,#00dcfe 60.2px,#00e4f8 64.2px,#0ff8e7 72.2px,#16ffe1 74.3px,#43ffb4 96.3px,#7dff7a 120.4px,#8dff6a 144.5px,#73ff83 168.6px,#3cffba 192.7px,#16ffe1 211.7px,#09f0ee 216.8px,#09f0ee 240.8px,#00e4f8 245.9px,#00dcfe 249.9px,#00b4ff 264.9px,#00b4ff 289.0px)"></i><i style="background:linear-gradient(90deg,#00bcff 0.0px,#00bcff 24.1px,#00c4ff 48.2px,#00dcfe 57.2px,#00e4f8 61.2px,#16ffe1 71.2px,#16ffe1 72.2px,#49ffad 96.3px,#80ff77 120.4px,#97ff60 144.5px,#80ff77 168.6px,#50ffa7 192.7px,#1cffdb 216.8px,#16ffe1 240.8px,#16ffe1 241.8px,#00e4f8 251.9px,#00dcfe 255.9px,#00c4ff 264.9px,#00c4ff 289.0px)"></i><i style="background:linear-gradient(90deg,#00bcff 0.0px,#00bcff 24.1px,#00d4ff 48.2px,#00dcfe 51.2px,#00e4f8 55.2px,#16ffe1 65.2px,#23ffd4 72.2px,#56ffa0 96.3px,#8dff6a 120.4px,#9dff5a 144.5px,#8dff6a 168.6px,#6aff8d 192.7px,#39ffbe 216.8px,#23ffd4 240.8px,#16ffe1 247.9px,#00e4f8 257.9px,#00dcfe 261.9px,#00d4ff 264.9px,#00d4ff 289.0px)"></i><i style="background:linear-gradient(90deg,#00bcff 0.0px,#00bcff 24.1px,#00dcfe 43.3px,#00e0fb 48.2px,#00e4f8 49.2px,#16ffe1 59.2px,#30ffc7 72.2px,#66ff90 96.3px,#9aff5d 120.4px,#a4ff53 144.5px,#9aff5d 168.6px,#83ff73 192.7px,#53ffa4 216.8px,#30ffc7 240.8px,#16ffe1 253.9px,#00e4f8 263.9px,#00e0fb 264.9px,#00e0fb 289.0px)"></i><i style="background:linear-gradient(90deg,#00bcff 0.0px,#00bcff 24.1px,#00dcfe 37.8px,#00e4f8 42.4px,#09f0ee 48.2px,#16ffe1 53.2px,#3cffba 72.2px,#73ff83 96.3px,#a7ff50 120.4px,#aaff4d 144.5px,#a7ff50 168.6px,#a0ff56 192.7px,#6dff8a 216.8px,#3cffba 240.8px,#16ffe1 259.9px,#09f0ee 264.9px,#09f0ee 289.0px)"></i><i style="background:linear-gradient(90deg,#00bcff 0.0px,#00bcff 24.1px,#00dcfe 36.1px,#00e4f8 40.1px,#0ff8e7 48.2px,#16ffe1 50.2px,#43ffb4 72.2px,#7dff7a 96.3px,#adff49 120.4px,#adff49 144.5px,#b4ff43 168.6px,#b4ff43 192.7px,#80ff77 216.8px,#49ffad 240.8px,#16ffe1 264.9px,#16ffe1 289.0px)"></i><i style="background:linear-gradient(90deg,#00bcff 0.0px,#00bcff 24.1px,#00dcfe 36.1px,#00e4f8 40.1px,#0ff8e7 48.2px,#16ffe1 50.2px,#43ffb4 72.2px,#7dff7a 96.3px,#adff49 120.4px,#adff49 144.5px,#c1ff36 168.6px,#c1ff36 192.7px,#8dff6a 216.8px,#56ffa0 240.8px,#23ffd4 264.9px,#23ffd4 289.0px)"></i><i style="background:linear-gradient(90deg,#00bcff 0.0px,#00bcff 24.1px,#00dcfe 36.1px,#00e4f8 40.1px,#0ff8e7 48.2px,#16ffe1 50.2px,#43ffb4 72.2px,#7dff7a 96.3px,#adff49 120.4px,#adff49 144.5px,#caff2c 168.6px,#caff2c 192.7px,#9aff5d 216.8px,#66ff90 240.8px,#30ffc7 264.9px,#30ffc7 289.0px)"></i><i style="background:linear-gradient(90deg,#00bcff 0.0px,#00bcff 24.1px,#00dcfe 36.1px,#00e4f8 40.1px,#0ff8e7 48.2px,#16ffe1 50.2px,#43ffb4 72.2px,#7dff7a 96.3px,#adff49 120.4px,#adff49 144.5px,#d7ff1f 168.6px,#d7ff1f 192.7px,#a7ff50 216.8px,#73ff83 240.8px,#3cffba 264.9px,#3cffba 289.0px)"></i><i style="background:linear-gradient(90deg,#00bcff 0.0px,#00c4ff 24.1px,#00dcfe 34.4px,#00e4f8 39.0px,#0ff8e7 48.2px,#16ffe1 50.2px,#43ffb4 72.2px,#80ff77 96.3px,#adff49 120.4px,#adff49 144.5px,#deff19 168.6px,#deff19 192.7px,#adff49 216.8px,#80ff77 240.8px,#49ffad 264.9px,#49ffad 289.0px)"></i><i style="background:linear-gradient(90deg,#00bcff 0.0px,#00d4ff 24.1px,#00dcfe 28.9px,#00e4f8 35.3px,#0ff8e7 48.2px,#16ffe1 50.2px,#43ffb4 72.2px,#8dff6a 96.3px,#adff49 120.4px,#adff49 144.5px,#deff19 168.6px,#deff19 192.7px,#adff49 216.8px,#8dff6a 240.8px,#56ffa0 264.9px,#56ffa0 289.0px)"></i><i style="background:linear-gradient(90deg,#00bcff 0.0px,#00dcfe 19.3px,#00e0fb 24.1px,#00e4f8 26.8px,#0ff8e7 48.2px,#16ffe1 50.2px,#43ffb4 72.2px,#9aff5d 96.3px,#adff49 120.4px,#adff49 144.5px,#deff19 168.6px,#deff19 192.7px,#adff49 216.8px,#9aff5d 240.8px,#66ff90 264.9px,#66ff90 289.0px)"></i><i style="background:linear-gradient(90deg,#00bcff 0.0px,#00dcfe 13.8px,#00e4f8 18.3px,#09f0ee 24.1px,#0ff8e7 48.2px,#16ffe1 50.2px,#43ffb4 72.2px,#a7ff50 96.3px,#adff49 120.4px,#adff49 144.5px,#deff19 168.6px,#deff19 192.7px,#adff49 216.8px,#a7ff50 240.8px,#73ff83 264.9px,#73ff83 289.0px)"></i><i style="background:linear-gradient(90deg,#00c4ff 0.0px,#00dcfe 10.3px,#00e4f8 14.9px,#0ff8e7 24.1px,#16ffe1 40.1px,#16ffe1 48.2px,#49ffad 72.2px,#adff49 96.3px,#b4ff43 120.4px,#b1ff46 144.5px,#e4ff13 168.6px,#deff19 192.7px,#b4ff43 216.8px,#adff49 240.8px,#7dff7a 264.9px,#7dff7a 289.0px)"></i><i style="background:linear-gradient(90deg,#00d4ff 0.0px,#00dcfe 4.8px,#00e4f8 11.2px,#0ff8e7 24.1px,#16ffe1 29.4px,#23ffd4 48.2px,#56ffa0 72.2px,#adff49 96.3px,#c1ff36 120.4px,#b7ff40 144.5px,#eeff09 168.6px,#deff19 192.7px,#c1ff36 216.8px,#adff49 240.8px,#7dff7a 264.9px,#7dff7a 289.0px)"></i><i style="background:linear-gradient(90deg,#00e0fb 0.0px,#00e4f8 2.7px,#0ff8e7 24.1px,#16ffe1 27.3px,#30ffc7 48.2px,#66ff90 72.2px,#adff49 96.3px,#caff2c 120.4px,#beff39 144.5px,#eeff09 164.8px,#f8f500 168.2px,#f8f500 169.5px,#eeff09 177.3px,#deff19 192.7px,#caff2c 216.8px,#adff49 240.8px,#7dff7a 264.9px,#7dff7a 289.0px)"></i><i style="background:linear-gradient(90deg,#09f0ee 0.0px,#0ff8e7 24.1px,#16ffe1 26.4px,#3cffba 48.2px,#73ff83 72.2px,#adff49 96.3px,#d7ff1f 120.4px,#c4ff33 144.5px,#eeff09 161.2px,#f8f500 164.3px,#feed00 167.4px,#ffea00 168.6px,#feed00 170.6px,#f8f500 176.2px,#eeff09 181.7px,#deff19 192.7px,#d7ff1f 216.8px,#adff49 240.8px,#7dff7a 264.9px,#7dff7a 289.0px)"></i><i style="background:linear-gradient(90deg,#0ff8e7 0.0px,#16ffe1 16.1px,#16ffe1 24.1px,#49ffad 48.2px,#80ff77 72.2px,#b4ff43 96.3px,#deff19 120.4px,#c7ff30 144.5px,#eeff09 159.6px,#f8f500 162.6px,#feed00 165.6px,#ffe200 168.6px,#feed00 174.1px,#f8f500 179.6px,#eeff09 185.1px,#e4ff13 192.7px,#e4ff13 216.8px,#adff49 240.8px,#80ff77 264.9px,#7dff7a 289.0px)"></i><i style="background:linear-gradient(90deg,#0ff8e7 0.0px,#16ffe1 5.4px,#23ffd4 24.1px,#56ffa0 48.2px,#8dff6a 72.2px,#c1ff36 96.3px,#deff19 120.4px,#c7ff30 144.5px,#eeff09 159.6px,#f8f500 162.6px,#feed00 165.6px,#ffe200 168.6px,#feed00 176.3px,#f8f500 184.0px,#eeff09 191.7px,#eeff09 216.8px,#adff49 240.8px,#8dff6a 264.9px,#7dff7a 289.0px)"></i><i style="background:linear-gradient(90deg,#0ff8e7 0.0px,#16ffe1 3.2px,#30ffc7 24.1px,#66ff90 48.2px,#9aff5d 72.2px,#caff2c 96.3px,#deff19 120.4px,#c7ff30 144.5px,#eeff09 159.6px,#f8f500 162.6px,#feed00 165.6px,#ffe200 168.6px,#feed00 181.4px,#f8f500 192.7px,#f8f500 217.1px,#eeff09 219.7px,#adff49 240.8px,#9aff5d 264.9px,#7dff7a 289.0px)"></i><i style="background:linear-gradient(90deg,#0ff8e7 0.0px,#16ffe1 2.3px,#3cffba 24.1px,#73ff83 48.2px,#a7ff50 72.2px,#d7ff1f 96.3px,#deff19 120.4px,#c7ff30 144.5px,#eeff09 159.6px,#f8f500 162.6px,#feed00 165.6px,#ffe200 168.6px,#ffea00 192.7px,#ffea00 216.8px,#feed00 217.6px,#f8f500 219.9px,#eeff09 222.3px,#adff49 240.8px,#a7ff50 264.9px,#7dff7a 289.0px)"></i><i style="background:linear-gradient(90deg,#16ffe1 0.0px,#56ffa0 24.1px,#9aff5d 48.2px,#beff39 72.2px,#deff19 96.3px,#deff19 120.4px,#c4ff33 144.5px,#eeff09 161.2px,#f8f500 164.3px,#feed00 167.4px,#ffea00 168.6px,#ffea00 192.7px,#ffe200 216.8px,#feed00 218.9px,#f8f500 221.1px,#eeff09 223.3px,#adff49 240.8px,#adff49 264.9px,#7dff7a 289.0px)"></i><i style="background:linear-gradient(90deg,#23ffd4 0.0px,#7dff7a 24.1px,#d4ff23 48.2px,#e1ff16 72.2px,#deff19 96.3px,#deff19 120.4px,#beff39 144.5px,#eeff09 164.8px,#f8f500 168.2px,#f8f500 192.7px,#feed00 203.9px,#ffe200 216.8px,#feed00 218.9px,#f8f500 221.1px,#eeff09 223.3px,#adff49 240.8px,#adff49 264.9px,#7dff7a 289.0px)"></i><i style="background:linear-gradient(90deg,#30ffc7 0.0px,#a4ff53 24.1px,#eeff09 40.7px,#f8f500 42.5px,#feed00 44.3px,#ffd700 48.2px,#ffe600 72.2px,#feed00 75.5px,#f8f500 80.7px,#eeff09 85.9px,#deff19 96.3px,#deff19 120.4px,#b7ff40 144.5px,#eeff09 168.6px,#eeff09 193.6px,#f8f500 201.3px,#feed00 209.0px,#ffe200 216.8px,#feed00 218.9px,#f8f500 221.1px,#eeff09 223.3px,#adff49 240.8px,#adff49 264.9px,#7dff7a 289.0px)"></i><i style="background:linear-gradient(90deg,#3cffba 0.0px,#caff2c 24.1px,#eeff09 30.8px,#f8f500 32.3px,#feed00 33.8px,#ff9400 48.2px,#ffbd00 72.2px,#feed00 85.5px,#f8f500 88.2px,#eeff09 90.9px,#deff19 96.3px,#deff19 120.4px,#b1ff46 144.5px,#e4ff13 168.6px,#e4ff13 192.7px,#eeff09 200.2px,#f8f500 205.7px,#feed00 211.2px,#ffe200 216.8px,#feed00 218.9px,#f8f500 221.1px,#eeff09 223.3px,#adff49 240.8px,#adff49 264.9px,#7dff7a 289.0px)"></i><i style="background:linear-gradient(90deg,#50ffa7 0.0px,#eeff09 22.2px,#f8f500 23.4px,#feed00 24.1px,#feed00 24.7px,#ff5d00 48.2px,#ff9c00 72.2px,#feed00 87.7px,#f8f500 89.5px,#eeff09 91.3px,#d7ff1f 96.3px,#deff19 120.4px,#a7ff50 144.5px,#caff2c 168.6px,#d1ff26 192.7px,#eeff09 209.1px,#f8f500 213.8px,#feed00 216.8px,#f8f500 218.3px,#eeff09 220.8px,#adff49 240.8px,#a7ff50 264.9px,#7dff7a 289.0px)"></i><i style="background:linear-gradient(90deg,#6aff8d 0.0px,#eeff09 15.5px,#f8f500 16.5px,#feed00 17.5px,#ffab00 24.1px,#ff3400 48.2px,#ff7e00 72.2px,#feed00 87.9px,#f8f500 89.2px,#eeff09 90.6px,#caff2c 96.3px,#deff19 120.4px,#9aff5d 144.5px,#a4ff53 168.6px,#baff3c 192.7px,#e4ff13 216.8px,#adff49 240.8px,#9aff5d 264.9px,#7dff7a 289.0px)"></i><i style="background:linear-gradient(90deg,#83ff73 0.0px,#eeff09 10.7px,#f8f500 11.5px,#feed00 12.4px,#ff6400 24.1px,#ff1300 46.6px,#f60b00 48.2px,#ff1300 49.8px,#ff6000 72.2px,#feed00 87.9px,#f8f500 89.0px,#eeff09 90.1px,#c1ff36 96.3px,#deff19 120.4px,#8aff6d 144.5px,#7dff7a 168.6px,#a0ff56 192.7px,#ceff29 216.8px,#adff49 240.8px,#8dff6a 264.9px,#7dff7a 289.0px)"></i><i style="background:linear-gradient(90deg,#a0ff56 0.0px,#eeff09 7.0px,#f8f500 7.8px,#feed00 8.5px,#ff2200 24.1px,#ff1300 30.1px,#e80000 37.5px,#c40000 48.2px,#e80000 54.8px,#ff1300 59.5px,#ff4700 72.2px,#feed00 88.0px,#f8f500 88.9px,#eeff09 89.8px,#b4ff43 96.3px,#deff19 120.4px,#7dff7a 144.5px,#56ffa0 168.6px,#87ff70 192.7px,#b7ff40 216.8px,#adff49 240.8px,#80ff77 264.9px,#7dff7a 289.0px)"></i><i style="background:linear-gradient(90deg,#c4ff33 0.0px,#eeff09 3.7px,#f8f500 4.4px,#feed00 5.2px,#ff1300 21.8px,#e80000 23.3px,#da0000 24.1px,#a40000 48.2px,#e80000 60.5px,#ff1300 65.0px,#ff3000 72.2px,#feed00 88.2px,#f8f500 89.0px,#eeff09 89.9px,#adff49 96.3px,#deff19 120.4px,#6dff8a 144.5px,#36ffc1 168.6px,#6dff8a 192.7px,#a0ff56 216.8px,#a7ff50 240.8px,#73ff83 264.9px,#73ff83 289.0px)"></i><i style="background:linear-gradient(90deg,#f4f802 0.0px,#f8f500 0.3px,#feed00 1.1px,#ff1300 19.7px,#e80000 21.4px,#bf0000 24.1px,#9b0000 48.2px,#e80000 63.4px,#ff1300 68.1px,#ff2200 72.2px,#feed00 88.6px,#f8f500 89.4px,#eeff09 90.2px,#adff49 96.3px,#deff19 120.4px,#5dff9a 144.5px,#1cffdb 168.6px,#53ffa4 192.7px,#83ff73 216.8px,#9aff5d 240.8px,#66ff90 264.9px,#66ff90 289.0px)"></i><i style="background:linear-gradient(90deg,#ffc100 0.0px,#ff1300 17.1px,#e80000 18.9px,#a40000 24.1px,#8d0000 48.2px,#e80000 66.7px,#ff1300 71.6px,#ff1300 72.2px,#feed00 89.0px,#f8f500 89.7px,#eeff09 90.5px,#adff49 96.3px,#deff19 120.4px,#49ffad 144.5px,#16ffe1 162.8px,#02e8f4 168.6px,#16ffe1 176.1px,#39ffbe 192.7px,#6aff8d 216.8px,#8dff6a 240.8px,#56ffa0 264.9px,#56ffa0 289.0px)"></i><i style="background:linear-gradient(90deg,#ff8d00 0.0px,#ff1300 13.6px,#e80000 15.7px,#890000 24.1px,#840000 48.2px,#e80000 70.3px,#ed0400 72.2px,#ff1300 73.1px,#feed00 89.3px,#f8f500 90.0px,#eeff09 90.7px,#adff49 96.3px,#deff19 120.4px,#36ffc1 144.5px,#16ffe1 155.4px,#00e4f8 162.0px,#00dcfe 164.6px,#00ccff 168.6px,#00dcfe 174.5px,#00e4f8 178.4px,#16ffe1 188.2px,#1cffdb 192.7px,#50ffa7 216.8px,#80ff77 240.8px,#49ffad 264.9px,#49ffad 289.0px)"></i><i style="background:linear-gradient(90deg,#ff5d00 0.0px,#ff1300 10.0px,#e80000 12.6px,#800000 24.1px,#800000 48.2px,#df0000 72.2px,#e80000 72.7px,#ff1300 73.9px,#feed00 88.8px,#f8f500 89.5px,#eeff09 90.1px,#a0ff56 96.3px,#d7ff1f 120.4px,#1fffd7 144.5px,#16ffe1 148.3px,#00e4f8 155.3px,#00dcfe 158.1px,#00b4ff 168.6px,#00dcfe 183.6px,#00e4f8 187.6px,#09f0ee 192.7px,#16ffe1 197.7px,#3cffba 216.8px,#6dff8a 240.8px,#3cffba 264.9px,#43ffb4 289.0px)"></i><i style="background:linear-gradient(90deg,#ff3400 0.0px,#ff1300 6.0px,#e80000 9.3px,#800000 24.1px,#800000 48.2px,#d10000 72.2px,#e80000 73.3px,#ff1300 74.5px,#feed00 87.8px,#f8f500 88.3px,#eeff09 88.9px,#83ff73 96.3px,#caff2c 120.4px,#16ffe1 142.6px,#06ecf1 144.5px,#00e4f8 146.7px,#00dcfe 150.2px,#00a4ff 168.6px,#00dcfe 189.7px,#00e0fb 192.7px,#00e4f8 193.7px,#16ffe1 203.7px,#30ffc7 216.8px,#53ffa4 240.8px,#30ffc7 264.9px,#43ffb4 289.0px)"></i><i style="background:linear-gradient(90deg,#f60b00 0.0px,#e80000 3.2px,#800000 24.1px,#800000 48.2px,#c40000 72.2px,#e80000 73.9px,#ff1300 74.9px,#feed00 86.9px,#f8f500 87.4px,#eeff09 87.9px,#6aff8d 96.3px,#c1ff36 120.4px,#16ffe1 139.7px,#00e4f8 142.1px,#00dcfe 143.0px,#00c8ff 144.5px,#0094ff 168.6px,#00d4ff 192.7px,#00dcfe 195.7px,#00e4f8 199.7px,#16ffe1 209.7px,#23ffd4 216.8px,#39ffbe 240.8px,#23ffd4 264.9px,#43ffb4 289.0px)"></i><i style="background:linear-gradient(90deg,#c40000 0.0px,#800000 24.1px,#800000 48.2px,#b20000 72.2px,#e80000 74.3px,#ff1300 75.3px,#feed00 86.2px,#f8f500 86.7px,#eeff09 87.1px,#50ffa7 96.3px,#b4ff43 120.4px,#16ffe1 137.2px,#00e4f8 139.4px,#00dcfe 140.2px,#00a8ff 144.5px,#0084ff 168.6px,#00c4ff 192.7px,#00dcfe 201.7px,#00e4f8 205.7px,#16ffe1 215.7px,#16ffe1 216.8px,#1cffdb 240.8px,#16ffe1 264.9px,#43ffb4 289.0px)"></i><i style="background:linear-gradient(90deg,#ad0000 0.0px,#800000 24.1px,#840000 48.2px,#bb0000 72.2px,#e80000 73.9px,#ff1300 74.9px,#feed00 85.6px,#f8f500 86.1px,#eeff09 86.5px,#43ffb4 96.3px,#adff49 120.4px,#16ffe1 136.0px,#00e4f8 138.2px,#00dcfe 139.0px,#0098ff 144.5px,#0074ff 168.6px,#00b4ff 192.7px,#00dcfe 207.7px,#00e4f8 211.7px,#09f0ee 216.8px,#09f0ee 264.9px,#16ffe1 269.9px,#3cffba 289.0px)"></i><i style="background:linear-gradient(90deg,#ad0000 0.0px,#800000 24.1px,#8d0000 48.2px,#da0000 72.2px,#e80000 72.7px,#ff1300 73.7px,#feed00 85.0px,#f8f500 85.5px,#eeff09 86.0px,#43ffb4 96.3px,#adff49 120.4px,#16ffe1 136.0px,#00e4f8 138.2px,#00dcfe 139.0px,#0098ff 144.5px,#0064ff 168.6px,#00a4ff 192.7px,#00dcfe 213.7px,#00e0fb 216.8px,#00e0fb 264.9px,#00e4f8 265.9px,#16ffe1 276.0px,#30ffc7 289.0px)"></i><i style="background:linear-gradient(90deg,#ad0000 0.0px,#800000 24.1px,#9b0000 48.2px,#e80000 66.9px,#fa0f00 72.2px,#ff1300 72.3px,#feed00 84.3px,#f8f500 84.8px,#eeff09 85.4px,#43ffb4 96.3px,#adff49 120.4px,#16ffe1 136.0px,#00e4f8 138.2px,#00dcfe 139.0px,#0098ff 144.5px,#0050ff 168.6px,#0094ff 192.7px,#00d4ff 216.8px,#00d4ff 264.9px,#00dcfe 267.9px,#00e4f8 271.9px,#16ffe1 282.0px,#23ffd4 289.0px)"></i><i style="background:linear-gradient(90deg,#ad0000 0.0px,#800000 24.1px,#a40000 48.2px,#e80000 61.2px,#ff1300 66.0px,#ff2900 72.2px,#feed00 83.6px,#f8f500 84.1px,#eeff09 84.7px,#43ffb4 96.3px,#adff49 120.4px,#16ffe1 136.0px,#00e4f8 138.2px,#00dcfe 139.0px,#0098ff 144.5px,#0040ff 168.6px,#0084ff 192.7px,#00c4ff 216.8px,#00c4ff 264.9px,#00dcfe 273.9px,#00e4f8 278.0px,#16ffe1 288.0px,#16ffe1 289.0px)"></i><i style="background:linear-gradient(90deg,#b20000 0.0px,#840000 24.1px,#b20000 48.2px,#e80000 57.6px,#ff1300 62.0px,#ff3f00 72.2px,#feed00 83.1px,#f8f500 83.7px,#eeff09 84.3px,#49ffad 96.3px,#a7ff50 120.4px,#16ffe1 135.6px,#00e4f8 137.8px,#00dcfe 138.6px,#0094ff 144.5px,#002cff 168.6px,#0080ff 192.7px,#00b4ff 216.8px,#00b4ff 264.9px,#00dcfe 280.0px,#00e4f8 284.0px,#09f0ee 289.0px)"></i><i style="background:linear-gradient(90deg,#c40000 0.0px,#8d0000 24.1px,#c40000 48.2px,#e80000 54.8px,#ff1300 59.0px,#ff4e00 72.2px,#feed00 83.1px,#f8f500 83.8px,#eeff09 84.4px,#56ffa0 96.3px,#9aff5d 120.4px,#16ffe1 134.7px,#00e4f8 136.9px,#00dcfe 137.8px,#008cff 144.5px,#0018ff 168.6px,#0080ff 192.7px,#00a4ff 216.8px,#00a4ff 264.9px,#00dcfe 286.0px,#00e0fb 289.0px)"></i><i style="background:linear-gradient(90deg,#d10000 0.0px,#9b0000 24.1px,#d10000 48.2px,#e80000 52.1px,#ff1300 56.2px,#ff5900 72.2px,#feed00 83.1px,#f8f500 83.8px,#eeff09 84.5px,#66ff90 96.3px,#8dff6a 120.4px,#16ffe1 133.8px,#00e4f8 136.0px,#00dcfe 136.9px,#0084ff 144.5px,#0004ff 168.6px,#0080ff 192.7px,#0094ff 216.8px,#0094ff 264.9px,#00d4ff 289.0px)"></i><i style="background:linear-gradient(90deg,#df0000 0.0px,#a40000 24.1px,#df0000 48.2px,#e80000 49.4px,#ff1300 53.5px,#ff6800 72.2px,#feed00 83.1px,#f8f500 83.8px,#eeff09 84.6px,#73ff83 96.3px,#80ff77 120.4px,#16ffe1 132.7px,#00e4f8 135.1px,#00dcfe 136.0px,#007cff 144.5px,#0000ff 166.0px,#0000ff 171.2px,#0080ff 192.7px,#0084ff 216.8px,#0084ff 264.9px,#00c4ff 289.0px)"></i><i style="background:linear-gradient(90deg,#f60b00 0.0px,#e80000 7.0px,#bb0000 24.1px,#e80000 41.1px,#f60b00 48.2px,#ff1300 49.1px,#ff8600 72.2px,#feed00 82.0px,#f8f500 82.9px,#eeff09 83.8px,#7dff7a 96.3px,#73ff83 120.4px,#16ffe1 131.8px,#00e4f8 134.2px,#00dcfe 135.2px,#0078ff 144.5px,#0000ff 165.9px,#0000ff 171.2px,#0080ff 192.7px,#0080ff 264.9px,#00bcff 289.0px)"></i><i style="background:linear-gradient(90deg,#ff2900 0.0px,#ff1300 11.2px,#e80000 20.2px,#da0000 24.1px,#e80000 28.0px,#ff1300 37.0px,#ff2900 48.2px,#ffae00 72.2px,#feed00 79.3px,#f8f500 80.4px,#eeff09 81.4px,#7dff7a 96.3px,#66ff90 120.4px,#16ffe1 130.8px,#00e4f8 133.4px,#00dcfe 134.5px,#0078ff 144.5px,#0004ff 168.6px,#0080ff 192.7px,#0080ff 264.9px,#00bcff 289.0px)"></i><i style="background:linear-gradient(90deg,#ff4700 0.0px,#ff1300 23.5px,#fa0f00 24.1px,#ff1300 24.6px,#ff4700 48.2px,#ffd300 72.2px,#feed00 75.4px,#f8f500 76.7px,#eeff09 78.0px,#7dff7a 96.3px,#56ffa0 120.4px,#16ffe1 129.7px,#00e4f8 132.5px,#00dcfe 133.7px,#0078ff 144.5px,#0018ff 168.6px,#0080ff 192.7px,#0080ff 264.9px,#00bcff 289.0px)"></i><i style="background:linear-gradient(90deg,#ff6000 0.0px,#ff2900 24.1px,#ff6000 48.2px,#feed00 69.5px,#f8f500 71.0px,#f1fc06 72.2px,#eeff09 72.5px,#7dff7a 96.3px,#49ffad 120.4px,#16ffe1 128.3px,#00e4f8 131.4px,#00dcfe 132.7px,#0078ff 144.5px,#002cff 168.6px,#0080ff 192.7px,#0080ff 264.9px,#00bcff 289.0px)"></i><i style="background:linear-gradient(90deg,#ff8d00 0.0px,#ff5200 24.1px,#ff8600 48.2px,#feed00 64.9px,#f8f500 66.5px,#eeff09 68.0px,#d7ff1f 72.2px,#7dff7a 96.3px,#49ffad 120.4px,#16ffe1 128.7px,#00e4f8 131.9px,#00dcfe 133.2px,#0080ff 144.5px,#0038ff 168.6px,#0080ff 192.7px,#0080ff 264.9px,#00bcff 289.0px)"></i><i style="background:linear-gradient(90deg,#ffc100 0.0px,#ff8900 24.1px,#ffae00 48.2px,#feed00 60.6px,#f8f500 62.4px,#eeff09 64.3px,#caff2c 72.2px,#7dff7a 96.3px,#56ffa0 120.4px,#16ffe1 130.9px,#00e4f8 134.1px,#00dcfe 135.4px,#0090ff 144.5px,#0038ff 168.6px,#0080ff 192.7px,#0080ff 264.9px,#00bcff 289.0px)"></i><i style="background:linear-gradient(90deg,#f4f802 0.0px,#f8f500 1.5px,#feed00 5.5px,#ffc100 24.1px,#ffd300 48.2px,#feed00 53.8px,#f8f500 56.2px,#eeff09 58.6px,#c1ff36 72.2px,#7dff7a 96.3px,#66ff90 120.4px,#16ffe1 133.1px,#00e4f8 136.3px,#00dcfe 137.5px,#00a4ff 144.5px,#0038ff 168.6px,#0080ff 192.7px,#0080ff 264.9px,#00bcff 289.0px)"></i><i style="background:linear-gradient(90deg,#c4ff33 0.0px,#eeff09 20.6px,#f8f500 24.1px,#f1fc06 48.2px,#eeff09 48.6px,#b4ff43 72.2px,#7dff7a 96.3px,#73ff83 120.4px,#16ffe1 135.2px,#00e4f8 138.4px,#00dcfe 139.7px,#00b4ff 144.5px,#0038ff 168.6px,#0080ff 192.7px,#0080ff 264.9px,#00bcff 289.0px)"></i><i style="background:linear-gradient(90deg,#9aff5d 0.0px,#caff2c 24.1px,#d1ff26 48.2px,#adff49 72.2px,#7dff7a 96.3px,#7dff7a 120.4px,#16ffe1 136.6px,#00e4f8 139.8px,#00dcfe 141.1px,#00c0ff 144.5px,#0040ff 168.6px,#0084ff 192.7px,#0084ff 264.9px,#00bcff 289.0px)"></i><i style="background:linear-gradient(90deg,#73ff83 0.0px,#a4ff53 24.1px,#baff3c 48.2px,#adff49 72.2px,#7dff7a 96.3px,#7dff7a 120.4px,#16ffe1 137.3px,#00e4f8 140.6px,#00dcfe 142.0px,#00c8ff 144.5px,#0050ff 168.6px,#0094ff 192.7px,#0094ff 264.9px,#00bcff 289.0px)"></i><i style="background:linear-gradient(90deg,#49ffad 0.0px,#7dff7a 24.1px,#a0ff56 48.2px,#adff49 72.2px,#7dff7a 96.3px,#7dff7a 120.4px,#16ffe1 138.0px,#00e4f8 141.5px,#00dcfe 142.9px,#00d0ff 144.5px,#0064ff 168.6px,#00a4ff 192.7px,#00a4ff 264.9px,#00bcff 289.0px)"></i><i style="background:linear-gradient(90deg,#23ffd4 0.0px,#56ffa0 24.1px,#87ff70 48.2px,#adff49 72.2px,#7dff7a 96.3px,#7dff7a 120.4px,#16ffe1 138.8px,#00e4f8 142.5px,#00dcfe 143.9px,#00d8ff 144.5px,#0074ff 168.6px,#00b4ff 192.7px,#00b4ff 264.9px,#00bcff 289.0px)"></i></div>
<svg width="685" height="813" viewBox="0 0 685 813"><defs><path id="world" d="M-168,-66 L-162,-70 L-156,-71.3 L-145,-70 L-135,-69.5 L-128,-70 L-120,-69 L-110,-68 L-100,-68 L-95,-68.5 L-90,-69 L-85,-66.5 L-82,-67 L-86,-64 L-91,-62.5 L-94,-59 L-92.5,-57 L-88,-56.5 L-85,-55 L-82,-53 L-79,-51.5 L-79,-55 L-77,-60 L-78,-62.5 L-73,-62 L-69,-59 L-65,-60 L-62,-57 L-60,-55 L-56,-52 L-59,-49.5 L-64,-48.6 L-65,-49.2 L-70,-47 L-65,-45.5 L-61,-45.5 L-64,-44.5 L-67,-45 L-70,-43.5 L-70.5,-42 L-74,-40.5 L-76,-38.5 L-76,-35.5 L-78,-34 L-81,-31.5 L-80.5,-28 L-80,-25.5 L-81,-25.2 L-82.5,-27 L-83,-29 L-85,-29.8 L-89,-30.2 L-90,-29 L-94,-29.5 L-97,-27.5 L-97.5,-25 L-97.5,-22 L-96,-19 L-94,-18.3 L-91,-18.8 L-90.5,-21 L-87,-21.5 L-87.5,-18 L-88.5,-16 L-84,-15.5 L-83.5,-11 L-81.5,-9 L-79.5,-9.4 L-77.5,-8.5 L-77.3,-7.5 L-78,-7 L-80,-7.5 L-80.5,-8 L-83,-8.5 L-86,-11 L-88,-13.3 L-92,-14.5 L-95,-16 L-98,-16 L-102,-18 L-105.5,-20 L-105.5,-22.5 L-107,-24.5 L-110,-27.5 L-112.5,-31.5 L-114.5,-31.5 L-114,-29 L-112,-26 L-110,-23 L-112,-24.8 L-114,-27.5 L-115,-29.5 L-117,-32.5 L-118.5,-34 L-120.5,-34.5 L-122.5,-37.5 L-124,-40.5 L-124,-46 L-124.5,-48.5 L-127,-50.5 L-130,-54 L-133,-57 L-137,-58.5 L-140,-60 L-145,-60.5 L-150,-61 L-152,-59 L-155,-57.5 L-158,-56.5 L-162,-55 L-164,-54.5 L-158,-58.5 L-162,-59.5 L-165,-61 L-165,-63 L-162,-64.5 L-166,-65.5 L-168,-66 M-77.5,-8.5 L-75,-10.8 L-71.5,-12.4 L-70,-11.5 L-67,-10.7 L-62,-10.7 L-60,-8.5 L-57,-6 L-52,-5 L-50,-1.7 L-48,1 L-44,2.5 L-40,3 L-35,5.5 L-35,9 L-37,12 L-39,15 L-39,18 L-40,20.5 L-42,23 L-45,23.8 L-48,26 L-48.6,28.5 L-51,31 L-53,34 L-56,34.8 L-57.5,36.5 L-57,38.5 L-62,39 L-62.5,41 L-65,42 L-64,43 L-65.5,45 L-67.5,46.5 L-66,47.5 L-68,50 L-69,52 L-68.5,53 L-67,54.9 L-70,55.2 L-72,54 L-74.5,52 L-75.5,48 L-74.5,44 L-73.5,41 L-73.5,37 L-72,33 L-71.5,30 L-71,25 L-70.3,20 L-70.5,18 L-74,16 L-76,14 L-78,10 L-80,7 L-81.2,5 L-80.3,3.5 L-80.9,2 L-80,-0.5 L-79,-1.5 L-77.5,-4 L-77.3,-7 L-77.5,-8.5 M-6,-35.8 L-10,-31.5 L-13,-27.8 L-17,-21 L-17,-14.7 L-16.5,-12.5 L-14,-10 L-13,-8 L-11,-6.5 L-7.5,-4.4 L-4,-5.2 L1,-6 L4,-6.3 L6,-4.3 L8.5,-4.5 L9.5,-3 L9.3,0 L11.8,3 L12.5,6 L13.3,9 L12,13.5 L11.8,17 L14.5,23 L15.5,27.5 L17.5,30 L18.3,34 L20,34.8 L22.5,34 L26,33.7 L28.5,32.5 L31,29.5 L32.8,26 L35.5,24 L35.3,21.5 L34.5,19.8 L36.8,18 L40.5,15 L40.5,10.5 L39.5,7 L39,4.7 L41.5,1.7 L43.5,-0.5 L46,-2 L49,-6 L51.2,-11.5 L48,-11.2 L44,-10.5 L43.3,-11.8 L42.5,-13 L40,-15.5 L38.5,-18 L37.3,-21 L35.7,-24 L34,-27 L32.5,-29.8 L32.3,-31.2 L30,-31.3 L25,-31.8 L20,-31 L20,-32.5 L15,-32.3 L11,-33.2 L10.5,-36.8 L8,-37 L3,-36.8 L-1,-35.3 L-6,-35.8 M49.3,12 L50.5,15.5 L49.5,17.5 L47.5,24.5 L45,25.5 L43.5,22 L44.5,16 L47,15.3 L49.3,12 M-5.6,-36.1 L-8.8,-37 L-9.4,-38.7 L-8.8,-42 L-9.3,-43 L-7.7,-43.7 L-1.5,-43.4 L-1.2,-46 L-2.5,-47.3 L-4.7,-48.4 L-1.5,-48.7 L1.5,-50 L2.5,-51.1 L4,-51.9 L5,-53.3 L8.5,-53.6 L8.2,-55.5 L8.2,-57 L10.5,-57.6 L10.5,-56 L10.8,-54 L14,-54 L18.5,-54.7 L21,-55.3 L21,-57 L24,-57.3 L24.3,-59.4 L30,-60 L23,-60 L21.5,-61 L21.5,-63.3 L25.4,-65.3 L22.5,-65.8 L21,-64.5 L18.5,-62.5 L17.5,-60.6 L18.8,-59.8 L16.6,-57 L16,-56.2 L12.8,-55.4 L11,-58.5 L10,-59 L8,-58 L5.5,-58.8 L5,-61 L5.2,-62.4 L9,-63.5 L12,-65 L14,-67.5 L16,-68.8 L19,-70 L24,-71 L28,-71 L31,-70 L33,-69.3 L40.5,-67.8 L41,-66.3 L35,-66 L33,-66.5 L35,-64.5 L37,-63.8 L40,-64.5 L44,-66 L44,-68.5 L46,-68 L53,-68.5 L55,-68.3 L60,-69 L66,-69.5 L68,-68.3 L69,-72.8 L73,-72.5 L72,-68 L74,-67.3 L75,-72 L79,-72 L80,-73.5 L87,-74 L86,-75 L94,-76 L100,-76.5 L104,-77.7 L107,-76.9 L113,-76 L113.5,-73.5 L119,-73.2 L127,-73.5 L129,-72 L131,-70.8 L139,-71.5 L145,-72.3 L150,-71.5 L152,-70.8 L160,-70 L161,-69.5 L168,-70 L176,-69.8 L180,-69 L185,-67.5 L190,-66 L188,-64.5 L182,-65.5 L180,-65 L178,-64.5 L177,-62.5 L173,-61 L170,-60 L164,-59.8 L162.5,-57.8 L163,-56 L160,-53 L156.7,-51 L156,-55.5 L156,-57.5 L158,-58 L161,-60.5 L159,-61.5 L154,-59.3 L150,-59.5 L143,-59.3 L137.5,-54 L140.5,-52 L141.3,-48.5 L138,-46 L133,-43 L130,-42.5 L129.5,-40 L128,-38.5 L129.4,-36 L126.5,-34.5 L126.5,-37.5 L125,-39.5 L121.5,-39 L121.5,-40.8 L118,-39 L119,-37 L122.5,-37.2 L120,-35 L121.8,-31 L121.5,-28.5 L119.5,-25.5 L116.5,-23 L113,-22.3 L110.5,-21 L109.5,-21.7 L106.7,-20.5 L105.7,-19 L108.8,-15.5 L109.3,-11.7 L107,-10.4 L105,-8.7 L105,-10.5 L103,-11 L100.7,-13.4 L99.2,-10 L100.2,-6.5 L102,-6 L103.4,-4 L104.2,-1.4 L103.5,-1.3 L101.3,-2.8 L100.3,-5.5 L98.3,-8.5 L98.5,-13 L97.7,-16.5 L94.5,-16 L94.2,-18.5 L92.3,-21 L90.5,-22 L88.8,-21.6 L86.8,-20.8 L85,-19.5 L82.3,-16.5 L80.3,-15.7 L80.2,-13 L79.8,-10.3 L77.5,-8 L76.5,-9 L74.8,-12.7 L73.5,-16 L72.8,-19.5 L72.6,-21.3 L70.5,-20.8 L68.8,-22.4 L67.4,-23.8 L66.5,-25.4 L61.6,-25.2 L57.3,-25.7 L56.5,-27 L54.5,-26.6 L51.5,-27.9 L50,-30 L48.5,-30 L48,-29.5 L48.8,-27.5 L50.2,-26 L51,-24.8 L51.6,-25.8 L52,-24 L54,-24.2 L56,-26 L56.4,-24.8 L58.8,-23.5 L59.8,-22.4 L58.5,-20.4 L57.7,-19 L55,-17 L52.2,-15.6 L49,-14 L45,-12.8 L43.5,-12.7 L42.8,-15 L42.7,-16.5 L41,-19.5 L39,-21.8 L38.5,-24 L37.5,-25.5 L35,-28 L34.8,-29.5 L34.3,-28 L33.5,-28.3 L32.5,-29.9 L32.3,-31.2 L34.2,-31.3 L35,-32.8 L35.9,-35.5 L36,-36.8 L34.5,-36.8 L32,-36.2 L30.5,-36.5 L28,-36.8 L27.3,-37.5 L26.3,-39 L26.5,-40.5 L24,-40.8 L23,-40.4 L24,-38 L22.5,-36.5 L21.2,-37.8 L19.5,-40.5 L19.3,-41.9 L16,-43.5 L13.5,-45.7 L12.4,-45.4 L12.5,-44 L14,-42.5 L16.1,-41.4 L18.5,-40.2 L17,-39 L16.5,-38 L15.6,-38.2 L16.2,-39.5 L15.6,-40.1 L13.8,-41.2 L11.2,-42.4 L10.1,-44 L8.5,-44.3 L6.7,-43.2 L4.8,-43.4 L3.1,-43.2 L3.2,-42 L0.8,-41 L-0.3,-39.5 L0.2,-38.8 L-0.8,-37.6 L-2.1,-36.7 L-4.4,-36.7 L-5.6,-36.1 M28,-41.3 L28,-43.5 L29.7,-45.3 L30.5,-46.5 L32.5,-45.5 L33.5,-44.5 L35,-45 L36.5,-45.3 L38.2,-44.4 L40,-43.5 L41.7,-42 L41.5,-41.5 L38,-40.9 L36,-41.7 L33,-42 L31,-41.1 L28,-41.3 M49.2,-46.5 L51,-47 L53,-45.5 L51,-44.5 L51.5,-42.5 L52.8,-41.7 L53,-40.5 L54,-39 L53.9,-37.5 L51,-36.7 L49,-37.5 L49.5,-40 L48,-42 L47.5,-43.5 L47,-44.8 L49.2,-46.5 M-5.7,-50 L-3,-50.6 L1.4,-51.2 L1.7,-52.7 L0.2,-53.5 L-0.2,-54.5 L-1.5,-55.5 L-2,-56.4 L-1.8,-57.6 L-3.5,-58.6 L-5,-58.6 L-6,-57 L-5.6,-56 L-4.8,-54.8 L-3.2,-54.5 L-3.2,-53.5 L-4.5,-53.3 L-4.5,-51.7 L-3,-51.5 L-5.7,-50 M-6,-52.2 L-6.2,-53.8 L-5.6,-54.5 L-7.2,-55.3 L-8.5,-54.5 L-10,-53.8 L-9.5,-52.5 L-10.2,-51.6 L-8,-51.7 L-6,-52.2 M-24,-65.5 L-22,-66.4 L-16,-66.5 L-13.5,-65 L-15,-64.3 L-20,-63.4 L-22.7,-64 L-24,-65.5 M-73,-78.5 L-67,-76 L-58,-75.5 L-56,-72 L-53,-68 L-51,-64 L-48,-61 L-43,-60 L-41,-63 L-38,-65.5 L-32,-68 L-24,-70 L-22,-72.5 L-19,-75 L-18,-78 L-17,-81.5 L-60,-82.5 L-73,-78.5 M130.2,-33.5 L131.2,-31.3 L132,-33 L133,-33.8 L135,-33.5 L136.8,-34.3 L139,-34.8 L140.8,-35.7 L140.6,-38 L141.5,-40 L141.5,-41.4 L140,-40.5 L139.9,-39 L139,-37.8 L137,-37 L136,-35.6 L133,-35.5 L131,-34.2 L130.2,-33.5 M140,-41.5 L141.5,-42.6 L143.5,-42 L145.6,-43.3 L144.5,-44 L141.7,-45.4 L141.5,-43.3 L140,-41.5 M142,-46 L143.5,-46.8 L143,-49.5 L144.5,-49 L143,-51.5 L143,-54 L142.5,-54.3 L142,-51 L142,-46 M120.3,-22.5 L121,-22 L122,-25 L121.5,-25.3 L120.3,-22.5 M108.6,-19 L110,-18.3 L111,-19.7 L110.5,-20.2 L108.7,-19.7 L108.6,-19 M120,-18.5 L122.2,-18.5 L122,-16 L124,-13 L121.5,-13.8 L120.5,-14.5 L120,-16 L120,-18.5 M122,-7 L124,-7.5 L125.5,-9.5 L126.5,-7.5 L125.5,-5.8 L124,-6.3 L122,-7 M122,-10.5 L123.5,-12 L125.5,-11.5 L124.5,-10 L123,-9.2 L122,-10.5 M109,-1.8 L110,1.5 L111,3 L114,3.5 L116.5,3.7 L116,1 L118,-1 L118.5,-4.5 L116.8,-7 L115,-5 L113,-3.3 L111,-1.7 L109,-1.8 M95.3,-5.6 L97.5,-5.2 L100.4,-2.2 L103.7,1 L106,3 L106,5.8 L104.5,5.9 L102.3,4 L100,0.5 L98.7,-1.7 L95.3,-5.6 M105.2,6.8 L106,5.9 L108.5,6.5 L111,6.5 L112.7,6.9 L114.5,7.8 L114.5,8.7 L111,8.2 L108,7.8 L105.2,6.8 M119.5,5.5 L119.5,3.5 L119,1 L120.5,-1 L125,-1.5 L123,-0.5 L120.5,-0.5 L121.5,1 L123.3,1 L121.5,2 L122.5,4.8 L121,4 L120.5,5.5 L119.5,5.5 M131,1.2 L134,0.8 L137,1.5 L141,2.6 L145,4 L146,5.6 L148,6 L147.5,8 L150,10.5 L147,10 L144,7.7 L142.5,9.3 L141,9 L139,8.1 L138,8.4 L137.5,5 L134,4 L132,2.8 L131,1.2 M119,8.5 L123,8.3 L127,8.3 L125,9.5 L123.5,10.3 L121,8.8 L119,8.5 M79.8,-6.5 L80.2,-9.6 L81.3,-8.5 L81.8,-7 L80.6,-5.9 L79.8,-6.5 M113.5,22 L114,26 L115,30 L115.5,34 L118,35 L121,33.8 L124,33 L126,32.2 L129,31.6 L131.5,31.5 L134,32.5 L135.8,34.8 L137.5,33 L137.7,35.5 L139.5,35.8 L140.5,38 L143.5,38.8 L146.3,39 L148,37.8 L150,37.5 L150.5,35 L151.5,33 L153,31 L153.5,28 L153,25 L150.8,22.5 L149,20.5 L146.5,19 L145.5,15.5 L143.5,14 L142.5,10.7 L141.5,13 L141.6,16.5 L140.5,17.5 L139,17 L137,15.8 L135.5,14.8 L136.8,12.3 L133,11.3 L131,12.2 L130,13 L129.5,14.8 L127.5,14 L125.5,14.5 L123.5,16.5 L122,18.2 L120,19.8 L117,20.6 L114.5,21.8 L113.5,22 M144.7,40.7 L148.3,40.9 L148,42.5 L146.8,43.6 L145.2,42.2 L144.7,40.7 M172.7,34.5 L174.5,36 L175.5,37 L178.5,37.7 L177,39.2 L176.8,40 L175.2,41.6 L174.6,41.2 L175.2,40 L173.8,39.2 L174.5,38 L174.5,37 L172.7,34.5 M172.7,40.5 L174.3,41.6 L173,43.5 L171,44.5 L169,46.6 L166.5,46 L168.3,44 L170.5,43 L172.7,40.5 M-180,78 L-160,77.5 L-150,76.5 L-140,75 L-130,74 L-120,73.5 L-110,74 L-100,73.5 L-90,72.5 L-80,73 L-75,71 L-68,68 L-63,64.5 L-57,63.3 L-58,65 L-62,68 L-62,73 L-60,75 L-50,77.5 L-40,78 L-35,77.8 L-30,76 L-20,73.5 L-10,71.3 L0,70 L10,70 L20,70 L30,69.5 L40,69 L50,67 L60,67 L70,68 L80,67 L90,66.5 L100,66 L110,66 L120,66.5 L130,66 L140,66.5 L150,68.5 L160,70.5 L170,72 L168,77 L180,78 L185,78.5 M-85,-21.9 L-82,-23.1 L-80,-23 L-77,-21.5 L-74.2,-20.2 L-77.5,-19.9 L-78.5,-21.5 L-81,-21.7 L-85,-21.9 M-74.5,-18.4 L-72.7,-19.9 L-70,-19.7 L-68.4,-18.6 L-70,-18.2 L-71.5,-17.7 L-74.5,-18.4 M52,-71.5 L56,-70.6 L57.5,-70.7 L55,-72.5 L57,-74.5 L62,-76 L68.5,-76.9 L66,-75.5 L59,-74 L56,-73.3 L52,-71.5 M11,-78.5 L16,-76.5 L19,-77.5 L22,-78.3 L20,-80.5 L12,-80 L11,-78.5 M137,-75.5 L142,-76.2 L145,-75.5 L140,-74.5 L137,-75.5 M-125,-72 L-120,-74.5 L-117,-73.5 L-116,-71.5 L-120,-71.2 L-125,-72 M-118,-70.5 L-112,-72.8 L-105,-73 L-101,-70 L-106,-68.8 L-114,-68.5 L-118,-70.5 M-80,-73.7 L-72,-72 L-68,-70 L-66,-67 L-62,-66.5 L-64,-64 L-68,-62.5 L-72,-64 L-77,-65.5 L-74,-67.5 L-80,-69.5 L-88,-70.5 L-80,-73.7 M-92,-74.5 L-80,-74.5 L-81,-76.2 L-76,-78.5 L-68,-80.5 L-90,-81 L-92,-76 L-92,-74.5 M-59.5,-47.6 L-56,-51.6 L-55.5,-49.5 L-53,-48 L-53,-46.6 L-56,-46.9 L-59.5,-47.6 M12.4,-38 L15.6,-38.3 L15.1,-36.7 L12.4,-38 M8.2,-41 L9.7,-41 L9.5,-39.1 L8.4,-39 L8.2,-41" fill="none" stroke="#000" stroke-width="0.75" stroke-opacity="0.9" stroke-linejoin="round" vector-effect="non-scaling-stroke"/><linearGradient id="cbg" x1="0" y1="0" x2="0" y2="1"><stop offset="0.000" stop-color="#800000"/><stop offset="0.025" stop-color="#9b0000"/><stop offset="0.050" stop-color="#b60000"/><stop offset="0.075" stop-color="#d60000"/><stop offset="0.100" stop-color="#f10800"/><stop offset="0.125" stop-color="#ff1e00"/><stop offset="0.150" stop-color="#ff3800"/><stop offset="0.175" stop-color="#ff4e00"/><stop offset="0.200" stop-color="#ff6800"/><stop offset="0.225" stop-color="#ff7e00"/><stop offset="0.250" stop-color="#ff9400"/><stop offset="0.275" stop-color="#ffae00"/><stop offset="0.300" stop-color="#ffc400"/><stop offset="0.325" stop-color="#ffde00"/><stop offset="0.350" stop-color="#f8f500"/><stop offset="0.375" stop-color="#e4ff13"/><stop offset="0.400" stop-color="#ceff29"/><stop offset="0.425" stop-color="#baff3c"/><stop offset="0.450" stop-color="#a4ff53"/><stop offset="0.475" stop-color="#90ff66"/><stop offset="0.500" stop-color="#7dff7a"/><stop offset="0.525" stop-color="#66ff90"/><stop offset="0.550" stop-color="#53ffa4"/><stop offset="0.575" stop-color="#3cffba"/><stop offset="0.600" stop-color="#29ffce"/><stop offset="0.625" stop-color="#16ffe1"/><stop offset="0.650" stop-color="#00e4f8"/><stop offset="0.675" stop-color="#00ccff"/><stop offset="0.700" stop-color="#00b0ff"/><stop offset="0.725" stop-color="#0098ff"/><stop offset="0.750" stop-color="#0080ff"/><stop offset="0.775" stop-color="#0064ff"/><stop offset="0.800" stop-color="#004cff"/><stop offset="0.825" stop-color="#0030ff"/><stop offset="0.850" stop-color="#0018ff"/><stop offset="0.875" stop-color="#0000ff"/><stop offset="0.900" stop-color="#0000f1"/><stop offset="0.925" stop-color="#0000d6"/><stop offset="0.950" stop-color="#0000b6"/><stop offset="0.975" stop-color="#00009b"/><stop offset="1.000" stop-color="#000080"/></linearGradient><clipPath id="clipa0"><rect x="45.00" y="42" width="292.50" height="130"/></clipPath><clipPath id="clipa1"><rect x="337.50" y="42" width="292.50" height="130"/></clipPath><clipPath id="clipb0"><rect x="47.00" y="253" width="289.00" height="128"/></clipPath><clipPath id="clipb1"><rect x="336.00" y="253" width="289.00" height="128"/></clipPath><clipPath id="clipc0"><rect x="47.00" y="463" width="289.00" height="128"/></clipPath><clipPath id="clipc1"><rect x="336.00" y="463" width="289.00" height="128"/></clipPath><filter id="bl0_8" x="-50%" y="-50%" width="200%" height="200%"><feGaussianBlur stdDeviation="0.8"/></filter><filter id="bl0_9" x="-50%" y="-50%" width="200%" height="200%"><feGaussianBlur stdDeviation="0.9"/></filter><pattern id="stp" width="19" height="19" patternUnits="userSpaceOnUse" patternTransform="rotate(45)"><rect x="0" width="4.5" height="19" fill="#ffb400"/><rect x="8" width="9" height="19" fill="#720000"/></pattern><filter id="stb" x="-5%" y="-5%" width="110%" height="110%"><feGaussianBlur stdDeviation="1.1"/></filter><linearGradient id="stm" x1="0" y1="0" x2="0" y2="1"><stop offset="0" stop-color="#fff"/><stop offset="0.65" stop-color="#fff"/><stop offset="1" stop-color="#000"/></linearGradient><linearGradient id="sth0" x1="0" y1="0" x2="1" y2="0"><stop offset="0" stop-color="#000"/><stop offset="0.25" stop-color="#fff"/><stop offset="0.75" stop-color="#fff"/><stop offset="1" stop-color="#000"/></linearGradient><mask id="stmk0" maskUnits="userSpaceOnUse" x="95" y="253" width="160" height="34"><rect x="95" y="253" width="160" height="34" fill="url(#stm)"/></mask><mask id="sthk0" maskUnits="userSpaceOnUse" x="95" y="253" width="160" height="34"><rect x="95" y="253" width="160" height="34" fill="url(#sth0)"/></mask><linearGradient id="sth1" x1="0" y1="0" x2="1" y2="0"><stop offset="0" stop-color="#000"/><stop offset="0.25" stop-color="#fff"/><stop offset="0.75" stop-color="#fff"/><stop offset="1" stop-color="#fff"/></linearGradient><mask id="stmk1" maskUnits="userSpaceOnUse" x="120" y="463" width="216" height="34"><rect x="120" y="463" width="216" height="34" fill="url(#stm)"/></mask><mask id="sthk1" maskUnits="userSpaceOnUse" x="120" y="463" width="216" height="34"><rect x="120" y="463" width="216" height="34" fill="url(#sth1)"/></mask><linearGradient id="sth2" x1="0" y1="0" x2="1" y2="0"><stop offset="0" stop-color="#fff"/><stop offset="0.25" stop-color="#fff"/><stop offset="0.75" stop-color="#fff"/><stop offset="1" stop-color="#000"/></linearGradient><mask id="stmk2" maskUnits="userSpaceOnUse" x="336" y="463" width="90" height="36"><rect x="336" y="463" width="90" height="36" fill="url(#stm)"/></mask><mask id="sthk2" maskUnits="userSpaceOnUse" x="336" y="463" width="90" height="36"><rect x="336" y="463" width="90" height="36" fill="url(#sth2)"/></mask><linearGradient id="sth3" x1="0" y1="0" x2="1" y2="0"><stop offset="0" stop-color="#fff"/><stop offset="0.25" stop-color="#fff"/><stop offset="0.75" stop-color="#fff"/><stop offset="1" stop-color="#000"/></linearGradient><mask id="stmk3" maskUnits="userSpaceOnUse" x="336" y="253" width="50" height="32"><rect x="336" y="253" width="50" height="32" fill="url(#stm)"/></mask><mask id="sthk3" maskUnits="userSpaceOnUse" x="336" y="253" width="50" height="32"><rect x="336" y="253" width="50" height="32" fill="url(#sth3)"/></mask></defs>
<g clip-path="url(#clipb1)"><g mask="url(#stmk3)"><g mask="url(#sthk3)"><rect x="336" y="253" width="50" height="32" fill="url(#stp)" opacity="0.4" filter="url(#stb)"/></g></g></g>
<g clip-path="url(#clipc1)"><g mask="url(#stmk2)"><g mask="url(#sthk2)"><rect x="336" y="463" width="90" height="36" fill="url(#stp)" opacity="0.5" filter="url(#stb)"/></g></g></g>
<g clip-path="url(#clipc0)"><g mask="url(#stmk1)"><g mask="url(#sthk1)"><rect x="120" y="463" width="216" height="34" fill="url(#stp)" opacity="0.6" filter="url(#stb)"/></g></g></g>
<g clip-path="url(#clipb0)"><g mask="url(#stmk0)"><g mask="url(#sthk0)"><rect x="95" y="253" width="160" height="34" fill="url(#stp)" opacity="0.5" filter="url(#stb)"/></g></g></g>
<g clip-path="url(#clipb0)"><g filter="url(#bl0_8)" transform="translate(128.0 259.8) rotate(-48)"><ellipse cx="0" cy="0" rx="9.5" ry="6.2" fill="#deff19"/><ellipse cx="0" cy="0" rx="7" ry="4.2" fill="#29ffce"/><ellipse cx="0" cy="0" rx="4" ry="2.4" fill="#0018ff"/></g></g>
<g clip-path="url(#clipb0)"><g filter="url(#bl0_9)" transform="translate(204.0 263.5) rotate(-38)"><ellipse cx="0" cy="0" rx="16" ry="7" fill="#ceff29"/><ellipse cx="0" cy="0" rx="10" ry="4.2" fill="#39ffbe"/></g></g>
<g clip-path="url(#clipb0)"><g filter="url(#bl0_8)" transform="translate(195.2 261.4) rotate(0)"><ellipse cx="0" cy="0" rx="2.0" ry="1.6" fill="#004cff"/></g></g>
<g clip-path="url(#clipb0)"><g filter="url(#bl0_8)" transform="translate(199.6 264.7) rotate(0)"><ellipse cx="0" cy="0" rx="2.0" ry="1.6" fill="#0060ff"/></g></g>
<g clip-path="url(#clipb0)"><g filter="url(#bl0_8)" transform="translate(221.5 262.0) rotate(-50)"><ellipse cx="0" cy="0" rx="11" ry="5.5" fill="#deff19"/><ellipse cx="0" cy="0" rx="7.5" ry="3.4" fill="#29ffce"/><ellipse cx="0" cy="0" rx="3.2" ry="2.0" fill="#0018ff"/></g></g>
<g clip-path="url(#clipb1)"><g filter="url(#bl0_8)" transform="translate(388.5 269.2) rotate(-39)"><ellipse cx="0" cy="0" rx="12" ry="7" fill="#beff39"/><ellipse cx="0" cy="0" rx="8.5" ry="4.6" fill="#19ffde"/><ellipse cx="0" cy="0" rx="5.5" ry="2.4" fill="#0000ff"/></g></g>
<g clip-path="url(#clipa0)"><use href="#world" transform="matrix(0.81250 0 0 0.81250 103.500 107.000)"/><use href="#world" transform="matrix(0.81250 0 0 0.81250 396.000 107.000)"/></g>
<polyline points="45.0,114.6 85.5,98.6 103.0,98.1 143.5,100.3 218.5,100.8 244.7,103.6 306.0,112.4 330.0,116.0 337.5,114.6" fill="none" stroke="#fff" stroke-width="1.3" stroke-linejoin="round"/>
<g clip-path="url(#clipa1)"><use href="#world" transform="matrix(0.81250 0 0 0.81250 397.625 107.000)"/><use href="#world" transform="matrix(0.81250 0 0 0.81250 690.125 107.000)"/></g>
<polyline points="337.5,112.8 379.6,98.6 397.0,98.1 437.6,100.3 512.6,100.8 538.8,103.6 600.0,112.4 623.5,116.0 630.0,113.5" fill="none" stroke="#fff" stroke-width="1.3" stroke-linejoin="round"/>
<line x1="307.40" y1="42.00" x2="307.40" y2="172.00" stroke="#6e2f8c" stroke-width="1.5" stroke-dasharray="3.4,2.0" stroke-dashoffset="-0.5" stroke-opacity="0.9"/>
<line x1="422.80" y1="42.00" x2="422.80" y2="172.00" stroke="#6e2f8c" stroke-width="1.5" stroke-dasharray="3.4,2.0" stroke-dashoffset="-0.5" stroke-opacity="0.9"/>
<rect x="45" y="42" width="585" height="130" fill="none" stroke="#444" stroke-width="0.8"/>
<line x1="337.50" y1="38.50" x2="337.50" y2="175.50" stroke="#555" stroke-width="0.8"/>
<line x1="45.00" y1="38.50" x2="45.00" y2="42.00" stroke="#333" stroke-width="0.8"/>
<text x="45.00" y="34.70" font-size="9.96" text-anchor="middle" fill="#1a1a1a" stroke="#1a1a1a" stroke-width="0.3" textLength="27.09" lengthAdjust="spacingAndGlyphs">00:00</text>
<line x1="118.12" y1="38.50" x2="118.12" y2="42.00" stroke="#333" stroke-width="0.8"/>
<text x="118.12" y="34.70" font-size="9.96" text-anchor="middle" fill="#1a1a1a" stroke="#1a1a1a" stroke-width="0.3" textLength="27.09" lengthAdjust="spacingAndGlyphs">18:00</text>
<line x1="191.25" y1="38.50" x2="191.25" y2="42.00" stroke="#333" stroke-width="0.8"/>
<text x="191.25" y="34.70" font-size="9.96" text-anchor="middle" fill="#1a1a1a" stroke="#1a1a1a" stroke-width="0.3" textLength="27.09" lengthAdjust="spacingAndGlyphs">12:00</text>
<line x1="264.38" y1="38.50" x2="264.38" y2="42.00" stroke="#333" stroke-width="0.8"/>
<text x="264.38" y="34.70" font-size="9.96" text-anchor="middle" fill="#1a1a1a" stroke="#1a1a1a" stroke-width="0.3" textLength="27.09" lengthAdjust="spacingAndGlyphs">06:00</text>
<line x1="337.50" y1="38.50" x2="337.50" y2="42.00" stroke="#333" stroke-width="0.8"/>
<text x="337.50" y="34.70" font-size="9.96" text-anchor="middle" fill="#1a1a1a" stroke="#1a1a1a" stroke-width="0.3" textLength="27.09" lengthAdjust="spacingAndGlyphs">00:00</text>
<line x1="410.62" y1="38.50" x2="410.62" y2="42.00" stroke="#333" stroke-width="0.8"/>
<text x="410.62" y="34.70" font-size="9.96" text-anchor="middle" fill="#1a1a1a" stroke="#1a1a1a" stroke-width="0.3" textLength="27.09" lengthAdjust="spacingAndGlyphs">18:00</text>
<line x1="483.75" y1="38.50" x2="483.75" y2="42.00" stroke="#333" stroke-width="0.8"/>
<text x="483.75" y="34.70" font-size="9.96" text-anchor="middle" fill="#1a1a1a" stroke="#1a1a1a" stroke-width="0.3" textLength="27.09" lengthAdjust="spacingAndGlyphs">12:00</text>
<line x1="556.88" y1="38.50" x2="556.88" y2="42.00" stroke="#333" stroke-width="0.8"/>
<text x="556.88" y="34.70" font-size="9.96" text-anchor="middle" fill="#1a1a1a" stroke="#1a1a1a" stroke-width="0.3" textLength="27.09" lengthAdjust="spacingAndGlyphs">06:00</text>
<line x1="630.00" y1="38.50" x2="630.00" y2="42.00" stroke="#333" stroke-width="0.8"/>
<text x="630.00" y="34.70" font-size="9.96" text-anchor="middle" fill="#1a1a1a" stroke="#1a1a1a" stroke-width="0.3" textLength="27.09" lengthAdjust="spacingAndGlyphs">00:00</text>
<line x1="45.00" y1="172.00" x2="45.00" y2="175.50" stroke="#333" stroke-width="0.8"/>
<text x="45.00" y="182.90" font-size="9.96" text-anchor="middle" fill="#1a1a1a" stroke="#1a1a1a" stroke-width="0.3" textLength="22.64" lengthAdjust="spacingAndGlyphs">288°</text>
<line x1="118.12" y1="172.00" x2="118.12" y2="175.50" stroke="#333" stroke-width="0.8"/>
<text x="118.12" y="182.90" font-size="9.96" text-anchor="middle" fill="#1a1a1a" stroke="#1a1a1a" stroke-width="0.3" textLength="16.66" lengthAdjust="spacingAndGlyphs">18°</text>
<line x1="191.25" y1="172.00" x2="191.25" y2="175.50" stroke="#333" stroke-width="0.8"/>
<text x="191.25" y="182.90" font-size="9.96" text-anchor="middle" fill="#1a1a1a" stroke="#1a1a1a" stroke-width="0.3" textLength="22.64" lengthAdjust="spacingAndGlyphs">108°</text>
<line x1="264.38" y1="172.00" x2="264.38" y2="175.50" stroke="#333" stroke-width="0.8"/>
<text x="264.38" y="182.90" font-size="9.96" text-anchor="middle" fill="#1a1a1a" stroke="#1a1a1a" stroke-width="0.3" textLength="22.64" lengthAdjust="spacingAndGlyphs">198°</text>
<line x1="337.50" y1="172.00" x2="337.50" y2="175.50" stroke="#333" stroke-width="0.8"/>
<text x="337.50" y="182.90" font-size="9.96" text-anchor="middle" fill="#1a1a1a" stroke="#1a1a1a" stroke-width="0.3" textLength="22.64" lengthAdjust="spacingAndGlyphs">286°</text>
<line x1="410.62" y1="172.00" x2="410.62" y2="175.50" stroke="#333" stroke-width="0.8"/>
<text x="410.62" y="182.90" font-size="9.96" text-anchor="middle" fill="#1a1a1a" stroke="#1a1a1a" stroke-width="0.3" textLength="16.66" lengthAdjust="spacingAndGlyphs">16°</text>
<line x1="483.75" y1="172.00" x2="483.75" y2="175.50" stroke="#333" stroke-width="0.8"/>
<text x="483.75" y="182.90" font-size="9.96" text-anchor="middle" fill="#1a1a1a" stroke="#1a1a1a" stroke-width="0.3" textLength="22.64" lengthAdjust="spacingAndGlyphs">106°</text>
<line x1="556.88" y1="172.00" x2="556.88" y2="175.50" stroke="#333" stroke-width="0.8"/>
<text x="556.88" y="182.90" font-size="9.96" text-anchor="middle" fill="#1a1a1a" stroke="#1a1a1a" stroke-width="0.3" textLength="22.64" lengthAdjust="spacingAndGlyphs">196°</text>
<text x="191.25" y="20.95" font-size="9.96" text-anchor="middle" fill="#8b1a1a" stroke="#8b1a1a" stroke-width="0.3" textLength="54.63" lengthAdjust="spacingAndGlyphs">11-05-2024</text>
<text x="483.75" y="20.95" font-size="9.96" text-anchor="middle" fill="#8b1a1a" stroke="#8b1a1a" stroke-width="0.3" textLength="54.63" lengthAdjust="spacingAndGlyphs">10-05-2024</text>
<text x="328.50" y="7.00" font-size="9.91" text-anchor="middle" fill="#8b1a1a" stroke="#8b1a1a" stroke-width="0.3" textLength="102.61" lengthAdjust="spacingAndGlyphs">(a) Swarm A (1900LT)</text>
<line x1="41.50" y1="42.00" x2="45.00" y2="42.00" stroke="#333" stroke-width="0.8"/>
<text x="41.50" y="45.42" font-size="9.96" text-anchor="end" fill="#1a1a1a" stroke="#1a1a1a" stroke-width="0.3" textLength="16.66" lengthAdjust="spacingAndGlyphs">80°</text>
<line x1="41.50" y1="74.50" x2="45.00" y2="74.50" stroke="#333" stroke-width="0.8"/>
<text x="41.50" y="77.92" font-size="9.96" text-anchor="end" fill="#1a1a1a" stroke="#1a1a1a" stroke-width="0.3" textLength="16.66" lengthAdjust="spacingAndGlyphs">40°</text>
<line x1="41.50" y1="107.00" x2="45.00" y2="107.00" stroke="#333" stroke-width="0.8"/>
<text x="41.50" y="110.42" font-size="9.96" text-anchor="end" fill="#1a1a1a" stroke="#1a1a1a" stroke-width="0.3" textLength="10.68" lengthAdjust="spacingAndGlyphs">0°</text>
<line x1="41.50" y1="139.50" x2="45.00" y2="139.50" stroke="#333" stroke-width="0.8"/>
<text x="41.50" y="142.92" font-size="9.96" text-anchor="end" fill="#1a1a1a" stroke="#1a1a1a" stroke-width="0.3" textLength="20.05" lengthAdjust="spacingAndGlyphs">-40°</text>
<line x1="41.50" y1="172.00" x2="45.00" y2="172.00" stroke="#333" stroke-width="0.8"/>
<text x="41.50" y="175.42" font-size="9.96" text-anchor="end" fill="#1a1a1a" stroke="#1a1a1a" stroke-width="0.3" textLength="20.05" lengthAdjust="spacingAndGlyphs">-80°</text>
<text x="191.25" y="193.70" font-size="9.96" text-anchor="middle" fill="#1a1a1a" stroke="#1a1a1a" stroke-width="0.3" textLength="83.75" lengthAdjust="spacingAndGlyphs">Geo Longitude (°)</text>
<text x="483.75" y="193.70" font-size="9.96" text-anchor="middle" fill="#1a1a1a" stroke="#1a1a1a" stroke-width="0.3" textLength="83.75" lengthAdjust="spacingAndGlyphs">Geo Longitude (°)</text>
<text x="17.75" y="107.00" font-size="9.96" text-anchor="middle" fill="#1a1a1a" stroke="#1a1a1a" stroke-width="0.3" textLength="75.52" lengthAdjust="spacingAndGlyphs" transform="rotate(-90 17.8 107.0)">Geo Latitude (°)</text>
<rect x="637.5" y="48.4" width="8.60" height="117.90" fill="url(#cbg)"/>
<path d="M637.5,49.199999999999996 L637.5,48.4 L641.80,42.1 L646.1,48.4 L646.1,49.199999999999996 Z" fill="#800000"/>
<path d="M637.5,165.5 L637.5,166.3 L641.80,172.5 L646.1,166.3 L646.1,165.5 Z" fill="#000080"/>
<path d="M637.5,48.4 L641.80,42.1 L646.1,48.4 L646.1,166.3 L641.80,172.5 L637.5,166.3 Z" fill="none" stroke="#555" stroke-width="0.6"/>
<line x1="646.10" y1="48.40" x2="648.60" y2="48.40" stroke="#333" stroke-width="0.8"/>
<text x="648.90" y="51.82" font-size="9.96" text-anchor="start" fill="#1a1a1a" stroke="#1a1a1a" stroke-width="0.3" textLength="23.92" lengthAdjust="spacingAndGlyphs">4000</text>
<line x1="646.10" y1="87.70" x2="648.60" y2="87.70" stroke="#333" stroke-width="0.8"/>
<text x="648.90" y="91.12" font-size="9.96" text-anchor="start" fill="#1a1a1a" stroke="#1a1a1a" stroke-width="0.3" textLength="23.92" lengthAdjust="spacingAndGlyphs">3000</text>
<line x1="646.10" y1="127.00" x2="648.60" y2="127.00" stroke="#333" stroke-width="0.8"/>
<text x="648.90" y="130.42" font-size="9.96" text-anchor="start" fill="#1a1a1a" stroke="#1a1a1a" stroke-width="0.3" textLength="23.92" lengthAdjust="spacingAndGlyphs">2000</text>
<line x1="646.10" y1="166.30" x2="648.60" y2="166.30" stroke="#333" stroke-width="0.8"/>
<text x="648.90" y="169.72" font-size="9.96" text-anchor="start" fill="#1a1a1a" stroke="#1a1a1a" stroke-width="0.3" textLength="23.92" lengthAdjust="spacingAndGlyphs">1000</text>
<text x="682.45" y="107.35" font-size="9.96" text-anchor="middle" fill="#1a1a1a" stroke="#1a1a1a" stroke-width="0.3" textLength="28.01" lengthAdjust="spacingAndGlyphs" transform="rotate(-90 682.5 107.4)">Te (K)</text>
<g clip-path="url(#clipb0)"><use href="#world" transform="matrix(0.80278 0 0 0.80000 116.039 317.000)"/><use href="#world" transform="matrix(0.80278 0 0 0.80000 405.039 317.000)"/></g>
<polyline points="47.0,325.6 61.0,326.5 108.5,305.4 160.0,309.5 240.0,312.0 336.0,325.6" fill="none" stroke="#fff" stroke-width="1.3" stroke-linejoin="round"/>
<g clip-path="url(#clipb1)"><use href="#world" transform="matrix(0.80278 0 0 0.80000 403.433 317.000)"/><use href="#world" transform="matrix(0.80278 0 0 0.80000 692.433 317.000)"/></g>
<polyline points="336.0,325.6 349.5,326.5 396.0,305.4 448.0,309.5 528.0,312.0 625.0,325.6" fill="none" stroke="#fff" stroke-width="1.3" stroke-linejoin="round"/>
<line x1="306.40" y1="253.00" x2="306.40" y2="381.00" stroke="#6e2f8c" stroke-width="1.5" stroke-dasharray="3.4,2.0" stroke-dashoffset="-0.5" stroke-opacity="0.9"/>
<line x1="420.40" y1="253.00" x2="420.40" y2="381.00" stroke="#6e2f8c" stroke-width="1.5" stroke-dasharray="3.4,2.0" stroke-dashoffset="-0.5" stroke-opacity="0.9"/>
<rect x="47" y="253" width="578" height="128" fill="none" stroke="#444" stroke-width="0.8"/>
<line x1="336.00" y1="249.50" x2="336.00" y2="384.50" stroke="#555" stroke-width="0.8"/>
<line x1="47.00" y1="249.50" x2="47.00" y2="253.00" stroke="#333" stroke-width="0.8"/>
<text x="47.00" y="244.60" font-size="11.02" text-anchor="middle" fill="#1a1a1a" stroke="#1a1a1a" stroke-width="0.3" textLength="29.97" lengthAdjust="spacingAndGlyphs">00:00</text>
<line x1="119.25" y1="249.50" x2="119.25" y2="253.00" stroke="#333" stroke-width="0.8"/>
<text x="119.25" y="244.60" font-size="11.02" text-anchor="middle" fill="#1a1a1a" stroke="#1a1a1a" stroke-width="0.3" textLength="29.97" lengthAdjust="spacingAndGlyphs">18:00</text>
<line x1="191.50" y1="249.50" x2="191.50" y2="253.00" stroke="#333" stroke-width="0.8"/>
<text x="191.50" y="244.60" font-size="11.02" text-anchor="middle" fill="#1a1a1a" stroke="#1a1a1a" stroke-width="0.3" textLength="29.97" lengthAdjust="spacingAndGlyphs">12:00</text>
<line x1="263.75" y1="249.50" x2="263.75" y2="253.00" stroke="#333" stroke-width="0.8"/>
<text x="263.75" y="244.60" font-size="11.02" text-anchor="middle" fill="#1a1a1a" stroke="#1a1a1a" stroke-width="0.3" textLength="29.97" lengthAdjust="spacingAndGlyphs">06:00</text>
<line x1="336.00" y1="249.50" x2="336.00" y2="253.00" stroke="#333" stroke-width="0.8"/>
<text x="336.00" y="244.60" font-size="11.02" text-anchor="middle" fill="#1a1a1a" stroke="#1a1a1a" stroke-width="0.3" textLength="29.97" lengthAdjust="spacingAndGlyphs">00:00</text>
<line x1="408.25" y1="249.50" x2="408.25" y2="253.00" stroke="#333" stroke-width="0.8"/>
<text x="408.25" y="244.60" font-size="11.02" text-anchor="middle" fill="#1a1a1a" stroke="#1a1a1a" stroke-width="0.3" textLength="29.97" lengthAdjust="spacingAndGlyphs">18:00</text>
<line x1="480.50" y1="249.50" x2="480.50" y2="253.00" stroke="#333" stroke-width="0.8"/>
<text x="480.50" y="244.60" font-size="11.02" text-anchor="middle" fill="#1a1a1a" stroke="#1a1a1a" stroke-width="0.3" textLength="29.97" lengthAdjust="spacingAndGlyphs">12:00</text>
<line x1="552.75" y1="249.50" x2="552.75" y2="253.00" stroke="#333" stroke-width="0.8"/>
<text x="552.75" y="244.60" font-size="11.02" text-anchor="middle" fill="#1a1a1a" stroke="#1a1a1a" stroke-width="0.3" textLength="29.97" lengthAdjust="spacingAndGlyphs">06:00</text>
<line x1="625.00" y1="249.50" x2="625.00" y2="253.00" stroke="#333" stroke-width="0.8"/>
<text x="625.00" y="244.60" font-size="11.02" text-anchor="middle" fill="#1a1a1a" stroke="#1a1a1a" stroke-width="0.3" textLength="29.97" lengthAdjust="spacingAndGlyphs">00:00</text>
<line x1="47.00" y1="381.00" x2="47.00" y2="384.50" stroke="#333" stroke-width="0.8"/>
<text x="47.00" y="393.40" font-size="11.02" text-anchor="middle" fill="#1a1a1a" stroke="#1a1a1a" stroke-width="0.3" textLength="25.05" lengthAdjust="spacingAndGlyphs">274°</text>
<line x1="119.25" y1="381.00" x2="119.25" y2="384.50" stroke="#333" stroke-width="0.8"/>
<text x="119.25" y="393.40" font-size="11.02" text-anchor="middle" fill="#1a1a1a" stroke="#1a1a1a" stroke-width="0.3" textLength="11.82" lengthAdjust="spacingAndGlyphs">4°</text>
<line x1="191.50" y1="381.00" x2="191.50" y2="384.50" stroke="#333" stroke-width="0.8"/>
<text x="191.50" y="393.40" font-size="11.02" text-anchor="middle" fill="#1a1a1a" stroke="#1a1a1a" stroke-width="0.3" textLength="18.43" lengthAdjust="spacingAndGlyphs">94°</text>
<line x1="263.75" y1="381.00" x2="263.75" y2="384.50" stroke="#333" stroke-width="0.8"/>
<text x="263.75" y="393.40" font-size="11.02" text-anchor="middle" fill="#1a1a1a" stroke="#1a1a1a" stroke-width="0.3" textLength="25.05" lengthAdjust="spacingAndGlyphs">184°</text>
<line x1="336.00" y1="381.00" x2="336.00" y2="384.50" stroke="#333" stroke-width="0.8"/>
<text x="336.00" y="393.40" font-size="11.02" text-anchor="middle" fill="#1a1a1a" stroke="#1a1a1a" stroke-width="0.3" textLength="25.05" lengthAdjust="spacingAndGlyphs">276°</text>
<line x1="408.25" y1="381.00" x2="408.25" y2="384.50" stroke="#333" stroke-width="0.8"/>
<text x="408.25" y="393.40" font-size="11.02" text-anchor="middle" fill="#1a1a1a" stroke="#1a1a1a" stroke-width="0.3" textLength="11.82" lengthAdjust="spacingAndGlyphs">6°</text>
<line x1="480.50" y1="381.00" x2="480.50" y2="384.50" stroke="#333" stroke-width="0.8"/>
<text x="480.50" y="393.40" font-size="11.02" text-anchor="middle" fill="#1a1a1a" stroke="#1a1a1a" stroke-width="0.3" textLength="18.43" lengthAdjust="spacingAndGlyphs">96°</text>
<line x1="552.75" y1="381.00" x2="552.75" y2="384.50" stroke="#333" stroke-width="0.8"/>
<text x="552.75" y="393.40" font-size="11.02" text-anchor="middle" fill="#1a1a1a" stroke="#1a1a1a" stroke-width="0.3" textLength="25.05" lengthAdjust="spacingAndGlyphs">186°</text>
<text x="191.50" y="230.90" font-size="11.02" text-anchor="middle" fill="#8b1a1a" stroke="#8b1a1a" stroke-width="0.3" textLength="60.44" lengthAdjust="spacingAndGlyphs">11-05-2024</text>
<text x="480.50" y="230.90" font-size="11.02" text-anchor="middle" fill="#8b1a1a" stroke="#8b1a1a" stroke-width="0.3" textLength="60.44" lengthAdjust="spacingAndGlyphs">10-05-2024</text>
<text x="336.00" y="216.80" font-size="11.18" text-anchor="middle" fill="#8b1a1a" stroke="#8b1a1a" stroke-width="0.3" textLength="125.52" lengthAdjust="spacingAndGlyphs">(b) DMSP F17 (1820 LT)</text>
<line x1="43.50" y1="253.00" x2="47.00" y2="253.00" stroke="#333" stroke-width="0.8"/>
<text x="42.90" y="256.79" font-size="11.02" text-anchor="end" fill="#1a1a1a" stroke="#1a1a1a" stroke-width="0.3" textLength="18.43" lengthAdjust="spacingAndGlyphs">80°</text>
<line x1="43.50" y1="285.00" x2="47.00" y2="285.00" stroke="#333" stroke-width="0.8"/>
<text x="42.90" y="288.79" font-size="11.02" text-anchor="end" fill="#1a1a1a" stroke="#1a1a1a" stroke-width="0.3" textLength="18.43" lengthAdjust="spacingAndGlyphs">40°</text>
<line x1="43.50" y1="317.00" x2="47.00" y2="317.00" stroke="#333" stroke-width="0.8"/>
<text x="42.90" y="320.79" font-size="11.02" text-anchor="end" fill="#1a1a1a" stroke="#1a1a1a" stroke-width="0.3" textLength="11.82" lengthAdjust="spacingAndGlyphs">0°</text>
<line x1="43.50" y1="349.00" x2="47.00" y2="349.00" stroke="#333" stroke-width="0.8"/>
<text x="42.90" y="352.79" font-size="11.02" text-anchor="end" fill="#1a1a1a" stroke="#1a1a1a" stroke-width="0.3" textLength="22.19" lengthAdjust="spacingAndGlyphs">-40°</text>
<line x1="43.50" y1="381.00" x2="47.00" y2="381.00" stroke="#333" stroke-width="0.8"/>
<text x="42.90" y="384.79" font-size="11.02" text-anchor="end" fill="#1a1a1a" stroke="#1a1a1a" stroke-width="0.3" textLength="22.19" lengthAdjust="spacingAndGlyphs">-80°</text>
<text x="191.50" y="406.50" font-size="11.02" text-anchor="middle" fill="#1a1a1a" stroke="#1a1a1a" stroke-width="0.3" textLength="92.66" lengthAdjust="spacingAndGlyphs">Geo Longitude (°)</text>
<text x="480.50" y="406.50" font-size="11.02" text-anchor="middle" fill="#1a1a1a" stroke="#1a1a1a" stroke-width="0.3" textLength="92.66" lengthAdjust="spacingAndGlyphs">Geo Longitude (°)</text>
<text x="16.07" y="317.00" font-size="11.02" text-anchor="middle" fill="#1a1a1a" stroke="#1a1a1a" stroke-width="0.3" textLength="83.55" lengthAdjust="spacingAndGlyphs" transform="rotate(-90 16.1 317.0)">Geo Latitude (°)</text>
<rect x="633.5" y="258.4" width="9.10" height="119.60" fill="url(#cbg)"/>
<path d="M633.5,259.2 L633.5,258.4 L638.05,252.5 L642.6,258.4 L642.6,259.2 Z" fill="#800000"/>
<path d="M633.5,377.2 L633.5,378.0 L638.05,383.4 L642.6,378.0 L642.6,377.2 Z" fill="#000080"/>
<path d="M633.5,258.4 L638.05,252.5 L642.6,258.4 L642.6,378.0 L638.05,383.4 L633.5,378.0 Z" fill="none" stroke="#555" stroke-width="0.6"/>
<line x1="642.60" y1="258.40" x2="645.10" y2="258.40" stroke="#333" stroke-width="0.8"/>
<text x="646.80" y="262.19" font-size="11.02" text-anchor="start" fill="#1a1a1a" stroke="#1a1a1a" stroke-width="0.3" textLength="26.47" lengthAdjust="spacingAndGlyphs">4000</text>
<line x1="642.60" y1="298.27" x2="645.10" y2="298.27" stroke="#333" stroke-width="0.8"/>
<text x="646.80" y="302.05" font-size="11.02" text-anchor="start" fill="#1a1a1a" stroke="#1a1a1a" stroke-width="0.3" textLength="26.47" lengthAdjust="spacingAndGlyphs">3000</text>
<line x1="642.60" y1="338.13" x2="645.10" y2="338.13" stroke="#333" stroke-width="0.8"/>
<text x="646.80" y="341.92" font-size="11.02" text-anchor="start" fill="#1a1a1a" stroke="#1a1a1a" stroke-width="0.3" textLength="26.47" lengthAdjust="spacingAndGlyphs">2000</text>
<line x1="642.60" y1="378.00" x2="645.10" y2="378.00" stroke="#333" stroke-width="0.8"/>
<text x="646.80" y="381.79" font-size="11.02" text-anchor="start" fill="#1a1a1a" stroke="#1a1a1a" stroke-width="0.3" textLength="26.47" lengthAdjust="spacingAndGlyphs">1000</text>
<text x="683.07" y="318.20" font-size="11.02" text-anchor="middle" fill="#1a1a1a" stroke="#1a1a1a" stroke-width="0.3" textLength="30.99" lengthAdjust="spacingAndGlyphs" transform="rotate(-90 683.1 318.2)">Te (K)</text>
<g clip-path="url(#clipc0)"><use href="#world" transform="matrix(0.80278 0 0 0.80000 118.447 527.000)"/><use href="#world" transform="matrix(0.80278 0 0 0.80000 407.447 527.000)"/></g>
<polyline points="47.0,535.6 57.4,536.5 109.3,515.4 160.0,519.5 240.0,522.0 336.0,535.6" fill="none" stroke="#fff" stroke-width="1.3" stroke-linejoin="round"/>
<g clip-path="url(#clipc1)"><use href="#world" transform="matrix(0.80278 0 0 0.80000 409.053 527.000)"/><use href="#world" transform="matrix(0.80278 0 0 0.80000 698.053 527.000)"/></g>
<polyline points="336.0,535.6 347.0,536.5 400.0,515.4 450.0,519.5 528.0,522.0 625.0,535.6" fill="none" stroke="#fff" stroke-width="1.3" stroke-linejoin="round"/>
<line x1="305.70" y1="463.00" x2="305.70" y2="591.00" stroke="#6e2f8c" stroke-width="1.5" stroke-dasharray="3.4,2.0" stroke-dashoffset="-0.5" stroke-opacity="0.9"/>
<line x1="419.70" y1="463.00" x2="419.70" y2="591.00" stroke="#6e2f8c" stroke-width="1.5" stroke-dasharray="3.4,2.0" stroke-dashoffset="-0.5" stroke-opacity="0.9"/>
<rect x="47" y="463" width="578" height="128" fill="none" stroke="#444" stroke-width="0.8"/>
<line x1="336.00" y1="459.50" x2="336.00" y2="594.50" stroke="#555" stroke-width="0.8"/>
<line x1="47.00" y1="459.50" x2="47.00" y2="463.00" stroke="#333" stroke-width="0.8"/>
<text x="47.00" y="454.60" font-size="11.02" text-anchor="middle" fill="#1a1a1a" stroke="#1a1a1a" stroke-width="0.3" textLength="29.97" lengthAdjust="spacingAndGlyphs">00:00</text>
<line x1="119.25" y1="459.50" x2="119.25" y2="463.00" stroke="#333" stroke-width="0.8"/>
<text x="119.25" y="454.60" font-size="11.02" text-anchor="middle" fill="#1a1a1a" stroke="#1a1a1a" stroke-width="0.3" textLength="29.97" lengthAdjust="spacingAndGlyphs">18:00</text>
<line x1="191.50" y1="459.50" x2="191.50" y2="463.00" stroke="#333" stroke-width="0.8"/>
<text x="191.50" y="454.60" font-size="11.02" text-anchor="middle" fill="#1a1a1a" stroke="#1a1a1a" stroke-width="0.3" textLength="29.97" lengthAdjust="spacingAndGlyphs">12:00</text>
<line x1="263.75" y1="459.50" x2="263.75" y2="463.00" stroke="#333" stroke-width="0.8"/>
<text x="263.75" y="454.60" font-size="11.02" text-anchor="middle" fill="#1a1a1a" stroke="#1a1a1a" stroke-width="0.3" textLength="29.97" lengthAdjust="spacingAndGlyphs">06:00</text>
<line x1="336.00" y1="459.50" x2="336.00" y2="463.00" stroke="#333" stroke-width="0.8"/>
<text x="336.00" y="454.60" font-size="11.02" text-anchor="middle" fill="#1a1a1a" stroke="#1a1a1a" stroke-width="0.3" textLength="29.97" lengthAdjust="spacingAndGlyphs">00:00</text>
<line x1="408.25" y1="459.50" x2="408.25" y2="463.00" stroke="#333" stroke-width="0.8"/>
<text x="408.25" y="454.60" font-size="11.02" text-anchor="middle" fill="#1a1a1a" stroke="#1a1a1a" stroke-width="0.3" textLength="29.97" lengthAdjust="spacingAndGlyphs">18:00</text>
<line x1="480.50" y1="459.50" x2="480.50" y2="463.00" stroke="#333" stroke-width="0.8"/>
<text x="480.50" y="454.60" font-size="11.02" text-anchor="middle" fill="#1a1a1a" stroke="#1a1a1a" stroke-width="0.3" textLength="29.97" lengthAdjust="spacingAndGlyphs">12:00</text>
<line x1="552.75" y1="459.50" x2="552.75" y2="463.00" stroke="#333" stroke-width="0.8"/>
<text x="552.75" y="454.60" font-size="11.02" text-anchor="middle" fill="#1a1a1a" stroke="#1a1a1a" stroke-width="0.3" textLength="29.97" lengthAdjust="spacingAndGlyphs">06:00</text>
<line x1="625.00" y1="459.50" x2="625.00" y2="463.00" stroke="#333" stroke-width="0.8"/>
<text x="625.00" y="454.60" font-size="11.02" text-anchor="middle" fill="#1a1a1a" stroke="#1a1a1a" stroke-width="0.3" textLength="29.97" lengthAdjust="spacingAndGlyphs">00:00</text>
<line x1="47.00" y1="591.00" x2="47.00" y2="594.50" stroke="#333" stroke-width="0.8"/>
<text x="47.00" y="603.40" font-size="11.02" text-anchor="middle" fill="#1a1a1a" stroke="#1a1a1a" stroke-width="0.3" textLength="25.05" lengthAdjust="spacingAndGlyphs">271°</text>
<line x1="119.25" y1="591.00" x2="119.25" y2="594.50" stroke="#333" stroke-width="0.8"/>
<text x="119.25" y="603.40" font-size="11.02" text-anchor="middle" fill="#1a1a1a" stroke="#1a1a1a" stroke-width="0.3" textLength="11.82" lengthAdjust="spacingAndGlyphs">1°</text>
<line x1="191.50" y1="591.00" x2="191.50" y2="594.50" stroke="#333" stroke-width="0.8"/>
<text x="191.50" y="603.40" font-size="11.02" text-anchor="middle" fill="#1a1a1a" stroke="#1a1a1a" stroke-width="0.3" textLength="18.43" lengthAdjust="spacingAndGlyphs">91°</text>
<line x1="263.75" y1="591.00" x2="263.75" y2="594.50" stroke="#333" stroke-width="0.8"/>
<text x="263.75" y="603.40" font-size="11.02" text-anchor="middle" fill="#1a1a1a" stroke="#1a1a1a" stroke-width="0.3" textLength="25.05" lengthAdjust="spacingAndGlyphs">181°</text>
<line x1="336.00" y1="591.00" x2="336.00" y2="594.50" stroke="#333" stroke-width="0.8"/>
<text x="336.00" y="603.40" font-size="11.02" text-anchor="middle" fill="#1a1a1a" stroke="#1a1a1a" stroke-width="0.3" textLength="25.05" lengthAdjust="spacingAndGlyphs">269°</text>
<line x1="408.25" y1="591.00" x2="408.25" y2="594.50" stroke="#333" stroke-width="0.8"/>
<text x="408.25" y="603.40" font-size="11.02" text-anchor="middle" fill="#1a1a1a" stroke="#1a1a1a" stroke-width="0.3" textLength="25.05" lengthAdjust="spacingAndGlyphs">359°</text>
<line x1="480.50" y1="591.00" x2="480.50" y2="594.50" stroke="#333" stroke-width="0.8"/>
<text x="480.50" y="603.40" font-size="11.02" text-anchor="middle" fill="#1a1a1a" stroke="#1a1a1a" stroke-width="0.3" textLength="18.43" lengthAdjust="spacingAndGlyphs">89°</text>
<line x1="552.75" y1="591.00" x2="552.75" y2="594.50" stroke="#333" stroke-width="0.8"/>
<text x="552.75" y="603.40" font-size="11.02" text-anchor="middle" fill="#1a1a1a" stroke="#1a1a1a" stroke-width="0.3" textLength="25.05" lengthAdjust="spacingAndGlyphs">179°</text>
<text x="191.50" y="440.90" font-size="11.02" text-anchor="middle" fill="#8b1a1a" stroke="#8b1a1a" stroke-width="0.3" textLength="60.44" lengthAdjust="spacingAndGlyphs">11-05-2024</text>
<text x="480.50" y="440.90" font-size="11.02" text-anchor="middle" fill="#8b1a1a" stroke="#8b1a1a" stroke-width="0.3" textLength="60.44" lengthAdjust="spacingAndGlyphs">10-05-2024</text>
<text x="335.70" y="426.80" font-size="11.18" text-anchor="middle" fill="#8b1a1a" stroke="#8b1a1a" stroke-width="0.3" textLength="121.27" lengthAdjust="spacingAndGlyphs">(c) DMSP F16 (1800LT)</text>
<line x1="43.50" y1="463.00" x2="47.00" y2="463.00" stroke="#333" stroke-width="0.8"/>
<text x="42.90" y="466.79" font-size="11.02" text-anchor="end" fill="#1a1a1a" stroke="#1a1a1a" stroke-width="0.3" textLength="18.43" lengthAdjust="spacingAndGlyphs">80°</text>
<line x1="43.50" y1="495.00" x2="47.00" y2="495.00" stroke="#333" stroke-width="0.8"/>
<text x="42.90" y="498.79" font-size="11.02" text-anchor="end" fill="#1a1a1a" stroke="#1a1a1a" stroke-width="0.3" textLength="18.43" lengthAdjust="spacingAndGlyphs">40°</text>
<line x1="43.50" y1="527.00" x2="47.00" y2="527.00" stroke="#333" stroke-width="0.8"/>
<text x="42.90" y="530.79" font-size="11.02" text-anchor="end" fill="#1a1a1a" stroke="#1a1a1a" stroke-width="0.3" textLength="11.82" lengthAdjust="spacingAndGlyphs">0°</text>
<line x1="43.50" y1="559.00" x2="47.00" y2="559.00" stroke="#333" stroke-width="0.8"/>
<text x="42.90" y="562.79" font-size="11.02" text-anchor="end" fill="#1a1a1a" stroke="#1a1a1a" stroke-width="0.3" textLength="22.19" lengthAdjust="spacingAndGlyphs">-40°</text>
<line x1="43.50" y1="591.00" x2="47.00" y2="591.00" stroke="#333" stroke-width="0.8"/>
<text x="42.90" y="594.79" font-size="11.02" text-anchor="end" fill="#1a1a1a" stroke="#1a1a1a" stroke-width="0.3" textLength="22.19" lengthAdjust="spacingAndGlyphs">-80°</text>
<text x="191.50" y="616.50" font-size="11.02" text-anchor="middle" fill="#1a1a1a" stroke="#1a1a1a" stroke-width="0.3" textLength="92.66" lengthAdjust="spacingAndGlyphs">Geo Longitude (°)</text>
<text x="480.50" y="616.50" font-size="11.02" text-anchor="middle" fill="#1a1a1a" stroke="#1a1a1a" stroke-width="0.3" textLength="92.66" lengthAdjust="spacingAndGlyphs">Geo Longitude (°)</text>
<text x="16.07" y="527.00" font-size="11.02" text-anchor="middle" fill="#1a1a1a" stroke="#1a1a1a" stroke-width="0.3" textLength="83.55" lengthAdjust="spacingAndGlyphs" transform="rotate(-90 16.1 527.0)">Geo Latitude (°)</text>
<rect x="633.5" y="468.4" width="9.10" height="119.60" fill="url(#cbg)"/>
<path d="M633.5,469.2 L633.5,468.4 L638.05,462.5 L642.6,468.4 L642.6,469.2 Z" fill="#800000"/>
<path d="M633.5,587.2 L633.5,588.0 L638.05,593.4 L642.6,588.0 L642.6,587.2 Z" fill="#000080"/>
<path d="M633.5,468.4 L638.05,462.5 L642.6,468.4 L642.6,588.0 L638.05,593.4 L633.5,588.0 Z" fill="none" stroke="#555" stroke-width="0.6"/>
<line x1="642.60" y1="468.40" x2="645.10" y2="468.40" stroke="#333" stroke-width="0.8"/>
<text x="646.80" y="472.19" font-size="11.02" text-anchor="start" fill="#1a1a1a" stroke="#1a1a1a" stroke-width="0.3" textLength="26.47" lengthAdjust="spacingAndGlyphs">4000</text>
<line x1="642.60" y1="508.27" x2="645.10" y2="508.27" stroke="#333" stroke-width="0.8"/>
<text x="646.80" y="512.05" font-size="11.02" text-anchor="start" fill="#1a1a1a" stroke="#1a1a1a" stroke-width="0.3" textLength="26.47" lengthAdjust="spacingAndGlyphs">3000</text>
<line x1="642.60" y1="548.13" x2="645.10" y2="548.13" stroke="#333" stroke-width="0.8"/>
<text x="646.80" y="551.92" font-size="11.02" text-anchor="start" fill="#1a1a1a" stroke="#1a1a1a" stroke-width="0.3" textLength="26.47" lengthAdjust="spacingAndGlyphs">2000</text>
<line x1="642.60" y1="588.00" x2="645.10" y2="588.00" stroke="#333" stroke-width="0.8"/>
<text x="646.80" y="591.79" font-size="11.02" text-anchor="start" fill="#1a1a1a" stroke="#1a1a1a" stroke-width="0.3" textLength="26.47" lengthAdjust="spacingAndGlyphs">1000</text>
<text x="683.07" y="528.20" font-size="11.02" text-anchor="middle" fill="#1a1a1a" stroke="#1a1a1a" stroke-width="0.3" textLength="30.99" lengthAdjust="spacingAndGlyphs" transform="rotate(-90 683.1 528.2)">Te (K)</text>
<line x1="46.10" y1="719.50" x2="627.50" y2="719.50" stroke="#666" stroke-width="0.8" stroke-dasharray="1,2"/>
<line x1="336.80" y1="659.60" x2="336.80" y2="779.40" stroke="#999" stroke-width="1.5"/>
<polyline points="46.0,736.4 46.9,736.8 47.7,737.3 48.6,737.3 49.4,736.9 50.3,737.7 51.1,738.3 52.0,738.2 52.8,738.0 53.7,738.6 54.5,738.6 55.6,738.9 56.7,739.1 57.7,739.2 58.8,738.1 59.9,737.1 60.9,736.2 62.0,734.9 63.1,735.3 64.1,736.4 65.2,736.1 66.2,735.6 67.3,735.6 68.4,736.6 69.4,737.1 70.5,737.1 71.6,737.1 72.6,737.5 73.7,738.1 74.8,737.6 75.8,737.7 76.9,737.7 78.0,736.8 79.0,736.0 80.1,737.1 81.2,737.5 82.2,738.1 83.3,739.2 84.4,739.2 85.4,739.6 86.5,738.0 87.6,739.2 88.6,739.1 89.7,740.5 90.8,741.3 91.8,743.3 92.9,745.6 94.0,742.4 95.0,743.0 96.1,743.5 97.2,743.0 98.2,742.4 99.3,742.3 100.4,740.3 101.4,739.2 102.5,739.2 103.5,739.6 104.6,740.3 105.7,740.6 106.7,739.2 107.8,740.5 108.9,741.3 109.9,741.1 111.0,740.3 112.1,740.6 113.1,741.3 114.2,741.6 115.3,743.5 116.3,743.9 117.4,744.2 118.5,744.5 119.5,744.3 120.6,744.9 121.7,745.6 122.7,746.0 123.8,746.2 124.9,747.1 125.9,747.6 127.0,748.3 128.1,748.8 129.1,749.4 130.2,749.7 131.3,750.5 132.3,751.0 133.4,751.5 134.5,751.3 135.5,751.7 136.6,751.4 137.6,752.0 138.7,752.1 139.8,751.3 140.8,751.3 141.9,751.6 143.0,750.6 144.0,750.9 145.1,751.2 146.2,750.6 147.2,750.5 148.3,749.7 149.4,749.9 150.4,749.8 151.5,750.0 152.6,750.3 153.6,750.3 154.7,749.6 155.8,749.8 156.8,749.9 157.9,750.9 159.0,751.6 160.0,751.8 161.1,752.6 162.2,753.1 163.2,753.7 164.3,753.7 165.4,752.7 166.4,753.4 167.5,753.0 168.3,753.5 169.2,752.7 170.0,752.3 170.9,752.9 171.8,752.4 172.6,752.4 173.5,752.6 174.3,752.0 175.2,751.4 176.0,752.0 176.9,751.7 177.7,751.4 178.6,751.7 179.4,751.2 180.3,750.9 181.1,750.1 182.0,750.2 182.8,751.1 183.7,750.9 184.5,750.5 185.6,750.0 186.7,750.1 187.7,749.8 188.8,749.8 189.9,749.6 190.9,749.2 190.0,749.8 191.1,749.9 192.1,749.3 193.2,748.8 194.3,748.4 195.3,748.0 196.4,747.7 197.5,748.8 198.5,752.0 199.6,753.5 200.7,754.1 201.7,753.6 202.8,755.2 203.9,755.6 204.9,756.2 206.0,756.8 207.1,757.3 208.1,756.1 209.2,756.2 210.2,756.7 211.3,756.9 212.4,755.7 213.4,755.2 214.5,754.5 215.6,753.0 216.6,751.9 217.7,750.9 218.6,749.6 219.4,747.7 220.5,753.0 222.0,755.2 223.0,756.8 224.1,757.3 225.2,758.5 226.2,759.4 227.3,759.6 228.4,760.5 229.4,760.9 230.5,762.6 231.6,764.0 232.6,763.7 233.7,759.4 234.8,755.2 235.8,760.5 236.9,761.0 238.0,761.6 239.0,761.8 240.1,762.6 241.2,762.2 242.2,761.6 243.3,761.0 244.4,760.5 245.4,761.4 246.5,761.6 247.5,760.5 248.6,759.4 249.7,759.7 250.7,759.9 251.8,757.2 252.9,755.2 253.9,752.0 255.0,753.0 256.1,754.1 257.1,754.0 258.2,753.5 259.3,752.8 260.3,753.0 261.4,753.1 262.5,752.6 263.5,753.7 264.6,753.5 265.7,753.1 266.7,754.1 267.8,754.1 268.9,756.2 269.9,758.1 271.0,759.4 272.1,760.1 273.1,758.4 274.2,759.5 275.3,761.6 276.3,761.5 277.4,762.6 278.5,763.4 279.5,763.7 280.6,762.8 281.6,762.6 282.7,761.9 283.8,761.6 284.8,761.2 285.9,761.1 287.0,761.6 288.0,761.6 289.1,761.2 290.2,761.1 291.2,761.5 292.3,761.6 293.4,763.1 294.4,764.8 295.5,763.3 296.6,762.6 297.6,761.4 298.7,760.5 299.8,759.5 300.8,759.4 301.9,760.0 303.0,760.5 304.0,761.6 305.1,763.7 306.2,765.9 307.2,769.0 308.1,772.3 308.9,774.4 310.4,766.9 311.5,766.3 312.6,765.8 313.6,764.7 314.7,763.7 315.8,762.9 316.8,761.6 317.9,760.3 318.9,759.4 320.0,758.8 321.1,758.4 322.1,757.0 323.2,755.2 324.3,754.8 325.3,754.1 326.4,752.5 327.5,752.0 328.5,750.8 329.6,748.8 330.7,747.7 331.7,749.0 332.8,750.9 333.9,751.5 334.9,753.0 334.0,752.0 335.1,752.1 336.1,753.0 337.2,755.2 338.3,757.3 339.3,756.1 340.4,755.2 341.5,755.1 342.5,753.5 343.6,752.0 344.7,755.2 345.7,757.3 346.8,754.1 347.9,752.5 348.9,752.0 350.0,752.6 351.1,753.0 352.1,751.0 353.2,750.9 354.2,740.3 355.3,750.9 356.4,750.4 357.4,749.8 358.5,748.7 359.6,746.6 360.6,743.5 361.7,749.8 362.8,747.1 363.8,744.5 364.9,741.3 366.0,741.6 367.0,742.4 368.1,741.2 369.2,739.8 370.2,739.8 371.3,739.2 372.4,737.9 373.4,736.0 374.5,736.3 375.6,734.9 376.6,734.5 377.7,733.9 378.8,734.4 379.8,735.6 380.9,734.1 382.0,732.8 383.0,734.4 384.1,736.0 385.2,733.4 386.2,730.7 387.3,729.6 388.4,733.9 389.4,736.0 390.5,736.5 391.5,737.1 392.6,737.1 393.7,737.1 394.7,736.0 395.8,736.4 396.9,736.4 397.9,735.6 399.0,728.5 400.1,728.3 401.1,728.5 402.2,729.6 403.3,728.0 404.3,727.5 405.4,725.6 406.5,723.2 407.5,721.7 408.6,718.9 409.7,718.1 410.7,716.8 411.8,715.8 412.9,714.7 413.9,714.3 415.0,714.7 416.1,712.5 417.1,712.1 418.2,710.8 419.3,712.1 420.3,716.8 421.4,717.2 422.5,718.3 423.5,717.9 424.4,718.1 425.2,717.7 426.1,717.8 426.9,718.1 427.8,718.1 428.6,717.7 429.5,718.2 430.3,718.1 431.2,718.6 432.0,718.3 432.9,718.6 433.7,717.7 434.6,718.4 435.5,718.1 436.3,718.5 437.2,718.6 438.0,718.1 438.9,718.0 439.7,717.4 440.6,717.4 441.4,718.1 442.3,718.4 443.1,717.8 444.0,718.4 444.8,718.5 445.7,718.4 446.5,718.7 447.4,718.5 448.2,719.3 449.1,718.9 449.9,718.7 450.8,718.9 451.7,719.1 452.5,718.8 453.4,718.9 454.2,719.0 455.1,719.0 455.9,719.2 456.8,719.0 457.6,719.4 458.5,719.3 459.3,719.5 460.2,719.5 461.0,719.7 461.9,719.8 462.7,719.8 463.6,720.1 464.4,719.8 465.3,719.9 466.1,720.0 467.0,719.9 467.9,720.0 468.7,719.8 469.6,720.3 470.4,720.2 471.3,719.9 472.1,720.0 473.0,720.3 473.8,720.3 474.7,720.2 475.6,720.2 476.4,719.8 477.3,720.4 478.2,720.4 479.1,720.0 480.0,720.4 479.0,720.8 478.0,720.7 478.8,720.5 479.6,720.4 480.5,720.7 481.3,720.6 482.1,720.7 482.9,720.3 483.7,721.1 484.6,720.7 485.4,720.5 486.2,720.2 487.0,720.7 487.9,720.4 488.7,720.5 489.5,720.3 490.3,720.3 491.1,720.3 492.0,720.3 492.9,720.0 493.8,720.3 494.6,720.0 495.5,719.8 496.4,720.0 497.3,720.1 498.1,719.8 499.0,719.6 499.9,719.8 500.8,720.0 501.6,719.3 502.5,719.5 503.4,719.7 504.3,719.4 505.2,719.7 506.0,719.7 506.9,719.9 507.8,719.4 508.7,719.6 509.5,719.4 510.4,719.6 511.3,718.9 512.2,720.3 513.0,719.3 513.9,719.3 514.8,719.7 515.7,719.4 516.5,719.0 517.4,719.4 518.3,719.5 519.2,719.6 520.0,719.3 520.9,719.3 521.8,719.5 522.7,719.2 523.5,719.5 524.4,719.4 525.3,719.2 526.2,719.4 527.1,719.0 527.9,719.3 528.8,719.1 529.7,719.5 530.6,719.3 531.4,719.4 532.3,719.3 533.2,719.3 534.1,719.0 534.9,719.2 535.8,719.3 536.6,719.6 537.4,719.0 538.2,718.9 539.0,719.0 539.9,718.9 540.7,718.8 541.5,718.9 542.3,719.1 543.1,719.0 544.0,719.5 544.8,719.3 545.6,719.4 546.4,719.7 547.3,719.4 548.1,719.6 548.9,720.0 549.8,719.6 550.7,719.6 551.6,719.8 552.5,719.9 553.3,719.6 554.2,720.0 555.1,719.7 556.0,720.5 556.8,720.3 557.7,720.2 558.6,720.0 559.5,719.9 560.3,720.0 561.2,720.0 562.1,719.7 563.0,719.7 563.8,719.9 564.7,719.7 565.6,719.8 566.5,720.0 567.3,720.0 568.2,719.7 569.1,719.8 570.0,719.3 570.8,719.7 571.7,719.5 572.6,719.6 573.5,719.8 574.4,719.4 575.2,718.8 576.0,719.3 576.8,718.9 577.6,719.3 578.5,718.8 579.3,718.9 580.1,719.0 580.9,718.9 581.8,718.9 582.7,718.6 583.5,718.2 584.4,718.1 585.3,718.1 586.4,718.7 587.5,718.9 588.4,719.1 589.2,718.9 590.1,719.7 591.0,719.7 591.9,719.8 592.7,720.1 593.6,719.8 594.5,720.1 595.4,719.6 596.2,720.1 597.1,719.8 598.0,720.1 598.9,720.2 599.8,719.8 600.6,720.0 601.5,720.0 602.4,720.0 603.3,720.3 604.1,720.1 605.0,719.6 605.9,720.0 606.8,720.1 607.6,720.4 608.5,719.4 609.4,719.8 610.3,719.7 611.1,720.1 612.0,719.4 612.9,719.4 613.8,719.8 614.6,719.9 615.5,719.5 616.4,719.8 617.3,719.6 618.1,719.6 619.0,720.0 619.8,719.6 620.6,719.8 621.4,719.3 622.3,719.5 623.1,719.5 623.9,719.8 624.7,719.6 625.5,719.2 626.4,719.6 627.2,719.6 628.0,719.4" fill="none" stroke="#800080" stroke-width="1.3" stroke-linejoin="round"/>
<polyline points="46.0,718.9 47.1,719.6 48.1,720.0 49.2,720.2 50.3,721.1 51.3,721.4 52.4,722.1 53.5,722.8 54.5,726.4 55.6,723.8 56.7,718.9 57.7,717.9 58.8,714.7 59.9,710.8 60.9,710.5 62.0,708.7 63.1,708.8 64.1,709.4 65.2,718.9 65.8,727.5 66.5,710.4 67.3,707.2 68.4,707.2 69.4,706.2 70.5,706.3 71.6,706.2 72.6,705.8 73.7,706.2 74.8,710.8 75.8,707.2 76.9,707.3 78.0,706.2 78.6,704.4 79.2,729.6 80.1,718.9 81.2,716.8 82.2,725.3 83.3,721.1 84.4,723.2 85.4,726.4 86.5,726.7 87.6,727.5 88.6,727.8 89.7,728.5 90.8,729.6 91.4,712.5 92.3,706.2 92.9,729.6 93.5,710.4 94.6,712.5 95.4,706.2 96.1,710.4 96.7,700.2 97.6,712.5 98.2,710.4 99.3,710.8 100.4,711.5 101.4,712.5 102.5,714.7 103.5,718.9 104.6,733.9 105.7,716.8 106.7,725.3 107.8,714.7 108.9,729.6 109.9,716.8 111.0,725.3 112.1,718.9 113.1,722.1 114.2,718.9 115.3,717.9 116.3,717.9 117.4,718.5 118.5,718.5 119.5,717.6 120.6,716.8 121.7,717.7 122.7,717.9 123.8,718.6 124.9,720.0 125.9,721.1 127.0,722.1 128.1,722.7 129.1,724.3 130.2,724.8 131.3,724.3 132.3,724.9 133.4,725.3 134.5,724.7 135.5,723.6 136.6,723.7 137.6,723.2 138.7,726.9 139.8,731.7 140.8,731.7 141.9,730.7 143.0,731.4 144.0,729.6 145.1,729.1 146.2,730.7 147.2,730.2 148.3,731.7 149.4,730.3 150.4,730.7 151.5,732.2 152.6,732.8 153.6,736.0 154.7,743.5 155.8,744.1 156.8,744.5 157.9,744.6 159.0,743.5 160.0,743.4 161.1,742.4 162.2,743.6 163.2,744.5 164.3,744.7 165.4,744.5 166.4,744.9 167.5,745.6 168.6,746.6 169.6,746.6 170.7,746.2 171.8,747.1 172.8,747.5 173.9,748.4 174.9,748.7 176.0,748.8 177.1,749.9 178.1,748.8 179.2,747.5 180.3,747.1 181.3,746.2 182.4,746.6 183.5,746.1 184.5,746.2 185.6,746.5 186.7,745.6 187.7,743.8 188.8,742.4 189.9,742.1 190.9,740.3 190.0,742.4 191.1,740.7 192.1,741.3 193.2,740.9 194.3,739.2 195.3,736.0 196.4,729.6 197.5,718.9 198.5,708.3 199.2,703.0 200.0,716.8 201.1,727.5 201.7,721.1 202.8,718.9 203.9,725.3 204.9,721.1 206.0,733.9 207.1,729.6 208.1,740.3 209.2,736.0 210.2,745.6 211.3,746.6 212.4,747.8 213.4,747.7 214.5,747.4 215.6,748.8 216.6,755.2 217.7,763.7 218.8,759.4 219.8,764.8 220.9,765.8 222.0,768.0 223.0,767.5 224.1,766.9 225.2,767.1 226.2,765.8 227.3,765.7 228.4,765.4 229.4,765.7 230.5,764.8 231.6,763.7 232.6,759.4 233.7,757.3 234.3,755.2 235.2,723.2 235.8,736.0 236.9,721.1 238.0,731.7 238.6,723.2 239.4,757.3 240.1,736.0 241.2,704.0 242.2,716.8 243.3,710.4 244.4,718.9 245.0,714.7 245.8,740.3 246.5,738.1 247.5,744.5 248.6,746.6 249.7,755.2 250.7,759.4 251.8,762.6 252.9,765.8 253.9,766.9 255.0,767.8 256.1,765.8 257.1,761.6 258.2,753.0 258.8,734.9 259.5,757.3 260.3,755.2 261.4,744.5 262.5,736.0 263.1,723.2 264.0,706.2 265.0,694.4 265.9,708.3 266.7,718.9 267.8,729.6 268.4,712.5 269.3,708.3 270.1,706.2 271.0,703.0 272.1,699.8 273.1,698.7 274.2,709.4 275.3,695.5 276.3,700.8 277.4,697.6 278.5,704.0 279.5,693.4 280.6,696.6 281.6,710.4 282.7,704.0 283.8,729.6 284.8,731.7 285.9,736.0 287.0,746.6 288.0,748.8 289.1,744.5 290.2,747.7 291.2,744.5 292.3,741.3 293.4,746.6 294.4,736.0 295.5,746.6 296.6,738.1 297.6,748.8 298.7,744.5 299.8,736.0 300.8,740.3 301.9,728.5 303.0,740.3 304.0,748.8 305.1,757.3 306.2,759.4 307.2,760.5 308.3,761.6 309.4,760.5 310.4,760.1 311.5,759.4 312.6,757.3 313.6,755.2 314.7,736.0 315.8,715.7 316.8,718.9 317.9,725.3 318.9,740.3 320.0,748.8 321.1,757.3 322.1,763.7 323.2,764.6 324.3,765.8 325.3,768.0 326.4,771.2 327.5,773.1 328.5,774.4 329.6,777.6 330.7,774.4 331.7,778.6 332.4,757.3 332.8,778.6 333.7,773.8 334.6,769.1 335.4,764.5 336.3,760.3 337.2,755.2 338.3,772.2 339.3,748.8 340.4,755.2 341.5,755.6 342.5,757.3 343.6,756.2 344.7,756.9 345.7,756.2 346.8,755.2 347.9,736.0 348.9,730.7 350.0,744.5 351.1,740.3 352.1,723.2 353.2,697.6 354.2,675.2 355.3,701.9 356.4,712.5 357.4,725.3 358.5,731.7 359.2,724.3 360.0,727.5 360.6,736.0 361.7,750.9 362.8,765.8 363.8,759.4 364.9,760.5 366.0,757.3 367.0,755.2 368.1,759.4 369.2,753.0 370.2,763.7 371.3,755.2 372.4,752.0 373.4,755.2 374.5,748.8 375.6,753.0 376.6,748.8 377.7,746.6 378.8,749.8 379.8,744.5 380.9,746.6 382.0,748.8 383.0,757.3 384.1,758.4 385.2,757.3 386.2,746.6 387.3,740.3 388.4,729.6 389.0,712.5 389.4,701.9 390.1,716.8 390.5,725.3 391.1,714.7 392.0,709.4 392.6,707.2 393.7,706.2 394.7,710.4 395.8,705.1 396.4,694.4 397.1,701.9 397.9,746.6 399.0,740.3 400.1,731.7 401.1,736.0 402.2,725.3 403.3,718.9 404.3,729.6 405.4,738.1 406.5,742.4 407.5,768.0 408.6,748.8 409.7,718.9 410.3,699.8 411.2,727.5 411.8,748.8 412.9,750.9 413.9,748.8 415.0,746.6 416.1,731.7 417.1,718.9 418.2,736.0 418.8,718.9 419.7,725.3 420.3,739.2 421.0,716.8 422.5,716.8 423.5,716.4 424.6,717.9 425.6,717.9 426.5,717.9 427.4,718.3 428.2,717.9 429.1,717.7 429.9,717.9 430.8,718.1 431.6,718.0 432.5,717.8 433.3,718.0 434.2,718.3 435.0,719.0 435.9,718.7 436.7,718.8 437.6,718.7 438.4,718.9 439.5,719.3 440.6,720.0 441.6,720.8 442.7,721.1 443.8,720.8 444.8,720.6 445.7,720.2 446.5,720.1 447.4,719.6 448.2,719.7 449.1,719.4 449.9,719.7 450.8,719.1 451.7,719.8 452.5,719.2 453.4,719.4 454.4,719.3 455.5,718.8 456.6,718.9 457.6,720.0 458.7,720.5 459.8,721.1 460.8,721.3 461.9,721.5 462.7,721.5 463.6,721.5 464.4,721.7 465.3,721.8 466.1,722.1 467.0,721.8 467.9,722.3 468.7,722.6 469.6,722.9 470.4,722.8 471.3,723.1 472.1,723.7 473.0,723.1 473.8,723.0 474.7,723.2 475.6,723.6 476.4,722.5 477.3,723.0 478.2,722.2 479.1,722.4 480.0,722.1 479.0,721.7 478.0,722.4 478.8,722.8 479.6,722.5 480.5,722.3 481.3,723.2 482.1,722.9 482.9,722.8 483.7,722.6 484.6,722.9 485.4,722.9 486.2,722.9 487.0,723.3 487.9,723.3 488.7,723.0 489.5,723.0 490.3,723.1 491.1,723.3 492.2,723.2 493.3,724.0 494.4,723.5 495.5,723.3 496.4,723.4 497.3,723.8 498.1,724.1 499.0,723.6 499.9,724.0 500.7,724.1 501.5,723.8 502.4,724.6 503.2,724.0 504.0,724.1 504.8,723.7 505.6,723.7 506.5,724.0 507.3,723.8 508.1,723.3 508.9,723.3 509.8,722.9 510.8,720.7 511.9,719.7 513.0,719.6 514.1,720.1 515.2,720.3 516.3,718.9 517.4,719.0 518.5,719.6 519.3,720.2 520.2,719.6 521.0,720.1 521.8,719.8 522.9,719.8 524.0,720.7 525.1,721.1 526.2,719.6" fill="none" stroke="#000" stroke-width="1.3" stroke-linejoin="round"/>
<rect x="46.1" y="659.6" width="581.40" height="119.80" fill="none" stroke="#555" stroke-width="0.9"/>
<line x1="118.78" y1="779.40" x2="118.78" y2="782.90" stroke="#333" stroke-width="0.8"/>
<text x="118.78" y="794.50" font-size="12.72" text-anchor="middle" fill="#1a1a1a" stroke="#1a1a1a" stroke-width="0.3" textLength="34.58" lengthAdjust="spacingAndGlyphs">18:00</text>
<line x1="191.45" y1="779.40" x2="191.45" y2="782.90" stroke="#333" stroke-width="0.8"/>
<text x="191.45" y="794.50" font-size="12.72" text-anchor="middle" fill="#1a1a1a" stroke="#1a1a1a" stroke-width="0.3" textLength="34.58" lengthAdjust="spacingAndGlyphs">12:00</text>
<line x1="264.12" y1="779.40" x2="264.12" y2="782.90" stroke="#333" stroke-width="0.8"/>
<text x="264.12" y="794.50" font-size="12.72" text-anchor="middle" fill="#1a1a1a" stroke="#1a1a1a" stroke-width="0.3" textLength="34.58" lengthAdjust="spacingAndGlyphs">06:00</text>
<line x1="336.80" y1="779.40" x2="336.80" y2="782.90" stroke="#333" stroke-width="0.8"/>
<text x="336.80" y="794.50" font-size="12.72" text-anchor="middle" fill="#1a1a1a" stroke="#1a1a1a" stroke-width="0.3" textLength="34.58" lengthAdjust="spacingAndGlyphs">00:00</text>
<line x1="409.48" y1="779.40" x2="409.48" y2="782.90" stroke="#333" stroke-width="0.8"/>
<text x="409.48" y="794.50" font-size="12.72" text-anchor="middle" fill="#1a1a1a" stroke="#1a1a1a" stroke-width="0.3" textLength="34.58" lengthAdjust="spacingAndGlyphs">18:00</text>
<line x1="482.15" y1="779.40" x2="482.15" y2="782.90" stroke="#333" stroke-width="0.8"/>
<text x="482.15" y="794.50" font-size="12.72" text-anchor="middle" fill="#1a1a1a" stroke="#1a1a1a" stroke-width="0.3" textLength="34.58" lengthAdjust="spacingAndGlyphs">12:00</text>
<line x1="554.82" y1="779.40" x2="554.82" y2="782.90" stroke="#333" stroke-width="0.8"/>
<text x="554.82" y="794.50" font-size="12.72" text-anchor="middle" fill="#1a1a1a" stroke="#1a1a1a" stroke-width="0.3" textLength="34.58" lengthAdjust="spacingAndGlyphs">06:00</text>
<line x1="627.50" y1="779.40" x2="627.50" y2="782.90" stroke="#333" stroke-width="0.8"/>
<text x="627.50" y="794.50" font-size="12.72" text-anchor="middle" fill="#1a1a1a" stroke="#1a1a1a" stroke-width="0.3" textLength="34.58" lengthAdjust="spacingAndGlyphs">00:00</text>
<line x1="42.60" y1="659.60" x2="46.10" y2="659.60" stroke="#333" stroke-width="0.8"/>
<text x="41.30" y="663.97" font-size="12.72" text-anchor="end" fill="#1a1a1a" stroke="#1a1a1a" stroke-width="0.3" textLength="15.27" lengthAdjust="spacingAndGlyphs">50</text>
<line x1="42.60" y1="689.55" x2="46.10" y2="689.55" stroke="#333" stroke-width="0.8"/>
<text x="41.30" y="693.92" font-size="12.72" text-anchor="end" fill="#1a1a1a" stroke="#1a1a1a" stroke-width="0.3" textLength="15.27" lengthAdjust="spacingAndGlyphs">25</text>
<line x1="42.60" y1="719.50" x2="46.10" y2="719.50" stroke="#333" stroke-width="0.8"/>
<text x="41.30" y="723.87" font-size="12.72" text-anchor="end" fill="#1a1a1a" stroke="#1a1a1a" stroke-width="0.3" textLength="7.63" lengthAdjust="spacingAndGlyphs">0</text>
<line x1="42.60" y1="749.45" x2="46.10" y2="749.45" stroke="#333" stroke-width="0.8"/>
<text x="41.30" y="753.82" font-size="12.72" text-anchor="end" fill="#1a1a1a" stroke="#1a1a1a" stroke-width="0.3" textLength="25.32" lengthAdjust="spacingAndGlyphs">−25</text>
<line x1="42.60" y1="779.40" x2="46.10" y2="779.40" stroke="#333" stroke-width="0.8"/>
<text x="41.30" y="783.77" font-size="12.72" text-anchor="end" fill="#1a1a1a" stroke="#1a1a1a" stroke-width="0.3" textLength="25.32" lengthAdjust="spacingAndGlyphs">−50</text>
<line x1="627.50" y1="665.20" x2="631.00" y2="665.20" stroke="#333" stroke-width="0.8"/>
<text x="632.60" y="669.57" font-size="12.72" text-anchor="start" fill="#800080" stroke="#800080" stroke-width="0.3" textLength="22.90" lengthAdjust="spacingAndGlyphs">500</text>
<line x1="627.50" y1="692.38" x2="631.00" y2="692.38" stroke="#333" stroke-width="0.8"/>
<text x="632.60" y="696.75" font-size="12.72" text-anchor="start" fill="#800080" stroke="#800080" stroke-width="0.3" textLength="22.90" lengthAdjust="spacingAndGlyphs">250</text>
<line x1="627.50" y1="719.56" x2="631.00" y2="719.56" stroke="#333" stroke-width="0.8"/>
<text x="632.60" y="723.93" font-size="12.72" text-anchor="start" fill="#800080" stroke="#800080" stroke-width="0.3" textLength="7.63" lengthAdjust="spacingAndGlyphs">0</text>
<line x1="627.50" y1="746.74" x2="631.00" y2="746.74" stroke="#333" stroke-width="0.8"/>
<text x="632.60" y="751.11" font-size="12.72" text-anchor="start" fill="#800080" stroke="#800080" stroke-width="0.3" textLength="32.96" lengthAdjust="spacingAndGlyphs">−250</text>
<line x1="627.50" y1="773.92" x2="631.00" y2="773.92" stroke="#333" stroke-width="0.8"/>
<text x="632.60" y="778.29" font-size="12.72" text-anchor="start" fill="#800080" stroke="#800080" stroke-width="0.3" textLength="32.96" lengthAdjust="spacingAndGlyphs">−500</text>
<text x="191.50" y="655.60" font-size="12.83" text-anchor="middle" fill="#8b1a1a" stroke="#8b1a1a" stroke-width="0.3" textLength="70.32" lengthAdjust="spacingAndGlyphs">11-05-2024</text>
<text x="482.00" y="655.60" font-size="12.83" text-anchor="middle" fill="#8b1a1a" stroke="#8b1a1a" stroke-width="0.3" textLength="70.32" lengthAdjust="spacingAndGlyphs">10-05-2024</text>
<text x="340.00" y="640.30" font-size="12.72" text-anchor="middle" fill="#8b1a1a" stroke="#8b1a1a" stroke-width="0.3" textLength="169.50" lengthAdjust="spacingAndGlyphs">(d) IMF <tspan font-style="italic">B</tspan><tspan font-style="italic" font-size="9" dy="2.2">z</tspan><tspan dy="-2.2"> and SYM-H index</tspan></text>
<text x="339.90" y="810.40" font-size="12.72" text-anchor="middle" fill="#1a1a1a" stroke="#1a1a1a" stroke-width="0.3" textLength="63.03" lengthAdjust="spacingAndGlyphs">UT (hours)</text>
<text x="10.07" y="719.60" font-size="12.72" text-anchor="middle" fill="#1a1a1a" stroke="#1a1a1a" stroke-width="0.3" textLength="66.70" lengthAdjust="spacingAndGlyphs" transform="rotate(-90 10.1 719.6)">IMF <tspan font-style="italic">B</tspan><tspan font-style="italic" font-size="9" dy="2.2">z</tspan><tspan dy="-2.2"> (nT)</tspan></text>
<text x="677.77" y="719.90" font-size="12.72" text-anchor="middle" fill="#800080" stroke="#800080" stroke-width="0.3" textLength="66.48" lengthAdjust="spacingAndGlyphs" transform="rotate(-90 677.8 719.9)">SYM/H (nT)</text>
<rect x="536.5" y="733.7" width="84.7" height="39.3" rx="2.5" fill="#fff" fill-opacity="0.8" stroke="#d5d5d5" stroke-width="0.9"/>
<line x1="540.90" y1="743.30" x2="566.90" y2="743.30" stroke="#000" stroke-width="1.3"/>
<line x1="540.90" y1="761.40" x2="566.90" y2="761.40" stroke="#800080" stroke-width="1.3"/>
<text x="577.00" y="746.80" font-size="12.72" text-anchor="start" fill="#1a1a1a" stroke="#1a1a1a" stroke-width="0.3" textLength="38.30" lengthAdjust="spacingAndGlyphs">IMF <tspan font-style="italic">B</tspan><tspan font-style="italic" font-size="9" dy="2.2">z</tspan></text>
<text x="577.00" y="765.40" font-size="12.72" text-anchor="start" fill="#1a1a1a" stroke="#1a1a1a" stroke-width="0.3" textLength="38.37" lengthAdjust="spacingAndGlyphs">SYM/H</text>
</svg>
</body></html>
